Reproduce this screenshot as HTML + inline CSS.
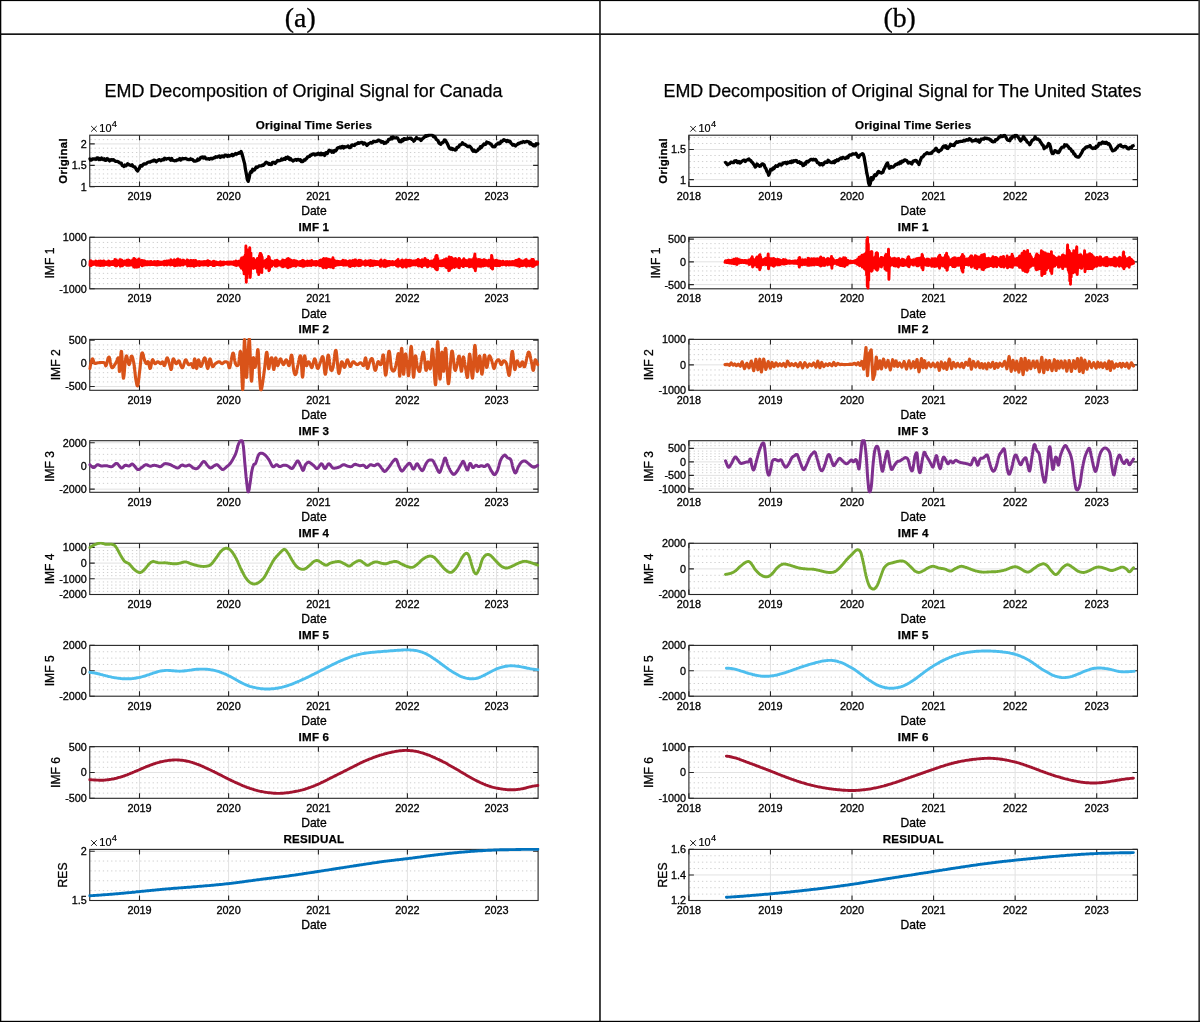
<!DOCTYPE html>
<html><head><meta charset="utf-8"><title>EMD Decomposition</title>
<style>
html,body{margin:0;padding:0;background:#fff;}
body{width:1200px;height:1022px;position:relative;overflow:hidden;font-family:'Liberation Sans', sans-serif;}
.frame{position:absolute;background:#000;}
.hdr{position:absolute;top:1px;height:33px;line-height:33px;text-align:center;font-family:"Liberation Serif",serif;font-size:27px;color:#000;}
</style></head><body>
<svg width="1200" height="1022" viewBox="0 0 1200 1022" style="position:absolute;left:0;top:0;font-family:'Liberation Sans', sans-serif">
<rect x="0" y="0" width="1200" height="1022" fill="#fff"/>
<path d="M90.35 182.51H538.1M90.35 178.22H538.1M90.35 173.93H538.1M90.35 169.64H538.1M90.35 161.06H538.1M90.35 156.78H538.1M90.35 152.49H538.1M90.35 148.2H538.1M90.35 139.62H538.1" stroke="#cfcfcf" stroke-width="1" stroke-dasharray="1.3 2.85" fill="none"/><path d="M89.75 165.35H538.1M89.75 143.91H538.1M139.5 135.2V186.5M228.6 135.2V186.5M318.4 135.2V186.5M407.4 135.2V186.5M496.5 135.2V186.5" stroke="#e2e2e2" stroke-width="1" fill="none"/>
<path d="M89.75 186.8h5M538.1 186.8h-5M89.75 165.35h5M538.1 165.35h-5M89.75 143.91h5M538.1 143.91h-5M139.5 135.2v5M139.5 186.5v-5M228.6 135.2v5M228.6 186.5v-5M318.4 135.2v5M318.4 186.5v-5M407.4 135.2v5M407.4 186.5v-5M496.5 135.2v5M496.5 186.5v-5" stroke="#262626" stroke-width="1.1" fill="none"/>
<rect x="89.75" y="135.2" width="448.35" height="51.3" fill="none" stroke="#262626" stroke-width="1.1"/>
<clipPath id="cp0_0"><rect x="88.25" y="133.7" width="451.35" height="54.3"/></clipPath>
<path d="M89.8 158.9L90.7 160.2L91.6 159.9L92.5 158.8L93.4 159.1L94.3 158.9L95.2 159.2L96.1 159.3L97.0 157.9L97.9 157.8L98.8 159.5L99.7 158.8L100.6 159.5L101.5 158.0L102.4 159.0L103.3 159.6L104.2 158.7L105.1 160.3L106.0 160.3L106.9 158.7L107.8 158.8L108.7 160.0L109.6 160.9L110.5 159.9L111.4 159.7L112.3 160.2L113.2 159.6L114.1 160.2L115.0 161.0L115.9 161.4L116.8 161.3L117.7 161.6L118.6 162.0L119.5 162.8L120.4 163.1L121.3 163.2L122.2 165.5L123.1 165.6L124.0 166.4L124.9 165.1L125.8 165.8L126.7 165.2L127.6 163.8L128.5 164.2L129.4 165.1L130.3 165.1L131.2 165.6L132.1 164.8L133.0 166.4L133.9 166.9L134.8 167.0L135.7 168.3L136.6 170.0L137.5 171.0L138.4 169.6L139.3 168.4L140.2 166.0L141.1 165.5L142.0 166.1L142.9 164.8L143.8 163.8L144.7 164.0L145.6 163.9L146.5 163.5L147.4 162.5L148.3 162.2L149.2 162.0L150.1 162.1L151.0 161.5L151.9 161.1L152.8 161.2L153.7 160.2L154.6 160.1L155.5 161.3L156.4 161.7L157.3 160.8L158.2 160.3L159.1 159.6L160.0 160.0L160.9 160.7L161.8 160.1L162.7 159.4L163.6 159.8L164.5 158.3L165.4 158.6L166.3 159.2L167.2 158.6L168.1 158.6L169.0 158.4L169.9 159.1L170.8 160.2L171.7 158.5L172.6 160.2L173.5 160.5L174.4 160.8L175.3 160.7L176.2 160.6L177.1 159.9L178.0 159.9L178.9 159.4L179.8 158.6L180.7 160.0L181.6 159.3L182.5 158.4L183.4 158.9L184.3 158.7L185.2 158.5L186.1 158.6L187.0 159.2L187.9 159.5L188.8 159.6L189.7 159.5L190.6 158.8L191.5 159.4L192.4 159.4L193.3 160.4L194.2 161.1L195.1 161.2L196.0 160.9L196.9 160.6L197.8 159.1L198.7 160.0L199.6 159.3L200.5 157.8L201.4 157.3L202.3 156.9L203.2 158.1L204.1 157.0L205.0 157.2L205.9 158.8L206.8 158.8L207.7 158.8L208.6 158.7L209.5 159.2L210.4 158.3L211.3 158.3L212.2 158.9L213.1 158.2L214.0 157.7L214.9 157.8L215.8 156.6L216.7 157.1L217.6 157.0L218.5 156.3L219.4 155.9L220.3 157.4L221.2 156.6L222.1 155.9L223.0 156.6L223.9 156.9L224.8 155.2L225.7 155.1L226.6 155.3L227.5 156.4L228.4 155.2L229.3 156.1L230.2 155.8L231.1 155.3L232.0 154.4L232.9 155.7L233.8 155.1L234.7 154.3L235.6 153.5L236.5 154.2L237.4 153.4L238.3 153.4L239.2 152.6L240.1 153.0L241.0 151.5L241.9 153.5L242.8 156.9L243.7 160.3L244.6 163.6L245.5 169.7L246.4 174.0L247.3 179.5L248.2 181.4L249.1 178.1L250.0 173.3L250.9 171.6L251.8 172.2L252.7 169.3L253.6 170.2L254.5 169.9L255.4 168.5L256.3 166.9L257.2 167.4L258.1 166.7L259.0 166.0L259.9 165.9L260.8 165.9L261.7 165.8L262.6 164.9L263.5 165.3L264.4 164.2L265.3 163.1L266.2 162.3L267.1 162.8L268.0 163.0L268.9 164.3L269.8 163.8L270.7 164.6L271.6 164.4L272.5 162.3L273.4 162.4L274.3 162.3L275.2 163.3L276.1 162.4L277.0 161.1L277.9 160.4L278.8 160.8L279.7 160.7L280.6 160.5L281.5 159.0L282.4 159.9L283.3 159.2L284.2 158.5L285.1 159.3L286.0 157.5L286.9 158.3L287.8 157.1L288.7 157.7L289.6 159.5L290.5 158.5L291.4 160.0L292.3 160.1L293.2 161.0L294.1 160.3L295.0 159.8L295.9 159.4L296.8 160.2L297.7 159.3L298.6 159.6L299.5 160.3L300.4 159.8L301.3 161.6L302.2 161.7L303.1 161.2L304.0 159.9L304.9 160.2L305.8 159.0L306.7 158.5L307.6 156.9L308.5 156.8L309.4 156.5L310.3 155.1L311.2 155.3L312.1 154.4L313.0 153.9L313.9 154.0L314.8 155.0L315.7 154.1L316.6 154.6L317.5 153.5L318.4 153.2L319.3 154.4L320.2 154.7L321.1 153.2L322.0 154.7L322.9 153.7L323.8 153.9L324.7 155.4L325.6 152.9L326.5 152.6L327.4 153.4L328.3 151.5L329.2 150.2L330.1 150.6L331.0 150.9L331.9 152.2L332.8 151.1L333.7 152.2L334.6 150.4L335.5 150.9L336.4 150.1L337.3 148.1L338.2 147.6L339.1 147.9L340.0 147.0L340.9 147.9L341.8 146.5L342.7 146.3L343.6 148.1L344.5 146.7L345.4 147.2L346.3 146.8L347.2 146.5L348.1 145.9L349.0 147.5L349.9 147.6L350.8 147.3L351.7 145.1L352.6 144.9L353.5 145.3L354.4 145.5L355.3 144.2L356.2 144.1L357.1 143.7L358.0 142.8L358.9 143.3L359.8 142.8L360.7 142.6L361.6 142.3L362.5 142.6L363.4 144.0L364.3 142.9L365.2 143.6L366.1 144.2L367.0 145.4L367.9 144.4L368.8 143.6L369.7 143.1L370.6 142.5L371.5 143.0L372.4 142.9L373.3 141.5L374.2 141.4L375.1 141.6L376.0 141.5L376.9 141.3L377.8 140.4L378.7 140.1L379.6 140.9L380.5 140.9L381.4 142.2L382.3 141.6L383.2 141.9L384.1 143.4L385.0 142.7L385.9 143.0L386.8 141.6L387.7 141.6L388.6 139.4L389.5 139.4L390.4 139.2L391.3 137.4L392.2 138.8L393.1 136.9L394.0 137.7L394.9 137.8L395.8 137.8L396.7 137.7L397.6 138.1L398.5 139.8L399.4 141.6L400.3 140.9L401.2 141.7L402.1 139.7L403.0 140.8L403.9 138.6L404.8 138.7L405.7 139.4L406.6 139.0L407.5 138.9L408.4 138.6L409.3 138.2L410.2 138.4L411.1 138.2L412.0 139.5L412.9 139.8L413.8 141.2L414.7 140.3L415.6 138.7L416.5 137.5L417.4 138.5L418.3 138.8L419.2 138.8L420.1 139.3L421.0 140.5L421.9 139.3L422.8 138.5L423.7 137.7L424.6 136.9L425.5 135.8L426.4 136.4L427.3 135.5L428.2 135.7L429.1 134.6L430.0 135.1L430.9 134.6L431.8 134.9L432.7 135.5L433.6 136.9L434.5 136.4L435.4 137.6L436.3 139.4L437.2 140.0L438.1 140.9L439.0 143.0L439.9 143.8L440.8 144.2L441.7 142.9L442.6 142.6L443.5 141.9L444.4 140.0L445.3 140.2L446.2 141.8L447.1 143.1L448.0 145.1L448.9 147.1L449.8 148.5L450.7 149.0L451.6 148.3L452.5 149.6L453.4 148.9L454.3 149.5L455.2 150.1L456.1 149.8L457.0 147.3L457.9 147.5L458.8 146.8L459.7 144.9L460.6 144.9L461.5 144.4L462.4 142.7L463.3 143.8L464.2 144.3L465.1 144.4L466.0 145.4L466.9 145.9L467.8 146.6L468.7 146.4L469.6 146.2L470.5 147.2L471.4 148.2L472.3 150.0L473.2 151.2L474.1 150.0L475.0 151.4L475.9 151.6L476.8 151.0L477.7 150.4L478.6 148.8L479.5 148.9L480.4 146.6L481.3 147.5L482.2 146.2L483.1 145.2L484.0 143.9L484.9 144.6L485.8 144.2L486.7 142.0L487.6 142.8L488.5 142.7L489.4 143.1L490.3 144.0L491.2 144.2L492.1 146.0L493.0 146.8L493.9 146.4L494.8 146.8L495.7 145.4L496.6 144.3L497.5 143.9L498.4 142.9L499.3 143.9L500.2 143.4L501.1 141.2L502.0 141.6L502.9 140.7L503.8 139.7L504.7 140.3L505.6 140.4L506.5 141.6L507.4 140.4L508.3 140.9L509.2 141.6L510.1 141.4L511.0 143.3L511.9 144.0L512.8 145.1L513.7 144.5L514.6 145.4L515.5 146.0L516.4 144.8L517.3 144.7L518.2 143.3L519.1 143.5L520.0 143.0L520.9 142.4L521.8 142.7L522.7 141.8L523.6 141.6L524.5 142.3L525.4 142.0L526.3 141.6L527.2 141.5L528.1 141.7L529.0 141.8L529.9 143.7L530.8 142.8L531.7 144.5L532.6 144.5L533.5 145.8L534.4 145.7L535.3 145.8L536.2 143.8L537.1 144.1L538.0 143.9" stroke="#000000" stroke-width="3.3" fill="none" stroke-linejoin="round" stroke-linecap="round" clip-path="url(#cp0_0)"/>
<path d="M90.35 283.65H538.1M90.35 278.5H538.1M90.35 273.35H538.1M90.35 268.2H538.1M90.35 257.9H538.1M90.35 252.75H538.1M90.35 247.6H538.1M90.35 242.45H538.1" stroke="#cfcfcf" stroke-width="1" stroke-dasharray="1.3 2.85" fill="none"/><path d="M89.75 263.05H538.1M139.5 237.3V288.8M228.6 237.3V288.8M318.4 237.3V288.8M407.4 237.3V288.8M496.5 237.3V288.8" stroke="#e2e2e2" stroke-width="1" fill="none"/>
<path d="M89.75 288.8h5M538.1 288.8h-5M89.75 263.05h5M538.1 263.05h-5M89.75 237.3h5M538.1 237.3h-5M139.5 237.3v5M139.5 288.8v-5M228.6 237.3v5M228.6 288.8v-5M318.4 237.3v5M318.4 288.8v-5M407.4 237.3v5M407.4 288.8v-5M496.5 237.3v5M496.5 288.8v-5" stroke="#262626" stroke-width="1.1" fill="none"/>
<rect x="89.75" y="237.3" width="448.35" height="51.5" fill="none" stroke="#262626" stroke-width="1.1"/>
<clipPath id="cp0_1"><rect x="88.25" y="235.8" width="451.35" height="54.5"/></clipPath>
<path d="M89.8 265.1L90.1 261.1L90.5 265.7L90.9 260.6L91.2 265.6L91.6 261.9L91.9 264.4L92.3 262.1L92.6 264.3L93.0 261.6L93.3 264.6L93.7 261.9L94.0 264.4L94.4 262.0L94.7 264.2L95.1 262.2L95.5 264.1L95.8 261.0L96.2 265.1L96.5 261.5L96.9 265.2L97.2 262.0L97.6 264.3L97.9 262.3L98.3 264.4L98.6 261.1L99.0 265.3L99.4 261.2L99.7 265.0L100.1 261.1L100.4 265.6L100.8 260.9L101.1 265.4L101.5 261.7L101.8 264.7L102.2 261.7L102.5 264.6L102.9 261.3L103.2 265.3L103.6 261.0L104.0 265.4L104.3 261.3L104.7 264.4L105.0 262.3L105.4 264.5L105.7 262.2L106.1 264.6L106.4 262.0L106.8 264.4L107.1 262.0L107.5 264.9L107.8 261.6L108.2 265.1L108.6 261.0L108.9 265.2L109.3 261.1L109.6 265.3L110.0 262.1L110.3 264.5L110.7 261.9L111.0 264.3L111.4 261.6L111.7 264.6L112.1 261.9L112.4 264.3L112.8 261.5L113.2 264.6L113.5 261.4L113.9 264.7L114.2 261.1L114.6 264.6L114.9 259.5L115.3 265.7L115.6 260.0L116.0 265.6L116.3 259.9L116.7 265.8L117.1 261.6L117.4 264.3L117.8 261.5L118.1 264.6L118.5 261.2L118.8 264.3L119.2 261.3L119.5 264.8L119.9 259.7L120.2 266.2L120.6 259.7L120.9 265.8L121.3 260.2L121.7 265.2L122.0 260.2L122.4 265.9L122.7 261.2L123.1 264.5L123.4 261.4L123.8 264.7L124.1 261.1L124.5 264.3L124.8 261.0L125.2 264.3L125.5 261.4L125.9 264.1L126.3 261.1L126.6 265.3L127.0 260.1L127.3 264.7L127.7 260.6L128.0 264.7L128.4 260.0L128.7 265.4L129.1 260.5L129.4 265.2L129.8 260.7L130.1 265.1L130.5 261.2L130.9 264.2L131.2 261.2L131.6 264.4L131.9 261.1L132.3 265.2L132.6 260.0L133.0 265.1L133.3 259.7L133.7 266.9L134.0 258.4L134.4 267.2L134.8 259.0L135.1 267.1L135.5 260.3L135.8 266.5L136.2 260.1L136.5 266.8L136.9 260.2L137.2 267.1L137.6 260.2L137.9 265.6L138.3 259.7L138.6 266.9L139.0 258.9L139.4 264.9L139.7 260.4L140.1 264.7L140.4 260.8L140.8 264.8L141.1 261.2L141.5 264.6L141.8 260.4L142.2 265.8L142.5 260.7L142.9 265.3L143.2 261.2L143.6 265.0L144.0 260.8L144.3 265.0L144.7 261.7L145.0 264.9L145.4 261.3L145.7 264.9L146.1 261.7L146.4 264.7L146.8 261.9L147.1 264.8L147.5 261.6L147.8 264.7L148.2 261.6L148.6 264.2L148.9 262.2L149.3 264.2L149.6 261.6L150.0 264.9L150.3 261.9L150.7 264.6L151.0 261.4L151.4 264.0L151.7 262.4L152.1 264.2L152.5 262.2L152.8 264.5L153.2 262.0L153.5 264.6L153.9 261.8L154.2 264.4L154.6 261.8L154.9 264.8L155.3 261.8L155.6 264.8L156.0 262.0L156.3 265.0L156.7 261.7L157.1 265.1L157.4 261.5L157.8 264.3L158.1 262.4L158.5 264.4L158.8 261.8L159.2 264.7L159.5 261.9L159.9 264.5L160.2 262.1L160.6 264.6L160.9 262.2L161.3 264.5L161.7 262.1L162.0 264.2L162.4 262.1L162.7 264.3L163.1 262.0L163.4 264.5L163.8 261.5L164.1 265.0L164.5 261.1L164.8 264.2L165.2 261.5L165.5 264.5L165.9 261.5L166.3 264.6L166.6 260.9L167.0 265.0L167.3 261.2L167.7 264.4L168.0 260.9L168.4 264.4L168.7 260.9L169.1 264.1L169.4 261.4L169.8 264.0L170.2 260.7L170.5 265.1L170.9 259.8L171.2 264.5L171.6 260.6L171.9 264.4L172.3 260.7L172.6 264.5L173.0 261.1L173.3 263.5L173.7 261.1L174.0 265.3L174.4 259.6L174.8 265.8L175.1 260.2L175.5 264.2L175.8 261.1L176.2 263.7L176.5 261.0L176.9 265.4L177.2 259.5L177.6 265.3L177.9 259.0L178.3 264.0L178.6 260.9L179.0 264.2L179.4 261.1L179.7 265.2L180.1 259.6L180.4 265.2L180.8 261.1L181.1 264.2L181.5 260.9L181.8 264.2L182.2 260.7L182.5 264.9L182.9 260.3L183.2 265.0L183.6 260.3L184.0 263.9L184.3 261.0L184.7 264.0L185.0 261.2L185.4 264.1L185.7 261.6L186.1 264.0L186.4 261.6L186.8 264.3L187.1 259.9L187.5 266.0L187.9 260.3L188.2 265.3L188.6 261.5L188.9 264.3L189.3 261.7L189.6 265.7L190.0 260.6L190.3 265.4L190.7 260.4L191.0 265.9L191.4 260.8L191.7 265.5L192.1 261.0L192.5 265.6L192.8 260.9L193.2 265.6L193.5 260.5L193.9 266.3L194.2 260.8L194.6 265.2L194.9 261.9L195.3 264.9L195.6 260.4L196.0 265.6L196.3 261.2L196.7 265.1L197.1 261.7L197.4 265.0L197.8 261.9L198.1 265.1L198.5 261.8L198.8 264.8L199.2 261.5L199.5 265.6L199.9 261.6L200.2 264.5L200.6 262.0L200.9 264.5L201.3 261.9L201.7 264.9L202.0 261.9L202.4 264.6L202.7 261.9L203.1 265.0L203.4 261.7L203.8 265.0L204.1 261.8L204.5 264.5L204.8 261.8L205.2 264.6L205.6 261.7L205.9 264.8L206.3 261.5L206.6 264.7L207.0 261.4L207.3 265.2L207.7 260.8L208.0 265.5L208.4 261.0L208.7 264.9L209.1 261.9L209.4 264.7L209.8 261.4L210.2 264.6L210.5 261.9L210.9 264.3L211.2 262.2L211.6 264.6L211.9 262.3L212.3 264.3L212.6 262.4L213.0 265.5L213.3 261.5L213.7 264.9L214.0 261.3L214.4 265.6L214.8 261.6L215.1 264.7L215.5 261.9L215.8 264.9L216.2 262.0L216.5 264.6L216.9 262.2L217.2 264.6L217.6 262.7L217.9 264.3L218.3 262.8L218.6 264.7L219.0 262.4L219.4 264.6L219.7 262.6L220.1 265.0L220.4 261.7L220.8 265.2L221.1 262.7L221.5 264.2L221.8 262.7L222.2 264.2L222.5 262.1L222.9 264.7L223.3 262.2L223.6 264.8L224.0 261.9L224.3 264.1L224.7 262.6L225.0 263.9L225.4 262.6L225.7 263.9L226.1 262.6L226.4 263.9L226.8 262.2L227.1 264.1L227.5 262.1L227.9 264.3L228.2 262.2L228.6 264.1L228.9 262.2L229.3 264.3L229.6 262.1L230.0 264.1L230.3 262.1L230.7 263.9L231.0 262.1L231.4 264.1L231.7 262.3L232.1 263.9L232.5 262.3L232.8 264.1L233.2 262.2L233.5 264.5L233.9 261.8L234.2 264.7L234.6 262.1L234.9 264.0L235.3 262.1L235.6 265.3L236.0 260.9L236.3 265.5L236.7 261.8L237.1 264.5L237.4 261.8L237.8 264.5L238.1 261.4L238.5 265.0L238.8 261.3L239.2 264.9L239.5 261.6L239.9 265.0L240.2 261.1L240.6 266.8L241.0 259.4L241.3 268.3L241.7 257.9L242.0 266.5L242.4 260.0L242.7 268.1L243.1 259.3L243.4 270.4L243.8 256.9L244.1 273.9L244.5 257.3L244.8 273.9L245.2 255.1L245.6 272.9L245.9 245.9L246.3 282.3L246.6 250.4L247.0 278.0L247.3 249.6L247.7 273.5L248.0 253.0L248.4 271.1L248.7 253.3L249.1 273.2L249.4 253.3L249.8 247.8L250.2 277.5L250.5 272.3L250.9 253.1L251.2 267.9L251.6 259.6L251.9 267.6L252.3 260.3L252.6 267.9L253.0 259.5L253.3 268.5L253.7 258.5L254.0 267.6L254.4 260.9L254.8 267.7L255.1 260.5L255.5 267.6L255.8 260.4L256.2 268.1L256.5 260.3L256.9 268.1L257.2 258.8L257.6 272.3L257.9 258.7L258.3 258.3L258.7 274.6L259.0 270.2L259.4 255.7L259.7 272.3L260.1 253.5L260.4 268.8L260.8 253.5L261.1 270.8L261.5 255.0L261.8 272.6L262.2 257.3L262.5 266.9L262.9 261.3L263.3 266.5L263.6 261.5L264.0 266.0L264.3 261.5L264.7 266.0L265.0 260.8L265.4 265.6L265.7 260.9L266.1 268.1L266.4 260.2L266.8 267.5L267.1 259.1L267.5 266.8L267.9 260.3L268.2 267.2L268.6 256.4L268.9 270.8L269.3 257.4L269.6 269.7L270.0 259.9L270.3 266.5L270.7 260.7L271.0 266.5L271.4 261.1L271.7 266.2L272.1 261.2L272.5 264.6L272.8 261.9L273.2 264.9L273.5 262.1L273.9 264.9L274.2 261.9L274.6 264.8L274.9 260.7L275.3 266.1L275.6 260.8L276.0 266.2L276.4 260.7L276.7 266.1L277.1 260.2L277.4 265.4L277.8 261.0L278.1 265.4L278.5 261.1L278.8 264.8L279.2 262.1L279.5 264.6L279.9 262.2L280.2 265.0L280.6 261.8L281.0 264.9L281.3 261.5L281.7 266.3L282.0 260.9L282.4 266.0L282.7 260.0L283.1 266.8L283.4 261.2L283.8 265.1L284.1 261.1L284.5 265.2L284.8 260.4L285.2 266.1L285.6 260.4L285.9 266.0L286.3 260.2L286.6 266.4L287.0 259.2L287.3 267.3L287.7 258.8L288.0 267.8L288.4 258.5L288.7 267.2L289.1 259.4L289.4 266.9L289.8 259.5L290.2 266.7L290.5 260.0L290.9 265.7L291.2 260.1L291.6 266.2L291.9 260.9L292.3 265.3L292.6 261.2L293.0 265.4L293.3 260.7L293.7 265.7L294.1 260.4L294.4 265.6L294.8 261.0L295.1 265.7L295.5 261.0L295.8 266.2L296.2 261.2L296.5 264.9L296.9 261.2L297.2 265.1L297.6 261.8L297.9 265.1L298.3 261.9L298.7 264.7L299.0 261.9L299.4 265.1L299.7 262.2L300.1 265.5L300.4 261.4L300.8 265.6L301.1 261.7L301.5 265.9L301.8 261.6L302.2 265.7L302.5 260.4L302.9 266.4L303.3 260.8L303.6 266.4L304.0 261.0L304.3 266.1L304.7 261.5L305.0 265.2L305.4 262.0L305.7 265.1L306.1 262.0L306.4 265.2L306.8 261.5L307.1 265.5L307.5 261.0L307.9 265.4L308.2 261.4L308.6 265.0L308.9 261.4L309.3 265.1L309.6 261.3L310.0 265.4L310.3 261.5L310.7 265.0L311.0 261.0L311.4 265.5L311.8 260.5L312.1 264.4L312.5 261.9L312.8 264.5L313.2 262.1L313.5 264.7L313.9 261.6L314.2 264.6L314.6 261.6L314.9 264.4L315.3 262.0L315.6 265.2L316.0 261.4L316.4 265.2L316.7 261.5L317.1 264.5L317.4 261.8L317.8 264.5L318.1 262.0L318.5 264.3L318.8 261.9L319.2 265.4L319.5 260.7L319.9 265.8L320.2 260.2L320.6 265.6L321.0 259.9L321.3 265.6L321.7 261.4L322.0 264.8L322.4 261.2L322.7 267.2L323.1 259.3L323.4 267.9L323.8 258.5L324.1 267.0L324.5 260.7L324.8 266.2L325.2 259.8L325.6 266.7L325.9 258.6L326.3 267.9L326.6 258.8L327.0 267.0L327.3 260.8L327.7 265.6L328.0 261.2L328.4 266.5L328.7 259.1L329.1 266.2L329.5 259.9L329.8 266.6L330.2 260.1L330.5 267.1L330.9 259.6L331.2 266.8L331.6 261.5L331.9 264.9L332.3 260.6L332.6 266.4L333.0 257.8L333.3 267.9L333.7 260.0L334.1 265.6L334.4 261.1L334.8 264.5L335.1 260.9L335.5 265.5L335.8 261.2L336.2 265.0L336.5 261.6L336.9 265.0L337.2 261.3L337.6 264.6L337.9 261.4L338.3 264.8L338.7 261.5L339.0 264.8L339.4 261.6L339.7 264.3L340.1 261.8L340.4 264.4L340.8 261.7L341.1 264.5L341.5 261.4L341.8 264.6L342.2 261.6L342.5 264.5L342.9 260.3L343.3 265.2L343.6 260.9L344.0 265.1L344.3 260.7L344.7 264.4L345.0 261.5L345.4 264.8L345.7 260.6L346.1 265.1L346.4 261.8L346.8 264.2L347.2 261.8L347.5 264.3L347.9 261.8L348.2 264.2L348.6 261.7L348.9 265.8L349.3 260.9L349.6 266.3L350.0 260.8L350.3 266.6L350.7 261.5L351.0 264.9L351.4 261.6L351.8 264.9L352.1 260.9L352.5 265.6L352.8 260.5L353.2 265.3L353.5 261.2L353.9 265.0L354.2 260.9L354.6 266.0L354.9 259.9L355.3 265.6L355.6 259.9L356.0 264.2L356.4 261.9L356.7 264.1L357.1 261.1L357.4 265.2L357.8 261.2L358.1 265.0L358.5 260.7L358.8 265.8L359.2 260.3L359.5 265.6L359.9 260.5L360.2 265.6L360.6 260.6L361.0 265.1L361.3 260.8L361.7 264.3L362.0 261.7L362.4 264.4L362.7 262.0L363.1 264.0L363.4 261.9L363.8 264.3L364.1 261.8L364.5 264.4L364.9 261.3L365.2 265.4L365.6 260.8L365.9 264.7L366.3 261.4L366.6 264.7L367.0 261.7L367.3 264.1L367.7 261.7L368.0 264.1L368.4 261.0L368.7 264.8L369.1 261.0L369.5 265.1L369.8 260.7L370.2 265.9L370.5 260.5L370.9 265.3L371.2 260.8L371.6 265.1L371.9 261.0L372.3 264.0L372.6 261.9L373.0 265.5L373.3 261.3L373.7 264.8L374.1 261.1L374.4 264.8L374.8 261.2L375.1 264.5L375.5 261.4L375.8 264.8L376.2 261.4L376.5 264.6L376.9 261.6L377.2 264.6L377.6 261.7L377.9 264.6L378.3 261.7L378.7 264.5L379.0 262.1L379.4 264.7L379.7 262.2L380.1 266.2L380.4 260.7L380.8 266.3L381.1 260.0L381.5 264.9L381.8 262.0L382.2 264.6L382.6 261.6L382.9 265.2L383.3 261.7L383.6 266.2L384.0 260.9L384.3 266.3L384.7 260.3L385.0 266.3L385.4 260.7L385.7 266.5L386.1 261.3L386.4 265.9L386.8 261.2L387.2 265.9L387.5 262.0L387.9 265.1L388.2 261.7L388.6 264.9L388.9 261.4L389.3 265.4L389.6 261.5L390.0 264.6L390.3 262.1L390.7 264.6L391.0 262.2L391.4 264.5L391.8 262.1L392.1 264.8L392.5 261.5L392.8 264.8L393.2 262.0L393.5 264.9L393.9 262.0L394.2 264.6L394.6 262.3L394.9 264.6L395.3 262.0L395.6 264.9L396.0 261.2L396.4 265.7L396.7 261.5L397.1 265.9L397.4 260.3L397.8 266.4L398.1 259.5L398.5 266.2L398.8 261.1L399.2 265.1L399.5 261.9L399.9 265.1L400.3 262.1L400.6 265.4L401.0 261.5L401.3 265.9L401.7 260.1L402.0 266.7L402.4 259.9L402.7 267.1L403.1 261.1L403.4 266.5L403.8 260.9L404.1 265.7L404.5 261.1L404.9 265.9L405.2 260.5L405.6 266.3L405.9 260.0L406.3 267.1L406.6 260.2L407.0 265.8L407.3 261.2L407.7 265.4L408.0 260.7L408.4 265.5L408.7 260.9L409.1 265.9L409.5 260.3L409.8 266.0L410.2 260.7L410.5 265.1L410.9 260.6L411.2 265.4L411.6 260.8L411.9 265.0L412.3 261.1L412.6 264.9L413.0 261.1L413.3 264.8L413.7 261.0L414.1 264.7L414.4 261.1L414.8 264.4L415.1 261.1L415.5 265.0L415.8 260.7L416.2 264.7L416.5 260.6L416.9 264.7L417.2 260.8L417.6 264.4L418.0 259.5L418.3 266.0L418.7 259.8L419.0 265.5L419.4 260.6L419.7 265.2L420.1 260.7L420.4 265.8L420.8 260.4L421.1 265.7L421.5 260.1L421.8 266.8L422.2 259.6L422.6 265.4L422.9 260.2L423.3 265.6L423.6 259.9L424.0 265.1L424.3 259.8L424.7 265.3L425.0 258.5L425.4 265.3L425.7 259.5L426.1 265.0L426.4 260.9L426.8 265.4L427.2 260.4L427.5 266.9L427.9 260.3L428.2 266.5L428.6 261.5L428.9 265.6L429.3 261.5L429.6 265.2L430.0 261.6L430.3 265.2L430.7 262.1L431.0 265.6L431.4 260.9L431.8 266.2L432.1 261.1L432.5 265.9L432.8 261.0L433.2 266.5L433.5 260.9L433.9 266.7L434.2 259.8L434.6 266.6L434.9 260.6L435.3 268.4L435.7 256.5L436.0 269.2L436.4 255.5L436.7 269.8L437.1 255.7L437.4 269.7L437.8 258.7L438.1 265.3L438.5 261.5L438.8 265.5L439.2 261.3L439.5 265.5L439.9 261.3L440.3 265.0L440.6 261.0L441.0 265.8L441.3 261.0L441.7 265.5L442.0 260.7L442.4 265.7L442.7 260.7L443.1 265.5L443.4 260.6L443.8 265.4L444.1 259.8L444.5 265.8L444.9 260.6L445.2 265.7L445.6 259.4L445.9 267.1L446.3 258.7L446.6 267.8L447.0 259.9L447.3 265.2L447.7 259.9L448.0 266.2L448.4 259.2L448.7 270.8L449.1 257.0L449.5 270.4L449.8 259.1L450.2 266.5L450.5 259.6L450.9 267.2L451.2 257.5L451.6 268.3L451.9 258.0L452.3 265.8L452.6 258.8L453.0 265.5L453.4 259.6L453.7 265.5L454.1 259.6L454.4 267.5L454.8 258.9L455.1 266.7L455.5 258.4L455.8 266.6L456.2 259.4L456.5 266.2L456.9 259.9L457.2 265.5L457.6 260.0L458.0 265.6L458.3 260.1L458.7 267.6L459.0 258.5L459.4 267.7L459.7 259.2L460.1 265.3L460.4 261.1L460.8 265.4L461.1 260.7L461.5 265.6L461.8 260.9L462.2 265.3L462.6 261.0L462.9 266.5L463.3 259.7L463.6 266.5L464.0 258.7L464.3 265.0L464.7 261.3L465.0 265.5L465.4 261.4L465.7 265.1L466.1 260.5L466.4 265.7L466.8 261.0L467.2 264.9L467.5 261.2L467.9 265.1L468.2 261.3L468.6 266.1L468.9 259.6L469.3 266.8L469.6 259.8L470.0 266.6L470.3 259.9L470.7 266.2L471.1 259.8L471.4 266.1L471.8 260.7L472.1 266.3L472.5 260.0L472.8 266.5L473.2 259.5L473.5 267.0L473.9 258.0L474.2 268.1L474.6 255.9L474.9 253.9L475.3 270.8L475.7 267.0L476.0 258.8L476.4 266.5L476.7 259.7L477.1 265.6L477.4 260.8L477.8 266.0L478.1 260.4L478.5 265.8L478.8 259.5L479.2 266.1L479.5 259.9L479.9 266.3L480.3 259.8L480.6 266.4L481.0 260.7L481.3 266.3L481.7 260.6L482.0 265.1L482.4 260.7L482.7 264.9L483.1 260.2L483.4 266.0L483.8 259.8L484.1 265.4L484.5 259.8L484.9 265.6L485.2 261.1L485.6 265.0L485.9 260.5L486.3 265.3L486.6 260.6L487.0 265.3L487.3 261.2L487.7 264.9L488.0 261.3L488.4 266.1L488.8 260.3L489.1 265.7L489.5 260.3L489.8 265.9L490.2 260.7L490.5 264.8L490.9 260.7L491.2 267.9L491.6 255.4L491.9 256.4L492.3 268.8L492.6 269.0L493.0 259.8L493.4 265.8L493.7 261.0L494.1 265.1L494.4 261.2L494.8 265.3L495.1 260.8L495.5 265.5L495.8 260.9L496.2 265.6L496.5 260.3L496.9 265.7L497.2 260.6L497.6 265.6L498.0 261.2L498.3 265.2L498.7 261.3L499.0 265.2L499.4 261.2L499.7 265.7L500.1 261.2L500.4 265.1L500.8 262.2L501.1 264.3L501.5 262.3L501.8 264.1L502.2 261.4L502.6 264.8L502.9 261.2L503.3 264.2L503.6 262.2L504.0 264.4L504.3 262.3L504.7 264.1L505.0 262.1L505.4 264.9L505.7 261.7L506.1 265.2L506.5 261.6L506.8 264.5L507.2 261.8L507.5 264.6L507.9 261.8L508.2 264.6L508.6 261.9L508.9 265.1L509.3 261.8L509.6 264.9L510.0 261.8L510.3 264.5L510.7 262.0L511.1 264.7L511.4 261.7L511.8 264.9L512.1 261.7L512.5 264.8L512.8 261.5L513.2 264.8L513.5 261.8L513.9 264.8L514.2 261.8L514.6 265.0L514.9 261.2L515.3 265.2L515.7 260.5L516.0 264.6L516.4 261.4L516.7 264.7L517.1 260.3L517.4 265.9L517.8 260.0L518.1 264.4L518.5 261.9L518.8 264.7L519.2 259.1L519.5 266.5L519.9 261.5L520.3 264.5L520.6 261.3L521.0 265.7L521.3 260.7L521.7 265.6L522.0 260.9L522.4 265.3L522.7 261.2L523.1 265.5L523.4 260.9L523.8 264.8L524.2 260.7L524.5 264.8L524.9 261.2L525.2 265.1L525.6 259.6L525.9 266.0L526.3 259.5L526.6 266.2L527.0 261.0L527.3 265.3L527.7 261.2L528.0 265.1L528.4 261.3L528.8 265.4L529.1 261.1L529.5 265.8L529.8 261.1L530.2 265.3L530.5 261.1L530.9 265.2L531.2 260.6L531.6 265.5L531.9 259.5L532.3 266.4L532.6 259.5L533.0 266.5L533.4 259.5L533.7 266.2L534.1 261.4L534.4 265.3L534.8 261.6L535.1 265.1L535.5 262.2L535.8 264.5L536.2 262.0L536.5 264.4L536.9 261.9L537.2 264.4L537.6 262.0" stroke="#ff0000" stroke-width="2.9" fill="none" stroke-linejoin="round" stroke-linecap="round" clip-path="url(#cp0_1)"/>
<path d="M90.35 381.92H538.1M90.35 377.3H538.1M90.35 372.67H538.1M90.35 368.04H538.1M90.35 358.79H538.1M90.35 354.16H538.1M90.35 349.53H538.1M90.35 344.91H538.1" stroke="#cfcfcf" stroke-width="1" stroke-dasharray="1.3 2.85" fill="none"/><path d="M89.75 386.55H538.1M89.75 363.42H538.1M139.5 339.4V390.3M228.6 339.4V390.3M318.4 339.4V390.3M407.4 339.4V390.3M496.5 339.4V390.3" stroke="#e2e2e2" stroke-width="1" fill="none"/>
<path d="M89.75 386.55h5M538.1 386.55h-5M89.75 363.42h5M538.1 363.42h-5M89.75 340.28h5M538.1 340.28h-5M139.5 339.4v5M139.5 390.3v-5M228.6 339.4v5M228.6 390.3v-5M318.4 339.4v5M318.4 390.3v-5M407.4 339.4v5M407.4 390.3v-5M496.5 339.4v5M496.5 390.3v-5" stroke="#262626" stroke-width="1.1" fill="none"/>
<rect x="89.75" y="339.4" width="448.35" height="50.9" fill="none" stroke="#262626" stroke-width="1.1"/>
<clipPath id="cp0_2"><rect x="88.25" y="337.9" width="451.35" height="53.9"/></clipPath>
<path d="M89.8 368.5L89.8 368.2L89.9 368.0L90.0 367.6L90.1 367.3L90.2 366.8L90.2 366.4L90.3 365.9L90.4 365.5L90.6 365.0L90.7 364.4L90.8 363.9L90.9 363.4L91.0 362.9L91.1 362.4L91.3 361.9L91.4 361.4L91.5 360.9L91.6 360.5L91.7 360.1L91.9 359.8L92.0 359.5L92.1 359.2L92.2 359.0L92.3 358.9L92.5 358.8L92.7 358.9L92.8 359.1L93.0 359.5L93.2 360.0L93.4 360.5L93.5 361.1L93.7 361.7L93.9 362.2L94.1 362.7L94.3 363.0L94.6 363.3L94.9 363.4L95.3 363.5L95.7 363.4L96.1 363.3L96.5 363.2L96.9 363.0L97.4 362.9L97.9 362.8L98.4 362.7L98.8 362.7L99.2 362.7L99.6 362.6L100.0 362.6L100.5 362.6L100.9 362.5L101.4 362.5L101.9 362.5L102.3 362.5L102.7 362.5L103.2 362.5L103.5 362.6L103.9 362.6L104.2 362.7L104.6 363.0L104.9 363.5L105.1 364.1L105.3 364.7L105.5 365.2L105.6 365.6L105.8 365.8L106.1 365.6L106.2 365.4L106.3 365.2L106.4 364.8L106.5 364.5L106.7 364.0L106.8 363.5L106.9 363.0L107.1 362.5L107.2 361.9L107.3 361.4L107.5 360.8L107.6 360.2L107.7 359.7L107.9 359.2L108.0 358.7L108.2 358.2L108.3 357.8L108.4 357.5L108.6 357.3L108.7 357.1L108.8 357.0L109.0 357.0L109.1 357.0L109.2 357.2L109.3 357.4L109.4 357.6L109.5 357.9L109.6 358.3L109.7 358.7L109.8 359.1L109.9 359.6L110.0 360.1L110.1 360.6L110.2 361.1L110.3 361.7L110.4 362.2L110.5 362.8L110.6 363.3L110.7 363.9L110.8 364.4L110.9 364.9L111.0 365.3L111.1 365.8L111.2 366.2L111.4 366.6L111.5 366.9L111.6 367.1L111.7 367.4L111.8 367.5L112.1 367.7L112.3 367.7L112.6 367.6L112.9 367.4L113.2 367.1L113.5 366.8L113.8 366.4L114.0 365.9L114.3 365.5L114.6 365.0L114.9 364.5L115.2 364.1L115.4 363.7L115.7 363.3L115.9 362.9L116.1 362.5L116.3 362.0L116.6 361.4L116.8 360.9L117.0 360.3L117.2 359.8L117.4 359.2L117.6 358.8L117.8 358.4L117.9 358.0L118.1 357.8L118.3 357.7L118.4 357.7L118.5 357.9L118.6 358.1L118.7 358.3L118.7 358.6L118.7 358.9L118.8 359.3L118.8 359.7L118.9 360.1L118.9 360.6L118.9 361.1L118.9 361.7L119.0 362.2L119.0 362.8L119.0 363.4L119.0 364.0L119.1 364.6L119.1 365.2L119.1 365.9L119.1 366.4L119.1 367.0L119.1 367.6L119.2 368.1L119.2 368.7L119.2 369.1L119.2 369.6L119.2 370.0L119.3 370.4L119.3 370.7L119.3 370.9L119.4 371.2L119.4 371.3L119.4 371.4L119.5 371.4L119.5 371.3L119.5 371.2L119.6 371.1L119.6 370.9L119.6 370.7L119.7 370.5L119.7 370.2L119.7 369.9L119.8 369.5L119.8 369.1L119.8 368.7L119.9 368.3L119.9 367.8L119.9 367.3L120.0 366.8L120.0 366.3L120.0 365.7L120.1 365.2L120.1 364.6L120.2 364.0L120.2 363.4L120.2 362.9L120.3 362.2L120.3 361.6L120.4 361.0L120.4 360.4L120.4 359.8L120.5 359.2L120.5 358.6L120.6 358.1L120.6 357.5L120.6 356.9L120.7 356.4L120.7 355.9L120.8 355.3L120.8 354.9L120.9 354.4L120.9 353.9L120.9 353.5L121.0 353.1L121.0 352.8L121.1 352.4L121.1 352.1L121.1 351.9L121.2 351.7L121.2 351.5L121.3 351.3L121.3 351.2L121.3 351.2L121.4 351.2L121.4 351.2L121.4 351.3L121.5 351.4L121.5 351.5L121.5 351.6L121.6 351.8L121.6 352.0L121.6 352.3L121.6 352.5L121.7 352.8L121.7 353.1L121.7 353.4L121.8 353.7L121.8 354.1L121.8 354.5L121.8 354.9L121.9 355.3L121.9 355.7L121.9 356.2L122.0 356.6L122.0 357.1L122.0 357.6L122.0 358.1L122.1 358.6L122.1 359.1L122.1 359.7L122.2 360.2L122.2 360.7L122.2 361.3L122.2 361.8L122.3 362.4L122.3 363.0L122.3 363.5L122.4 364.1L122.4 364.7L122.4 365.2L122.4 365.8L122.5 366.4L122.5 366.9L122.5 367.5L122.6 368.1L122.6 368.6L122.6 369.1L122.6 369.7L122.7 370.2L122.7 370.7L122.7 371.2L122.8 371.7L122.8 372.2L122.8 372.7L122.8 373.2L122.9 373.6L122.9 374.0L122.9 374.4L123.0 374.8L123.0 375.2L123.0 375.6L123.1 375.9L123.1 376.2L123.1 376.5L123.1 376.8L123.2 377.1L123.2 377.3L123.2 377.5L123.3 377.7L123.3 377.8L123.3 378.0L123.3 378.0L123.4 378.1L123.4 378.2L123.5 378.2L123.5 378.1L123.6 378.0L123.6 377.9L123.7 377.7L123.7 377.4L123.8 377.2L123.8 376.8L123.9 376.5L123.9 376.1L124.0 375.7L124.0 375.3L124.1 374.8L124.1 374.3L124.2 373.8L124.2 373.3L124.3 372.8L124.3 372.2L124.4 371.7L124.4 371.1L124.5 370.5L124.5 369.9L124.5 369.3L124.6 368.8L124.6 368.2L124.7 367.6L124.7 367.1L124.8 366.5L124.8 366.0L124.9 365.4L124.9 364.9L125.0 364.4L125.0 364.0L125.0 363.5L125.1 363.1L125.1 362.7L125.2 362.4L125.2 362.0L125.3 361.8L125.4 361.0L125.5 360.3L125.6 359.6L125.6 358.9L125.7 358.3L125.8 357.8L125.9 357.3L126.0 356.9L126.1 356.6L126.1 356.3L126.2 356.1L126.3 356.0L126.5 355.9L126.6 356.0L126.7 356.1L126.8 356.3L126.9 356.6L127.0 356.9L127.1 357.3L127.2 357.8L127.3 358.3L127.4 358.8L127.5 359.4L127.6 359.9L127.8 360.5L127.9 361.1L128.0 361.6L128.1 362.2L128.3 362.7L128.4 363.1L128.5 363.6L128.6 363.9L128.7 364.2L128.9 364.4L129.0 364.6L129.1 364.6L129.2 364.6L129.3 364.4L129.4 364.2L129.5 363.9L129.7 363.5L129.8 363.1L129.9 362.6L130.0 362.1L130.1 361.5L130.2 361.0L130.3 360.4L130.5 359.8L130.6 359.2L130.7 358.7L130.8 358.1L130.9 357.6L131.0 357.2L131.1 356.8L131.2 356.5L131.4 356.2L131.5 356.1L131.6 356.0L131.7 356.0L131.8 356.1L131.9 356.2L132.1 356.4L132.2 356.6L132.3 356.9L132.4 357.2L132.5 357.5L132.6 357.9L132.8 358.3L132.9 358.8L133.0 359.3L133.1 359.8L133.2 360.3L133.3 360.8L133.4 361.4L133.6 361.9L133.7 362.5L133.8 363.1L133.9 363.7L133.9 364.0L134.0 364.3L134.0 364.6L134.1 365.0L134.1 365.4L134.2 365.8L134.3 366.1L134.3 366.5L134.4 367.0L134.4 367.4L134.5 367.8L134.5 368.2L134.6 368.7L134.6 369.1L134.7 369.6L134.7 370.0L134.8 370.5L134.8 370.9L134.9 371.4L134.9 371.9L135.0 372.3L135.0 372.8L135.1 373.2L135.1 373.7L135.2 374.1L135.2 374.5L135.3 375.0L135.3 375.4L135.3 375.8L135.4 376.2L135.4 376.6L135.5 377.0L135.5 377.4L135.6 377.7L135.6 378.1L135.7 378.4L135.7 378.7L135.8 379.0L135.9 379.7L136.0 380.3L136.1 381.0L136.2 381.6L136.4 382.3L136.5 382.9L136.6 383.4L136.7 384.0L136.8 384.5L136.9 384.9L137.0 385.2L137.1 385.5L137.3 385.8L137.4 385.9L137.5 385.9L137.6 385.9L137.7 385.7L137.8 385.6L137.8 385.4L137.9 385.3L137.9 385.1L138.0 384.8L138.0 384.6L138.1 384.3L138.1 384.0L138.2 383.7L138.2 383.4L138.3 383.0L138.3 382.6L138.4 382.2L138.4 381.8L138.5 381.4L138.5 381.0L138.6 380.5L138.6 380.1L138.7 379.6L138.8 379.1L138.8 378.7L138.9 378.2L138.9 377.7L139.0 377.2L139.0 376.7L139.1 376.2L139.1 375.7L139.2 375.2L139.2 374.7L139.3 374.2L139.3 373.7L139.4 373.2L139.5 372.7L139.5 372.3L139.6 371.8L139.6 371.3L139.7 371.0L139.7 370.6L139.8 370.2L139.8 369.8L139.9 369.3L139.9 368.9L140.0 368.5L140.0 368.0L140.1 367.5L140.1 367.1L140.2 366.6L140.2 366.1L140.3 365.6L140.3 365.1L140.4 364.6L140.4 364.1L140.5 363.6L140.5 363.1L140.6 362.6L140.6 362.1L140.7 361.6L140.7 361.2L140.8 360.7L140.8 360.2L140.9 359.7L140.9 359.3L141.0 358.8L141.0 358.4L141.1 357.9L141.1 357.5L141.2 357.1L141.2 356.7L141.3 356.3L141.3 355.9L141.4 355.6L141.5 355.2L141.5 354.9L141.6 354.6L141.6 354.3L141.7 354.1L141.7 353.8L141.8 353.6L141.8 353.4L141.9 353.3L141.9 353.1L142.1 352.9L142.2 352.8L142.4 352.9L142.5 353.1L142.7 353.4L142.8 353.8L143.0 354.3L143.1 354.8L143.3 355.4L143.4 356.0L143.6 356.7L143.7 357.3L143.9 357.9L144.0 358.5L144.2 359.0L144.3 359.5L144.4 359.8L144.6 360.4L144.8 360.9L145.0 361.4L145.2 361.9L145.4 362.3L145.6 362.7L145.8 363.0L146.0 363.3L146.1 363.5L146.3 363.7L146.7 363.6L147.0 363.1L147.3 362.5L147.6 362.0L147.9 361.6L148.3 361.8L148.4 361.9L148.5 362.2L148.6 362.6L148.7 363.1L148.8 363.6L148.9 364.1L149.0 364.7L149.1 365.2L149.2 365.8L149.4 366.4L149.5 366.9L149.6 367.3L149.7 367.8L149.8 368.1L149.9 368.3L150.0 368.5L150.2 368.5L150.3 368.4L150.4 368.2L150.5 368.0L150.6 367.7L150.7 367.3L150.8 366.9L150.9 366.4L151.0 365.9L151.1 365.4L151.2 364.9L151.3 364.3L151.4 363.8L151.5 363.2L151.6 362.7L151.7 362.2L151.8 361.7L151.9 361.3L152.0 360.9L152.1 360.5L152.3 360.2L152.4 360.0L152.5 359.8L152.7 359.7L152.9 359.9L153.1 360.1L153.3 360.6L153.6 361.1L153.8 361.6L154.0 362.2L154.3 362.7L154.5 363.2L154.7 363.5L155.0 363.7L155.3 363.7L155.7 363.5L156.0 363.2L156.4 362.8L156.7 362.4L157.1 362.1L157.5 361.8L157.8 361.8L158.2 361.8L158.6 362.1L159.0 362.4L159.3 362.7L159.7 363.1L160.1 363.4L160.4 363.6L160.7 363.7L161.1 363.5L161.4 363.1L161.7 362.6L162.0 362.1L162.3 361.8L162.6 361.8L162.8 362.0L163.0 362.3L163.2 362.8L163.4 363.4L163.6 364.0L163.7 364.6L163.9 365.1L164.1 365.5L164.3 365.6L164.5 365.6L164.7 365.4L164.8 365.2L164.9 364.9L165.0 364.6L165.1 364.2L165.3 363.7L165.4 363.2L165.5 362.7L165.6 362.2L165.8 361.6L165.9 361.1L166.0 360.6L166.2 360.1L166.3 359.6L166.4 359.2L166.5 358.8L166.7 358.5L166.8 358.2L166.9 358.0L167.0 357.9L167.2 357.9L167.4 358.0L167.5 358.2L167.7 358.5L167.8 358.8L168.0 359.3L168.1 359.7L168.3 360.2L168.5 360.7L168.6 361.3L168.8 361.8L168.9 362.3L169.1 362.8L169.2 363.3L169.3 363.7L169.5 364.1L169.6 364.6L169.7 365.1L169.9 365.6L170.0 366.2L170.1 366.8L170.3 367.3L170.4 367.8L170.5 368.3L170.6 368.7L170.8 369.1L170.9 369.3L171.0 369.5L171.1 369.5L171.3 369.4L171.3 369.3L171.4 369.1L171.5 368.8L171.5 368.5L171.6 368.2L171.7 367.8L171.7 367.3L171.8 366.9L171.9 366.4L172.0 365.9L172.0 365.3L172.1 364.8L172.2 364.2L172.2 363.7L172.3 363.1L172.4 362.6L172.4 362.0L172.5 361.5L172.6 361.0L172.7 360.6L172.7 360.2L172.8 359.8L172.9 359.5L173.0 359.2L173.1 359.0L173.2 358.9L173.4 358.8L173.6 358.8L173.8 359.1L174.0 359.5L174.2 360.0L174.4 360.5L174.7 361.1L174.9 361.7L175.1 362.3L175.4 362.8L175.6 363.2L175.8 363.5L176.0 363.7L176.3 363.7L176.6 363.5L176.9 363.1L177.2 362.7L177.5 362.2L177.8 361.8L178.1 361.3L178.4 361.0L178.7 360.8L178.9 360.8L179.1 360.9L179.3 361.2L179.5 361.5L179.6 361.9L179.8 362.4L179.9 362.9L180.1 363.4L180.2 363.9L180.4 364.4L180.5 364.9L180.7 365.3L180.8 365.6L181.1 366.2L181.4 366.8L181.7 367.3L182.0 367.7L182.4 367.8L182.8 367.5L182.9 367.3L183.0 367.1L183.1 366.8L183.3 366.4L183.4 366.0L183.5 365.5L183.7 365.0L183.8 364.5L184.0 364.0L184.1 363.5L184.3 363.0L184.4 362.5L184.6 362.0L184.7 361.5L184.9 361.1L185.0 360.7L185.2 360.4L185.3 360.1L185.5 359.9L185.6 359.8L185.9 359.8L186.1 359.9L186.3 360.2L186.5 360.6L186.7 361.0L187.0 361.5L187.2 362.1L187.4 362.6L187.6 363.2L187.8 363.7L188.1 364.1L188.3 364.4L188.5 364.6L188.9 364.8L189.4 364.6L189.8 364.4L190.2 364.0L190.6 363.8L191.0 363.6L191.4 363.7L191.6 363.9L191.8 364.3L192.0 364.9L192.2 365.5L192.4 366.1L192.6 366.6L192.8 367.1L193.0 367.5L193.1 367.6L193.3 367.5L193.4 367.3L193.4 367.1L193.5 366.8L193.6 366.4L193.6 365.9L193.7 365.4L193.8 364.9L193.8 364.3L193.9 363.7L193.9 363.1L194.0 362.5L194.1 362.0L194.1 361.4L194.2 360.9L194.2 360.4L194.3 359.9L194.4 359.6L194.4 359.3L194.5 359.0L194.6 358.9L194.6 358.9L194.7 358.9L194.8 359.1L194.9 359.3L194.9 359.6L195.0 360.0L195.1 360.4L195.2 360.9L195.2 361.4L195.3 361.9L195.4 362.5L195.5 363.1L195.6 363.7L195.6 364.3L195.7 364.8L195.8 365.4L195.9 365.9L196.0 366.4L196.1 366.9L196.1 367.3L196.2 367.7L196.3 368.0L196.4 368.2L196.5 368.4L196.6 368.5L196.6 368.4L196.7 368.3L196.8 368.1L196.9 367.8L197.0 367.4L197.1 367.0L197.1 366.5L197.2 366.0L197.3 365.5L197.4 364.9L197.5 364.3L197.6 363.7L197.6 363.2L197.7 362.6L197.8 362.1L197.9 361.6L198.0 361.1L198.1 360.7L198.2 360.4L198.3 360.1L198.4 359.9L198.5 359.8L198.6 359.9L198.7 360.0L198.9 360.3L199.0 360.7L199.1 361.2L199.3 361.7L199.4 362.3L199.5 362.9L199.7 363.5L199.8 364.1L200.0 364.7L200.1 365.2L200.3 365.7L200.4 366.1L200.6 366.4L200.8 366.5L201.0 366.5L201.1 366.5L201.3 366.3L201.4 366.0L201.6 365.7L201.7 365.3L201.9 364.9L202.1 364.4L202.2 363.9L202.4 363.4L202.6 362.8L202.8 362.3L202.9 361.7L203.1 361.2L203.3 360.6L203.5 360.1L203.7 359.6L203.8 359.2L204.0 358.8L204.2 358.5L204.3 358.2L204.5 358.0L204.7 357.9L204.8 357.9L204.9 358.0L205.0 358.1L205.2 358.4L205.3 358.6L205.4 359.0L205.5 359.4L205.6 359.8L205.7 360.3L205.9 360.8L206.0 361.3L206.1 361.8L206.2 362.4L206.3 363.0L206.4 363.5L206.5 364.1L206.6 364.7L206.7 365.2L206.8 365.7L206.9 366.2L207.0 366.7L207.1 367.1L207.2 367.5L207.3 367.8L207.4 368.1L207.5 368.3L207.6 368.4L207.7 368.5L207.8 368.4L207.9 368.3L208.0 368.1L208.1 367.8L208.2 367.5L208.3 367.1L208.4 366.6L208.5 366.1L208.6 365.6L208.7 365.0L208.8 364.4L208.8 363.8L208.9 363.3L209.0 362.7L209.1 362.1L209.2 361.5L209.3 361.0L209.4 360.5L209.5 360.1L209.6 359.7L209.7 359.4L209.8 359.1L209.9 359.0L210.0 358.9L210.1 358.9L210.2 359.0L210.3 359.2L210.5 359.5L210.6 359.8L210.7 360.2L210.8 360.7L210.9 361.2L211.1 361.7L211.2 362.3L211.3 362.9L211.4 363.4L211.6 364.0L211.7 364.5L211.8 365.0L211.9 365.4L212.1 365.8L212.2 366.1L212.3 366.4L212.5 366.5L212.7 366.7L213.0 366.6L213.3 366.4L213.5 366.1L213.8 365.7L214.1 365.3L214.4 364.8L214.7 364.4L215.0 364.0L215.3 363.7L215.7 363.4L216.1 363.2L216.5 362.9L216.9 362.6L217.3 362.4L217.7 362.2L218.1 362.0L218.5 361.9L218.8 361.8L219.2 361.8L219.6 361.8L220.0 362.1L220.3 362.4L220.7 362.7L221.0 363.1L221.4 363.4L221.7 363.6L222.1 363.7L222.4 363.6L222.8 363.4L223.1 363.1L223.5 362.8L223.8 362.4L224.2 362.1L224.6 361.9L224.9 361.8L225.3 361.7L225.8 361.7L226.2 361.8L226.6 361.9L227.1 362.1L227.4 362.3L227.8 362.7L228.0 363.0L228.2 363.5L228.3 364.1L228.5 364.7L228.6 365.4L228.7 366.1L228.9 366.7L229.0 367.2L229.2 367.6L229.3 367.8L229.5 367.8L229.7 367.5L229.8 367.3L229.9 367.1L229.9 366.9L230.0 366.6L230.1 366.3L230.2 365.9L230.3 365.5L230.4 365.1L230.5 364.7L230.5 364.2L230.6 363.7L230.7 363.2L230.8 362.7L230.9 362.2L231.0 361.6L231.1 361.1L231.2 360.5L231.3 360.0L231.4 359.4L231.5 358.9L231.6 358.3L231.7 357.8L231.8 357.3L231.9 356.8L232.0 356.3L232.1 355.8L232.2 355.4L232.3 355.0L232.4 354.6L232.5 354.3L232.6 354.0L232.6 353.7L232.7 353.5L232.8 353.3L232.9 353.2L233.0 353.1L233.1 353.1L233.2 353.1L233.3 353.3L233.4 353.4L233.5 353.7L233.6 354.0L233.7 354.3L233.8 354.7L233.9 355.1L233.9 355.6L234.0 356.1L234.1 356.6L234.2 357.2L234.3 357.7L234.4 358.3L234.5 358.8L234.6 359.4L234.6 359.9L234.7 360.5L234.8 361.0L234.9 361.5L235.0 362.0L235.1 362.4L235.2 362.8L235.3 363.1L235.4 363.4L235.5 363.7L235.9 364.4L236.3 365.0L236.7 365.5L237.1 365.7L237.6 365.6L238.0 365.3L238.3 364.6L238.4 364.4L238.5 364.1L238.6 363.7L238.7 363.3L238.8 362.8L238.8 362.3L238.9 361.7L239.0 361.1L239.1 360.5L239.1 359.8L239.2 359.2L239.3 358.5L239.4 357.8L239.4 357.1L239.5 356.5L239.6 355.8L239.7 355.2L239.7 354.6L239.8 354.0L239.9 353.5L239.9 353.0L240.0 352.5L240.1 352.2L240.1 351.9L240.2 351.6L240.3 351.5L240.4 351.4L240.4 351.5L240.5 351.6L240.6 351.8L240.6 352.2L240.7 352.3L240.7 352.5L240.7 352.7L240.7 352.9L240.8 353.1L240.8 353.3L240.8 353.6L240.8 353.9L240.9 354.2L240.9 354.5L240.9 354.8L240.9 355.2L241.0 355.5L241.0 355.9L241.0 356.3L241.0 356.7L241.0 357.1L241.1 357.6L241.1 358.0L241.1 358.5L241.1 359.0L241.2 359.4L241.2 359.9L241.2 360.4L241.2 360.9L241.3 361.5L241.3 362.0L241.3 362.5L241.3 363.1L241.4 363.6L241.4 364.2L241.4 364.7L241.4 365.3L241.4 365.9L241.5 366.4L241.5 367.0L241.5 367.6L241.5 368.2L241.6 368.8L241.6 369.4L241.6 370.0L241.6 370.5L241.7 371.1L241.7 371.7L241.7 372.3L241.7 372.9L241.7 373.5L241.8 374.1L241.8 374.7L241.8 375.2L241.8 375.8L241.9 376.4L241.9 376.9L241.9 377.5L241.9 378.0L242.0 378.6L242.0 379.1L242.0 379.7L242.0 380.2L242.0 380.7L242.1 381.2L242.1 381.7L242.1 382.2L242.1 382.7L242.2 383.1L242.2 383.6L242.2 384.0L242.2 384.4L242.2 384.9L242.3 385.3L242.3 385.7L242.3 386.0L242.3 386.4L242.4 386.7L242.4 387.0L242.4 387.4L242.4 387.6L242.4 387.9L242.5 388.2L242.5 388.4L242.5 388.6L242.5 388.8L242.5 389.0L242.6 389.2L242.6 389.3L242.6 389.4L242.6 389.5L242.6 389.6L242.7 389.6L242.7 389.6L242.7 389.6L242.7 389.6L242.8 389.5L242.8 389.5L242.8 389.4L242.8 389.3L242.8 389.2L242.8 389.1L242.8 388.9L242.9 388.8L242.9 388.6L242.9 388.4L242.9 388.2L242.9 388.0L242.9 387.8L242.9 387.6L243.0 387.3L243.0 387.0L243.0 386.8L243.0 386.5L243.0 386.2L243.0 385.8L243.1 385.5L243.1 385.2L243.1 384.8L243.1 384.4L243.1 384.1L243.1 383.7L243.1 383.3L243.2 382.9L243.2 382.5L243.2 382.0L243.2 381.6L243.2 381.2L243.2 380.7L243.2 380.3L243.2 379.8L243.3 379.3L243.3 378.8L243.3 378.4L243.3 377.9L243.3 377.4L243.3 376.9L243.3 376.3L243.4 375.8L243.4 375.3L243.4 374.8L243.4 374.2L243.4 373.7L243.4 373.1L243.4 372.6L243.5 372.0L243.5 371.5L243.5 370.9L243.5 370.4L243.5 369.8L243.5 369.2L243.5 368.7L243.5 368.1L243.6 367.5L243.6 366.9L243.6 366.4L243.6 365.8L243.6 365.2L243.6 364.6L243.6 364.0L243.7 363.5L243.7 362.9L243.7 362.3L243.7 361.7L243.7 361.2L243.7 360.6L243.7 360.0L243.7 359.5L243.8 358.9L243.8 358.3L243.8 357.8L243.8 357.2L243.8 356.7L243.8 356.1L243.8 355.6L243.9 355.0L243.9 354.5L243.9 354.0L243.9 353.4L243.9 352.9L243.9 352.4L243.9 351.9L243.9 351.4L244.0 350.9L244.0 350.4L244.0 349.9L244.0 349.5L244.0 349.0L244.0 348.5L244.0 348.1L244.1 347.6L244.1 347.2L244.1 346.8L244.1 346.4L244.1 346.0L244.1 345.6L244.1 345.2L244.2 344.8L244.2 344.4L244.2 344.1L244.2 343.8L244.2 343.4L244.2 343.1L244.2 342.8L244.2 342.5L244.3 342.2L244.3 342.0L244.3 341.7L244.3 341.5L244.3 341.2L244.3 341.0L244.3 340.8L244.4 340.6L244.4 340.5L244.4 340.3L244.4 340.2L244.4 340.0L244.4 339.9L244.4 339.8L244.5 339.8L244.5 339.7L244.5 339.7L244.5 339.6L244.5 339.6L244.6 339.7L244.6 339.7L244.6 339.8L244.6 339.9L244.6 340.0L244.7 340.1L244.7 340.3L244.7 340.5L244.7 340.7L244.7 340.9L244.8 341.2L244.8 341.4L244.8 341.7L244.8 342.0L244.8 342.3L244.9 342.7L244.9 343.0L244.9 343.4L244.9 343.8L244.9 344.2L245.0 344.6L245.0 345.0L245.0 345.5L245.0 345.9L245.1 346.4L245.1 346.9L245.1 347.4L245.1 347.9L245.1 348.4L245.2 348.9L245.2 349.4L245.2 350.0L245.2 350.5L245.2 351.1L245.3 351.6L245.3 352.2L245.3 352.8L245.3 353.4L245.4 353.9L245.4 354.5L245.4 355.1L245.4 355.7L245.4 356.3L245.5 356.9L245.5 357.5L245.5 358.1L245.5 358.7L245.5 359.3L245.6 359.9L245.6 360.5L245.6 361.1L245.6 361.7L245.7 362.3L245.7 362.9L245.7 363.4L245.7 364.0L245.7 364.6L245.8 365.2L245.8 365.7L245.8 366.3L245.8 366.8L245.8 367.4L245.9 367.9L245.9 368.4L245.9 368.9L245.9 369.4L245.9 369.9L246.0 370.4L246.0 370.9L246.0 371.3L246.0 371.8L246.0 372.2L246.1 372.6L246.1 373.0L246.1 373.4L246.1 373.8L246.1 374.2L246.2 374.5L246.2 374.8L246.2 375.1L246.2 375.4L246.2 375.7L246.3 375.9L246.3 376.2L246.3 376.4L246.3 376.6L246.3 376.7L246.4 376.9L246.4 377.0L246.4 377.1L246.4 377.2L246.5 377.3L246.5 377.4L246.5 377.4L246.6 377.3L246.6 377.3L246.6 377.2L246.7 377.0L246.7 376.8L246.7 376.6L246.7 376.4L246.8 376.1L246.8 375.8L246.8 375.5L246.9 375.1L246.9 374.8L246.9 374.4L247.0 373.9L247.0 373.5L247.0 373.0L247.0 372.5L247.1 372.0L247.1 371.5L247.1 371.0L247.2 370.5L247.2 369.9L247.2 369.3L247.2 368.8L247.3 368.2L247.3 367.6L247.3 367.0L247.4 366.4L247.4 365.8L247.4 365.2L247.4 364.6L247.5 364.1L247.5 363.5L247.5 362.9L247.6 362.3L247.6 361.7L247.6 361.2L247.6 360.6L247.7 360.1L247.7 359.6L247.7 359.1L247.8 358.6L247.8 358.1L247.8 357.6L247.8 357.2L247.9 356.8L247.9 356.4L247.9 356.0L248.0 355.5L248.0 355.0L248.0 354.5L248.1 353.9L248.1 353.3L248.2 352.7L248.2 352.1L248.2 351.5L248.3 350.9L248.3 350.2L248.3 349.6L248.4 349.0L248.4 348.3L248.5 347.7L248.5 347.0L248.5 346.4L248.6 345.8L248.6 345.1L248.6 344.5L248.7 344.0L248.7 343.4L248.7 342.9L248.8 342.3L248.8 341.9L248.9 341.4L248.9 341.0L248.9 340.6L249.0 340.2L249.0 339.9L249.1 339.6L249.1 339.4L249.1 339.2L249.2 339.1L249.2 339.0L249.3 339.0L249.3 339.0L249.3 339.1L249.4 339.2L249.4 339.4L249.5 339.7L249.5 339.8L249.5 340.0L249.5 340.1L249.5 340.3L249.5 340.5L249.6 340.7L249.6 341.0L249.6 341.2L249.6 341.4L249.6 341.7L249.7 342.0L249.7 342.3L249.7 342.6L249.7 342.9L249.7 343.2L249.7 343.6L249.8 343.9L249.8 344.3L249.8 344.7L249.8 345.1L249.8 345.5L249.8 345.9L249.9 346.3L249.9 346.7L249.9 347.1L249.9 347.6L249.9 348.0L250.0 348.5L250.0 349.0L250.0 349.4L250.0 349.9L250.0 350.4L250.0 350.9L250.1 351.4L250.1 351.9L250.1 352.4L250.1 352.9L250.1 353.4L250.2 354.0L250.2 354.5L250.2 355.0L250.2 355.6L250.2 356.1L250.3 356.6L250.3 357.2L250.3 357.7L250.3 358.3L250.3 358.8L250.3 359.4L250.4 359.9L250.4 360.5L250.4 361.0L250.4 361.6L250.4 362.1L250.5 362.6L250.5 363.2L250.5 363.7L250.5 364.3L250.5 364.8L250.6 365.3L250.6 365.9L250.6 366.4L250.6 366.9L250.6 367.4L250.7 368.0L250.7 368.5L250.7 369.0L250.7 369.5L250.7 370.0L250.8 370.5L250.8 370.9L250.8 371.4L250.8 371.9L250.8 372.3L250.8 372.8L250.9 373.2L250.9 373.7L250.9 374.1L250.9 374.5L250.9 374.9L251.0 375.3L251.0 375.7L251.0 376.1L251.0 376.5L251.0 376.8L251.1 377.2L251.1 377.5L251.1 377.8L251.1 378.1L251.1 378.4L251.2 378.7L251.2 379.0L251.2 379.2L251.2 379.5L251.2 379.7L251.2 379.9L251.3 380.1L251.3 380.3L251.3 380.4L251.3 380.6L251.3 380.7L251.4 380.8L251.4 380.9L251.4 381.1L251.4 381.1L251.5 381.2L251.5 381.2L251.5 381.1L251.6 381.0L251.6 380.9L251.7 380.7L251.7 380.5L251.7 380.3L251.8 380.0L251.8 379.7L251.8 379.4L251.9 379.0L251.9 378.6L251.9 378.2L252.0 377.8L252.0 377.3L252.0 376.8L252.1 376.3L252.1 375.8L252.1 375.2L252.2 374.7L252.2 374.1L252.2 373.5L252.3 372.9L252.3 372.3L252.3 371.7L252.4 371.1L252.4 370.5L252.4 369.8L252.5 369.2L252.5 368.6L252.6 368.0L252.6 367.4L252.6 366.8L252.7 366.1L252.7 365.6L252.7 365.0L252.8 364.4L252.8 363.8L252.8 363.3L252.9 362.8L252.9 362.2L252.9 361.7L253.0 361.3L253.0 360.8L253.0 360.4L253.0 360.0L253.1 359.6L253.1 359.3L253.1 359.0L253.2 358.7L253.2 358.4L253.2 358.2L253.3 358.1L253.3 357.9L253.4 357.7L253.4 357.6L253.5 357.7L253.6 357.8L253.6 358.1L253.7 358.4L253.8 358.8L253.8 359.3L253.9 359.9L254.0 360.5L254.0 361.1L254.1 361.8L254.1 362.4L254.2 363.1L254.3 363.7L254.3 364.4L254.4 365.0L254.4 365.6L254.5 366.1L254.6 366.5L254.6 366.9L254.7 367.2L254.8 367.4L254.8 367.5L254.9 367.5L255.0 367.4L255.1 367.3L255.2 367.1L255.3 366.8L255.4 366.4L255.5 366.0L255.6 365.6L255.6 365.1L255.7 364.6L255.8 364.1L255.9 363.5L256.0 363.0L256.1 362.4L256.2 361.9L256.3 361.3L256.4 360.8L256.5 360.3L256.6 359.8L256.6 359.4L256.7 359.0L256.8 358.5L256.8 357.9L256.9 357.3L256.9 356.6L257.0 356.0L257.1 355.3L257.1 354.6L257.2 353.9L257.3 353.3L257.3 352.6L257.4 352.0L257.4 351.5L257.5 351.0L257.6 350.5L257.6 350.2L257.7 349.9L257.8 349.7L257.8 349.5L257.9 349.5L258.0 349.6L258.0 349.9L258.1 350.3L258.1 350.4L258.1 350.6L258.2 350.7L258.2 350.9L258.2 351.2L258.2 351.4L258.2 351.6L258.3 351.9L258.3 352.2L258.3 352.5L258.3 352.8L258.4 353.1L258.4 353.4L258.4 353.7L258.4 354.1L258.4 354.5L258.5 354.8L258.5 355.2L258.5 355.6L258.5 356.0L258.6 356.4L258.6 356.8L258.6 357.3L258.6 357.7L258.6 358.2L258.7 358.6L258.7 359.1L258.7 359.5L258.7 360.0L258.8 360.5L258.8 361.0L258.8 361.5L258.8 361.9L258.9 362.4L258.9 362.9L258.9 363.4L258.9 363.9L259.0 364.4L259.0 365.0L259.0 365.5L259.0 366.0L259.0 366.5L259.1 367.0L259.1 367.5L259.1 368.0L259.1 368.5L259.2 369.0L259.2 369.5L259.2 370.0L259.2 370.5L259.3 371.0L259.3 371.5L259.3 372.0L259.3 372.5L259.3 372.9L259.4 373.4L259.4 373.9L259.4 374.3L259.4 374.8L259.5 375.2L259.5 375.6L259.5 376.1L259.5 376.5L259.5 376.9L259.6 377.3L259.6 377.7L259.6 378.1L259.6 378.4L259.7 378.8L259.7 379.1L259.7 379.5L259.7 379.8L259.7 380.1L259.8 380.4L259.8 380.7L259.8 380.9L259.9 381.8L260.0 382.7L260.0 383.5L260.1 384.3L260.2 385.1L260.2 385.8L260.3 386.4L260.4 387.0L260.4 387.6L260.5 388.1L260.5 388.5L260.6 388.9L260.7 389.2L260.7 389.5L260.8 389.7L260.9 389.8L261.0 389.9L261.1 389.9L261.1 389.9L261.2 389.7L261.3 389.5L261.4 389.4L261.4 389.3L261.5 389.1L261.5 388.9L261.6 388.7L261.7 388.5L261.7 388.3L261.8 388.0L261.8 387.7L261.9 387.4L261.9 387.1L262.0 386.7L262.1 386.4L262.1 386.0L262.2 385.6L262.3 385.2L262.3 384.8L262.4 384.4L262.5 384.0L262.5 383.5L262.6 383.1L262.7 382.6L262.7 382.2L262.8 381.7L262.9 381.2L262.9 380.8L263.0 380.3L263.1 379.8L263.1 379.3L263.2 378.8L263.3 378.3L263.3 377.8L263.4 377.3L263.5 376.8L263.5 376.3L263.6 375.9L263.7 375.4L263.7 374.9L263.8 374.4L263.9 374.0L263.9 373.5L264.0 373.0L264.0 372.6L264.1 372.2L264.2 371.7L264.2 371.3L264.3 370.9L264.3 370.5L264.4 370.1L264.4 369.7L264.5 369.2L264.6 368.7L264.6 368.3L264.7 367.8L264.7 367.3L264.8 366.8L264.8 366.3L264.9 365.8L264.9 365.3L265.0 364.7L265.0 364.2L265.1 363.7L265.2 363.2L265.2 362.7L265.3 362.1L265.3 361.6L265.4 361.1L265.4 360.6L265.5 360.1L265.5 359.6L265.6 359.1L265.6 358.6L265.7 358.2L265.7 357.7L265.8 357.2L265.8 356.8L265.9 356.4L265.9 356.0L266.0 355.6L266.0 355.2L266.1 354.8L266.1 354.5L266.2 354.2L266.2 353.9L266.3 353.6L266.3 353.3L266.4 353.1L266.4 352.9L266.5 352.7L266.5 352.5L266.6 352.4L266.6 352.3L266.7 352.2L266.7 352.2L266.8 352.2L266.8 352.2L266.9 352.3L266.9 352.4L267.0 352.6L267.0 352.9L267.1 353.1L267.1 353.5L267.2 353.8L267.2 354.2L267.3 354.6L267.3 355.0L267.4 355.5L267.4 356.0L267.5 356.5L267.5 357.0L267.6 357.6L267.6 358.1L267.7 358.7L267.7 359.2L267.8 359.8L267.8 360.4L267.9 361.0L267.9 361.6L268.0 362.1L268.0 362.7L268.0 363.2L268.1 363.8L268.1 364.3L268.2 364.8L268.2 365.3L268.3 365.8L268.3 366.2L268.3 366.6L268.4 367.0L268.4 367.3L268.5 367.6L268.5 367.9L268.6 368.1L268.6 368.3L268.6 368.5L268.7 368.7L268.8 368.7L268.9 368.6L269.0 368.4L269.0 368.1L269.1 367.7L269.2 367.2L269.3 366.7L269.3 366.1L269.4 365.5L269.5 364.8L269.6 364.2L269.6 363.6L269.7 363.1L269.8 362.6L269.9 362.1L270.0 361.8L270.1 361.2L270.3 360.6L270.5 359.9L270.7 359.3L270.9 358.7L271.1 358.2L271.3 357.9L271.5 357.7L271.7 357.7L271.9 357.9L272.0 358.1L272.0 358.3L272.1 358.6L272.2 358.9L272.2 359.3L272.3 359.7L272.4 360.1L272.4 360.6L272.5 361.1L272.5 361.6L272.6 362.2L272.7 362.7L272.7 363.3L272.8 363.9L272.9 364.4L272.9 365.0L273.0 365.5L273.1 366.1L273.1 366.6L273.2 367.0L273.3 367.5L273.3 367.9L273.4 368.3L273.5 368.6L273.5 368.9L273.6 369.1L273.7 369.3L273.7 369.4L273.8 369.4L273.9 369.4L273.9 369.3L274.0 369.1L274.1 368.9L274.1 368.6L274.2 368.2L274.3 367.8L274.3 367.4L274.4 366.9L274.5 366.4L274.5 365.9L274.6 365.3L274.7 364.8L274.7 364.2L274.8 363.6L274.9 363.0L274.9 362.5L275.0 361.9L275.1 361.4L275.1 360.8L275.2 360.3L275.3 359.9L275.3 359.4L275.4 359.1L275.5 358.7L275.5 358.4L275.6 358.2L275.7 358.0L275.7 357.9L275.8 357.9L275.9 358.0L276.0 358.2L276.1 358.5L276.2 358.9L276.3 359.4L276.4 360.0L276.5 360.5L276.6 361.1L276.7 361.8L276.8 362.4L276.9 363.0L277.0 363.6L277.1 364.1L277.2 364.6L277.3 365.0L277.4 365.3L277.5 365.5L277.6 365.6L277.8 365.6L277.9 365.4L278.1 365.2L278.2 364.8L278.4 364.4L278.5 364.0L278.7 363.4L278.9 362.9L279.0 362.4L279.2 361.8L279.4 361.2L279.5 360.7L279.7 360.2L279.9 359.8L280.0 359.4L280.2 359.2L280.4 359.0L280.5 358.9L280.7 358.9L280.9 359.1L281.1 359.3L281.2 359.7L281.4 360.1L281.6 360.6L281.8 361.1L282.0 361.6L282.1 362.2L282.3 362.7L282.5 363.2L282.7 363.6L282.9 364.0L283.0 364.3L283.2 364.5L283.4 364.6L283.6 364.6L283.8 364.4L284.1 364.0L284.3 363.6L284.5 363.1L284.7 362.5L284.9 361.9L285.2 361.4L285.4 360.9L285.6 360.4L285.8 360.1L286.0 359.9L286.3 359.8L286.4 359.9L286.6 360.2L286.8 360.5L287.0 360.9L287.2 361.4L287.4 361.9L287.5 362.5L287.7 363.1L287.9 363.6L288.1 364.2L288.3 364.6L288.4 365.0L288.6 365.4L288.8 365.6L289.0 365.7L289.1 365.6L289.2 365.5L289.3 365.3L289.4 365.0L289.5 364.6L289.6 364.3L289.7 363.8L289.8 363.3L289.9 362.8L290.0 362.3L290.1 361.7L290.2 361.1L290.3 360.5L290.4 360.0L290.5 359.4L290.6 358.8L290.6 358.2L290.7 357.7L290.8 357.2L290.9 356.7L291.0 356.3L291.1 355.9L291.2 355.6L291.3 355.3L291.4 355.1L291.5 355.0L291.5 355.0L291.6 355.0L291.7 355.1L291.7 355.3L291.8 355.4L291.9 355.6L291.9 355.9L292.0 356.1L292.0 356.4L292.1 356.7L292.2 357.1L292.2 357.4L292.3 357.8L292.3 358.3L292.4 358.7L292.4 359.1L292.5 359.6L292.6 360.1L292.6 360.6L292.7 361.1L292.7 361.6L292.8 362.1L292.8 362.6L292.9 363.1L293.0 363.7L293.0 364.2L293.1 364.7L293.1 365.2L293.2 365.7L293.2 366.2L293.3 366.7L293.3 367.2L293.4 367.7L293.5 368.2L293.5 368.6L293.6 369.0L293.6 369.4L293.7 369.8L293.7 370.2L293.8 370.5L293.8 370.8L293.9 371.1L293.9 371.3L294.2 372.4L294.4 373.3L294.7 373.9L294.9 374.3L295.1 374.6L295.4 374.6L295.6 374.5L295.8 374.2L295.9 374.1L296.0 373.9L296.1 373.6L296.2 373.4L296.3 373.1L296.3 372.7L296.4 372.4L296.5 372.0L296.6 371.6L296.7 371.1L296.7 370.7L296.8 370.2L296.9 369.8L297.0 369.3L297.1 368.8L297.2 368.3L297.3 367.8L297.4 367.4L297.5 366.9L297.6 366.4L297.7 366.0L297.8 365.6L297.9 365.2L298.0 364.8L298.1 364.3L298.2 363.8L298.3 363.2L298.4 362.7L298.5 362.1L298.6 361.5L298.8 360.9L298.9 360.3L299.0 359.8L299.1 359.2L299.3 358.7L299.4 358.2L299.5 357.7L299.6 357.2L299.8 356.8L299.9 356.5L300.0 356.2L300.1 356.0L300.2 355.8L300.3 355.7L300.4 355.7L300.5 355.8L300.6 356.0L300.7 356.1L300.7 356.3L300.8 356.5L300.8 356.7L300.9 357.0L300.9 357.3L300.9 357.6L301.0 358.0L301.0 358.4L301.1 358.8L301.1 359.2L301.1 359.6L301.2 360.1L301.2 360.6L301.3 361.1L301.3 361.6L301.3 362.1L301.4 362.7L301.4 363.2L301.4 363.8L301.5 364.4L301.5 364.9L301.6 365.5L301.6 366.1L301.6 366.7L301.7 367.3L301.7 367.8L301.7 368.4L301.8 369.0L301.8 369.6L301.8 370.1L301.9 370.7L301.9 371.2L301.9 371.7L302.0 372.2L302.0 372.7L302.0 373.2L302.1 373.6L302.1 374.1L302.1 374.5L302.2 374.9L302.2 375.2L302.2 375.6L302.3 375.9L302.3 376.1L302.3 376.4L302.4 376.6L302.4 376.8L302.4 376.9L302.5 377.0L302.5 377.1L302.6 377.1L302.6 377.1L302.6 377.0L302.7 376.9L302.7 376.8L302.7 376.6L302.8 376.4L302.8 376.1L302.9 375.9L302.9 375.6L302.9 375.2L303.0 374.9L303.0 374.5L303.0 374.1L303.1 373.6L303.1 373.2L303.1 372.7L303.2 372.2L303.2 371.7L303.3 371.2L303.3 370.7L303.3 370.1L303.4 369.6L303.4 369.0L303.4 368.4L303.5 367.8L303.5 367.3L303.6 366.7L303.6 366.1L303.6 365.5L303.7 364.9L303.7 364.4L303.7 363.8L303.8 363.2L303.8 362.7L303.8 362.1L303.9 361.6L303.9 361.1L304.0 360.6L304.0 360.1L304.0 359.6L304.1 359.2L304.1 358.8L304.1 358.4L304.2 358.0L304.2 357.6L304.3 357.3L304.3 357.0L304.3 356.7L304.4 356.5L304.4 356.3L304.4 356.1L304.5 356.0L304.6 355.8L304.6 355.8L304.7 355.8L304.8 356.0L304.9 356.2L305.0 356.6L305.0 357.0L305.1 357.4L305.2 357.9L305.3 358.5L305.4 359.1L305.4 359.7L305.5 360.4L305.6 361.0L305.7 361.6L305.8 362.2L305.8 362.8L305.9 363.4L306.0 363.9L306.1 364.4L306.2 364.8L306.2 365.2L306.3 365.4L306.4 365.6L306.6 365.7L306.8 365.6L307.0 365.2L307.2 364.7L307.4 364.1L307.6 363.5L307.7 362.9L307.9 362.4L308.1 362.0L308.3 361.8L308.6 361.7L308.9 361.9L309.2 362.2L309.4 362.7L309.7 363.2L310.0 363.7L310.2 364.0L310.4 364.5L310.5 365.1L310.7 365.7L310.9 366.2L311.1 366.8L311.3 367.2L311.5 367.5L311.7 367.6L311.9 367.5L312.0 367.4L312.1 367.1L312.3 366.8L312.4 366.4L312.5 366.0L312.6 365.6L312.8 365.1L312.9 364.5L313.0 364.0L313.2 363.4L313.3 362.8L313.4 362.3L313.6 361.7L313.7 361.2L313.8 360.7L314.0 360.3L314.1 359.9L314.3 359.5L314.4 359.2L314.5 359.0L314.7 358.9L314.8 358.9L314.9 358.9L315.0 359.1L315.1 359.3L315.3 359.6L315.4 359.9L315.5 360.3L315.6 360.7L315.7 361.2L315.8 361.7L315.9 362.2L316.1 362.7L316.2 363.3L316.3 363.8L316.4 364.4L316.5 364.9L316.6 365.5L316.7 366.0L316.9 366.4L317.0 366.9L317.1 367.3L317.2 367.7L317.3 368.0L317.4 368.2L317.6 368.4L317.7 368.5L317.8 368.5L318.0 368.4L318.2 368.3L318.3 368.0L318.5 367.7L318.6 367.4L318.8 366.9L319.0 366.5L319.1 366.0L319.3 365.5L319.5 365.0L319.6 364.4L319.8 363.9L319.9 363.4L320.1 362.9L320.2 362.5L320.4 362.1L320.5 361.8L320.7 361.3L320.9 360.7L321.1 360.1L321.3 359.4L321.5 358.8L321.7 358.1L321.9 357.6L322.1 357.1L322.3 356.7L322.5 356.5L322.7 356.5L322.8 356.6L323.0 357.0L323.1 357.1L323.1 357.3L323.2 357.6L323.3 357.9L323.3 358.2L323.4 358.5L323.4 358.9L323.5 359.3L323.5 359.8L323.6 360.2L323.6 360.7L323.7 361.2L323.7 361.7L323.8 362.2L323.8 362.8L323.9 363.3L323.9 363.9L324.0 364.5L324.0 365.1L324.1 365.6L324.1 366.2L324.2 366.8L324.2 367.3L324.3 367.9L324.3 368.4L324.4 369.0L324.4 369.5L324.5 370.0L324.5 370.5L324.6 371.0L324.7 371.4L324.7 371.8L324.8 372.2L324.8 372.6L324.9 372.9L324.9 373.2L325.0 373.5L325.0 373.7L325.1 373.9L325.2 374.1L325.2 374.2L325.3 374.2L325.3 374.2L325.4 374.2L325.4 374.1L325.5 374.0L325.6 373.8L325.6 373.6L325.7 373.3L325.7 373.0L325.8 372.7L325.8 372.4L325.9 372.0L326.0 371.6L326.0 371.2L326.1 370.7L326.1 370.3L326.2 369.8L326.3 369.3L326.3 368.8L326.4 368.2L326.4 367.7L326.5 367.1L326.6 366.5L326.6 366.0L326.7 365.4L326.8 364.8L326.8 364.2L326.9 363.6L326.9 363.1L327.0 362.5L327.1 361.9L327.1 361.4L327.2 360.8L327.3 360.3L327.3 359.8L327.4 359.3L327.4 358.8L327.5 358.3L327.6 357.9L327.6 357.5L327.7 357.1L327.7 356.7L327.8 356.4L327.9 356.1L327.9 355.8L328.0 355.6L328.0 355.4L328.1 355.2L328.2 355.1L328.2 355.0L328.3 355.0L328.4 355.0L328.4 355.1L328.5 355.3L328.6 355.4L328.6 355.7L328.7 356.0L328.8 356.3L328.9 356.7L328.9 357.1L329.0 357.5L329.1 358.0L329.1 358.4L329.2 359.0L329.3 359.5L329.4 360.0L329.4 360.6L329.5 361.2L329.6 361.7L329.6 362.3L329.7 362.9L329.8 363.5L329.8 364.0L329.9 364.6L330.0 365.1L330.0 365.7L330.1 366.2L330.2 366.7L330.2 367.1L330.3 367.6L330.4 368.0L330.4 368.4L330.5 368.7L330.6 369.0L330.6 369.2L330.7 369.4L331.0 370.1L331.4 370.5L331.7 370.5L332.0 370.3L332.3 369.6L332.6 368.7L333.0 367.5L333.1 367.3L333.1 367.0L333.2 366.7L333.2 366.3L333.3 366.0L333.4 365.6L333.4 365.1L333.5 364.7L333.6 364.2L333.6 363.7L333.7 363.2L333.8 362.7L333.8 362.1L333.9 361.6L334.0 361.0L334.0 360.5L334.1 359.9L334.2 359.3L334.2 358.7L334.3 358.2L334.4 357.6L334.4 357.0L334.5 356.5L334.6 355.9L334.6 355.4L334.7 354.9L334.8 354.4L334.9 353.9L334.9 353.4L335.0 353.0L335.1 352.6L335.1 352.2L335.2 351.8L335.3 351.5L335.3 351.2L335.4 350.9L335.5 350.7L335.5 350.5L335.6 350.4L335.7 350.3L335.7 350.2L335.8 350.2L335.9 350.3L335.9 350.3L336.0 350.4L336.0 350.6L336.1 350.7L336.1 350.9L336.2 351.1L336.2 351.4L336.3 351.7L336.3 352.0L336.4 352.3L336.4 352.7L336.5 353.1L336.5 353.5L336.6 353.9L336.6 354.3L336.7 354.8L336.7 355.2L336.8 355.7L336.8 356.2L336.9 356.7L336.9 357.2L337.0 357.8L337.0 358.3L337.1 358.9L337.1 359.4L337.2 360.0L337.2 360.5L337.3 361.1L337.3 361.7L337.4 362.2L337.4 362.8L337.5 363.4L337.5 363.9L337.6 364.5L337.6 365.0L337.7 365.6L337.7 366.1L337.8 366.7L337.8 367.2L337.9 367.7L337.9 368.2L338.0 368.6L338.0 369.1L338.1 369.5L338.1 370.0L338.2 370.4L338.2 370.8L338.3 371.1L338.3 371.5L338.4 371.8L338.4 372.1L338.5 372.4L338.6 372.6L338.6 372.8L338.7 373.0L338.7 373.1L338.8 373.3L338.9 373.4L339.0 373.5L339.0 373.4L339.1 373.3L339.2 373.1L339.3 372.8L339.4 372.5L339.5 372.1L339.6 371.7L339.7 371.2L339.8 370.6L339.9 370.1L340.0 369.5L340.1 368.9L340.2 368.3L340.3 367.6L340.4 367.0L340.5 366.4L340.6 365.8L340.7 365.2L340.8 364.6L340.9 364.1L341.0 363.6L341.1 363.1L341.2 362.7L341.3 362.4L341.4 362.1L341.5 361.9L341.6 361.8L341.8 361.7L342.0 361.7L342.2 362.0L342.3 362.3L342.5 362.7L342.7 363.2L342.9 363.8L343.1 364.4L343.2 365.0L343.4 365.6L343.6 366.1L343.8 366.6L344.0 367.0L344.1 367.3L344.3 367.5L344.5 367.5L344.6 367.4L344.8 367.2L344.9 366.9L345.1 366.6L345.2 366.2L345.4 365.7L345.5 365.2L345.7 364.7L345.8 364.2L345.9 363.6L346.1 363.1L346.2 362.5L346.4 362.0L346.5 361.5L346.7 361.1L346.8 360.7L346.9 360.3L347.1 360.1L347.2 359.9L347.4 359.8L347.5 359.9L347.7 360.0L347.9 360.3L348.0 360.6L348.2 361.0L348.3 361.4L348.5 361.9L348.7 362.5L348.8 363.0L349.0 363.6L349.1 364.1L349.3 364.6L349.5 365.1L349.6 365.6L349.8 365.9L349.9 366.2L350.1 366.4L350.3 366.5L350.5 366.5L350.7 366.4L350.9 366.1L351.1 365.7L351.3 365.2L351.5 364.7L351.7 364.1L352.0 363.6L352.2 363.0L352.4 362.6L352.6 362.2L352.9 361.9L353.1 361.8L353.4 361.7L353.8 361.9L354.1 362.1L354.5 362.4L354.8 362.8L355.2 363.2L355.5 363.6L355.9 364.0L356.3 364.3L356.6 364.5L357.0 364.6L357.3 364.6L357.7 364.5L358.1 364.3L358.5 364.0L358.9 363.7L359.3 363.4L359.7 363.1L360.1 362.9L360.5 362.7L360.8 362.7L361.1 362.9L361.4 363.1L361.8 363.6L362.1 364.0L362.4 364.5L362.6 365.0L362.9 365.3L363.2 365.6L363.4 365.7L363.7 365.6L363.8 365.4L363.9 365.1L364.0 364.8L364.1 364.3L364.2 363.9L364.3 363.3L364.4 362.8L364.5 362.2L364.6 361.6L364.7 361.0L364.8 360.4L364.9 359.9L365.0 359.4L365.1 358.9L365.2 358.5L365.3 358.2L365.4 358.0L365.5 357.9L365.6 357.9L365.7 358.0L365.7 358.2L365.8 358.4L365.9 358.7L366.0 359.1L366.0 359.5L366.1 359.9L366.2 360.4L366.2 360.9L366.3 361.4L366.4 362.0L366.5 362.6L366.5 363.1L366.6 363.7L366.7 364.3L366.7 364.8L366.8 365.4L366.9 365.9L367.0 366.4L367.0 366.8L367.1 367.2L367.2 367.6L367.3 367.9L367.3 368.2L367.4 368.3L367.5 368.5L367.6 368.5L367.8 368.4L367.9 368.3L368.0 368.0L368.1 367.6L368.3 367.2L368.4 366.7L368.6 366.2L368.7 365.7L368.8 365.1L369.0 364.5L369.1 364.0L369.2 363.4L369.4 362.9L369.5 362.5L369.7 362.1L369.8 361.8L370.1 361.2L370.3 360.6L370.6 360.0L370.9 359.4L371.2 359.0L371.4 358.6L371.7 358.5L372.0 358.5L372.3 358.9L372.4 359.1L372.5 359.3L372.6 359.6L372.7 359.9L372.8 360.3L372.9 360.7L373.0 361.1L373.1 361.6L373.2 362.1L373.3 362.6L373.4 363.1L373.5 363.6L373.6 364.2L373.7 364.7L373.8 365.3L373.9 365.8L374.0 366.3L374.1 366.8L374.2 367.3L374.3 367.8L374.4 368.3L374.5 368.7L374.6 369.1L374.7 369.4L374.8 369.7L374.9 370.0L375.0 370.2L375.1 370.3L375.2 370.4L375.3 370.4L375.4 370.3L375.6 370.1L375.7 369.9L375.8 369.6L376.0 369.2L376.1 368.7L376.2 368.2L376.3 367.7L376.5 367.2L376.6 366.6L376.7 366.0L376.9 365.5L377.0 364.9L377.1 364.3L377.3 363.8L377.4 363.3L377.5 362.9L377.7 362.5L377.8 362.2L377.9 361.9L378.0 361.8L378.3 361.6L378.6 361.8L378.9 362.2L379.2 362.7L379.5 363.2L379.8 363.8L380.1 364.3L380.4 364.7L380.6 364.8L380.9 364.6L381.0 364.4L381.1 364.2L381.3 363.8L381.4 363.4L381.5 362.9L381.6 362.4L381.7 361.8L381.8 361.3L381.9 360.6L382.0 360.0L382.1 359.4L382.2 358.8L382.3 358.1L382.4 357.6L382.5 357.0L382.6 356.5L382.7 356.0L382.8 355.6L382.9 355.3L383.0 355.1L383.1 354.9L383.2 354.8L383.3 354.9L383.4 355.0L383.5 355.2L383.5 355.3L383.6 355.5L383.6 355.8L383.6 356.1L383.7 356.4L383.7 356.7L383.8 357.1L383.8 357.5L383.9 357.9L383.9 358.3L384.0 358.8L384.0 359.3L384.0 359.8L384.1 360.3L384.1 360.8L384.2 361.4L384.2 361.9L384.3 362.5L384.3 363.1L384.3 363.7L384.4 364.2L384.4 364.8L384.5 365.4L384.5 366.0L384.6 366.6L384.6 367.2L384.6 367.7L384.7 368.3L384.7 368.9L384.8 369.4L384.8 369.9L384.9 370.5L384.9 371.0L385.0 371.4L385.0 371.9L385.1 372.3L385.1 372.7L385.1 373.1L385.2 373.5L385.2 373.8L385.3 374.1L385.3 374.4L385.4 374.6L385.4 374.8L385.5 375.0L385.6 375.1L385.6 375.2L385.7 375.2L385.7 375.2L385.8 375.1L385.8 375.0L385.9 374.9L385.9 374.8L386.0 374.6L386.0 374.4L386.1 374.1L386.1 373.9L386.2 373.6L386.2 373.3L386.3 372.9L386.3 372.5L386.4 372.2L386.4 371.7L386.5 371.3L386.5 370.9L386.6 370.4L386.6 369.9L386.7 369.4L386.8 368.9L386.8 368.4L386.9 367.9L386.9 367.3L387.0 366.8L387.0 366.2L387.1 365.7L387.2 365.1L387.2 364.5L387.3 363.9L387.3 363.4L387.4 362.8L387.4 362.2L387.5 361.6L387.6 361.1L387.6 360.5L387.7 359.9L387.7 359.4L387.8 358.8L387.9 358.3L387.9 357.8L388.0 357.3L388.0 356.8L388.1 356.3L388.1 355.8L388.2 355.3L388.2 354.9L388.3 354.5L388.4 354.1L388.4 353.7L388.5 353.3L388.5 353.0L388.6 352.7L388.6 352.4L388.7 352.1L388.7 351.9L388.8 351.7L388.8 351.5L388.9 351.4L388.9 351.3L389.0 351.2L389.0 351.2L389.1 351.2L389.2 351.2L389.2 351.3L389.3 351.4L389.4 351.6L389.4 351.8L389.5 352.1L389.5 352.4L389.6 352.7L389.7 353.1L389.7 353.5L389.8 353.9L389.8 354.3L389.9 354.8L389.9 355.3L390.0 355.8L390.1 356.3L390.1 356.8L390.2 357.4L390.2 357.9L390.3 358.5L390.3 359.1L390.4 359.6L390.4 360.2L390.5 360.8L390.5 361.4L390.6 361.9L390.7 362.5L390.7 363.1L390.8 363.6L390.8 364.1L390.9 364.6L390.9 365.1L391.0 365.6L391.0 366.1L391.1 366.5L391.2 366.9L391.2 367.3L391.3 367.6L391.3 367.9L391.4 368.2L391.5 368.5L391.8 369.5L392.2 370.3L392.5 370.8L392.9 371.0L393.3 371.1L393.7 371.0L394.0 370.7L394.3 370.4L394.5 370.2L394.6 370.0L394.7 369.7L394.8 369.4L394.9 369.1L395.0 368.8L395.1 368.4L395.2 368.0L395.3 367.6L395.4 367.1L395.5 366.7L395.7 366.2L395.8 365.7L395.9 365.3L396.0 364.8L396.1 364.3L396.2 363.9L396.3 363.4L396.4 363.0L396.4 362.5L396.5 362.1L396.6 361.8L396.8 361.3L396.9 360.8L397.0 360.2L397.1 359.6L397.2 358.9L397.3 358.2L397.4 357.6L397.5 356.9L397.6 356.3L397.7 355.7L397.8 355.2L397.9 354.7L398.0 354.3L398.1 354.0L398.2 353.7L398.3 353.6L398.4 353.6L398.5 353.8L398.6 354.1L398.6 354.2L398.6 354.4L398.6 354.6L398.7 354.9L398.7 355.2L398.7 355.5L398.7 355.8L398.8 356.2L398.8 356.5L398.8 357.0L398.8 357.4L398.8 357.8L398.9 358.3L398.9 358.8L398.9 359.3L398.9 359.8L398.9 360.4L399.0 360.9L399.0 361.4L399.0 362.0L399.0 362.6L399.0 363.2L399.1 363.7L399.1 364.3L399.1 364.9L399.1 365.5L399.1 366.1L399.1 366.7L399.2 367.2L399.2 367.8L399.2 368.4L399.2 368.9L399.2 369.5L399.2 370.0L399.3 370.5L399.3 371.0L399.3 371.5L399.3 372.0L399.3 372.5L399.4 372.9L399.4 373.3L399.4 373.7L399.4 374.1L399.4 374.4L399.5 374.8L399.5 375.0L399.5 375.3L399.5 375.5L399.6 375.7L399.6 375.9L399.6 376.0L399.6 376.1L399.7 376.1L399.7 376.2L399.7 376.1L399.7 376.1L399.8 376.0L399.8 375.9L399.8 375.7L399.8 375.5L399.8 375.3L399.9 375.1L399.9 374.8L399.9 374.6L399.9 374.3L400.0 373.9L400.0 373.6L400.0 373.2L400.0 372.8L400.1 372.4L400.1 372.0L400.1 371.5L400.2 371.1L400.2 370.6L400.2 370.1L400.2 369.6L400.3 369.1L400.3 368.6L400.3 368.0L400.3 367.5L400.4 366.9L400.4 366.4L400.4 365.8L400.5 365.2L400.5 364.6L400.5 364.1L400.5 363.5L400.6 362.9L400.6 362.3L400.6 361.7L400.7 361.1L400.7 360.5L400.7 359.9L400.7 359.4L400.8 358.8L400.8 358.2L400.8 357.6L400.9 357.1L400.9 356.5L400.9 356.0L401.0 355.5L401.0 355.0L401.0 354.4L401.0 354.0L401.1 353.5L401.1 353.0L401.1 352.6L401.2 352.1L401.2 351.7L401.2 351.3L401.3 351.0L401.3 350.6L401.3 350.3L401.3 350.0L401.4 349.7L401.4 349.4L401.4 349.2L401.5 349.0L401.5 348.8L401.5 348.6L401.5 348.5L401.6 348.4L401.6 348.4L401.6 348.3L401.7 348.3L401.7 348.4L401.7 348.5L401.7 348.6L401.8 348.7L401.8 348.9L401.8 349.1L401.9 349.3L401.9 349.6L401.9 349.9L402.0 350.2L402.0 350.5L402.0 350.9L402.0 351.3L402.1 351.7L402.1 352.1L402.1 352.6L402.2 353.0L402.2 353.5L402.2 354.0L402.3 354.5L402.3 355.0L402.3 355.6L402.3 356.1L402.4 356.7L402.4 357.3L402.4 357.8L402.5 358.4L402.5 359.0L402.5 359.6L402.6 360.2L402.6 360.8L402.6 361.4L402.6 362.0L402.7 362.6L402.7 363.2L402.7 363.8L402.8 364.4L402.8 364.9L402.8 365.5L402.9 366.1L402.9 366.6L402.9 367.2L402.9 367.7L403.0 368.2L403.0 368.7L403.0 369.2L403.1 369.7L403.1 370.2L403.1 370.6L403.2 371.0L403.2 371.4L403.2 371.8L403.2 372.2L403.3 372.5L403.3 372.8L403.3 373.1L403.4 373.3L403.4 373.6L403.4 373.8L403.5 373.9L403.5 374.1L403.5 374.1L403.5 374.2L403.6 374.2L403.6 374.2L403.7 374.2L403.7 374.1L403.7 373.9L403.8 373.7L403.8 373.5L403.8 373.2L403.9 373.0L403.9 372.6L404.0 372.3L404.0 371.9L404.0 371.5L404.1 371.0L404.1 370.6L404.2 370.1L404.2 369.6L404.2 369.0L404.3 368.5L404.3 368.0L404.3 367.4L404.4 366.8L404.4 366.2L404.5 365.6L404.5 365.0L404.5 364.4L404.6 363.9L404.6 363.3L404.7 362.7L404.7 362.1L404.7 361.5L404.8 360.9L404.8 360.3L404.8 359.8L404.9 359.2L404.9 358.7L405.0 358.2L405.0 357.7L405.0 357.3L405.1 356.8L405.1 356.4L405.2 356.0L405.2 355.7L405.2 355.3L405.3 355.0L405.3 354.8L405.3 354.5L405.4 354.3L405.4 354.2L405.5 354.1L405.5 354.0L405.6 353.9L405.7 354.0L405.7 354.1L405.8 354.2L405.9 354.4L405.9 354.7L406.0 355.0L406.1 355.4L406.1 355.8L406.2 356.2L406.3 356.7L406.3 357.2L406.4 357.7L406.5 358.3L406.6 358.8L406.6 359.4L406.7 360.0L406.8 360.5L406.8 361.1L406.9 361.7L407.0 362.2L407.0 362.8L407.1 363.3L407.1 363.8L407.2 364.3L407.3 364.8L407.3 365.2L407.4 365.6L407.4 366.1L407.5 366.6L407.6 367.1L407.6 367.7L407.7 368.4L407.7 369.0L407.8 369.7L407.8 370.3L407.9 371.0L407.9 371.7L408.0 372.3L408.0 372.9L408.1 373.5L408.1 374.0L408.2 374.5L408.2 374.9L408.3 375.2L408.3 375.5L408.4 375.7L408.4 375.8L408.5 375.8L408.6 375.7L408.6 375.5L408.7 375.2L408.7 375.0L408.8 374.9L408.8 374.7L408.8 374.4L408.9 374.2L408.9 373.9L408.9 373.6L408.9 373.3L409.0 373.0L409.0 372.7L409.0 372.3L409.1 371.9L409.1 371.5L409.1 371.1L409.2 370.7L409.2 370.2L409.2 369.8L409.3 369.3L409.3 368.8L409.3 368.3L409.4 367.8L409.4 367.3L409.4 366.8L409.5 366.2L409.5 365.7L409.5 365.1L409.6 364.6L409.6 364.0L409.6 363.5L409.7 362.9L409.7 362.3L409.8 361.8L409.8 361.2L409.8 360.6L409.9 360.0L409.9 359.5L409.9 358.9L410.0 358.3L410.0 357.8L410.1 357.2L410.1 356.7L410.1 356.1L410.2 355.6L410.2 355.1L410.2 354.5L410.3 354.0L410.3 353.5L410.3 353.0L410.4 352.5L410.4 352.1L410.5 351.6L410.5 351.2L410.5 350.7L410.6 350.3L410.6 349.9L410.6 349.5L410.7 349.2L410.7 348.8L410.8 348.5L410.8 348.2L410.8 347.9L410.9 347.7L410.9 347.4L410.9 347.2L411.0 347.0L411.0 346.9L411.0 346.7L411.1 346.6L411.1 346.5L411.1 346.5L411.2 346.4L411.2 346.4L411.2 346.4L411.3 346.5L411.3 346.6L411.3 346.7L411.4 346.8L411.4 347.0L411.4 347.2L411.5 347.4L411.5 347.6L411.5 347.9L411.6 348.2L411.6 348.5L411.6 348.8L411.6 349.1L411.7 349.5L411.7 349.9L411.7 350.3L411.8 350.7L411.8 351.1L411.8 351.6L411.9 352.0L411.9 352.5L411.9 353.0L412.0 353.5L412.0 354.0L412.0 354.5L412.1 355.0L412.1 355.6L412.1 356.1L412.1 356.7L412.2 357.2L412.2 357.8L412.2 358.4L412.3 358.9L412.3 359.5L412.3 360.1L412.4 360.7L412.4 361.3L412.4 361.9L412.5 362.4L412.5 363.0L412.5 363.6L412.5 364.2L412.6 364.8L412.6 365.4L412.6 365.9L412.7 366.5L412.7 367.0L412.7 367.6L412.8 368.1L412.8 368.7L412.8 369.2L412.8 369.7L412.9 370.2L412.9 370.7L412.9 371.2L413.0 371.7L413.0 372.1L413.0 372.6L413.1 373.0L413.1 373.4L413.1 373.8L413.1 374.2L413.2 374.5L413.2 374.9L413.2 375.2L413.3 375.5L413.3 375.7L413.3 376.0L413.3 376.2L413.4 376.4L413.4 376.6L413.4 376.8L413.5 376.9L413.5 377.0L413.5 377.1L413.5 377.2L413.6 377.2L413.6 377.1L413.7 377.1L413.7 377.0L413.7 376.8L413.8 376.6L413.8 376.4L413.9 376.1L413.9 375.8L413.9 375.5L414.0 375.1L414.0 374.7L414.1 374.3L414.1 373.8L414.1 373.4L414.2 372.9L414.2 372.4L414.2 371.9L414.3 371.3L414.3 370.7L414.3 370.2L414.4 369.6L414.4 369.0L414.5 368.4L414.5 367.8L414.5 367.2L414.6 366.6L414.6 366.0L414.6 365.4L414.7 364.8L414.7 364.2L414.7 363.6L414.8 363.0L414.8 362.4L414.8 361.9L414.9 361.3L414.9 360.8L415.0 360.3L415.0 359.8L415.0 359.3L415.1 358.8L415.1 358.4L415.1 358.0L415.2 357.7L415.2 357.3L415.2 357.0L415.3 356.7L415.3 356.5L415.4 356.3L415.4 356.1L415.4 356.0L415.5 355.8L415.6 355.8L415.6 355.8L415.7 355.9L415.8 356.1L415.9 356.4L415.9 356.7L416.0 357.1L416.1 357.5L416.1 358.0L416.2 358.5L416.3 359.1L416.4 359.7L416.4 360.2L416.5 360.9L416.6 361.5L416.6 362.1L416.7 362.7L416.8 363.3L416.9 363.9L416.9 364.4L417.0 364.9L417.1 365.4L417.2 365.8L417.3 366.2L417.3 366.5L417.5 367.1L417.7 367.7L417.9 368.3L418.0 368.9L418.2 369.5L418.4 370.0L418.6 370.4L418.8 370.8L419.0 371.1L419.2 371.3L419.3 371.4L419.5 371.5L419.6 371.3L419.7 371.2L419.8 371.0L419.9 370.8L419.9 370.6L420.0 370.3L420.1 370.0L420.1 369.6L420.2 369.2L420.2 368.8L420.3 368.4L420.4 367.9L420.4 367.4L420.5 367.0L420.5 366.5L420.6 366.0L420.6 365.5L420.7 365.0L420.8 364.5L420.8 364.0L420.9 363.5L421.0 363.0L421.0 362.6L421.1 362.2L421.2 361.8L421.3 361.3L421.3 360.9L421.4 360.4L421.5 359.8L421.6 359.3L421.7 358.7L421.8 358.1L421.9 357.5L422.0 356.9L422.1 356.4L422.2 355.8L422.3 355.2L422.4 354.7L422.5 354.2L422.6 353.7L422.7 353.3L422.8 352.9L422.9 352.6L423.0 352.4L423.1 352.2L423.2 352.0L423.3 352.0L423.4 352.0L423.5 352.2L423.5 352.3L423.6 352.4L423.6 352.6L423.7 352.9L423.7 353.1L423.8 353.4L423.9 353.7L423.9 354.1L424.0 354.5L424.0 354.9L424.1 355.3L424.1 355.7L424.2 356.2L424.3 356.7L424.3 357.2L424.4 357.7L424.4 358.2L424.5 358.7L424.5 359.3L424.6 359.8L424.7 360.4L424.7 360.9L424.8 361.5L424.8 362.0L424.9 362.6L424.9 363.1L425.0 363.7L425.1 364.2L425.1 364.8L425.2 365.3L425.2 365.8L425.3 366.3L425.3 366.7L425.4 367.2L425.4 367.6L425.5 368.0L425.6 368.4L425.6 368.7L425.7 369.1L425.7 369.4L425.8 369.6L425.8 369.9L425.9 370.1L425.9 370.3L426.0 370.4L426.1 370.5L426.2 370.5L426.3 370.4L426.3 370.2L426.4 369.9L426.5 369.5L426.6 369.1L426.7 368.6L426.8 368.0L426.8 367.4L426.9 366.8L427.0 366.1L427.1 365.5L427.2 364.9L427.3 364.3L427.3 363.7L427.4 363.2L427.5 362.8L427.6 362.4L427.7 362.1L427.8 361.9L427.9 361.8L428.0 361.8L428.2 362.0L428.3 362.4L428.4 362.8L428.6 363.4L428.7 364.0L428.9 364.7L429.0 365.4L429.2 366.1L429.3 366.8L429.5 367.4L429.6 367.9L429.8 368.3L429.9 368.6L430.1 368.8L430.2 368.7L430.4 368.5L430.4 368.3L430.5 368.1L430.5 367.9L430.6 367.6L430.6 367.3L430.7 366.9L430.7 366.5L430.8 366.1L430.8 365.7L430.9 365.2L430.9 364.7L431.0 364.2L431.0 363.7L431.0 363.1L431.1 362.5L431.1 362.0L431.2 361.4L431.2 360.8L431.3 360.2L431.3 359.5L431.4 358.9L431.4 358.3L431.5 357.7L431.5 357.1L431.5 356.5L431.6 355.9L431.6 355.3L431.7 354.7L431.7 354.2L431.8 353.6L431.8 353.1L431.9 352.6L431.9 352.1L432.0 351.7L432.0 351.2L432.1 350.9L432.1 350.5L432.2 350.2L432.2 349.9L432.3 349.6L432.3 349.4L432.4 349.3L432.4 349.1L432.5 349.1L432.5 349.0L432.6 349.1L432.6 349.2L432.7 349.3L432.7 349.4L432.7 349.5L432.8 349.7L432.8 349.9L432.8 350.0L432.9 350.3L432.9 350.5L432.9 350.8L432.9 351.0L433.0 351.3L433.0 351.6L433.0 352.0L433.1 352.3L433.1 352.7L433.1 353.1L433.2 353.5L433.2 353.9L433.2 354.3L433.3 354.8L433.3 355.2L433.3 355.7L433.4 356.2L433.4 356.6L433.4 357.1L433.5 357.7L433.5 358.2L433.5 358.7L433.6 359.2L433.6 359.8L433.6 360.3L433.7 360.9L433.7 361.5L433.7 362.0L433.8 362.6L433.8 363.2L433.8 363.8L433.9 364.4L433.9 365.0L434.0 365.6L434.0 366.1L434.0 366.7L434.1 367.3L434.1 367.9L434.1 368.5L434.2 369.1L434.2 369.7L434.2 370.3L434.3 370.9L434.3 371.5L434.3 372.0L434.4 372.6L434.4 373.2L434.4 373.7L434.5 374.3L434.5 374.8L434.5 375.3L434.6 375.9L434.6 376.4L434.6 376.9L434.7 377.4L434.7 377.9L434.7 378.4L434.8 378.8L434.8 379.3L434.8 379.7L434.9 380.1L434.9 380.5L434.9 380.9L435.0 381.3L435.0 381.7L435.0 382.0L435.1 382.4L435.1 382.7L435.1 383.0L435.2 383.2L435.2 383.5L435.2 383.7L435.3 383.9L435.3 384.1L435.3 384.3L435.3 384.4L435.4 384.5L435.4 384.6L435.4 384.7L435.5 384.8L435.5 384.8L435.5 384.8L435.6 384.8L435.6 384.7L435.6 384.6L435.6 384.6L435.6 384.4L435.7 384.3L435.7 384.2L435.7 384.0L435.7 383.8L435.8 383.6L435.8 383.4L435.8 383.2L435.8 382.9L435.8 382.7L435.9 382.4L435.9 382.1L435.9 381.8L435.9 381.5L435.9 381.1L436.0 380.8L436.0 380.4L436.0 380.0L436.0 379.6L436.1 379.2L436.1 378.8L436.1 378.4L436.1 377.9L436.1 377.5L436.2 377.0L436.2 376.6L436.2 376.1L436.2 375.6L436.2 375.1L436.3 374.6L436.3 374.1L436.3 373.6L436.3 373.0L436.3 372.5L436.3 372.0L436.4 371.4L436.4 370.9L436.4 370.3L436.4 369.7L436.4 369.2L436.5 368.6L436.5 368.0L436.5 367.5L436.5 366.9L436.5 366.3L436.6 365.7L436.6 365.1L436.6 364.5L436.6 364.0L436.6 363.4L436.7 362.8L436.7 362.2L436.7 361.6L436.7 361.0L436.7 360.4L436.7 359.8L436.8 359.3L436.8 358.7L436.8 358.1L436.8 357.5L436.8 357.0L436.9 356.4L436.9 355.8L436.9 355.3L436.9 354.7L436.9 354.2L436.9 353.7L437.0 353.1L437.0 352.6L437.0 352.1L437.0 351.6L437.0 351.1L437.1 350.6L437.1 350.1L437.1 349.6L437.1 349.2L437.1 348.7L437.2 348.3L437.2 347.8L437.2 347.4L437.2 347.0L437.2 346.6L437.2 346.2L437.3 345.8L437.3 345.5L437.3 345.1L437.3 344.8L437.3 344.5L437.4 344.2L437.4 343.9L437.4 343.6L437.4 343.3L437.4 343.1L437.5 342.9L437.5 342.7L437.5 342.5L437.5 342.3L437.5 342.1L437.6 342.0L437.6 341.9L437.6 341.8L437.6 341.7L437.6 341.7L437.7 341.6L437.7 341.6L437.7 341.6L437.7 341.6L437.8 341.7L437.8 341.8L437.8 341.9L437.8 342.0L437.9 342.2L437.9 342.3L437.9 342.5L437.9 342.7L437.9 343.0L438.0 343.2L438.0 343.5L438.0 343.8L438.0 344.1L438.1 344.4L438.1 344.8L438.1 345.1L438.1 345.5L438.2 345.9L438.2 346.3L438.2 346.7L438.2 347.1L438.3 347.6L438.3 348.0L438.3 348.5L438.4 349.0L438.4 349.5L438.4 350.0L438.4 350.5L438.5 351.0L438.5 351.6L438.5 352.1L438.5 352.6L438.6 353.2L438.6 353.7L438.6 354.3L438.6 354.9L438.7 355.5L438.7 356.0L438.7 356.6L438.7 357.2L438.8 357.8L438.8 358.4L438.8 359.0L438.8 359.6L438.9 360.2L438.9 360.8L438.9 361.4L438.9 362.0L439.0 362.6L439.0 363.2L439.0 363.8L439.0 364.3L439.1 364.9L439.1 365.5L439.1 366.1L439.1 366.6L439.2 367.2L439.2 367.8L439.2 368.3L439.2 368.9L439.3 369.4L439.3 369.9L439.3 370.4L439.3 370.9L439.4 371.4L439.4 371.9L439.4 372.4L439.4 372.9L439.5 373.3L439.5 373.8L439.5 374.2L439.5 374.6L439.6 375.0L439.6 375.4L439.6 375.7L439.6 376.1L439.7 376.4L439.7 376.7L439.7 377.0L439.7 377.3L439.8 377.6L439.8 377.8L439.8 378.0L439.8 378.2L439.8 378.4L439.9 378.6L439.9 378.7L439.9 378.8L439.9 378.9L440.0 379.0L440.0 379.1L440.0 379.1L440.1 379.1L440.1 379.0L440.1 378.9L440.1 378.8L440.2 378.7L440.2 378.5L440.2 378.3L440.3 378.0L440.3 377.8L440.3 377.5L440.4 377.1L440.4 376.8L440.4 376.4L440.4 376.0L440.5 375.6L440.5 375.2L440.5 374.7L440.6 374.3L440.6 373.8L440.6 373.3L440.7 372.8L440.7 372.2L440.7 371.7L440.7 371.1L440.8 370.6L440.8 370.0L440.8 369.4L440.9 368.8L440.9 368.2L440.9 367.6L440.9 367.0L441.0 366.4L441.0 365.8L441.0 365.2L441.1 364.6L441.1 364.0L441.1 363.4L441.1 362.8L441.2 362.2L441.2 361.6L441.2 361.0L441.2 360.5L441.3 359.9L441.3 359.3L441.3 358.8L441.4 358.3L441.4 357.8L441.4 357.3L441.4 356.8L441.5 356.3L441.5 355.9L441.5 355.5L441.5 355.0L441.6 354.7L441.6 354.3L441.6 354.0L441.7 353.6L441.7 353.4L441.7 353.1L441.7 352.9L441.8 352.7L441.8 352.5L441.8 352.4L441.8 352.2L441.9 352.2L441.9 352.1L442.0 352.1L442.0 352.2L442.0 352.3L442.1 352.4L442.1 352.7L442.1 352.9L442.2 353.2L442.2 353.5L442.2 353.9L442.3 354.3L442.3 354.7L442.3 355.2L442.4 355.7L442.4 356.2L442.5 356.7L442.5 357.3L442.5 357.8L442.6 358.4L442.6 359.0L442.6 359.6L442.7 360.3L442.7 360.9L442.7 361.5L442.8 362.1L442.8 362.8L442.8 363.4L442.9 364.0L442.9 364.6L442.9 365.2L443.0 365.8L443.0 366.4L443.0 366.9L443.1 367.4L443.1 368.0L443.1 368.4L443.2 368.9L443.2 369.3L443.3 369.7L443.3 370.0L443.3 370.4L443.4 370.6L443.4 370.9L443.4 371.1L443.5 371.2L443.5 371.3L443.6 371.3L443.6 371.3L443.6 371.3L443.7 371.2L443.7 371.0L443.7 370.9L443.8 370.7L443.8 370.4L443.8 370.1L443.9 369.8L443.9 369.5L443.9 369.1L444.0 368.7L444.0 368.2L444.0 367.8L444.1 367.3L444.1 366.8L444.1 366.3L444.2 365.7L444.2 365.2L444.3 364.6L444.3 364.0L444.3 363.5L444.4 362.9L444.4 362.2L444.4 361.6L444.5 361.0L444.5 360.4L444.5 359.8L444.6 359.1L444.6 358.5L444.7 357.9L444.7 357.3L444.7 356.7L444.8 356.1L444.8 355.5L444.8 354.9L444.9 354.3L444.9 353.8L445.0 353.2L445.0 352.7L445.0 352.2L445.1 351.7L445.1 351.3L445.1 350.9L445.2 350.5L445.2 350.1L445.3 349.7L445.3 349.4L445.3 349.1L445.4 348.9L445.4 348.7L445.5 348.5L445.5 348.4L445.5 348.3L445.6 348.2L445.6 348.2L445.7 348.2L445.7 348.3L445.7 348.4L445.8 348.5L445.8 348.7L445.8 348.8L445.8 349.0L445.9 349.2L445.9 349.4L445.9 349.6L446.0 349.9L446.0 350.1L446.0 350.4L446.0 350.7L446.1 351.1L446.1 351.4L446.1 351.8L446.2 352.1L446.2 352.5L446.2 352.9L446.2 353.4L446.3 353.8L446.3 354.2L446.3 354.7L446.4 355.2L446.4 355.6L446.4 356.1L446.4 356.6L446.5 357.1L446.5 357.6L446.5 358.2L446.6 358.7L446.6 359.2L446.6 359.8L446.6 360.3L446.7 360.9L446.7 361.5L446.7 362.0L446.8 362.6L446.8 363.2L446.8 363.8L446.8 364.3L446.9 364.9L446.9 365.5L446.9 366.1L447.0 366.7L447.0 367.2L447.0 367.8L447.1 368.4L447.1 369.0L447.1 369.6L447.2 370.1L447.2 370.7L447.2 371.3L447.2 371.8L447.3 372.4L447.3 372.9L447.3 373.5L447.4 374.0L447.4 374.5L447.4 375.0L447.5 375.5L447.5 376.0L447.5 376.5L447.6 377.0L447.6 377.5L447.6 377.9L447.7 378.3L447.7 378.8L447.7 379.2L447.8 379.6L447.8 380.0L447.8 380.3L447.9 380.7L447.9 381.0L447.9 381.4L448.0 381.7L448.0 382.0L448.0 382.2L448.1 382.5L448.1 382.7L448.1 382.9L448.2 383.1L448.2 383.3L448.2 383.4L448.3 383.5L448.3 383.6L448.3 383.7L448.4 383.8L448.4 383.8L448.4 383.8L448.5 383.8L448.5 383.7L448.5 383.6L448.6 383.5L448.6 383.4L448.7 383.3L448.7 383.1L448.7 382.9L448.8 382.7L448.8 382.4L448.9 382.2L448.9 381.9L449.0 381.6L449.0 381.2L449.0 380.9L449.1 380.5L449.1 380.2L449.2 379.8L449.2 379.3L449.2 378.9L449.3 378.5L449.3 378.0L449.4 377.6L449.4 377.1L449.5 376.6L449.5 376.1L449.6 375.6L449.6 375.1L449.6 374.5L449.7 374.0L449.7 373.4L449.8 372.9L449.8 372.3L449.9 371.8L449.9 371.2L450.0 370.6L450.0 370.0L450.0 369.5L450.1 368.9L450.1 368.3L450.2 367.7L450.2 367.1L450.3 366.5L450.3 365.9L450.4 365.4L450.4 364.8L450.4 364.2L450.5 363.6L450.5 363.1L450.6 362.5L450.6 361.9L450.7 361.4L450.7 360.8L450.8 360.3L450.8 359.8L450.8 359.2L450.9 358.7L450.9 358.2L451.0 357.7L451.0 357.3L451.1 356.8L451.1 356.3L451.1 355.9L451.2 355.5L451.2 355.1L451.3 354.7L451.3 354.3L451.4 353.9L451.4 353.6L451.4 353.3L451.5 353.0L451.5 352.7L451.6 352.4L451.6 352.2L451.6 352.0L451.7 351.8L451.7 351.6L451.8 351.4L451.8 351.3L451.8 351.2L451.9 351.1L452.0 351.0L452.0 351.0L452.1 351.0L452.2 351.1L452.3 351.2L452.3 351.4L452.4 351.6L452.5 351.9L452.5 352.2L452.6 352.5L452.7 352.9L452.7 353.3L452.8 353.7L452.9 354.1L452.9 354.6L453.0 355.1L453.1 355.6L453.1 356.2L453.2 356.7L453.2 357.3L453.3 357.9L453.4 358.5L453.4 359.1L453.5 359.7L453.6 360.3L453.6 360.9L453.7 361.5L453.8 362.1L453.8 362.6L453.9 363.2L453.9 363.8L454.0 364.4L454.1 364.9L454.1 365.4L454.2 365.9L454.2 366.4L454.3 366.9L454.3 367.3L454.4 367.7L454.5 368.1L454.5 368.4L454.6 368.7L454.6 369.0L454.7 369.2L454.7 369.4L455.0 370.1L455.3 370.4L455.5 370.2L455.7 369.8L455.9 369.1L456.1 368.3L456.4 367.4L456.6 366.5L456.7 366.3L456.8 365.9L456.9 365.6L457.0 365.2L457.1 364.7L457.2 364.2L457.2 363.7L457.3 363.2L457.4 362.6L457.5 362.1L457.6 361.5L457.7 361.0L457.8 360.4L457.9 359.9L458.0 359.3L458.1 358.8L458.2 358.3L458.3 357.9L458.4 357.5L458.5 357.1L458.6 356.8L458.7 356.5L458.8 356.2L458.9 356.1L458.9 356.0L459.0 356.0L459.1 356.0L459.2 356.1L459.3 356.2L459.3 356.4L459.4 356.7L459.4 357.0L459.5 357.3L459.6 357.7L459.6 358.1L459.7 358.5L459.8 358.9L459.8 359.4L459.9 359.9L459.9 360.5L460.0 361.0L460.1 361.6L460.1 362.2L460.2 362.7L460.3 363.3L460.3 363.9L460.4 364.5L460.4 365.1L460.5 365.6L460.6 366.2L460.6 366.8L460.7 367.3L460.7 367.8L460.8 368.3L460.9 368.8L460.9 369.2L461.0 369.6L461.0 370.0L461.1 370.3L461.1 370.6L461.2 370.8L461.3 371.0L461.3 371.2L461.4 371.3L461.4 371.3L461.5 371.3L461.5 371.2L461.6 371.1L461.7 370.9L461.7 370.7L461.8 370.4L461.8 370.0L461.9 369.6L461.9 369.2L462.0 368.8L462.0 368.3L462.1 367.8L462.1 367.3L462.2 366.7L462.2 366.1L462.3 365.6L462.3 365.0L462.4 364.4L462.4 363.8L462.5 363.2L462.5 362.6L462.6 362.0L462.6 361.5L462.7 360.9L462.7 360.4L462.8 359.9L462.8 359.4L462.9 359.0L463.0 358.6L463.0 358.2L463.1 357.9L463.1 357.6L463.2 357.3L463.2 357.2L463.3 357.0L463.3 357.0L463.4 356.9L463.5 357.0L463.6 357.1L463.6 357.2L463.7 357.5L463.8 357.7L463.9 358.0L464.0 358.3L464.0 358.7L464.1 359.1L464.2 359.6L464.3 360.0L464.4 360.5L464.5 361.0L464.5 361.5L464.6 362.1L464.7 362.6L464.8 363.2L464.9 363.7L464.9 364.2L465.0 364.8L465.1 365.3L465.2 365.8L465.3 366.3L465.3 366.8L465.4 367.3L465.5 367.7L465.6 368.1L465.6 368.5L465.7 368.9L465.8 369.5L465.9 370.0L466.0 370.6L466.1 371.2L466.2 371.9L466.3 372.5L466.4 373.1L466.4 373.8L466.5 374.4L466.6 374.9L466.7 375.5L466.8 376.0L466.9 376.4L467.0 376.8L467.0 377.1L467.1 377.3L467.2 377.5L467.3 377.5L467.4 377.5L467.5 377.4L467.6 377.1L467.6 376.9L467.6 376.8L467.7 376.6L467.7 376.3L467.7 376.1L467.8 375.8L467.8 375.4L467.8 375.1L467.9 374.7L467.9 374.3L467.9 373.9L468.0 373.5L468.0 373.0L468.0 372.6L468.1 372.1L468.1 371.6L468.2 371.1L468.2 370.6L468.2 370.0L468.3 369.5L468.3 368.9L468.3 368.4L468.4 367.8L468.4 367.2L468.4 366.6L468.5 366.1L468.5 365.5L468.5 364.9L468.6 364.3L468.6 363.8L468.6 363.2L468.7 362.6L468.7 362.1L468.8 361.5L468.8 361.0L468.8 360.5L468.9 359.9L468.9 359.4L468.9 359.0L469.0 358.5L469.0 358.0L469.1 357.6L469.1 357.2L469.1 356.8L469.2 356.4L469.2 356.0L469.3 355.7L469.3 355.4L469.3 355.1L469.4 354.9L469.4 354.7L469.5 354.5L469.5 354.3L469.5 354.2L469.6 354.1L469.6 354.1L469.7 354.1L469.7 354.1L469.8 354.2L469.8 354.3L469.8 354.4L469.9 354.6L469.9 354.8L470.0 355.1L470.0 355.4L470.1 355.7L470.1 356.0L470.2 356.4L470.2 356.8L470.3 357.2L470.3 357.6L470.3 358.1L470.4 358.6L470.4 359.1L470.5 359.6L470.5 360.1L470.6 360.7L470.6 361.2L470.7 361.8L470.7 362.4L470.8 363.0L470.8 363.6L470.9 364.2L470.9 364.8L471.0 365.4L471.0 366.0L471.1 366.7L471.1 367.3L471.2 367.9L471.2 368.5L471.3 369.1L471.3 369.7L471.4 370.3L471.5 370.9L471.5 371.4L471.6 372.0L471.6 372.5L471.7 373.0L471.7 373.5L471.8 374.0L471.8 374.5L471.8 374.9L471.9 375.4L471.9 375.7L472.0 376.1L472.0 376.5L472.1 376.8L472.1 377.1L472.2 377.3L472.2 377.5L472.3 377.7L472.3 377.9L472.4 378.0L472.4 378.1L472.5 378.1L472.5 378.1L472.5 378.0L472.6 378.0L472.6 377.9L472.6 377.8L472.7 377.6L472.7 377.5L472.7 377.3L472.8 377.1L472.8 376.8L472.8 376.6L472.9 376.3L472.9 376.0L472.9 375.7L472.9 375.4L473.0 375.0L473.0 374.7L473.0 374.3L473.1 373.9L473.1 373.5L473.1 373.1L473.2 372.6L473.2 372.2L473.2 371.7L473.2 371.2L473.3 370.7L473.3 370.2L473.3 369.7L473.4 369.2L473.4 368.7L473.4 368.1L473.4 367.6L473.5 367.1L473.5 366.5L473.5 365.9L473.6 365.4L473.6 364.8L473.6 364.2L473.6 363.7L473.7 363.1L473.7 362.5L473.7 361.9L473.7 361.3L473.8 360.8L473.8 360.2L473.8 359.6L473.9 359.0L473.9 358.5L473.9 357.9L473.9 357.3L474.0 356.8L474.0 356.2L474.0 355.7L474.0 355.1L474.1 354.6L474.1 354.1L474.1 353.6L474.2 353.1L474.2 352.6L474.2 352.1L474.2 351.6L474.3 351.2L474.3 350.7L474.3 350.3L474.3 349.9L474.4 349.5L474.4 349.1L474.4 348.7L474.5 348.3L474.5 348.0L474.5 347.7L474.5 347.4L474.6 347.1L474.6 346.8L474.6 346.6L474.6 346.4L474.7 346.2L474.7 346.0L474.7 345.8L474.8 345.7L474.8 345.6L474.8 345.5L474.8 345.5L474.9 345.4L474.9 345.4L475.0 345.5L475.0 345.5L475.0 345.7L475.1 345.8L475.1 346.0L475.1 346.2L475.2 346.4L475.2 346.7L475.2 347.0L475.3 347.3L475.3 347.6L475.3 348.0L475.4 348.4L475.4 348.8L475.5 349.2L475.5 349.7L475.5 350.1L475.6 350.6L475.6 351.1L475.6 351.6L475.7 352.2L475.7 352.7L475.7 353.2L475.8 353.8L475.8 354.4L475.8 355.0L475.9 355.5L475.9 356.1L475.9 356.7L476.0 357.3L476.0 357.9L476.1 358.5L476.1 359.1L476.1 359.7L476.2 360.3L476.2 360.9L476.2 361.5L476.3 362.1L476.3 362.7L476.3 363.2L476.4 363.8L476.4 364.3L476.4 364.9L476.5 365.4L476.5 365.9L476.6 366.4L476.6 366.9L476.6 367.3L476.7 367.8L476.7 368.2L476.7 368.6L476.8 369.0L476.8 369.3L476.8 369.7L476.9 370.0L476.9 370.3L477.0 370.5L477.0 370.7L477.0 370.9L477.1 371.1L477.1 371.2L477.1 371.3L477.2 371.4L477.3 371.5L477.3 371.4L477.4 371.3L477.5 371.1L477.5 370.9L477.6 370.6L477.7 370.2L477.7 369.8L477.8 369.4L477.9 368.9L477.9 368.4L478.0 367.8L478.1 367.3L478.1 366.7L478.2 366.1L478.3 365.4L478.3 364.8L478.4 364.1L478.5 363.5L478.5 362.8L478.6 362.2L478.7 361.6L478.7 361.0L478.8 360.4L478.9 359.8L478.9 359.2L479.0 358.7L479.1 358.2L479.1 357.8L479.2 357.3L479.3 357.0L479.3 356.7L479.4 356.4L479.4 356.2L479.5 356.1L479.6 356.0L479.6 356.0L479.7 356.1L479.7 356.2L479.8 356.3L479.8 356.5L479.9 356.8L480.0 357.0L480.0 357.4L480.1 357.7L480.1 358.1L480.2 358.5L480.2 359.0L480.3 359.4L480.3 359.9L480.4 360.4L480.4 361.0L480.5 361.5L480.5 362.1L480.6 362.7L480.6 363.3L480.7 363.8L480.7 364.4L480.8 365.0L480.8 365.6L480.9 366.2L480.9 366.8L481.0 367.4L481.0 368.0L481.1 368.6L481.1 369.1L481.2 369.7L481.2 370.2L481.3 370.7L481.3 371.2L481.4 371.6L481.4 372.0L481.5 372.4L481.5 372.8L481.6 373.1L481.6 373.4L481.7 373.6L481.7 373.9L481.8 374.0L481.8 374.1L481.9 374.2L481.9 374.2L482.0 374.2L482.0 374.1L482.1 374.0L482.1 373.8L482.2 373.6L482.2 373.4L482.3 373.1L482.3 372.8L482.4 372.5L482.4 372.1L482.5 371.7L482.6 371.3L482.6 370.9L482.7 370.4L482.7 369.9L482.8 369.4L482.8 368.9L482.9 368.4L482.9 367.8L483.0 367.3L483.0 366.7L483.1 366.1L483.1 365.6L483.2 365.0L483.2 364.4L483.3 363.8L483.3 363.3L483.4 362.7L483.4 362.1L483.5 361.6L483.6 361.0L483.6 360.5L483.7 360.0L483.7 359.4L483.8 359.0L483.8 358.5L483.9 358.0L483.9 357.6L484.0 357.2L484.0 356.8L484.1 356.5L484.1 356.2L484.2 355.9L484.2 355.7L484.3 355.4L484.3 355.3L484.4 355.1L484.4 355.0L484.5 355.0L484.6 355.0L484.7 355.1L484.7 355.3L484.8 355.5L484.9 355.8L485.0 356.2L485.0 356.6L485.1 357.1L485.2 357.6L485.3 358.1L485.3 358.7L485.4 359.3L485.5 359.9L485.5 360.5L485.6 361.1L485.7 361.7L485.8 362.4L485.8 363.0L485.9 363.6L486.0 364.1L486.1 364.7L486.1 365.2L486.2 365.7L486.3 366.1L486.4 366.5L486.4 366.8L486.5 367.1L486.6 367.3L486.7 367.4L486.7 367.5L486.8 367.5L486.9 367.4L487.0 367.2L487.1 367.0L487.1 366.7L487.2 366.4L487.3 366.0L487.4 365.6L487.5 365.1L487.6 364.6L487.6 364.1L487.7 363.6L487.8 363.0L487.9 362.5L488.0 361.9L488.1 361.3L488.2 360.7L488.2 360.2L488.3 359.6L488.4 359.1L488.5 358.6L488.6 358.1L488.7 357.7L488.8 357.3L488.9 356.9L488.9 356.6L489.0 356.3L489.1 356.1L489.2 356.0L489.4 355.9L489.6 355.9L489.8 356.0L489.9 356.2L490.1 356.5L490.3 356.9L490.5 357.3L490.7 357.7L490.9 358.2L491.1 358.8L491.3 359.3L491.4 359.8L491.6 360.4L491.8 360.9L491.9 361.3L492.1 361.8L492.2 362.1L492.4 362.6L492.5 363.1L492.6 363.5L492.7 364.1L492.8 364.6L492.9 365.1L493.0 365.6L493.1 366.1L493.2 366.6L493.3 367.0L493.5 367.4L493.6 367.8L493.7 368.1L493.8 368.3L493.9 368.4L494.0 368.5L494.1 368.4L494.3 368.3L494.4 368.0L494.5 367.7L494.7 367.3L494.8 366.9L494.9 366.4L495.1 365.9L495.2 365.4L495.3 364.8L495.5 364.3L495.6 363.8L495.8 363.3L495.9 362.8L496.0 362.4L496.2 362.0L496.3 361.8L496.7 361.2L497.0 360.7L497.4 360.2L497.7 359.9L498.1 359.8L498.4 359.7L498.8 359.8L499.0 360.0L499.2 360.3L499.4 360.7L499.6 361.1L499.8 361.6L500.0 362.1L500.2 362.6L500.4 363.1L500.5 363.6L500.7 364.0L500.9 364.3L501.1 364.5L501.3 364.6L501.5 364.6L501.7 364.4L501.9 364.0L502.1 363.6L502.3 363.1L502.5 362.6L502.7 362.1L502.9 361.6L503.1 361.2L503.4 360.9L503.6 360.8L503.9 360.8L504.1 360.8L504.4 360.9L504.7 361.0L505.0 361.3L505.3 361.6L505.6 362.0L505.9 362.4L506.2 363.0L506.5 363.7L506.6 363.9L506.7 364.3L506.8 364.7L506.9 365.1L507.0 365.6L507.1 366.1L507.2 366.6L507.3 367.2L507.4 367.8L507.5 368.4L507.6 369.0L507.7 369.6L507.8 370.2L507.9 370.8L508.0 371.4L508.1 372.0L508.2 372.5L508.3 373.0L508.4 373.5L508.5 373.9L508.6 374.3L508.7 374.7L508.8 375.0L508.9 375.2L509.0 375.3L509.1 375.4L509.1 375.4L509.2 375.3L509.3 375.2L509.4 375.1L509.4 374.9L509.5 374.7L509.5 374.5L509.6 374.3L509.6 374.0L509.7 373.7L509.7 373.4L509.8 373.1L509.8 372.7L509.9 372.4L509.9 372.0L510.0 371.6L510.0 371.1L510.1 370.7L510.1 370.2L510.2 369.7L510.2 369.3L510.3 368.8L510.3 368.2L510.4 367.7L510.4 367.2L510.5 366.7L510.5 366.1L510.6 365.6L510.6 365.0L510.7 364.5L510.7 363.9L510.8 363.3L510.8 362.8L510.9 362.2L510.9 361.7L511.0 361.1L511.0 360.5L511.1 360.0L511.1 359.5L511.1 358.9L511.2 358.4L511.2 357.9L511.3 357.4L511.3 356.9L511.4 356.4L511.4 356.0L511.5 355.5L511.5 355.1L511.6 354.6L511.6 354.2L511.7 353.9L511.7 353.5L511.8 353.2L511.8 352.9L511.9 352.6L511.9 352.3L512.0 352.1L512.0 351.8L512.0 351.7L512.1 351.5L512.1 351.4L512.2 351.3L512.2 351.2L512.3 351.2L512.3 351.2L512.4 351.3L512.5 351.4L512.5 351.5L512.6 351.7L512.6 352.0L512.7 352.3L512.7 352.6L512.8 352.9L512.9 353.3L512.9 353.7L513.0 354.2L513.0 354.7L513.1 355.1L513.1 355.7L513.2 356.2L513.3 356.7L513.3 357.3L513.4 357.9L513.4 358.5L513.5 359.1L513.5 359.7L513.6 360.3L513.6 360.9L513.7 361.5L513.8 362.0L513.8 362.6L513.9 363.2L513.9 363.8L514.0 364.3L514.0 364.9L514.1 365.4L514.1 365.9L514.2 366.4L514.2 366.8L514.3 367.2L514.3 367.6L514.4 368.0L514.4 368.3L514.5 368.6L514.6 368.9L514.6 369.1L514.7 369.3L514.7 369.4L514.8 369.6L514.9 369.6L515.0 369.5L515.1 369.3L515.2 369.0L515.3 368.6L515.4 368.2L515.5 367.7L515.6 367.1L515.7 366.5L515.8 365.9L515.9 365.3L516.0 364.6L516.1 364.0L516.2 363.4L516.4 362.8L516.5 362.3L516.6 361.9L516.7 361.5L516.8 361.1L516.9 360.9L517.0 360.8L517.2 360.8L517.4 360.9L517.5 361.1L517.7 361.5L517.9 361.9L518.1 362.4L518.3 362.9L518.4 363.4L518.6 364.0L518.8 364.5L519.0 365.0L519.2 365.5L519.4 365.9L519.5 366.2L519.7 366.4L519.9 366.5L520.1 366.5L520.3 366.3L520.5 366.0L520.7 365.5L520.9 365.0L521.1 364.5L521.3 363.9L521.5 363.4L521.6 362.9L521.8 362.4L522.0 362.1L522.2 361.8L522.4 361.8L522.6 361.9L522.7 362.2L522.9 362.6L523.1 363.1L523.2 363.8L523.4 364.4L523.5 365.1L523.7 365.7L523.9 366.2L524.1 366.6L524.2 366.8L524.5 366.8L524.7 366.5L524.8 366.4L524.9 366.2L524.9 366.0L525.0 365.7L525.1 365.4L525.2 365.0L525.3 364.7L525.4 364.3L525.5 363.8L525.6 363.4L525.7 362.9L525.8 362.4L526.0 362.0L526.1 361.4L526.2 360.9L526.3 360.4L526.4 359.9L526.5 359.3L526.6 358.8L526.7 358.3L526.8 357.7L527.0 357.2L527.1 356.7L527.2 356.2L527.3 355.7L527.4 355.3L527.5 354.8L527.6 354.4L527.7 354.0L527.8 353.7L527.9 353.3L528.0 353.1L528.1 352.8L528.2 352.6L528.3 352.4L528.4 352.3L528.5 352.2L528.6 352.1L528.8 352.1L528.9 352.2L529.0 352.4L529.2 352.6L529.3 352.8L529.4 353.1L529.5 353.5L529.7 353.9L529.8 354.3L529.9 354.8L530.0 355.3L530.1 355.8L530.2 356.3L530.4 356.8L530.5 357.4L530.6 357.9L530.7 358.5L530.8 359.0L530.9 359.5L531.0 360.0L531.1 360.5L531.2 360.9L531.3 361.4L531.4 361.8L531.5 362.2L531.6 362.6L531.7 363.1L531.8 363.6L531.9 364.2L532.0 364.7L532.1 365.2L532.2 365.8L532.2 366.3L532.3 366.8L532.4 367.3L532.5 367.8L532.6 368.3L532.7 368.7L532.7 369.1L532.8 369.4L532.9 369.7L533.0 370.0L533.1 370.2L533.1 370.3L533.2 370.4L533.3 370.4L533.4 370.3L533.5 370.2L533.5 369.9L533.6 369.7L533.7 369.3L533.7 368.9L533.8 368.5L533.9 368.0L533.9 367.5L534.0 367.0L534.1 366.5L534.2 365.9L534.2 365.3L534.3 364.8L534.4 364.2L534.4 363.6L534.5 363.1L534.6 362.6L534.7 362.1L534.7 361.6L534.8 361.2L534.9 360.8L535.0 360.5L535.1 360.2L535.1 360.0L535.2 359.8L535.4 359.7L535.6 359.8L535.8 360.0L536.0 360.3L536.3 360.8L536.5 361.3L536.7 361.9L536.9 362.4L537.1 363.0L537.3 363.5L537.5 364.0L537.6 364.4L537.7 364.6" stroke="#d95319" stroke-width="3.1" fill="none" stroke-linejoin="round" stroke-linecap="round" clip-path="url(#cp0_2)"/>
<path d="M90.35 483.35H538.1M90.35 477.55H538.1M90.35 471.75H538.1M90.35 460.15H538.1M90.35 454.35H538.1M90.35 448.55H538.1" stroke="#cfcfcf" stroke-width="1" stroke-dasharray="1.3 2.85" fill="none"/><path d="M89.75 489.15H538.1M89.75 465.95H538.1M89.75 442.75H538.1M139.5 440.7V492.3M228.6 440.7V492.3M318.4 440.7V492.3M407.4 440.7V492.3M496.5 440.7V492.3" stroke="#e2e2e2" stroke-width="1" fill="none"/>
<path d="M89.75 489.15h5M538.1 489.15h-5M89.75 465.95h5M538.1 465.95h-5M89.75 442.75h5M538.1 442.75h-5M139.5 440.7v5M139.5 492.3v-5M228.6 440.7v5M228.6 492.3v-5M318.4 440.7v5M318.4 492.3v-5M407.4 440.7v5M407.4 492.3v-5M496.5 440.7v5M496.5 492.3v-5" stroke="#262626" stroke-width="1.1" fill="none"/>
<rect x="89.75" y="440.7" width="448.35" height="51.6" fill="none" stroke="#262626" stroke-width="1.1"/>
<clipPath id="cp0_3"><rect x="88.25" y="439.2" width="451.35" height="54.6"/></clipPath>
<path d="M89.8 464.7L90.0 464.9L90.4 465.3L90.8 465.7L91.2 466.1L91.7 466.5L92.2 466.9L92.7 467.3L93.2 467.5L93.6 467.6L94.1 467.5L94.5 467.3L94.9 466.9L95.3 466.5L95.8 466.0L96.2 465.6L96.6 465.2L97.0 464.9L97.5 464.7L97.9 464.7L98.4 464.8L98.9 465.0L99.3 465.2L99.8 465.5L100.3 465.7L100.8 465.9L101.3 466.1L101.8 466.1L102.3 466.1L102.8 466.0L103.3 465.9L103.8 465.8L104.4 465.8L104.9 465.7L105.5 465.7L106.1 465.7L106.6 465.7L107.1 465.8L107.6 465.9L108.1 466.1L108.7 466.3L109.2 466.4L109.8 466.5L110.3 466.6L110.8 466.7L111.3 466.7L111.8 466.6L112.3 466.5L112.8 466.2L113.2 465.8L113.6 465.4L114.1 465.0L114.5 464.6L114.9 464.2L115.3 463.8L115.8 463.5L116.2 463.4L116.6 463.4L117.0 463.5L117.4 463.7L117.8 464.0L118.1 464.4L118.5 464.9L118.9 465.4L119.3 465.9L119.6 466.4L120.0 466.8L120.4 467.2L120.7 467.6L121.1 467.8L121.4 468.0L121.9 468.0L122.3 467.8L122.8 467.5L123.2 467.1L123.6 466.6L124.0 466.2L124.4 465.8L124.8 465.5L125.3 465.3L125.8 465.2L126.4 465.3L126.9 465.5L127.5 465.7L128.0 465.9L128.6 466.1L129.1 466.1L129.6 465.9L130.1 465.5L130.5 465.0L131.0 464.6L131.4 464.2L132.0 464.1L132.5 464.1L132.9 464.3L133.2 464.6L133.6 464.9L133.9 465.4L134.3 465.8L134.7 466.3L135.1 466.8L135.5 467.3L135.9 467.8L136.3 468.3L136.7 468.7L137.0 469.1L137.4 469.3L137.7 469.5L138.3 469.6L138.8 469.6L139.2 469.4L139.7 469.1L140.1 468.7L140.6 468.3L141.0 467.9L141.5 467.6L142.0 467.3L142.4 467.0L142.8 466.7L143.3 466.3L143.7 465.9L144.2 465.6L144.6 465.3L145.1 465.0L145.5 464.8L146.0 464.7L146.5 464.7L147.0 464.8L147.6 465.1L148.1 465.4L148.6 465.7L149.1 465.9L149.7 466.1L150.2 466.2L150.7 466.2L151.3 466.1L151.8 465.9L152.4 465.7L152.9 465.5L153.5 465.4L154.0 465.3L154.6 465.3L155.1 465.4L155.7 465.5L156.3 465.6L156.8 465.8L157.3 465.9L157.8 466.1L158.5 466.2L159.0 466.5L159.5 466.7L160.1 466.7L160.7 466.6L161.1 466.4L161.5 466.2L161.9 465.8L162.3 465.4L162.7 465.0L163.2 464.6L163.6 464.2L164.1 463.9L164.5 463.8L165.0 463.7L165.5 463.6L166.1 463.6L166.6 463.7L167.2 463.8L167.7 463.9L168.3 464.0L168.8 464.2L169.3 464.3L169.8 464.5L170.3 464.7L170.8 464.9L171.3 465.2L171.8 465.4L172.3 465.7L172.8 466.0L173.2 466.2L173.7 466.4L174.1 466.6L174.7 466.9L175.2 467.1L175.6 467.4L176.1 467.6L176.6 467.8L177.0 468.0L177.5 468.0L178.0 468.0L178.4 467.8L178.8 467.5L179.2 467.2L179.7 466.8L180.1 466.3L180.5 465.9L180.9 465.6L181.4 465.3L181.8 465.1L182.3 465.0L182.9 465.1L183.4 465.3L184.0 465.6L184.5 465.8L185.1 466.0L185.6 466.1L186.2 466.0L186.7 465.8L187.3 465.6L187.8 465.3L188.4 465.1L188.9 465.0L189.5 465.1L189.9 465.3L190.3 465.5L190.7 465.9L191.2 466.2L191.6 466.6L192.0 467.0L192.4 467.4L192.9 467.7L193.3 468.0L193.9 468.2L194.4 468.4L195.0 468.6L195.6 468.7L196.1 468.7L196.6 468.7L197.1 468.5L197.5 468.4L197.9 468.1L198.2 467.8L198.6 467.4L198.9 467.0L199.2 466.6L199.6 466.1L200.0 465.7L200.3 465.3L200.6 464.9L201.0 464.4L201.3 463.9L201.7 463.4L202.0 462.9L202.4 462.4L202.8 462.0L203.1 461.7L203.5 461.5L203.8 461.5L204.2 461.5L204.6 461.7L204.9 462.0L205.3 462.4L205.6 462.9L206.0 463.4L206.4 463.9L206.7 464.4L207.0 464.9L207.4 465.3L207.7 465.7L208.1 466.1L208.5 466.6L208.9 467.0L209.3 467.4L209.7 467.7L210.1 467.9L210.6 468.0L211.0 467.9L211.5 467.7L212.0 467.4L212.5 467.0L213.0 466.6L213.5 466.3L213.9 465.9L214.4 465.7L214.9 465.4L215.4 465.1L215.9 464.9L216.3 464.7L216.8 464.6L217.3 464.7L217.6 464.9L218.0 465.2L218.3 465.6L218.7 466.0L219.1 466.4L219.4 466.8L219.8 467.2L220.1 467.6L220.6 468.0L221.1 468.5L221.5 468.9L222.0 469.3L222.5 469.5L223.0 469.5L223.4 469.4L223.8 469.2L224.2 468.9L224.6 468.6L225.1 468.2L225.5 467.8L226.0 467.4L226.4 467.0L226.8 466.6L227.2 466.3L227.6 466.0L228.0 465.7L228.3 465.4L228.7 465.1L229.1 464.7L229.5 464.3L229.8 463.9L230.3 463.4L230.7 462.8L230.9 462.5L231.2 462.1L231.4 461.7L231.7 461.3L231.9 460.9L232.2 460.5L232.5 460.0L232.7 459.5L233.0 459.1L233.3 458.6L233.5 458.1L233.8 457.6L234.1 457.1L234.3 456.6L234.6 456.1L234.8 455.6L235.0 455.1L235.3 454.7L235.5 454.2L235.7 453.7L235.8 453.2L236.0 452.7L236.2 452.2L236.3 451.7L236.5 451.2L236.6 450.7L236.8 450.1L236.9 449.6L237.0 449.1L237.2 448.6L237.3 448.1L237.4 447.6L237.5 447.1L237.7 446.6L237.8 446.2L237.9 445.7L238.1 445.3L238.2 444.9L238.3 444.6L238.6 443.9L238.9 443.3L239.2 442.7L239.5 442.1L239.8 441.6L240.1 441.2L240.4 440.8L240.7 440.6L241.0 440.4L241.2 440.4L241.5 440.4L241.7 440.4L241.9 440.5L242.1 440.7L242.3 441.1L242.5 441.6L242.7 442.4L242.9 443.3L243.1 444.6L243.2 444.9L243.2 445.2L243.3 445.6L243.3 445.9L243.4 446.3L243.4 446.7L243.5 447.1L243.5 447.6L243.5 448.0L243.6 448.5L243.6 449.0L243.7 449.4L243.7 449.9L243.8 450.4L243.8 450.9L243.9 451.5L243.9 452.0L244.0 452.5L244.0 453.1L244.0 453.6L244.1 454.2L244.1 454.8L244.2 455.3L244.2 455.9L244.3 456.4L244.3 457.0L244.4 457.6L244.4 458.2L244.5 458.7L244.5 459.3L244.6 459.9L244.6 460.4L244.6 461.0L244.7 461.5L244.7 462.1L244.8 462.6L244.8 463.1L244.9 463.7L244.9 464.2L245.0 464.7L245.0 465.2L245.1 465.7L245.1 466.2L245.2 466.7L245.2 467.3L245.3 467.8L245.3 468.4L245.4 468.9L245.4 469.5L245.5 470.0L245.5 470.6L245.6 471.2L245.6 471.7L245.7 472.3L245.7 472.8L245.8 473.4L245.8 473.9L245.9 474.5L245.9 475.0L246.0 475.6L246.0 476.1L246.1 476.7L246.2 477.2L246.2 477.7L246.3 478.2L246.3 478.7L246.4 479.2L246.4 479.7L246.5 480.2L246.5 480.7L246.6 481.2L246.6 481.6L246.7 482.1L246.7 482.5L246.7 482.9L246.8 483.3L246.8 483.7L246.9 484.1L246.9 484.5L247.0 484.8L247.1 485.8L247.2 486.6L247.3 487.4L247.4 488.2L247.5 488.9L247.6 489.6L247.7 490.1L247.8 490.6L247.8 491.1L247.9 491.4L248.0 491.7L248.1 491.9L248.2 492.1L248.3 492.1L248.4 492.1L248.5 491.9L248.6 491.6L248.7 491.3L248.8 490.8L248.9 490.3L249.0 489.8L249.2 489.2L249.3 488.5L249.4 487.8L249.5 487.1L249.6 486.3L249.7 485.6L249.8 484.8L249.9 484.4L250.0 484.0L250.0 483.6L250.1 483.1L250.2 482.6L250.2 482.1L250.3 481.6L250.4 481.1L250.5 480.6L250.5 480.0L250.6 479.5L250.7 478.9L250.7 478.4L250.8 477.8L250.9 477.3L251.0 476.7L251.0 476.2L251.1 475.6L251.2 475.1L251.3 474.6L251.3 474.1L251.4 473.6L251.5 473.1L251.5 472.6L251.6 472.2L251.7 471.8L251.8 471.4L251.9 470.7L252.1 470.0L252.2 469.3L252.4 468.7L252.5 468.1L252.6 467.6L252.8 467.1L252.9 466.6L253.1 466.2L253.2 465.8L253.4 465.4L253.5 465.0L253.7 464.7L254.1 464.2L254.6 464.1L255.0 464.1L255.6 463.4L255.7 463.1L255.9 462.7L256.0 462.2L256.2 461.8L256.4 461.3L256.5 460.7L256.7 460.2L256.9 459.6L257.1 459.0L257.2 458.4L257.4 457.8L257.6 457.3L257.8 456.8L258.0 456.3L258.1 455.8L258.3 455.5L258.5 455.1L258.9 454.4L259.4 453.9L259.8 453.5L260.3 453.3L260.8 453.2L261.3 453.2L261.8 453.2L262.2 453.4L262.7 453.5L263.2 453.7L263.7 454.0L264.2 454.4L264.7 454.7L265.2 455.1L265.5 455.4L265.8 455.7L266.1 456.1L266.5 456.4L266.8 456.8L267.1 457.2L267.4 457.6L267.7 458.1L268.1 458.5L268.4 459.0L268.7 459.4L269.0 459.9L269.3 460.3L269.5 460.8L269.8 461.3L270.0 461.8L270.3 462.3L270.5 462.9L270.8 463.4L271.1 464.0L271.3 464.5L271.6 465.0L271.8 465.4L272.1 465.8L272.3 466.2L272.6 466.4L272.8 466.6L273.3 466.8L273.8 466.7L274.3 466.4L274.8 466.0L275.3 465.5L275.8 465.1L276.2 464.8L276.7 464.7L277.2 464.8L277.7 465.2L278.1 465.6L278.6 466.1L279.0 466.5L279.6 466.6L280.0 466.6L280.4 466.5L280.9 466.3L281.4 466.1L281.9 465.8L282.4 465.6L282.9 465.4L283.4 465.3L283.9 465.2L284.5 465.2L285.0 465.2L285.5 465.2L286.1 465.3L286.6 465.5L287.2 465.7L287.6 465.9L288.1 466.1L288.5 466.5L289.0 466.8L289.4 467.2L289.9 467.6L290.4 467.9L290.8 468.2L291.2 468.4L291.6 468.5L292.0 468.5L292.4 468.4L292.8 468.1L293.1 467.8L293.4 467.3L293.7 466.8L294.0 466.2L294.3 465.7L294.6 465.2L294.9 464.7L295.2 464.2L295.5 463.7L295.8 463.1L296.2 462.5L296.5 462.0L296.8 461.5L297.1 461.1L297.4 460.9L297.8 460.9L298.0 461.0L298.3 461.2L298.6 461.6L298.8 462.0L299.1 462.5L299.4 463.0L299.6 463.6L299.9 464.1L300.1 464.7L300.4 465.2L300.6 465.7L300.9 466.2L301.2 466.8L301.4 467.4L301.7 468.1L301.9 468.7L302.2 469.3L302.4 469.8L302.7 470.2L302.9 470.4L303.1 470.5L303.3 470.3L303.5 470.1L303.7 469.7L303.9 469.2L304.1 468.6L304.3 468.0L304.4 467.4L304.6 466.8L304.8 466.2L305.0 465.6L305.2 465.1L305.4 464.7L305.8 464.2L306.2 463.7L306.7 463.3L307.1 462.9L307.6 462.6L308.0 462.4L308.3 462.2L308.9 462.1L309.3 462.3L310.0 462.8L310.3 463.0L310.7 463.3L311.1 463.6L311.6 463.9L312.0 464.3L312.5 464.6L313.0 465.0L313.4 465.3L313.8 465.7L314.3 466.1L314.7 466.6L315.1 467.1L315.5 467.6L316.0 468.0L316.4 468.4L316.8 468.6L317.3 468.5L317.6 468.4L318.0 468.1L318.3 467.7L318.7 467.2L319.0 466.6L319.4 466.0L319.8 465.5L320.1 464.9L320.5 464.5L320.8 464.1L321.2 463.8L321.5 463.8L321.8 463.9L322.2 464.2L322.5 464.6L322.8 465.2L323.1 465.8L323.4 466.5L323.7 467.1L324.0 467.7L324.3 468.1L324.6 468.4L325.0 468.5L325.3 468.5L325.6 468.2L325.9 467.8L326.2 467.3L326.5 466.8L326.8 466.2L327.1 465.6L327.5 465.0L327.8 464.5L328.1 464.1L328.5 463.9L328.8 463.8L329.1 463.8L329.5 464.0L329.9 464.4L330.2 464.8L330.6 465.3L331.0 465.9L331.3 466.4L331.7 466.9L332.1 467.4L332.6 467.7L333.0 468.0L333.5 468.1L334.0 468.2L334.5 468.2L335.0 468.1L335.6 468.1L336.1 467.9L336.7 467.8L337.2 467.7L337.7 467.5L338.3 467.4L338.8 467.2L339.3 467.0L339.8 466.8L340.3 466.5L340.8 466.1L341.3 465.8L341.7 465.5L342.2 465.2L342.7 465.0L343.1 464.8L343.5 464.7L344.1 464.7L344.6 464.8L345.1 465.0L345.5 465.2L346.0 465.4L346.4 465.7L346.9 465.9L347.4 466.1L347.9 466.2L348.5 466.4L349.0 466.5L349.6 466.6L350.1 466.7L350.7 466.7L351.2 466.6L351.7 466.5L352.1 466.2L352.6 465.8L353.1 465.4L353.5 465.0L354.0 464.7L354.5 464.5L355.0 464.3L355.5 464.3L356.1 464.4L356.6 464.6L357.2 464.8L357.7 465.0L358.3 465.2L358.8 465.4L359.3 465.6L359.8 465.7L360.4 465.7L361.0 465.6L361.6 465.5L362.1 465.4L362.7 465.2L363.2 465.2L363.7 465.3L364.1 465.5L364.5 465.9L364.9 466.4L365.3 466.8L365.7 467.2L366.1 467.5L366.5 467.6L366.9 467.5L367.3 467.2L367.8 466.9L368.2 466.5L368.6 466.0L369.1 465.6L369.5 465.2L369.9 464.9L370.4 464.7L370.9 464.7L371.5 464.8L372.0 465.0L372.6 465.2L373.1 465.5L373.7 465.6L374.2 465.7L374.7 465.6L375.2 465.3L375.7 465.0L376.1 464.7L376.6 464.4L377.1 464.2L377.6 464.1L378.0 464.1L378.4 464.3L378.8 464.6L379.1 465.0L379.5 465.4L379.8 465.8L380.2 466.3L380.6 466.8L380.9 467.3L381.2 467.8L381.6 468.2L381.9 468.5L382.3 469.0L382.6 469.5L383.0 470.0L383.3 470.5L383.6 470.9L384.0 471.2L384.4 471.4L384.8 471.4L385.1 471.3L385.4 471.1L385.8 470.9L386.2 470.5L386.6 470.1L386.9 469.6L387.3 469.2L387.7 468.6L388.2 468.1L388.6 467.6L388.9 467.2L389.2 466.8L389.5 466.4L389.8 466.0L390.1 465.5L390.4 465.0L390.7 464.6L391.0 464.1L391.4 463.6L391.7 463.1L392.0 462.7L392.3 462.2L392.6 461.8L392.9 461.5L393.1 461.2L393.4 460.9L394.0 460.2L394.5 459.7L394.9 459.3L395.4 459.2L395.8 459.2L396.3 459.5L396.4 459.8L396.6 460.1L396.8 460.5L397.0 460.9L397.2 461.4L397.4 461.9L397.6 462.4L397.8 463.0L398.0 463.6L398.2 464.1L398.4 464.7L398.6 465.2L398.7 465.8L398.9 466.2L399.1 466.6L399.4 467.2L399.7 467.8L400.0 468.4L400.2 469.0L400.5 469.6L400.8 470.0L401.1 470.4L401.4 470.8L401.7 471.0L402.0 471.0L402.3 471.0L402.6 470.8L403.0 470.4L403.3 470.0L403.7 469.6L404.0 469.1L404.4 468.5L404.8 468.0L405.1 467.5L405.5 467.0L405.8 466.6L406.2 466.2L406.6 465.8L407.0 465.3L407.4 464.8L407.8 464.4L408.1 464.0L408.5 463.6L408.9 463.4L409.3 463.3L409.7 463.4L410.0 463.5L410.3 463.9L410.6 464.3L410.9 464.8L411.2 465.4L411.5 466.1L411.8 466.7L412.1 467.3L412.4 467.9L412.6 468.4L412.9 468.8L413.2 469.0L413.5 469.1L413.8 469.0L414.1 468.8L414.4 468.3L414.7 467.8L415.0 467.2L415.3 466.5L415.6 465.8L415.8 465.2L416.1 464.6L416.4 464.2L416.7 463.9L417.0 463.8L417.3 463.8L417.6 464.0L417.9 464.4L418.2 464.9L418.5 465.4L418.8 466.0L419.1 466.6L419.4 467.2L419.7 467.7L419.9 468.2L420.2 468.5L420.7 469.1L421.1 469.7L421.5 470.2L421.8 470.6L422.3 470.7L422.7 470.5L422.9 470.2L423.1 469.9L423.4 469.5L423.6 469.1L423.8 468.6L424.1 468.0L424.3 467.4L424.6 466.9L424.8 466.3L425.0 465.7L425.3 465.1L425.5 464.6L425.7 464.2L426.0 463.8L426.3 463.1L426.7 462.6L427.0 462.1L427.4 461.6L427.7 461.2L428.1 460.8L428.4 460.5L428.8 460.3L429.3 460.1L429.9 459.9L430.5 459.9L431.0 459.9L431.6 460.0L432.2 460.2L432.7 460.5L433.0 460.8L433.2 461.1L433.5 461.5L433.8 461.9L434.0 462.4L434.2 462.9L434.5 463.5L434.7 464.0L435.0 464.6L435.3 465.1L435.6 465.7L435.8 466.1L436.0 466.6L436.3 467.1L436.5 467.7L436.8 468.3L437.1 468.9L437.3 469.5L437.6 470.0L437.9 470.6L438.1 471.1L438.4 471.5L438.7 471.9L438.9 472.1L439.2 472.3L439.4 472.4L439.6 472.3L439.8 472.1L440.1 471.8L440.3 471.5L440.5 471.0L440.7 470.5L440.9 469.9L441.1 469.3L441.3 468.7L441.5 468.0L441.7 467.4L441.9 466.8L442.1 466.2L442.3 465.7L442.4 465.2L442.6 464.7L442.8 464.1L443.0 463.5L443.2 462.8L443.3 462.2L443.5 461.6L443.7 460.9L443.9 460.3L444.1 459.8L444.2 459.3L444.4 458.9L444.6 458.5L444.8 458.2L445.0 458.1L445.1 458.0L445.3 458.1L445.5 458.2L445.7 458.5L445.8 458.9L446.0 459.3L446.2 459.8L446.4 460.3L446.5 460.9L446.7 461.6L446.9 462.2L447.1 462.8L447.3 463.5L447.4 464.1L447.6 464.7L447.8 465.2L448.0 465.7L448.2 466.2L448.4 466.6L448.7 467.1L448.9 467.7L449.1 468.2L449.4 468.7L449.6 469.1L449.9 469.6L450.1 470.1L450.3 470.5L450.6 471.0L450.8 471.4L451.0 471.7L451.3 472.1L451.5 472.4L451.9 473.0L452.4 473.6L452.8 474.0L453.2 474.3L453.7 474.4L454.1 474.3L454.5 474.2L454.8 473.9L455.1 473.7L455.5 473.3L455.8 472.9L456.1 472.5L456.5 472.0L456.9 471.5L457.2 471.0L457.6 470.5L457.8 470.1L458.1 469.7L458.4 469.2L458.6 468.8L458.9 468.3L459.2 467.8L459.5 467.3L459.7 466.8L460.0 466.3L460.3 465.8L460.5 465.3L460.8 464.9L461.0 464.5L461.2 464.1L461.4 463.8L461.9 463.0L462.2 462.3L462.5 461.8L462.7 461.4L463.0 461.2L463.3 461.3L463.5 461.5L463.7 461.8L464.0 462.2L464.2 462.7L464.4 463.3L464.6 463.9L464.8 464.5L465.0 465.1L465.2 465.7L465.4 466.2L465.6 466.6L465.9 467.3L466.2 468.0L466.5 468.8L466.7 469.4L467.0 469.9L467.3 470.1L467.6 470.1L467.7 469.9L467.9 469.6L468.1 469.1L468.2 468.6L468.4 468.0L468.6 467.3L468.7 466.7L468.9 466.0L469.1 465.4L469.3 464.8L469.5 464.3L469.7 463.8L469.9 463.5L470.1 463.4L470.3 463.4L470.6 463.6L470.9 464.0L471.2 464.6L471.5 465.2L471.8 465.8L472.1 466.5L472.3 467.0L472.6 467.4L472.9 467.6L473.3 467.6L473.8 467.3L474.2 466.9L474.6 466.4L475.0 465.9L475.4 465.5L475.8 465.3L476.3 465.3L476.8 465.5L477.2 465.9L477.7 466.2L478.2 466.5L478.7 466.6L479.2 466.6L479.6 466.4L480.1 466.2L480.6 465.9L481.1 465.7L481.6 465.7L482.0 465.8L482.5 466.0L483.0 466.2L483.4 466.4L483.9 466.6L484.4 466.6L484.9 466.4L485.4 466.1L485.9 465.6L486.4 465.1L486.9 464.8L487.4 464.6L487.9 464.7L488.1 464.9L488.4 465.2L488.6 465.5L488.9 466.0L489.1 466.4L489.4 466.9L489.6 467.5L489.9 468.0L490.1 468.6L490.4 469.1L490.6 469.6L490.9 470.0L491.1 470.5L491.5 471.0L491.8 471.5L492.1 472.1L492.5 472.7L492.8 473.2L493.1 473.7L493.4 474.1L493.8 474.4L494.1 474.6L494.4 474.7L494.7 474.6L495.0 474.5L495.3 474.2L495.6 473.9L495.9 473.5L496.2 473.0L496.5 472.5L496.8 471.8L497.2 471.2L497.5 470.5L497.6 470.1L497.8 469.7L497.9 469.3L498.0 468.9L498.2 468.4L498.3 467.9L498.5 467.4L498.6 466.9L498.8 466.3L498.9 465.8L499.0 465.2L499.2 464.7L499.3 464.1L499.5 463.6L499.6 463.1L499.8 462.6L499.9 462.1L500.1 461.6L500.2 461.1L500.4 460.7L500.6 460.3L500.7 459.9L501.0 459.3L501.3 458.7L501.7 458.1L502.0 457.6L502.3 457.1L502.7 456.7L503.0 456.3L503.3 456.0L503.7 455.7L504.0 455.4L504.3 455.3L504.6 455.1L505.0 455.1L505.4 455.3L505.8 455.7L506.2 456.2L506.6 456.7L507.0 457.2L507.4 457.6L507.8 457.9L508.3 458.1L508.7 458.2L509.2 458.4L509.6 458.6L510.1 458.9L510.5 459.3L510.9 459.9L511.0 460.3L511.2 460.7L511.4 461.1L511.5 461.6L511.6 462.1L511.8 462.7L511.9 463.2L512.0 463.8L512.2 464.4L512.3 465.0L512.4 465.6L512.5 466.1L512.7 466.7L512.8 467.2L512.9 467.7L513.0 468.1L513.2 468.5L513.4 469.3L513.7 470.0L513.9 470.7L514.2 471.3L514.4 471.9L514.7 472.4L515.0 472.7L515.2 472.9L515.5 473.0L515.7 472.8L515.9 472.6L516.1 472.2L516.4 471.7L516.6 471.1L516.8 470.5L517.0 469.9L517.3 469.3L517.5 468.7L517.7 468.1L518.0 467.6L518.2 467.1L518.5 466.6L518.7 466.2L519.0 465.7L519.2 465.2L519.5 464.7L519.7 464.3L520.0 463.9L520.3 463.5L520.6 463.1L520.8 462.8L521.3 462.3L521.8 461.9L522.3 461.6L522.8 461.3L523.3 461.1L523.8 460.9L524.3 460.9L524.8 460.9L525.2 461.1L525.7 461.4L526.1 461.7L526.6 462.0L527.1 462.4L527.6 462.8L527.9 463.1L528.3 463.4L528.7 463.7L529.1 464.1L529.5 464.5L529.9 464.8L530.3 465.2L530.7 465.5L531.0 465.8L531.4 466.1L531.9 466.4L532.4 466.7L532.9 467.0L533.3 467.1L533.8 467.2L534.3 467.2L534.8 467.1L535.3 466.8L535.9 466.5L536.4 466.1L537.0 465.8L537.4 465.5L537.7 465.3" stroke="#7e2f8e" stroke-width="3.0" fill="none" stroke-linejoin="round" stroke-linecap="round" clip-path="url(#cp0_3)"/>
<path d="M90.35 591.36H538.1M90.35 588.22H538.1M90.35 585.08H538.1M90.35 581.94H538.1M90.35 575.66H538.1M90.35 572.52H538.1M90.35 569.38H538.1M90.35 566.24H538.1M90.35 559.96H538.1M90.35 556.82H538.1M90.35 553.68H538.1M90.35 550.54H538.1" stroke="#cfcfcf" stroke-width="1" stroke-dasharray="1.3 2.85" fill="none"/><path d="M89.75 578.8H538.1M89.75 563.1H538.1M89.75 547.4H538.1M139.5 543.3V594.5M228.6 543.3V594.5M318.4 543.3V594.5M407.4 543.3V594.5M496.5 543.3V594.5" stroke="#e2e2e2" stroke-width="1" fill="none"/>
<path d="M89.75 594.5h5M538.1 594.5h-5M89.75 578.8h5M538.1 578.8h-5M89.75 563.1h5M538.1 563.1h-5M89.75 547.4h5M538.1 547.4h-5M139.5 543.3v5M139.5 594.5v-5M228.6 543.3v5M228.6 594.5v-5M318.4 543.3v5M318.4 594.5v-5M407.4 543.3v5M407.4 594.5v-5M496.5 543.3v5M496.5 594.5v-5" stroke="#262626" stroke-width="1.1" fill="none"/>
<rect x="89.75" y="543.3" width="448.35" height="51.2" fill="none" stroke="#262626" stroke-width="1.1"/>
<clipPath id="cp0_4"><rect x="88.25" y="541.8" width="451.35" height="54.2"/></clipPath>
<path d="M89.8 547.5L90.0 547.4L90.4 547.2L90.7 546.9L91.1 546.7L91.6 546.4L92.1 546.0L92.6 545.7L93.1 545.4L93.6 545.1L94.1 544.9L94.6 544.7L95.1 544.5L95.6 544.3L96.1 544.1L96.6 543.9L97.1 543.7L97.7 543.6L98.2 543.4L98.7 543.3L99.3 543.2L99.8 543.2L100.3 543.1L100.9 543.1L101.4 543.2L101.9 543.3L102.4 543.4L102.9 543.5L103.5 543.7L104.0 543.8L104.5 544.0L105.0 544.1L105.6 544.2L106.1 544.3L106.6 544.3L107.2 544.3L107.7 544.3L108.3 544.3L108.8 544.2L109.4 544.2L109.9 544.2L110.4 544.1L110.9 544.2L111.4 544.2L111.8 544.3L112.4 544.4L112.9 544.6L113.4 544.8L113.9 545.0L114.3 545.3L114.8 545.6L115.2 546.1L115.7 546.6L115.9 546.9L116.2 547.3L116.4 547.6L116.7 548.0L116.9 548.5L117.2 548.9L117.4 549.4L117.6 549.8L117.9 550.3L118.2 550.8L118.4 551.3L118.7 551.8L118.9 552.3L119.2 552.8L119.5 553.3L119.7 553.7L120.0 554.1L120.2 554.6L120.5 555.0L120.8 555.5L121.0 556.0L121.3 556.4L121.6 556.9L121.8 557.4L122.1 557.8L122.4 558.3L122.7 558.7L122.9 559.2L123.2 559.6L123.5 559.9L123.8 560.3L124.0 560.7L124.3 561.0L124.7 561.4L125.2 561.7L125.6 562.0L126.0 562.3L126.5 562.5L126.9 562.6L127.3 562.8L127.8 563.0L128.2 563.2L128.7 563.5L129.1 563.8L129.4 564.1L129.8 564.5L130.1 564.9L130.5 565.3L130.8 565.7L131.2 566.1L131.5 566.5L131.9 567.0L132.2 567.4L132.6 567.8L132.9 568.2L133.2 568.6L133.6 568.9L133.9 569.2L134.4 569.6L134.8 570.0L135.3 570.4L135.7 570.7L136.1 571.0L136.5 571.2L136.9 571.5L137.3 571.7L137.7 571.9L138.3 572.2L138.9 572.4L139.4 572.6L140.0 572.6L140.6 572.5L141.0 572.3L141.4 572.1L141.8 571.9L142.2 571.6L142.6 571.3L143.0 570.9L143.5 570.5L143.9 570.1L144.4 569.6L144.7 569.3L145.1 568.9L145.4 568.5L145.7 568.1L146.1 567.6L146.5 567.1L146.8 566.7L147.2 566.2L147.5 565.8L147.9 565.3L148.2 564.9L148.6 564.5L148.9 564.1L149.2 563.8L149.7 563.4L150.2 562.9L150.6 562.6L151.1 562.2L151.5 562.0L152.0 561.8L152.5 561.6L153.0 561.5L153.5 561.5L154.0 561.6L154.5 561.7L155.0 561.8L155.5 562.0L156.0 562.2L156.6 562.3L157.1 562.5L157.7 562.7L158.2 562.8L158.8 562.9L159.3 562.9L159.7 562.9L160.2 562.9L160.7 562.9L161.2 562.9L161.7 562.9L162.2 562.9L162.7 562.9L163.2 562.9L163.7 562.8L164.3 562.8L164.9 562.8L165.5 562.9L165.9 562.9L166.4 562.9L166.9 563.0L167.4 563.0L167.9 563.1L168.5 563.2L169.0 563.2L169.5 563.3L170.1 563.4L170.6 563.5L171.2 563.5L171.7 563.6L172.2 563.6L172.8 563.7L173.3 563.7L173.8 563.8L174.2 563.8L174.7 563.8L175.1 563.8L175.8 563.8L176.4 563.8L177.0 563.7L177.5 563.6L178.0 563.5L178.5 563.4L179.0 563.3L179.4 563.2L179.9 563.1L180.4 563.0L180.8 562.9L181.4 562.8L181.9 562.6L182.4 562.4L182.9 562.3L183.4 562.1L183.9 562.0L184.5 561.9L185.0 561.9L185.6 561.9L186.1 562.0L186.5 562.1L186.9 562.2L187.4 562.3L187.8 562.5L188.3 562.7L188.8 562.9L189.3 563.1L189.8 563.3L190.3 563.5L190.8 563.7L191.3 563.9L191.8 564.1L192.3 564.2L192.8 564.4L193.3 564.5L193.8 564.7L194.4 564.8L194.9 564.9L195.4 565.1L196.0 565.2L196.5 565.4L197.0 565.5L197.6 565.6L198.1 565.8L198.6 565.9L199.1 566.0L199.6 566.1L200.0 566.1L200.6 566.2L201.2 566.3L201.7 566.4L202.3 566.4L202.8 566.4L203.3 566.5L203.8 566.5L204.3 566.4L204.8 566.4L205.3 566.4L205.8 566.3L206.3 566.3L206.8 566.2L207.3 566.1L207.7 566.0L208.2 565.9L208.7 565.8L209.1 565.6L209.6 565.4L210.1 565.1L210.6 564.8L210.9 564.5L211.2 564.2L211.6 563.9L211.9 563.5L212.3 563.1L212.6 562.7L212.9 562.2L213.3 561.8L213.6 561.3L214.0 560.9L214.3 560.4L214.7 560.0L215.0 559.5L215.3 559.0L215.6 558.6L215.9 558.2L216.3 557.8L216.6 557.4L216.9 556.9L217.2 556.5L217.5 556.0L217.8 555.5L218.1 555.1L218.4 554.7L218.7 554.2L219.0 553.8L219.3 553.4L219.6 553.0L219.9 552.7L220.1 552.3L220.6 551.8L221.0 551.4L221.4 551.0L221.7 550.6L222.1 550.2L222.5 549.9L222.8 549.6L223.2 549.3L223.6 549.1L224.0 548.9L224.5 548.6L225.1 548.5L225.6 548.3L226.2 548.3L226.7 548.3L227.3 548.4L227.8 548.5L228.2 548.7L228.6 548.8L229.0 549.0L229.5 549.3L229.9 549.6L230.3 549.9L230.7 550.4L231.2 550.8L231.6 551.4L231.9 551.7L232.1 552.0L232.4 552.3L232.6 552.7L232.9 553.1L233.2 553.5L233.4 553.9L233.7 554.3L234.0 554.7L234.2 555.2L234.5 555.6L234.8 556.1L235.1 556.6L235.3 557.1L235.6 557.5L235.9 558.0L236.2 558.5L236.4 559.0L236.6 559.4L236.8 559.9L237.1 560.3L237.3 560.7L237.5 561.2L237.7 561.6L237.9 562.1L238.1 562.6L238.3 563.0L238.5 563.5L238.7 564.0L238.9 564.5L239.1 565.0L239.3 565.5L239.6 565.9L239.8 566.4L240.0 566.9L240.2 567.4L240.4 567.8L240.6 568.3L240.8 568.7L241.0 569.2L241.2 569.6L241.5 570.1L241.7 570.6L242.0 571.1L242.2 571.6L242.5 572.1L242.8 572.6L243.0 573.1L243.3 573.6L243.5 574.0L243.8 574.5L244.0 575.0L244.3 575.4L244.5 575.9L244.8 576.3L245.0 576.7L245.3 577.1L245.5 577.5L245.8 577.9L246.0 578.2L246.4 578.7L246.7 579.2L247.1 579.7L247.5 580.1L247.8 580.5L248.1 580.9L248.5 581.2L248.8 581.5L249.2 581.8L249.5 582.1L249.9 582.4L250.2 582.6L250.7 582.9L251.2 583.2L251.7 583.4L252.2 583.6L252.6 583.8L253.1 583.9L253.6 583.9L254.1 584.0L254.6 584.0L255.1 583.9L255.6 583.8L256.0 583.7L256.5 583.6L257.0 583.4L257.5 583.2L258.0 582.9L258.5 582.7L258.9 582.4L259.4 582.0L259.8 581.8L260.2 581.5L260.5 581.2L260.9 580.9L261.3 580.6L261.6 580.2L262.0 579.9L262.4 579.5L262.7 579.1L263.1 578.7L263.5 578.2L263.9 577.8L264.2 577.3L264.5 576.9L264.7 576.5L265.0 576.1L265.2 575.7L265.5 575.3L265.7 574.8L266.0 574.4L266.2 573.9L266.5 573.4L266.7 572.9L267.0 572.5L267.2 572.0L267.5 571.5L267.8 571.0L268.0 570.5L268.3 570.0L268.5 569.6L268.8 569.1L269.0 568.6L269.3 568.2L269.5 567.7L269.8 567.2L270.0 566.8L270.3 566.3L270.5 565.8L270.8 565.3L271.0 564.8L271.3 564.4L271.5 563.9L271.8 563.4L272.0 563.0L272.3 562.5L272.5 562.1L272.8 561.6L273.0 561.2L273.3 560.8L273.6 560.4L273.8 560.0L274.2 559.5L274.5 559.0L274.8 558.5L275.2 558.1L275.6 557.7L275.9 557.2L276.3 556.8L276.6 556.4L277.0 556.0L277.3 555.7L277.6 555.3L278.0 554.9L278.3 554.6L278.6 554.3L279.0 553.8L279.4 553.3L279.9 552.9L280.3 552.4L280.7 552.0L281.0 551.7L281.4 551.3L281.8 551.0L282.1 550.7L282.4 550.4L283.0 550.0L283.5 549.6L283.9 549.4L284.4 549.3L284.9 549.5L285.2 549.6L285.5 549.9L285.8 550.2L286.1 550.5L286.5 550.9L286.8 551.3L287.1 551.8L287.5 552.3L287.8 552.8L288.2 553.3L288.4 553.7L288.7 554.0L288.9 554.5L289.1 554.9L289.4 555.3L289.6 555.8L289.9 556.2L290.1 556.7L290.4 557.2L290.6 557.7L290.9 558.1L291.2 558.6L291.5 559.1L291.7 559.5L292.0 560.0L292.3 560.4L292.6 560.9L292.9 561.3L293.1 561.8L293.4 562.2L293.7 562.7L294.0 563.2L294.4 563.6L294.7 564.1L295.0 564.5L295.3 564.9L295.6 565.3L295.9 565.7L296.2 566.1L296.5 566.4L296.8 566.7L297.3 567.1L297.8 567.5L298.3 567.9L298.8 568.2L299.3 568.4L299.8 568.6L300.2 568.8L300.7 569.0L301.2 569.1L301.6 569.2L302.2 569.3L302.7 569.4L303.3 569.3L303.8 569.3L304.3 569.1L304.8 568.9L305.4 568.6L305.8 568.4L306.2 568.2L306.6 567.9L307.0 567.6L307.4 567.2L307.8 566.9L308.3 566.5L308.7 566.1L309.1 565.8L309.5 565.4L309.9 565.1L310.2 564.8L310.7 564.4L311.1 564.0L311.5 563.6L311.9 563.2L312.3 562.8L312.7 562.4L313.0 562.1L313.4 561.8L313.8 561.5L314.4 561.2L314.9 561.0L315.4 560.8L315.9 560.6L316.5 560.5L317.1 560.5L317.7 560.6L318.1 560.7L318.5 560.9L318.9 561.1L319.4 561.4L319.8 561.7L320.3 562.0L320.7 562.3L321.2 562.6L321.6 562.9L322.1 563.2L322.5 563.5L323.0 563.8L323.5 564.1L323.9 564.4L324.4 564.6L324.8 564.9L325.3 565.1L325.8 565.2L326.3 565.2L326.7 565.1L327.1 565.0L327.6 564.8L328.0 564.5L328.4 564.2L328.9 563.9L329.4 563.6L329.9 563.3L330.5 563.1L331.1 562.9L331.5 562.8L332.0 562.6L332.5 562.5L333.0 562.4L333.5 562.2L334.0 562.1L334.6 562.0L335.1 561.9L335.7 561.8L336.2 561.7L336.8 561.6L337.3 561.6L337.8 561.5L338.3 561.5L338.8 561.5L339.3 561.6L339.8 561.7L340.3 561.9L340.8 562.0L341.3 562.2L341.8 562.5L342.3 562.7L342.7 562.9L343.2 563.2L343.6 563.4L344.1 563.6L344.5 563.8L345.0 564.1L345.5 564.4L346.0 564.7L346.5 565.0L347.0 565.3L347.4 565.6L347.9 565.9L348.4 566.0L348.8 566.1L349.3 566.1L349.7 566.0L350.2 565.9L350.6 565.6L351.0 565.3L351.4 565.0L351.9 564.6L352.3 564.2L352.7 563.8L353.2 563.5L353.6 563.2L354.1 562.9L354.6 562.6L355.0 562.3L355.5 562.1L356.0 561.8L356.6 561.5L357.1 561.3L357.6 561.0L358.1 560.8L358.5 560.7L359.0 560.6L359.5 560.6L360.0 560.6L360.5 560.8L361.0 561.0L361.4 561.3L361.9 561.6L362.3 561.9L362.8 562.3L363.2 562.6L363.7 562.9L364.1 563.2L364.5 563.5L365.0 563.9L365.4 564.2L365.8 564.6L366.2 564.9L366.7 565.1L367.1 565.3L367.5 565.4L368.0 565.3L368.4 565.2L368.9 565.0L369.4 564.7L369.8 564.3L370.3 564.0L370.8 563.7L371.3 563.5L371.8 563.3L372.2 563.1L372.6 562.9L373.0 562.6L373.4 562.4L373.9 562.3L374.4 562.1L374.9 562.0L375.5 561.9L376.1 561.9L376.5 561.9L377.0 562.0L377.5 562.1L378.0 562.2L378.5 562.3L379.0 562.5L379.6 562.6L380.1 562.8L380.7 563.0L381.2 563.1L381.8 563.3L382.3 563.4L382.8 563.5L383.4 563.7L383.8 563.7L384.3 563.8L384.8 563.8L385.4 563.8L386.0 563.8L386.5 563.6L387.1 563.5L387.6 563.3L388.1 563.1L388.5 562.9L389.0 562.8L389.5 562.6L390.0 562.4L390.5 562.3L391.0 562.2L391.6 562.1L392.1 561.9L392.6 561.8L393.1 561.7L393.6 561.6L394.2 561.5L394.7 561.5L395.2 561.5L395.7 561.5L396.3 561.5L396.7 561.6L397.2 561.8L397.7 562.0L398.2 562.2L398.7 562.4L399.1 562.7L399.6 562.9L400.1 563.2L400.6 563.5L401.0 563.7L401.5 564.0L402.0 564.2L402.5 564.4L403.0 564.7L403.5 564.9L404.0 565.1L404.5 565.4L404.9 565.6L405.4 565.8L405.9 566.0L406.4 566.2L406.9 566.4L407.3 566.6L407.8 566.7L408.3 566.9L408.9 567.0L409.4 567.2L410.0 567.3L410.5 567.4L411.0 567.4L411.5 567.4L412.0 567.4L412.5 567.3L413.0 567.2L413.4 567.0L413.8 566.8L414.3 566.5L414.7 566.3L415.1 566.0L415.5 565.6L416.0 565.3L416.4 565.0L416.9 564.6L417.3 564.2L417.7 563.9L418.1 563.6L418.4 563.3L418.8 562.9L419.2 562.6L419.6 562.2L420.0 561.8L420.4 561.4L420.7 561.0L421.1 560.7L421.5 560.3L421.9 560.0L422.3 559.6L422.7 559.3L423.1 559.0L423.6 558.7L424.1 558.4L424.6 558.1L425.0 557.8L425.5 557.5L426.0 557.2L426.5 557.0L427.0 556.8L427.5 556.6L427.9 556.4L428.4 556.3L428.8 556.2L429.4 556.1L430.0 556.0L430.5 556.1L431.0 556.1L431.6 556.2L432.1 556.4L432.6 556.6L433.1 556.8L433.6 557.1L434.0 557.4L434.4 557.6L434.7 557.9L435.1 558.3L435.4 558.6L435.8 559.0L436.2 559.4L436.5 559.8L436.9 560.2L437.3 560.6L437.6 561.0L438.0 561.5L438.4 561.9L438.7 562.3L439.1 562.6L439.4 563.0L439.7 563.4L440.1 563.9L440.4 564.3L440.8 564.7L441.1 565.1L441.5 565.6L441.8 566.0L442.2 566.4L442.5 566.8L442.9 567.2L443.2 567.6L443.5 568.0L443.9 568.3L444.2 568.6L444.7 569.1L445.1 569.5L445.6 569.9L446.0 570.3L446.5 570.6L446.9 571.0L447.3 571.3L447.8 571.5L448.2 571.7L448.6 571.9L449.0 572.1L449.6 572.3L450.1 572.4L450.6 572.4L451.1 572.3L451.7 572.2L452.2 571.9L452.8 571.5L453.1 571.3L453.4 571.0L453.8 570.7L454.1 570.3L454.4 569.9L454.8 569.6L455.1 569.1L455.5 568.7L455.8 568.2L456.2 567.8L456.6 567.3L456.9 566.8L457.2 566.3L457.6 565.8L457.8 565.4L458.1 564.9L458.4 564.5L458.6 564.0L458.9 563.6L459.1 563.1L459.4 562.6L459.7 562.1L459.9 561.6L460.2 561.1L460.4 560.6L460.7 560.1L460.9 559.6L461.2 559.1L461.4 558.7L461.7 558.3L461.9 557.8L462.2 557.5L462.4 557.1L462.8 556.5L463.2 555.9L463.6 555.4L464.0 554.9L464.4 554.5L464.8 554.1L465.2 553.8L465.5 553.6L465.9 553.4L466.2 553.3L466.6 553.3L467.0 553.4L467.4 553.6L467.7 553.9L468.1 554.3L468.4 554.8L468.7 555.4L469.1 556.2L469.2 556.5L469.4 556.9L469.5 557.3L469.7 557.7L469.8 558.2L470.0 558.6L470.1 559.1L470.3 559.7L470.4 560.2L470.6 560.7L470.7 561.3L470.8 561.8L471.0 562.3L471.1 562.9L471.3 563.4L471.4 563.9L471.6 564.4L471.7 564.9L471.8 565.3L472.0 565.8L472.2 566.3L472.3 566.9L472.5 567.5L472.7 568.0L472.9 568.6L473.1 569.1L473.3 569.6L473.4 570.1L473.6 570.6L473.8 571.0L473.9 571.5L474.1 571.8L474.3 572.2L474.5 572.5L475.0 573.3L475.6 573.7L476.2 573.8L476.8 573.4L477.0 573.2L477.2 572.9L477.4 572.5L477.7 572.1L477.9 571.6L478.2 571.1L478.4 570.6L478.7 570.0L478.9 569.5L479.2 568.9L479.4 568.3L479.6 567.7L479.8 567.3L480.0 566.8L480.1 566.3L480.3 565.9L480.4 565.4L480.6 564.8L480.7 564.3L480.9 563.8L481.0 563.3L481.2 562.7L481.3 562.2L481.5 561.7L481.6 561.2L481.8 560.7L482.0 560.3L482.2 559.8L482.3 559.4L482.5 559.0L482.8 558.5L483.2 557.9L483.5 557.5L483.8 557.0L484.2 556.6L484.5 556.2L484.9 555.8L485.3 555.5L485.6 555.3L486.0 555.0L486.3 554.8L486.9 554.6L487.4 554.5L487.9 554.4L488.5 554.5L489.0 554.6L489.6 554.9L490.2 555.2L490.5 555.4L490.9 555.7L491.2 556.0L491.6 556.3L491.9 556.7L492.3 557.1L492.6 557.5L493.0 557.9L493.4 558.3L493.8 558.7L494.2 559.2L494.6 559.6L495.0 560.0L495.3 560.3L495.6 560.7L496.0 561.1L496.3 561.5L496.7 561.8L497.1 562.2L497.4 562.6L497.8 563.0L498.2 563.4L498.5 563.8L498.9 564.2L499.3 564.5L499.6 564.9L500.0 565.2L500.4 565.5L500.7 565.8L501.2 566.1L501.7 566.4L502.2 566.7L502.6 566.9L503.1 567.2L503.6 567.4L504.1 567.6L504.6 567.7L505.0 567.9L505.5 568.0L506.0 568.0L506.5 568.1L506.9 568.0L507.4 568.0L507.9 567.9L508.4 567.8L508.8 567.6L509.3 567.4L509.8 567.2L510.2 567.0L510.7 566.8L511.2 566.6L511.7 566.4L512.2 566.1L512.7 565.9L513.1 565.7L513.6 565.5L514.1 565.3L514.6 565.0L515.1 564.7L515.6 564.5L516.1 564.2L516.6 564.0L517.1 563.7L517.5 563.5L518.0 563.3L518.5 563.1L518.9 562.9L519.5 562.7L520.0 562.5L520.6 562.3L521.1 562.1L521.6 561.9L522.1 561.8L522.6 561.6L523.1 561.5L523.7 561.4L524.2 561.4L524.7 561.3L525.2 561.3L525.7 561.4L526.2 561.4L526.7 561.5L527.2 561.6L527.7 561.7L528.2 561.8L528.8 562.0L529.3 562.2L529.9 562.3L530.4 562.5L530.9 562.6L531.4 562.8L531.9 563.0L532.5 563.2L533.0 563.4L533.6 563.6L534.2 563.8L534.7 564.0L535.3 564.2L535.8 564.4L536.3 564.6L536.7 564.8L537.1 564.9L537.4 565.1L537.7 565.2" stroke="#77ac30" stroke-width="2.9" fill="none" stroke-linejoin="round" stroke-linecap="round" clip-path="url(#cp0_4)"/>
<path d="M90.35 689.85H538.1M90.35 683.5H538.1M90.35 677.15H538.1M90.35 664.45H538.1M90.35 658.1H538.1M90.35 651.75H538.1" stroke="#cfcfcf" stroke-width="1" stroke-dasharray="1.3 2.85" fill="none"/><path d="M89.75 670.8H538.1M139.5 645.4V696.2M228.6 645.4V696.2M318.4 645.4V696.2M407.4 645.4V696.2M496.5 645.4V696.2" stroke="#e2e2e2" stroke-width="1" fill="none"/>
<path d="M89.75 696.2h5M538.1 696.2h-5M89.75 670.8h5M538.1 670.8h-5M89.75 645.4h5M538.1 645.4h-5M139.5 645.4v5M139.5 696.2v-5M228.6 645.4v5M228.6 696.2v-5M318.4 645.4v5M318.4 696.2v-5M407.4 645.4v5M407.4 696.2v-5M496.5 645.4v5M496.5 696.2v-5" stroke="#262626" stroke-width="1.1" fill="none"/>
<rect x="89.75" y="645.4" width="448.35" height="50.8" fill="none" stroke="#262626" stroke-width="1.1"/>
<clipPath id="cp0_5"><rect x="88.25" y="643.9" width="451.35" height="53.8"/></clipPath>
<path d="M89.6 672.3L90.2 672.4L90.9 672.5L91.7 672.6L92.7 672.7L93.7 672.9L94.8 673.0L95.9 673.3L97.1 673.5L98.2 673.8L99.3 674.0L100.3 674.3L101.3 674.6L102.4 674.8L103.4 675.1L104.5 675.4L105.5 675.7L106.6 675.9L107.6 676.2L108.7 676.5L109.7 676.7L110.8 676.9L111.8 677.2L112.9 677.4L114.0 677.6L115.1 677.8L116.2 677.9L117.3 678.1L118.4 678.2L119.4 678.4L120.5 678.5L121.5 678.6L122.4 678.7L123.3 678.7L124.6 678.8L125.7 678.8L126.8 678.8L127.8 678.8L128.8 678.8L129.8 678.7L131.0 678.7L132.0 678.6L133.0 678.5L134.0 678.3L135.1 678.2L136.2 678.0L137.3 677.8L138.4 677.6L139.5 677.4L140.6 677.2L141.5 676.9L142.5 676.7L143.4 676.4L144.3 676.1L145.2 675.8L146.2 675.5L147.1 675.2L148.1 674.9L149.1 674.6L150.2 674.2L151.1 673.9L152.0 673.6L152.9 673.2L153.9 672.9L154.9 672.6L155.9 672.3L156.9 672.0L157.9 671.7L158.9 671.4L159.8 671.2L160.8 671.0L161.7 670.8L162.8 670.7L163.9 670.6L165.0 670.5L166.0 670.4L167.1 670.4L168.1 670.4L169.1 670.5L170.2 670.5L171.2 670.6L172.3 670.7L173.3 670.8L174.4 670.9L175.4 671.0L176.4 671.0L177.5 671.1L178.6 671.1L179.7 671.2L180.8 671.1L181.8 671.1L182.8 671.0L183.8 671.0L184.9 670.8L185.9 670.7L187.0 670.6L188.1 670.4L189.1 670.3L190.2 670.1L191.3 670.0L192.3 669.8L193.4 669.7L194.4 669.5L195.5 669.4L196.5 669.3L197.5 669.3L198.6 669.2L199.6 669.1L200.7 669.1L201.7 669.1L202.8 669.1L203.8 669.1L204.9 669.1L205.9 669.2L207.0 669.3L208.0 669.4L209.0 669.5L210.1 669.6L211.1 669.8L212.2 670.0L213.2 670.2L214.3 670.4L215.3 670.6L216.3 670.9L217.2 671.1L218.2 671.4L219.2 671.7L220.1 672.1L221.1 672.4L222.0 672.8L223.0 673.1L223.9 673.5L224.9 673.9L225.9 674.3L226.8 674.8L227.7 675.2L228.6 675.7L229.5 676.2L230.4 676.6L231.2 677.1L232.1 677.6L233.0 678.1L233.9 678.6L234.8 679.1L235.7 679.6L236.5 680.1L237.4 680.6L238.3 681.1L239.3 681.6L240.2 682.1L241.2 682.6L242.1 683.1L243.1 683.5L244.1 684.0L245.0 684.4L246.0 684.8L246.9 685.2L247.9 685.6L248.9 686.0L249.8 686.3L250.9 686.6L252.0 686.9L253.1 687.2L254.2 687.4L255.3 687.7L256.3 687.9L257.4 688.1L258.5 688.3L259.5 688.4L260.4 688.6L261.3 688.7L262.6 688.8L263.7 688.9L264.7 689.0L265.6 689.0L266.6 689.0L267.7 689.0L269.0 689.0L269.9 689.0L270.8 688.9L271.8 688.8L272.9 688.7L273.9 688.6L275.0 688.5L276.1 688.3L277.2 688.2L278.3 688.0L279.4 687.8L280.5 687.6L281.4 687.4L282.3 687.2L283.3 686.9L284.2 686.7L285.1 686.4L286.0 686.1L286.9 685.8L287.9 685.5L288.8 685.2L289.8 684.9L290.9 684.5L292.0 684.2L292.8 683.8L293.7 683.4L294.6 683.0L295.5 682.6L296.5 682.2L297.4 681.8L298.4 681.4L299.4 681.0L300.4 680.5L301.4 680.1L302.4 679.6L303.4 679.2L304.4 678.7L305.4 678.3L306.3 677.8L307.3 677.4L308.2 676.9L309.1 676.5L310.0 676.0L310.9 675.6L311.8 675.1L312.7 674.7L313.6 674.2L314.5 673.8L315.4 673.3L316.3 672.9L317.2 672.4L318.1 671.9L319.0 671.5L319.9 671.0L320.8 670.6L321.7 670.1L322.6 669.7L323.5 669.2L324.4 668.7L325.3 668.3L326.2 667.8L327.1 667.4L328.1 666.9L329.0 666.4L329.9 666.0L330.8 665.5L331.7 665.1L332.6 664.6L333.5 664.2L334.4 663.7L335.3 663.3L336.2 662.9L337.1 662.4L338.0 662.0L338.9 661.6L339.9 661.2L340.9 660.7L341.9 660.3L342.9 659.9L343.9 659.5L344.9 659.1L345.9 658.7L346.9 658.3L347.8 658.0L348.8 657.6L349.7 657.2L350.7 656.9L351.6 656.5L352.4 656.2L353.3 655.9L354.5 655.6L355.6 655.3L356.6 655.0L357.6 654.8L358.6 654.5L359.5 654.3L360.5 654.1L361.5 653.9L362.5 653.7L363.6 653.5L364.8 653.3L365.7 653.2L366.7 653.0L367.6 652.9L368.6 652.8L369.6 652.6L370.7 652.5L371.7 652.4L372.8 652.3L373.8 652.2L374.9 652.1L375.9 652.0L377.0 651.9L378.1 651.8L379.1 651.7L380.1 651.7L381.2 651.6L382.2 651.5L383.3 651.4L384.3 651.3L385.4 651.2L386.4 651.2L387.5 651.1L388.6 651.0L389.6 650.9L390.6 650.8L391.7 650.8L392.6 650.7L393.6 650.6L394.6 650.5L395.5 650.5L396.7 650.4L397.8 650.3L398.9 650.2L400.0 650.2L401.1 650.1L402.1 650.0L403.1 650.0L404.1 649.9L405.0 649.9L406.0 649.9L407.0 649.9L408.1 649.9L409.2 649.9L410.3 650.0L411.4 650.1L412.4 650.1L413.4 650.2L414.5 650.4L415.5 650.5L416.5 650.7L417.5 650.9L418.4 651.1L419.4 651.3L420.3 651.6L421.2 651.9L422.2 652.2L423.1 652.6L424.1 653.0L425.1 653.4L426.1 653.8L426.9 654.3L427.8 654.7L428.6 655.3L429.5 655.8L430.4 656.3L431.3 656.9L432.2 657.5L433.1 658.1L434.0 658.7L434.9 659.3L435.8 659.9L436.7 660.5L437.6 661.2L438.4 661.8L439.3 662.4L440.1 663.0L440.9 663.6L441.7 664.3L442.6 664.9L443.4 665.5L444.2 666.1L445.0 666.7L445.8 667.3L446.7 667.9L447.5 668.5L448.3 669.1L449.1 669.7L450.0 670.2L450.9 670.8L451.8 671.4L452.7 672.0L453.6 672.5L454.5 673.1L455.4 673.6L456.3 674.1L457.2 674.6L458.1 675.1L459.0 675.6L459.8 676.0L460.6 676.4L461.8 676.8L462.9 677.2L464.0 677.5L465.1 677.8L466.2 678.1L467.2 678.3L468.2 678.5L469.2 678.7L470.2 678.8L471.4 678.8L472.5 678.8L473.5 678.8L474.6 678.6L475.6 678.5L476.7 678.3L477.9 678.0L478.8 677.7L479.7 677.3L480.6 676.9L481.6 676.5L482.5 676.0L483.5 675.6L484.5 675.1L485.5 674.6L486.5 674.0L487.5 673.5L488.4 673.0L489.4 672.5L490.3 672.0L491.3 671.5L492.2 671.0L493.2 670.5L494.2 670.0L495.1 669.6L496.1 669.1L497.0 668.7L498.1 668.3L499.2 668.0L500.2 667.6L501.3 667.3L502.4 667.0L503.4 666.8L504.5 666.5L505.6 666.3L506.6 666.2L507.7 666.0L508.7 665.9L509.8 665.9L510.9 665.8L511.9 665.8L513.0 665.9L514.1 665.9L515.1 666.0L516.2 666.1L517.2 666.2L518.3 666.3L519.3 666.5L520.3 666.7L521.3 666.9L522.4 667.1L523.5 667.3L524.6 667.5L525.8 667.7L526.7 668.0L527.8 668.2L528.9 668.4L530.1 668.7L531.3 668.9L532.5 669.1L533.7 669.2L534.8 669.4L535.8 669.5L536.7 669.6L537.4 669.6L538.0 669.7" stroke="#4dbeee" stroke-width="2.9" fill="none" stroke-linejoin="round" stroke-linecap="round" clip-path="url(#cp0_5)"/>
<path d="M90.35 793.13H538.1M90.35 787.97H538.1M90.35 782.8H538.1M90.35 777.64H538.1M90.35 767.31H538.1M90.35 762.14H538.1M90.35 756.98H538.1M90.35 751.81H538.1" stroke="#cfcfcf" stroke-width="1" stroke-dasharray="1.3 2.85" fill="none"/><path d="M89.75 772.47H538.1M139.5 746.65V798.3M228.6 746.65V798.3M318.4 746.65V798.3M407.4 746.65V798.3M496.5 746.65V798.3" stroke="#e2e2e2" stroke-width="1" fill="none"/>
<path d="M89.75 798.3h5M538.1 798.3h-5M89.75 772.47h5M538.1 772.47h-5M89.75 746.65h5M538.1 746.65h-5M139.5 746.65v5M139.5 798.3v-5M228.6 746.65v5M228.6 798.3v-5M318.4 746.65v5M318.4 798.3v-5M407.4 746.65v5M407.4 798.3v-5M496.5 746.65v5M496.5 798.3v-5" stroke="#262626" stroke-width="1.1" fill="none"/>
<rect x="89.75" y="746.65" width="448.35" height="51.65" fill="none" stroke="#262626" stroke-width="1.1"/>
<clipPath id="cp0_6"><rect x="88.25" y="745.15" width="451.35" height="54.65"/></clipPath>
<path d="M89.6 779.8L90.2 779.8L91.0 779.8L92.0 779.9L93.1 779.9L94.2 780.0L95.5 780.0L96.7 780.1L98.0 780.1L99.2 780.2L100.3 780.2L101.3 780.2L102.4 780.2L103.4 780.2L104.5 780.1L105.5 780.0L106.6 779.9L107.6 779.8L108.7 779.7L109.7 779.5L110.8 779.4L111.8 779.2L112.9 779.0L113.9 778.8L115.0 778.5L116.0 778.3L117.1 778.0L118.1 777.7L119.1 777.4L120.2 777.2L121.2 776.8L122.3 776.5L123.3 776.2L124.3 775.8L125.2 775.5L126.2 775.1L127.2 774.8L128.1 774.4L129.1 774.0L130.0 773.6L131.0 773.2L132.0 772.8L132.9 772.4L133.9 772.0L134.8 771.6L135.8 771.2L136.7 770.8L137.7 770.4L138.7 770.0L139.6 769.6L140.6 769.2L141.5 768.7L142.5 768.3L143.5 767.9L144.4 767.5L145.4 767.1L146.3 766.7L147.3 766.3L148.2 766.0L149.2 765.6L150.2 765.2L151.1 764.8L152.1 764.5L153.0 764.2L154.0 763.8L155.0 763.5L155.9 763.2L156.9 762.9L157.8 762.6L158.9 762.3L159.9 762.0L161.0 761.8L162.1 761.6L163.2 761.3L164.2 761.1L165.3 760.9L166.3 760.8L167.3 760.6L168.4 760.4L169.3 760.3L170.5 760.2L171.6 760.1L172.7 760.0L173.7 760.0L174.8 759.9L175.8 759.9L176.8 759.9L177.9 760.0L178.9 760.0L180.0 760.1L181.0 760.2L182.0 760.3L183.1 760.4L184.1 760.6L185.2 760.8L186.2 761.0L187.3 761.2L188.5 761.4L189.4 761.6L190.2 761.9L191.1 762.2L192.0 762.4L192.9 762.7L193.9 763.0L194.8 763.4L195.8 763.7L196.8 764.1L197.8 764.4L198.9 764.8L200.0 765.2L200.8 765.6L201.7 766.0L202.6 766.4L203.5 766.8L204.5 767.3L205.5 767.7L206.4 768.2L207.4 768.6L208.4 769.1L209.4 769.5L210.4 770.0L211.4 770.5L212.4 771.0L213.4 771.4L214.4 771.9L215.3 772.4L216.2 772.8L217.1 773.3L218.0 773.8L218.9 774.2L219.8 774.7L220.7 775.1L221.6 775.6L222.5 776.1L223.4 776.5L224.3 777.0L225.2 777.4L226.1 777.9L227.0 778.3L227.9 778.8L228.8 779.2L229.7 779.7L230.6 780.1L231.6 780.6L232.6 781.0L233.5 781.5L234.5 781.9L235.4 782.4L236.4 782.8L237.4 783.2L238.3 783.7L239.3 784.1L240.2 784.5L241.2 784.9L242.1 785.4L243.1 785.8L244.1 786.1L245.0 786.5L246.0 786.9L246.9 787.3L247.9 787.6L248.9 787.9L249.8 788.3L250.8 788.6L251.7 788.9L252.7 789.2L253.6 789.5L254.6 789.8L255.6 790.1L256.5 790.3L257.5 790.6L258.4 790.8L259.4 791.1L260.4 791.3L261.3 791.5L262.3 791.7L263.4 791.9L264.4 792.1L265.5 792.3L266.6 792.4L267.6 792.6L268.7 792.7L269.7 792.8L270.8 792.9L271.8 793.0L272.8 793.1L273.8 793.2L274.8 793.3L275.7 793.3L276.6 793.4L277.8 793.4L278.9 793.4L280.0 793.4L280.9 793.3L281.9 793.3L282.9 793.2L283.8 793.1L284.8 793.0L285.9 792.9L287.0 792.8L288.1 792.7L289.1 792.6L290.0 792.4L291.0 792.2L292.0 792.1L293.0 791.9L294.0 791.7L295.0 791.5L296.1 791.3L297.2 791.1L298.2 790.9L299.3 790.6L300.3 790.4L301.4 790.1L302.4 789.9L303.5 789.6L304.4 789.3L305.4 789.0L306.3 788.7L307.3 788.4L308.3 788.0L309.2 787.7L310.2 787.4L311.1 787.0L312.1 786.6L313.1 786.3L314.0 785.9L315.0 785.5L315.9 785.1L316.9 784.7L317.8 784.3L318.8 783.9L319.7 783.5L320.6 783.1L321.5 782.6L322.4 782.2L323.3 781.8L324.2 781.3L325.1 780.9L326.0 780.4L326.9 780.0L327.8 779.5L328.7 779.0L329.6 778.6L330.5 778.1L331.4 777.7L332.3 777.2L333.2 776.7L334.1 776.3L335.0 775.8L335.9 775.4L336.8 774.9L337.7 774.5L338.6 774.0L339.5 773.6L340.5 773.1L341.4 772.7L342.3 772.2L343.2 771.8L344.1 771.3L345.0 770.8L345.9 770.4L346.8 769.9L347.7 769.5L348.6 769.0L349.5 768.6L350.4 768.1L351.3 767.7L352.2 767.2L353.1 766.7L354.0 766.3L354.9 765.8L355.8 765.4L356.7 764.9L357.6 764.4L358.5 764.0L359.4 763.6L360.3 763.1L361.2 762.7L362.1 762.2L363.0 761.8L363.9 761.4L364.8 761.0L365.8 760.6L366.7 760.2L367.7 759.8L368.6 759.4L369.6 759.0L370.6 758.6L371.5 758.3L372.5 757.9L373.4 757.5L374.4 757.2L375.3 756.8L376.3 756.5L377.3 756.2L378.2 755.8L379.2 755.5L380.1 755.2L381.2 754.9L382.2 754.6L383.3 754.3L384.3 754.0L385.4 753.7L386.4 753.5L387.5 753.2L388.6 752.9L389.6 752.7L390.6 752.5L391.7 752.2L392.6 752.0L393.6 751.8L394.6 751.6L395.5 751.4L396.7 751.2L397.8 751.1L398.9 750.9L399.9 750.8L400.9 750.7L402.0 750.6L402.9 750.5L403.9 750.5L404.9 750.4L405.9 750.4L407.0 750.4L408.0 750.5L409.1 750.5L410.1 750.6L411.1 750.7L412.2 750.8L413.2 750.9L414.3 751.1L415.3 751.2L416.4 751.4L417.4 751.6L418.5 751.8L419.4 752.1L420.3 752.3L421.2 752.6L422.2 752.9L423.1 753.2L424.0 753.5L424.9 753.8L425.8 754.1L426.8 754.5L427.8 754.8L428.9 755.2L430.0 755.6L430.8 756.0L431.7 756.4L432.6 756.8L433.5 757.2L434.5 757.6L435.4 758.1L436.4 758.5L437.4 759.0L438.4 759.4L439.4 759.9L440.4 760.4L441.4 760.9L442.4 761.4L443.3 761.9L444.3 762.3L445.3 762.8L446.2 763.3L447.1 763.8L448.0 764.4L448.9 764.9L449.8 765.4L450.7 765.9L451.6 766.4L452.5 766.9L453.4 767.4L454.3 768.0L455.2 768.5L456.1 769.0L457.0 769.6L457.9 770.1L458.8 770.6L459.7 771.1L460.6 771.7L461.5 772.2L462.4 772.7L463.3 773.3L464.2 773.8L465.1 774.3L466.0 774.9L466.9 775.4L467.8 775.9L468.7 776.4L469.6 777.0L470.5 777.5L471.4 778.0L472.3 778.5L473.2 779.0L474.2 779.5L475.1 780.0L476.0 780.4L476.9 780.9L477.9 781.4L478.8 781.8L479.8 782.3L480.7 782.7L481.7 783.2L482.7 783.6L483.6 784.0L484.6 784.4L485.5 784.8L486.5 785.2L487.5 785.5L488.4 785.9L489.4 786.2L490.3 786.5L491.3 786.8L492.3 787.1L493.4 787.4L494.4 787.6L495.5 787.9L496.5 788.1L497.6 788.3L498.7 788.5L499.7 788.7L500.8 788.9L501.8 789.0L502.8 789.1L503.8 789.3L504.8 789.4L505.7 789.5L506.6 789.6L507.8 789.7L508.9 789.7L510.0 789.8L511.1 789.8L512.1 789.8L513.1 789.8L514.1 789.8L515.1 789.7L516.1 789.6L517.1 789.5L518.1 789.4L519.2 789.3L520.2 789.1L521.3 788.9L522.4 788.7L523.5 788.5L524.6 788.2L525.7 788.0L526.7 787.7L527.7 787.4L528.7 787.1L529.6 786.9L530.9 786.6L532.1 786.3L533.4 786.1L534.5 785.9L535.6 785.8L536.6 785.6L537.4 785.5L538.0 785.5" stroke="#a2142f" stroke-width="2.9" fill="none" stroke-linejoin="round" stroke-linecap="round" clip-path="url(#cp0_6)"/>
<path d="M90.35 890.64H538.1M90.35 880.77H538.1M90.35 870.91H538.1M90.35 861.04H538.1" stroke="#cfcfcf" stroke-width="1" stroke-dasharray="1.3 2.85" fill="none"/><path d="M89.75 851.18H538.1M139.5 849.4V900.5M228.6 849.4V900.5M318.4 849.4V900.5M407.4 849.4V900.5M496.5 849.4V900.5" stroke="#e2e2e2" stroke-width="1" fill="none"/>
<path d="M89.75 900.5h5M538.1 900.5h-5M89.75 851.18h5M538.1 851.18h-5M139.5 849.4v5M139.5 900.5v-5M228.6 849.4v5M228.6 900.5v-5M318.4 849.4v5M318.4 900.5v-5M407.4 849.4v5M407.4 900.5v-5M496.5 849.4v5M496.5 900.5v-5" stroke="#262626" stroke-width="1.1" fill="none"/>
<rect x="89.75" y="849.4" width="448.35" height="51.1" fill="none" stroke="#262626" stroke-width="1.1"/>
<clipPath id="cp0_7"><rect x="88.25" y="847.9" width="451.35" height="54.1"/></clipPath>
<path d="M89.6 895.7L90.1 895.7L90.7 895.7L91.4 895.6L92.1 895.6L92.8 895.6L93.6 895.5L94.5 895.5L95.3 895.4L96.2 895.4L97.2 895.3L98.2 895.2L99.2 895.1L100.2 895.1L101.3 895.0L102.4 894.9L103.5 894.8L104.6 894.7L105.8 894.6L106.9 894.6L108.1 894.5L109.3 894.4L110.5 894.3L111.7 894.2L112.9 894.1L114.1 894.0L115.3 893.9L116.5 893.8L117.6 893.7L118.8 893.6L120.0 893.5L121.1 893.4L122.2 893.3L123.3 893.2L124.3 893.1L125.2 893.0L126.2 892.9L127.2 892.8L128.1 892.7L129.1 892.6L130.1 892.6L131.1 892.5L132.1 892.4L133.1 892.3L134.1 892.2L135.1 892.1L136.1 891.9L137.1 891.8L138.1 891.7L139.1 891.6L140.2 891.5L141.2 891.4L142.2 891.3L143.2 891.2L144.3 891.1L145.3 891.0L146.3 890.9L147.3 890.8L148.4 890.7L149.4 890.6L150.4 890.5L151.5 890.4L152.5 890.3L153.5 890.2L154.5 890.1L155.6 890.0L156.6 889.9L157.6 889.8L158.6 889.7L159.6 889.6L160.6 889.5L161.7 889.4L162.7 889.3L163.7 889.2L164.7 889.1L165.7 889.0L166.8 888.9L167.8 888.9L168.9 888.8L169.9 888.7L170.9 888.6L172.0 888.5L173.0 888.4L174.1 888.3L175.1 888.3L176.2 888.2L177.2 888.1L178.3 888.0L179.3 887.9L180.4 887.9L181.4 887.8L182.5 887.7L183.5 887.6L184.5 887.5L185.5 887.5L186.6 887.4L187.6 887.3L188.6 887.2L189.6 887.2L190.6 887.1L191.6 887.0L192.5 886.9L193.5 886.8L194.5 886.8L195.4 886.7L196.4 886.6L197.3 886.5L198.2 886.4L199.1 886.4L200.0 886.3L201.2 886.2L202.3 886.1L203.5 886.0L204.6 885.9L205.7 885.8L206.8 885.7L207.8 885.6L208.9 885.6L209.9 885.5L211.0 885.4L212.0 885.3L213.0 885.2L214.0 885.1L215.0 885.0L215.9 884.9L216.9 884.8L217.9 884.7L218.9 884.6L219.8 884.5L220.8 884.5L221.8 884.4L222.7 884.3L223.7 884.1L224.7 884.0L225.7 883.9L226.7 883.8L227.7 883.7L228.7 883.6L229.7 883.5L230.7 883.4L231.7 883.3L232.7 883.1L233.7 883.0L234.6 882.9L235.6 882.8L236.6 882.6L237.6 882.5L238.6 882.4L239.6 882.2L240.5 882.1L241.5 882.0L242.5 881.8L243.5 881.7L244.5 881.6L245.4 881.4L246.4 881.3L247.4 881.2L248.4 881.0L249.4 880.9L250.4 880.8L251.4 880.6L252.4 880.5L253.4 880.3L254.4 880.2L255.4 880.1L256.5 879.9L257.5 879.8L258.5 879.7L259.5 879.6L260.5 879.4L261.5 879.3L262.5 879.2L263.5 879.0L264.5 878.9L265.5 878.8L266.5 878.7L267.6 878.5L268.6 878.4L269.6 878.3L270.6 878.2L271.7 878.0L272.7 877.9L273.7 877.8L274.8 877.7L275.8 877.5L276.8 877.4L277.9 877.3L278.9 877.2L279.9 877.0L280.9 876.9L282.0 876.8L283.0 876.6L284.0 876.5L285.1 876.4L286.1 876.2L287.1 876.1L288.1 876.0L289.1 875.8L290.1 875.7L291.1 875.5L292.1 875.4L293.0 875.3L294.0 875.1L295.0 875.0L296.0 874.8L296.9 874.7L297.9 874.6L298.9 874.4L299.8 874.3L300.8 874.1L301.8 874.0L302.7 873.8L303.7 873.7L304.7 873.5L305.7 873.4L306.7 873.2L307.6 873.1L308.6 872.9L309.6 872.8L310.6 872.6L311.6 872.5L312.6 872.3L313.6 872.2L314.7 872.0L315.7 871.8L316.7 871.7L317.8 871.5L318.8 871.4L319.8 871.2L320.7 871.1L321.7 870.9L322.7 870.8L323.7 870.6L324.7 870.4L325.7 870.3L326.7 870.1L327.8 870.0L328.8 869.8L329.8 869.6L330.9 869.5L331.9 869.3L332.9 869.2L334.0 869.0L335.0 868.8L336.1 868.7L337.1 868.5L338.1 868.4L339.2 868.2L340.2 868.0L341.3 867.9L342.3 867.7L343.3 867.6L344.3 867.4L345.4 867.2L346.4 867.1L347.4 866.9L348.4 866.8L349.4 866.6L350.4 866.4L351.4 866.3L352.3 866.1L353.3 866.0L354.4 865.8L355.4 865.7L356.5 865.5L357.5 865.3L358.5 865.2L359.6 865.0L360.6 864.9L361.7 864.7L362.7 864.6L363.7 864.4L364.8 864.2L365.8 864.1L366.8 863.9L367.8 863.8L368.8 863.6L369.9 863.5L370.9 863.3L371.8 863.2L372.8 863.0L373.8 862.9L374.8 862.7L375.7 862.6L376.7 862.5L377.6 862.3L378.6 862.2L379.5 862.0L380.4 861.9L381.3 861.8L382.2 861.6L383.1 861.5L384.0 861.4L385.1 861.2L386.2 861.1L387.3 861.0L388.4 860.9L389.5 860.7L390.5 860.6L391.5 860.5L392.5 860.4L393.5 860.3L394.5 860.1L395.5 860.0L396.4 859.9L397.4 859.8L398.3 859.7L399.3 859.6L400.2 859.5L401.2 859.4L402.1 859.3L403.1 859.2L404.0 859.0L405.0 858.9L406.0 858.8L407.0 858.7L408.0 858.6L409.0 858.4L410.0 858.3L411.0 858.2L412.0 858.1L413.0 857.9L414.0 857.8L415.0 857.7L416.0 857.5L417.0 857.4L418.0 857.2L419.0 857.1L420.0 857.0L421.0 856.8L422.0 856.7L423.0 856.6L424.0 856.4L425.0 856.3L426.0 856.2L427.0 856.0L428.0 855.9L429.0 855.8L430.0 855.7L431.0 855.5L432.0 855.4L433.0 855.3L434.0 855.2L435.0 855.0L436.0 854.9L437.0 854.8L438.0 854.7L439.0 854.5L440.0 854.4L441.0 854.3L442.0 854.2L443.0 854.1L444.0 854.0L445.0 853.8L446.0 853.7L447.0 853.6L448.0 853.5L449.0 853.4L450.0 853.3L451.0 853.2L452.0 853.1L453.0 853.0L454.0 852.9L455.0 852.8L456.0 852.7L457.0 852.6L458.0 852.5L459.0 852.4L460.0 852.3L461.0 852.2L462.0 852.1L463.1 852.1L464.1 852.0L465.1 851.9L466.1 851.8L467.1 851.7L468.1 851.6L469.1 851.6L470.1 851.5L471.1 851.4L472.1 851.3L473.0 851.3L474.0 851.2L475.0 851.1L476.0 851.1L477.0 851.0L478.0 850.9L479.1 850.9L480.1 850.8L481.1 850.7L482.1 850.7L483.1 850.6L484.1 850.5L485.1 850.5L486.1 850.4L487.1 850.4L488.1 850.3L489.1 850.3L490.1 850.2L491.1 850.2L492.1 850.1L493.0 850.1L494.0 850.0L495.0 850.0L496.0 850.0L497.0 849.9L498.0 849.9L499.0 849.9L500.1 849.8L501.1 849.8L502.1 849.8L503.1 849.8L504.1 849.7L505.1 849.7L506.1 849.7L507.1 849.7L508.2 849.7L509.2 849.6L510.2 849.6L511.2 849.6L512.2 849.6L513.2 849.6L514.2 849.6L515.2 849.6L516.2 849.5L517.1 849.5L518.1 849.5L519.2 849.5L520.4 849.5L521.5 849.4L522.7 849.4L524.0 849.4L525.2 849.4L526.4 849.4L527.6 849.3L528.8 849.3L530.0 849.3L531.1 849.3L532.2 849.3L533.3 849.2L534.3 849.2L535.2 849.2L536.0 849.2L536.8 849.2L537.5 849.2L538.0 849.2" stroke="#0072bd" stroke-width="2.9" fill="none" stroke-linejoin="round" stroke-linecap="round" clip-path="url(#cp0_7)"/>
<path d="M689.5 173.61H1137.5M689.5 167.58H1137.5M689.5 161.56H1137.5M689.5 155.53H1137.5M689.5 143.48H1137.5M689.5 137.46H1137.5" stroke="#cfcfcf" stroke-width="1" stroke-dasharray="1.3 2.85" fill="none"/><path d="M688.9 179.63H1137.5M688.9 149.51H1137.5M770.46 135.2V186.5M852.02 135.2V186.5M933.58 135.2V186.5M1015.14 135.2V186.5M1096.7 135.2V186.5" stroke="#e2e2e2" stroke-width="1" fill="none"/>
<path d="M688.9 179.63h5M1137.5 179.63h-5M688.9 149.51h5M1137.5 149.51h-5M688.9 135.2v5M688.9 186.5v-5M770.46 135.2v5M770.46 186.5v-5M852.02 135.2v5M852.02 186.5v-5M933.58 135.2v5M933.58 186.5v-5M1015.14 135.2v5M1015.14 186.5v-5M1096.7 135.2v5M1096.7 186.5v-5" stroke="#262626" stroke-width="1.1" fill="none"/>
<rect x="688.9" y="135.2" width="448.6" height="51.3" fill="none" stroke="#262626" stroke-width="1.1"/>
<clipPath id="cp1_0"><rect x="687.4" y="133.7" width="451.6" height="54.3"/></clipPath>
<path d="M725.5 162.4L726.4 163.3L727.3 164.7L728.2 164.2L729.1 163.8L730.0 163.4L730.9 162.1L731.8 162.4L732.7 162.5L733.6 162.6L734.5 161.0L735.4 161.3L736.3 160.8L737.2 162.5L738.1 162.6L739.0 161.5L739.9 163.0L740.8 162.5L741.7 161.4L742.6 160.9L743.5 160.2L744.4 160.2L745.3 161.5L746.2 160.3L747.1 159.9L748.0 159.4L748.9 158.9L749.8 160.2L750.7 160.5L751.6 161.9L752.5 162.5L753.4 163.9L754.3 165.1L755.2 167.0L756.1 166.2L757.0 164.0L757.9 164.8L758.8 165.7L759.7 166.3L760.6 166.0L761.5 164.6L762.4 163.8L763.3 164.2L764.2 165.0L765.1 167.7L766.0 168.7L766.9 171.4L767.8 172.4L768.7 175.2L769.6 173.1L770.5 169.6L771.4 169.2L772.3 169.7L773.2 168.0L774.1 168.5L775.0 166.9L775.9 165.8L776.8 166.4L777.7 166.3L778.6 164.9L779.5 164.1L780.4 164.2L781.3 165.1L782.2 164.3L783.1 162.9L784.0 163.0L784.9 162.6L785.8 162.4L786.7 163.7L787.6 162.3L788.5 162.8L789.4 162.4L790.3 161.6L791.2 162.5L792.1 161.1L793.0 161.9L793.9 160.7L794.8 161.1L795.7 160.5L796.6 160.6L797.5 162.3L798.4 162.4L799.3 161.7L800.2 163.3L801.1 162.7L802.0 163.8L802.9 165.5L803.8 165.4L804.7 163.3L805.6 164.1L806.5 161.6L807.4 161.3L808.3 161.9L809.2 160.6L810.1 160.1L811.0 159.3L811.9 159.3L812.8 160.1L813.7 159.3L814.6 159.9L815.5 159.4L816.4 160.5L817.3 162.5L818.2 162.6L819.1 163.8L820.0 164.8L820.9 163.6L821.8 163.7L822.7 165.0L823.6 164.3L824.5 162.6L825.4 161.9L826.3 162.5L827.2 162.3L828.1 160.2L829.0 161.1L829.9 161.9L830.8 162.2L831.7 162.7L832.6 162.4L833.5 161.6L834.4 162.8L835.3 160.7L836.2 161.2L837.1 159.8L838.0 160.6L838.9 159.7L839.8 158.7L840.7 158.0L841.6 158.7L842.5 157.3L843.4 157.5L844.3 158.1L845.2 158.5L846.1 158.0L847.0 156.9L847.9 157.7L848.8 155.8L849.7 155.0L850.6 155.0L851.5 155.0L852.4 154.0L853.3 153.9L854.2 154.1L855.1 154.2L856.0 153.3L856.9 154.8L857.8 156.9L858.7 157.3L859.6 155.5L860.5 154.8L861.4 154.5L862.3 153.6L863.2 154.2L864.1 157.1L865.0 162.3L865.9 167.3L866.8 173.2L867.7 176.9L868.6 182.9L869.5 185.4L870.4 183.3L871.3 177.6L872.2 179.9L873.1 178.9L874.0 176.0L874.9 174.7L875.8 175.5L876.7 174.6L877.6 172.5L878.5 171.4L879.4 172.5L880.3 172.3L881.2 173.1L882.1 172.8L883.0 172.1L883.9 169.3L884.8 167.8L885.7 165.9L886.6 164.0L887.5 162.9L888.4 165.8L889.3 168.3L890.2 168.0L891.1 166.5L892.0 167.1L892.9 167.2L893.8 166.4L894.7 165.6L895.6 164.4L896.5 164.7L897.4 163.9L898.3 163.2L899.2 163.7L900.1 161.9L901.0 162.9L901.9 161.1L902.8 161.7L903.7 160.9L904.6 159.8L905.5 160.1L906.4 160.3L907.3 161.5L908.2 163.0L909.1 162.3L910.0 162.3L910.9 163.4L911.8 163.9L912.7 161.9L913.6 160.8L914.5 161.1L915.4 160.3L916.3 160.6L917.2 162.3L918.1 162.5L919.0 164.5L919.9 161.6L920.8 159.3L921.7 157.3L922.6 156.9L923.5 156.1L924.4 154.5L925.3 154.2L926.2 153.3L927.1 152.7L928.0 153.2L928.9 153.7L929.8 153.5L930.7 153.0L931.6 153.3L932.5 151.7L933.4 151.0L934.3 150.6L935.2 149.2L936.1 148.2L937.0 149.6L937.9 151.1L938.8 151.8L939.7 150.5L940.6 150.4L941.5 149.5L942.4 147.7L943.3 146.5L944.2 146.0L945.1 147.2L946.0 145.8L946.9 148.3L947.8 148.5L948.7 146.9L949.6 146.8L950.5 144.3L951.4 144.7L952.3 145.4L953.2 144.7L954.1 145.6L955.0 143.7L955.9 142.7L956.8 141.7L957.7 142.4L958.6 141.7L959.5 141.7L960.4 141.4L961.3 141.3L962.2 141.4L963.1 141.0L964.0 140.2L964.9 140.9L965.8 140.4L966.7 139.6L967.6 140.1L968.5 140.1L969.4 138.6L970.3 139.1L971.2 139.9L972.1 141.2L973.0 140.9L973.9 140.7L974.8 140.6L975.7 139.5L976.6 140.3L977.5 141.1L978.4 140.1L979.3 142.2L980.2 141.1L981.1 139.2L982.0 139.2L982.9 138.9L983.8 139.2L984.7 138.0L985.6 138.2L986.5 138.6L987.4 138.3L988.3 138.9L989.2 138.8L990.1 140.0L991.0 139.9L991.9 141.5L992.8 141.8L993.7 141.6L994.6 141.7L995.5 139.7L996.4 140.1L997.3 139.3L998.2 138.3L999.1 137.0L1000.0 137.1L1000.9 135.8L1001.8 136.6L1002.7 136.4L1003.6 135.6L1004.5 135.1L1005.4 136.4L1006.3 137.9L1007.2 139.6L1008.1 140.3L1009.0 140.3L1009.9 140.7L1010.8 138.0L1011.7 138.3L1012.6 136.5L1013.5 136.4L1014.4 136.8L1015.3 135.1L1016.2 135.2L1017.1 136.2L1018.0 136.9L1018.9 138.2L1019.8 139.7L1020.7 141.0L1021.6 139.1L1022.5 139.0L1023.4 136.5L1024.3 137.8L1025.2 139.5L1026.1 140.0L1027.0 141.8L1027.9 142.5L1028.8 143.2L1029.7 144.7L1030.6 143.4L1031.5 141.4L1032.4 140.0L1033.3 139.8L1034.2 139.0L1035.1 136.8L1036.0 138.4L1036.9 139.2L1037.8 139.0L1038.7 139.8L1039.6 140.2L1040.5 142.1L1041.4 143.3L1042.3 144.9L1043.2 145.3L1044.1 148.7L1045.0 147.7L1045.9 146.9L1046.8 147.1L1047.7 145.4L1048.6 143.4L1049.5 144.2L1050.4 146.6L1051.3 151.1L1052.2 153.5L1053.1 153.7L1054.0 152.7L1054.9 150.6L1055.8 151.6L1056.7 151.5L1057.6 152.7L1058.5 152.6L1059.4 151.5L1060.3 149.5L1061.2 148.2L1062.1 147.2L1063.0 147.2L1063.9 147.1L1064.8 144.7L1065.7 145.6L1066.6 144.9L1067.5 145.9L1068.4 146.7L1069.3 148.5L1070.2 148.7L1071.1 149.7L1072.0 151.4L1072.9 151.5L1073.8 154.0L1074.7 154.0L1075.6 156.0L1076.5 156.6L1077.4 156.9L1078.3 157.2L1079.2 156.7L1080.1 155.3L1081.0 153.8L1081.9 152.4L1082.8 150.3L1083.7 149.2L1084.6 148.8L1085.5 147.5L1086.4 146.9L1087.3 147.2L1088.2 146.3L1089.1 146.5L1090.0 145.5L1090.9 147.1L1091.8 147.8L1092.7 148.6L1093.6 148.0L1094.5 148.0L1095.4 148.4L1096.3 146.2L1097.2 146.9L1098.1 145.9L1099.0 143.5L1099.9 143.4L1100.8 144.0L1101.7 142.7L1102.6 142.0L1103.5 143.1L1104.4 142.4L1105.3 143.3L1106.2 142.2L1107.1 143.0L1108.0 144.1L1108.9 143.7L1109.8 144.9L1110.7 147.0L1111.6 149.1L1112.5 150.8L1113.4 150.6L1114.3 150.3L1115.2 149.8L1116.1 148.3L1117.0 148.0L1117.9 146.4L1118.8 145.6L1119.7 145.1L1120.6 144.9L1121.5 146.3L1122.4 146.6L1123.3 147.1L1124.2 146.5L1125.1 146.5L1126.0 146.6L1126.9 147.9L1127.8 148.6L1128.7 148.9L1129.6 147.7L1130.5 147.3L1131.4 148.1L1132.3 146.1L1133.2 145.7" stroke="#000000" stroke-width="3.3" fill="none" stroke-linejoin="round" stroke-linecap="round" clip-path="url(#cp1_0)"/>
<path d="M689.5 280.06H1137.5M689.5 275.5H1137.5M689.5 270.95H1137.5M689.5 266.4H1137.5M689.5 257.29H1137.5M689.5 252.74H1137.5M689.5 248.18H1137.5M689.5 243.63H1137.5" stroke="#cfcfcf" stroke-width="1" stroke-dasharray="1.3 2.85" fill="none"/><path d="M688.9 284.61H1137.5M688.9 261.84H1137.5M688.9 239.08H1137.5M770.46 237.3V288.8M852.02 237.3V288.8M933.58 237.3V288.8M1015.14 237.3V288.8M1096.7 237.3V288.8" stroke="#e2e2e2" stroke-width="1" fill="none"/>
<path d="M688.9 284.61h5M1137.5 284.61h-5M688.9 261.84h5M1137.5 261.84h-5M688.9 239.08h5M1137.5 239.08h-5M688.9 237.3v5M688.9 288.8v-5M770.46 237.3v5M770.46 288.8v-5M852.02 237.3v5M852.02 288.8v-5M933.58 237.3v5M933.58 288.8v-5M1015.14 237.3v5M1015.14 288.8v-5M1096.7 237.3v5M1096.7 288.8v-5" stroke="#262626" stroke-width="1.1" fill="none"/>
<rect x="688.9" y="237.3" width="448.6" height="51.5" fill="none" stroke="#262626" stroke-width="1.1"/>
<clipPath id="cp1_1"><rect x="687.4" y="235.8" width="451.6" height="54.5"/></clipPath>
<path d="M725.0 262.4L725.3 261.0L725.7 262.3L726.0 260.8L726.4 262.5L726.7 260.8L727.1 262.6L727.4 260.6L727.8 262.6L728.2 260.2L728.5 262.8L728.9 260.1L729.2 262.7L729.6 260.5L729.9 263.1L730.3 260.6L730.6 263.0L731.0 260.6L731.3 263.2L731.7 260.2L732.0 262.7L732.4 260.1L732.8 263.3L733.1 260.2L733.5 263.5L733.8 259.2L734.2 263.7L734.5 260.0L734.9 263.1L735.2 260.2L735.6 263.3L735.9 258.6L736.3 264.2L736.6 258.9L737.0 264.5L737.4 258.6L737.7 262.7L738.1 260.3L738.4 262.9L738.8 259.6L739.1 263.1L739.5 259.8L739.8 262.7L740.2 260.1L740.5 262.6L740.9 260.3L741.3 262.5L741.6 260.5L742.0 262.5L742.3 260.5L742.7 262.4L743.0 260.7L743.4 262.4L743.7 260.6L744.1 262.6L744.4 260.4L744.8 262.6L745.1 260.7L745.5 262.6L745.9 260.4L746.2 263.1L746.6 261.1L746.9 262.2L747.3 261.0L747.6 262.8L748.0 260.6L748.3 263.4L748.7 259.9L749.0 264.5L749.4 260.5L749.7 264.2L750.1 259.7L750.5 264.1L750.8 259.5L751.2 263.8L751.5 258.1L751.9 264.1L752.2 256.8L752.6 267.0L752.9 258.9L753.3 266.3L753.6 260.3L754.0 264.3L754.3 260.0L754.7 264.5L755.1 259.8L755.4 264.5L755.8 259.9L756.1 264.8L756.5 257.7L756.8 266.8L757.2 257.0L757.5 267.0L757.9 257.6L758.2 265.4L758.6 258.9L759.0 265.7L759.3 255.5L759.7 269.8L760.0 254.8L760.4 268.1L760.7 257.1L761.1 265.6L761.4 260.6L761.8 264.1L762.1 260.4L762.5 264.2L762.8 259.8L763.2 264.6L763.6 259.4L763.9 263.8L764.3 259.3L764.6 263.7L765.0 259.3L765.3 264.4L765.7 258.1L766.0 264.7L766.4 258.5L766.7 263.8L767.1 258.9L767.4 264.8L767.8 258.1L768.2 253.9L768.5 268.8L768.9 265.1L769.2 258.3L769.6 264.4L769.9 259.0L770.3 264.6L770.6 259.0L771.0 265.1L771.3 258.8L771.7 264.7L772.0 259.6L772.4 264.2L772.8 259.9L773.1 265.9L773.5 258.4L773.8 266.2L774.2 258.7L774.5 265.5L774.9 259.3L775.2 265.2L775.6 260.3L775.9 264.1L776.3 260.0L776.7 264.2L777.0 260.4L777.4 264.2L777.7 259.3L778.1 264.9L778.4 259.9L778.8 264.2L779.1 259.6L779.5 264.7L779.8 259.9L780.2 264.5L780.5 260.1L780.9 263.7L781.3 260.4L781.6 263.9L782.0 260.6L782.3 263.6L782.7 260.7L783.0 263.1L783.4 259.5L783.7 264.1L784.1 259.7L784.4 264.0L784.8 260.2L785.1 263.8L785.5 259.7L785.9 263.6L786.2 260.2L786.6 263.5L786.9 261.0L787.3 262.8L787.6 261.2L788.0 263.0L788.3 261.2L788.7 262.7L789.0 260.9L789.4 263.3L789.7 260.9L790.1 263.3L790.5 261.2L790.8 263.0L791.2 261.4L791.5 262.9L791.9 261.4L792.2 263.1L792.6 261.3L792.9 263.1L793.3 261.1L793.6 263.2L794.0 261.1L794.4 263.3L794.7 260.9L795.1 263.3L795.4 261.0L795.8 263.3L796.1 261.5L796.5 262.8L796.8 261.4L797.2 263.5L797.5 260.8L797.9 263.8L798.2 260.3L798.6 264.2L799.0 258.0L799.3 267.1L799.7 257.5L800.0 265.6L800.4 260.6L800.7 263.4L801.1 260.9L801.4 264.6L801.8 260.1L802.1 264.2L802.5 259.6L802.8 264.5L803.2 260.6L803.6 263.8L803.9 260.3L804.3 264.1L804.6 260.1L805.0 264.5L805.3 259.6L805.7 264.3L806.0 260.9L806.4 263.2L806.7 260.9L807.1 263.2L807.4 259.9L807.8 265.3L808.2 258.3L808.5 264.6L808.9 258.5L809.2 265.3L809.6 259.8L809.9 265.0L810.3 259.8L810.6 263.7L811.0 260.1L811.3 265.0L811.7 258.8L812.1 264.7L812.4 260.2L812.8 263.6L813.1 260.2L813.5 264.8L813.8 258.6L814.2 264.9L814.5 260.1L814.9 264.1L815.2 260.1L815.6 263.8L815.9 258.9L816.3 264.4L816.7 259.1L817.0 264.6L817.4 258.6L817.7 263.6L818.1 260.2L818.4 263.6L818.8 259.8L819.1 264.7L819.5 258.9L819.8 264.9L820.2 257.8L820.5 266.0L820.9 257.0L821.3 265.9L821.6 258.4L822.0 265.0L822.3 259.5L822.7 264.3L823.0 259.8L823.4 264.9L823.7 258.3L824.1 265.5L824.4 259.2L824.8 265.4L825.1 260.0L825.5 263.9L825.9 260.2L826.2 263.3L826.6 260.5L826.9 263.1L827.3 258.9L827.6 264.8L828.0 258.5L828.3 264.2L828.7 260.0L829.0 263.4L829.4 260.2L829.8 263.1L830.1 260.4L830.5 264.5L830.8 258.4L831.2 265.3L831.5 256.5L831.9 268.2L832.2 258.4L832.6 264.8L832.9 258.7L833.3 263.8L833.6 259.9L834.0 263.4L834.4 260.6L834.7 263.2L835.1 261.0L835.4 263.3L835.8 261.0L836.1 263.3L836.5 260.5L836.8 264.2L837.2 260.6L837.5 264.3L837.9 260.1L838.2 264.2L838.6 259.9L839.0 264.8L839.3 259.4L839.7 264.8L840.0 258.6L840.4 265.6L840.7 258.9L841.1 265.4L841.4 260.5L841.8 264.5L842.1 260.4L842.5 265.9L842.8 259.0L843.2 265.0L843.6 257.8L843.9 265.8L844.3 258.4L844.6 266.5L845.0 257.9L845.3 265.5L845.7 258.2L846.0 265.1L846.4 259.7L846.7 264.6L847.1 260.4L847.5 264.5L847.8 260.4L848.2 263.1L848.5 261.3L848.9 262.8L849.2 261.3L849.6 263.0L849.9 261.1L850.3 262.9L850.6 261.2L851.0 262.8L851.3 261.3L851.7 262.4L852.1 261.4L852.4 262.5L852.8 261.5L853.1 262.3L853.5 261.3L853.8 262.5L854.2 261.2L854.5 262.6L854.9 260.7L855.2 263.0L855.6 260.5L855.9 263.2L856.3 260.2L856.7 263.3L857.0 259.9L857.4 264.3L857.7 259.2L858.1 264.4L858.4 258.8L858.8 264.8L859.1 257.1L859.5 265.8L859.8 257.0L860.2 265.4L860.5 256.6L860.9 264.7L861.3 257.4L861.6 264.8L862.0 255.1L862.3 267.1L862.7 255.3L863.0 265.7L863.4 255.0L863.7 267.5L864.1 255.1L864.4 268.8L864.8 254.3L865.2 268.8L865.5 254.0L865.9 270.0L866.2 252.8L866.6 275.2L866.9 239.7L867.3 286.6L867.6 237.8L868.0 288.0L868.3 244.0L868.7 280.6L869.0 253.9L869.4 268.2L869.8 254.4L870.1 268.6L870.5 256.0L870.8 269.8L871.2 251.6L871.5 271.2L871.9 251.8L872.2 270.5L872.6 257.4L872.9 266.7L873.3 258.8L873.6 267.8L874.0 259.1L874.4 266.4L874.7 258.7L875.1 266.2L875.4 256.8L875.8 269.1L876.1 253.2L876.5 269.6L876.8 252.8L877.2 270.2L877.5 253.3L877.9 269.4L878.2 258.6L878.6 265.9L879.0 258.9L879.3 265.7L879.7 259.1L880.0 266.3L880.4 258.7L880.7 266.5L881.1 257.5L881.4 267.0L881.8 257.4L882.1 265.5L882.5 258.1L882.9 264.9L883.2 258.2L883.6 264.9L883.9 259.3L884.3 264.6L884.6 257.9L885.0 268.9L885.3 255.7L885.7 269.4L886.0 254.4L886.4 270.3L886.7 258.1L887.1 267.3L887.5 256.8L887.8 270.4L888.2 255.7L888.5 249.3L888.9 279.4L889.2 270.9L889.6 257.4L889.9 266.4L890.3 258.7L890.6 264.5L891.0 258.9L891.3 264.8L891.7 259.7L892.1 264.9L892.4 258.8L892.8 264.5L893.1 259.4L893.5 264.3L893.8 258.8L894.2 265.8L894.5 258.3L894.9 265.1L895.2 259.1L895.6 266.1L895.9 259.3L896.3 265.8L896.7 259.0L897.0 265.0L897.4 259.5L897.7 266.0L898.1 258.8L898.4 267.0L898.8 258.5L899.1 264.8L899.5 260.1L899.8 265.0L900.2 260.8L900.6 264.2L900.9 261.1L901.3 265.0L901.6 260.2L902.0 264.8L902.3 259.3L902.7 265.6L903.0 259.8L903.4 265.6L903.7 259.6L904.1 265.3L904.4 261.0L904.8 263.6L905.2 261.1L905.5 263.6L905.9 261.2L906.2 264.9L906.6 259.9L906.9 265.0L907.3 259.2L907.6 265.8L908.0 257.3L908.3 266.4L908.7 256.7L909.0 266.8L909.4 259.1L909.8 264.9L910.1 259.6L910.5 264.2L910.8 260.9L911.2 263.9L911.5 260.7L911.9 264.2L912.2 260.2L912.6 264.4L912.9 260.0L913.3 265.1L913.6 259.7L914.0 264.4L914.4 259.7L914.7 264.4L915.1 260.2L915.4 264.4L915.8 260.0L916.1 264.2L916.5 258.7L916.8 265.7L917.2 259.4L917.5 265.6L917.9 258.5L918.3 265.8L918.6 259.0L919.0 265.3L919.3 258.1L919.7 263.9L920.0 260.2L920.4 264.2L920.7 260.4L921.1 264.6L921.4 257.5L921.8 267.7L922.1 254.4L922.5 255.5L922.9 269.8L923.2 266.9L923.6 258.2L923.9 264.7L924.3 260.3L924.6 263.9L925.0 260.1L925.3 264.0L925.7 259.9L926.0 265.1L926.4 259.4L926.7 265.2L927.1 259.1L927.5 264.7L927.8 259.2L928.2 265.6L928.5 259.1L928.9 264.7L929.2 259.6L929.6 265.0L929.9 260.6L930.3 263.7L930.6 260.7L931.0 264.1L931.3 260.6L931.7 266.3L932.1 258.7L932.4 265.8L932.8 260.0L933.1 264.8L933.5 259.1L933.8 266.3L934.2 258.7L934.5 266.5L934.9 259.1L935.2 266.0L935.6 258.8L936.0 266.3L936.3 259.1L936.7 265.3L937.0 259.3L937.4 265.6L937.7 258.7L938.1 265.9L938.4 257.1L938.8 266.5L939.1 255.9L939.5 268.3L939.8 255.2L940.2 266.5L940.6 257.2L940.9 264.3L941.3 260.3L941.6 264.5L942.0 259.7L942.3 264.0L942.7 258.3L943.0 266.0L943.4 258.3L943.7 265.7L944.1 259.4L944.4 265.4L944.8 257.5L945.2 267.5L945.5 255.3L945.9 266.5L946.2 256.8L946.6 253.2L946.9 270.2L947.3 270.0L947.6 256.4L948.0 266.6L948.3 257.4L948.7 264.2L949.0 259.5L949.4 264.7L949.8 260.2L950.1 264.5L950.5 260.3L950.8 264.5L951.2 259.8L951.5 264.8L951.9 259.3L952.2 265.6L952.6 259.4L952.9 266.6L953.3 258.1L953.7 266.0L954.0 257.9L954.4 266.8L954.7 258.0L955.1 266.6L955.4 258.0L955.8 265.5L956.1 258.9L956.5 265.1L956.8 259.1L957.2 265.3L957.5 258.6L957.9 264.9L958.3 258.3L958.6 265.3L959.0 258.5L959.3 264.2L959.7 259.5L960.0 263.8L960.4 259.3L960.7 263.9L961.1 257.1L961.4 268.5L961.8 256.2L962.1 270.8L962.5 254.5L962.9 272.1L963.2 255.8L963.6 268.0L963.9 256.4L964.3 264.6L964.6 259.3L965.0 264.4L965.3 259.9L965.7 264.3L966.0 260.3L966.4 264.5L966.7 259.0L967.1 264.5L967.5 259.3L967.8 264.7L968.2 258.9L968.5 265.1L968.9 258.4L969.2 264.9L969.6 258.2L969.9 264.4L970.3 256.9L970.6 264.7L971.0 256.0L971.4 267.0L971.7 256.0L972.1 266.0L972.4 257.8L972.8 263.8L973.1 259.9L973.5 263.7L973.8 259.4L974.2 264.1L974.5 257.4L974.9 267.6L975.2 255.8L975.6 267.7L976.0 255.9L976.3 268.0L976.7 257.1L977.0 268.8L977.4 256.9L977.7 265.7L978.1 258.3L978.4 265.9L978.8 258.4L979.1 266.7L979.5 257.0L979.8 267.0L980.2 258.9L980.6 265.2L980.9 259.2L981.3 265.1L981.6 255.1L982.0 269.3L982.3 255.3L982.7 268.8L983.0 254.9L983.4 269.8L983.7 255.4L984.1 268.5L984.4 254.4L984.8 267.9L985.2 257.9L985.5 267.5L985.9 258.4L986.2 265.9L986.6 259.4L986.9 265.3L987.3 258.7L987.6 266.8L988.0 259.0L988.3 265.9L988.7 258.3L989.1 266.3L989.4 259.1L989.8 265.8L990.1 259.9L990.5 264.7L990.8 258.9L991.2 264.8L991.5 258.5L991.9 265.8L992.2 258.6L992.6 265.1L992.9 256.8L993.3 266.8L993.7 258.0L994.0 266.4L994.4 257.6L994.7 265.8L995.1 258.7L995.4 265.5L995.8 257.5L996.1 266.3L996.5 257.8L996.8 266.7L997.2 258.3L997.5 265.1L997.9 260.0L998.3 264.6L998.6 259.9L999.0 264.9L999.3 260.2L999.7 264.4L1000.0 258.7L1000.4 266.2L1000.7 257.3L1001.1 266.8L1001.4 258.3L1001.8 265.1L1002.1 257.9L1002.5 265.1L1002.9 256.8L1003.2 266.5L1003.6 256.5L1003.9 267.1L1004.3 259.7L1004.6 264.1L1005.0 259.4L1005.3 263.5L1005.7 259.1L1006.0 264.0L1006.4 258.9L1006.8 266.3L1007.1 256.0L1007.5 267.9L1007.8 258.7L1008.2 265.1L1008.5 258.3L1008.9 264.6L1009.2 258.4L1009.6 265.5L1009.9 257.2L1010.3 266.9L1010.6 256.9L1011.0 264.8L1011.4 257.1L1011.7 263.8L1012.1 254.3L1012.4 267.4L1012.8 256.2L1013.1 265.2L1013.5 259.4L1013.8 264.6L1014.2 258.9L1014.5 265.0L1014.9 259.3L1015.2 264.3L1015.6 259.3L1016.0 265.0L1016.3 259.4L1016.7 264.9L1017.0 258.5L1017.4 265.2L1017.7 258.7L1018.1 265.3L1018.4 258.6L1018.8 265.5L1019.1 256.8L1019.5 267.4L1019.8 256.0L1020.2 264.9L1020.6 257.9L1020.9 266.3L1021.3 256.4L1021.6 267.6L1022.0 253.4L1022.3 268.6L1022.7 252.9L1023.0 270.4L1023.4 253.2L1023.7 269.8L1024.1 251.3L1024.5 269.5L1024.8 252.8L1025.2 271.5L1025.5 252.2L1025.9 265.9L1026.2 255.7L1026.6 265.8L1026.9 256.1L1027.3 272.1L1027.6 250.5L1028.0 270.7L1028.3 255.8L1028.7 265.2L1029.1 255.5L1029.4 267.5L1029.8 254.2L1030.1 266.6L1030.5 255.7L1030.8 266.4L1031.2 256.9L1031.5 265.0L1031.9 258.5L1032.2 265.2L1032.6 260.1L1032.9 265.3L1033.3 259.7L1033.7 264.9L1034.0 259.6L1034.4 265.4L1034.7 259.2L1035.1 265.6L1035.4 257.9L1035.8 268.7L1036.1 255.5L1036.5 269.9L1036.8 254.0L1037.2 269.5L1037.5 255.9L1037.9 267.1L1038.3 255.3L1038.6 269.0L1039.0 256.2L1039.3 267.3L1039.7 258.0L1040.0 268.0L1040.4 257.0L1040.7 268.7L1041.1 257.0L1041.4 250.7L1041.8 275.6L1042.2 268.1L1042.5 251.8L1042.9 272.0L1043.2 253.9L1043.6 273.8L1043.9 252.6L1044.3 271.8L1044.6 254.7L1045.0 273.6L1045.3 252.9L1045.7 270.1L1046.0 254.0L1046.4 269.8L1046.8 256.6L1047.1 265.6L1047.5 256.9L1047.8 268.0L1048.2 254.0L1048.5 267.0L1048.9 254.6L1049.2 266.5L1049.6 254.8L1049.9 267.3L1050.3 255.5L1050.6 271.2L1051.0 256.9L1051.4 251.6L1051.7 273.6L1052.1 268.0L1052.4 255.9L1052.8 267.1L1053.1 256.0L1053.5 266.5L1053.8 256.4L1054.2 264.9L1054.5 257.3L1054.9 266.0L1055.2 257.6L1055.6 264.9L1056.0 258.9L1056.3 264.5L1056.7 258.4L1057.0 264.2L1057.4 259.2L1057.7 264.1L1058.1 259.0L1058.4 267.1L1058.8 256.9L1059.1 267.1L1059.5 257.1L1059.9 263.9L1060.2 259.1L1060.6 264.1L1060.9 258.0L1061.3 265.0L1061.6 258.0L1062.0 267.1L1062.3 255.5L1062.7 268.6L1063.0 254.9L1063.4 264.9L1063.7 258.3L1064.1 266.1L1064.5 255.9L1064.8 266.4L1065.2 255.9L1065.5 266.3L1065.9 259.0L1066.2 264.5L1066.6 256.4L1066.9 264.2L1067.3 251.0L1067.6 244.9L1068.0 267.9L1068.3 270.2L1068.7 250.1L1069.1 272.7L1069.4 251.2L1069.8 281.1L1070.1 253.5L1070.5 284.2L1070.8 254.9L1071.2 277.0L1071.5 253.6L1071.9 269.3L1072.2 255.9L1072.6 266.1L1072.9 255.3L1073.3 272.7L1073.7 250.8L1074.0 271.6L1074.4 253.2L1074.7 268.9L1075.1 253.2L1075.4 269.7L1075.8 253.0L1076.1 272.4L1076.5 248.1L1076.8 246.8L1077.2 274.6L1077.6 267.7L1077.9 255.6L1078.3 265.8L1078.6 256.7L1079.0 267.5L1079.3 255.1L1079.7 266.8L1080.0 255.6L1080.4 267.2L1080.7 254.8L1081.1 268.3L1081.4 255.8L1081.8 268.3L1082.2 257.5L1082.5 265.2L1082.9 257.9L1083.2 266.0L1083.6 257.2L1083.9 265.6L1084.3 255.9L1084.6 250.7L1085.0 271.7L1085.3 268.6L1085.7 254.7L1086.0 266.4L1086.4 256.2L1086.8 267.6L1087.1 254.9L1087.5 268.6L1087.8 255.0L1088.2 267.4L1088.5 254.7L1088.9 267.0L1089.2 254.7L1089.6 268.6L1089.9 253.7L1090.3 267.7L1090.6 254.2L1091.0 268.5L1091.4 254.5L1091.7 267.0L1092.1 255.3L1092.4 268.7L1092.8 257.2L1093.1 266.6L1093.5 256.8L1093.8 267.3L1094.2 257.6L1094.5 266.1L1094.9 258.4L1095.3 265.2L1095.6 258.3L1096.0 265.3L1096.3 258.6L1096.7 266.3L1097.0 257.5L1097.4 265.3L1097.7 259.4L1098.1 264.4L1098.4 259.0L1098.8 264.9L1099.1 258.8L1099.5 265.4L1099.9 256.9L1100.2 265.4L1100.6 256.9L1100.9 265.2L1101.3 258.4L1101.6 264.1L1102.0 258.9L1102.3 264.4L1102.7 259.6L1103.0 264.5L1103.4 259.2L1103.7 265.1L1104.1 258.7L1104.5 264.2L1104.8 258.5L1105.2 264.5L1105.5 257.8L1105.9 265.8L1106.2 258.7L1106.6 265.6L1106.9 257.5L1107.3 265.8L1107.6 259.0L1108.0 265.0L1108.3 259.0L1108.7 264.5L1109.1 259.8L1109.4 264.1L1109.8 259.8L1110.1 264.3L1110.5 259.7L1110.8 265.0L1111.2 259.1L1111.5 264.5L1111.9 260.2L1112.2 264.8L1112.6 260.0L1113.0 264.0L1113.3 259.3L1113.7 264.5L1114.0 257.6L1114.4 265.7L1114.7 257.6L1115.1 264.8L1115.4 258.3L1115.8 266.1L1116.1 259.0L1116.5 265.1L1116.8 259.0L1117.2 264.4L1117.6 260.1L1117.9 264.3L1118.3 259.4L1118.6 264.6L1119.0 258.1L1119.3 266.2L1119.7 257.1L1120.0 265.5L1120.4 259.2L1120.7 264.6L1121.1 258.9L1121.4 265.5L1121.8 258.7L1122.2 265.4L1122.5 257.9L1122.9 267.3L1123.2 254.6L1123.6 252.0L1123.9 268.8L1124.3 267.4L1124.6 256.4L1125.0 266.8L1125.3 258.9L1125.7 266.1L1126.0 259.7L1126.4 264.0L1126.8 259.7L1127.1 265.9L1127.5 258.8L1127.8 265.2L1128.2 259.4L1128.5 266.1L1128.9 258.3L1129.2 267.2L1129.6 257.4L1129.9 264.8L1130.3 259.4L1130.7 263.9L1131.0 259.2L1131.4 264.1L1131.7 259.8L1132.1 263.9L1132.4 260.8L1132.8 263.4L1133.1 260.9L1133.5 263.3" stroke="#ff0000" stroke-width="2.9" fill="none" stroke-linejoin="round" stroke-linecap="round" clip-path="url(#cp1_1)"/>
<path d="M689.5 385.21H1137.5M689.5 380.12H1137.5M689.5 375.03H1137.5M689.5 369.94H1137.5M689.5 359.76H1137.5M689.5 354.67H1137.5M689.5 349.58H1137.5M689.5 344.49H1137.5" stroke="#cfcfcf" stroke-width="1" stroke-dasharray="1.3 2.85" fill="none"/><path d="M688.9 364.85H1137.5M770.46 339.4V390.3M852.02 339.4V390.3M933.58 339.4V390.3M1015.14 339.4V390.3M1096.7 339.4V390.3" stroke="#e2e2e2" stroke-width="1" fill="none"/>
<path d="M688.9 390.3h5M1137.5 390.3h-5M688.9 364.85h5M1137.5 364.85h-5M688.9 339.4h5M1137.5 339.4h-5M688.9 339.4v5M688.9 390.3v-5M770.46 339.4v5M770.46 390.3v-5M852.02 339.4v5M852.02 390.3v-5M933.58 339.4v5M933.58 390.3v-5M1015.14 339.4v5M1015.14 390.3v-5M1096.7 339.4v5M1096.7 390.3v-5" stroke="#262626" stroke-width="1.1" fill="none"/>
<rect x="688.9" y="339.4" width="448.6" height="50.9" fill="none" stroke="#262626" stroke-width="1.1"/>
<clipPath id="cp1_2"><rect x="687.4" y="337.9" width="451.6" height="53.9"/></clipPath>
<path d="M725.0 364.6L727.2 364.3L729.5 365.3L731.2 362.9L733.0 365.1L734.6 364.0L736.3 365.7L738.2 364.2L740.3 366.2L742.1 361.8L744.5 368.6L746.8 363.3L749.0 367.9L751.3 361.1L753.7 370.6L755.9 359.4L757.9 369.8L759.8 359.2L761.4 372.0L763.7 359.1L765.9 369.4L768.2 361.6L770.3 368.2L772.0 362.5L774.0 366.7L776.0 362.8L777.9 365.9L779.9 363.8L781.6 365.7L783.5 363.5L785.6 366.7L787.5 361.2L790.0 365.6L791.6 363.7L793.9 365.5L795.6 363.4L798.0 366.7L800.3 362.6L802.6 367.8L804.8 362.6L807.3 367.0L809.5 364.0L811.6 365.7L813.7 363.0L816.0 367.1L817.8 361.2L819.9 367.7L821.7 362.4L823.8 366.6L825.9 364.0L827.8 365.5L829.4 363.6L831.9 365.7L833.7 362.5L835.8 365.5L837.8 363.3L840.1 364.6L841.9 364.2L844.4 364.7L846.4 364.5L848.2 364.5L850.2 364.1L852.4 364.3L854.6 363.3L856.3 364.7L858.2 362.6L860.0 365.4L861.8 361.4L863.7 369.0L866.0 347.5L867.5 375.6L869.2 353.7L871.2 349.8L873.0 379.4L874.7 374.1L876.3 357.1L878.0 368.8L879.9 360.9L881.5 369.0L883.5 359.1L885.9 367.3L888.0 360.5L890.3 369.9L892.7 359.7L894.3 366.1L896.1 361.0L897.7 366.5L899.6 363.0L901.9 367.1L904.1 361.5L906.5 369.0L909.0 360.9L911.0 368.0L913.4 361.7L915.0 367.5L917.0 359.6L919.0 371.8L921.5 358.6L923.1 367.6L924.6 360.7L926.2 368.0L928.6 362.8L930.9 366.7L933.0 363.2L935.2 366.9L937.5 363.0L939.3 370.3L941.3 362.0L943.6 368.3L945.1 362.9L946.8 369.4L949.3 359.1L951.6 368.5L953.5 362.5L955.8 367.0L957.6 363.3L960.0 367.0L961.7 363.3L963.6 367.6L965.7 362.3L968.0 365.2L969.6 359.2L971.4 369.2L973.4 361.5L975.8 367.0L978.0 361.8L979.9 367.7L981.5 363.6L983.1 368.2L984.8 363.8L986.8 368.9L988.5 363.2L990.6 367.2L992.7 362.3L994.6 368.4L996.4 363.4L998.0 367.3L999.9 363.1L1002.2 366.3L1004.6 361.4L1006.9 368.8L1009.1 356.6L1011.2 371.3L1013.0 360.4L1015.2 370.1L1016.8 361.2L1018.9 372.1L1021.2 358.5L1023.1 374.6L1025.1 358.3L1027.0 370.1L1028.9 360.7L1030.7 368.7L1033.2 361.1L1035.0 367.5L1037.0 361.1L1039.3 371.9L1041.8 357.3L1043.7 372.6L1046.0 360.2L1047.7 369.7L1049.5 360.6L1052.0 370.6L1054.4 359.7L1056.1 370.4L1057.7 361.1L1059.3 368.2L1061.2 361.1L1062.9 367.9L1065.1 361.0L1066.8 371.2L1069.2 360.6L1071.4 371.4L1073.7 360.7L1075.4 368.5L1077.5 358.6L1079.5 371.4L1081.2 358.1L1083.1 372.6L1084.8 360.2L1086.9 369.2L1089.3 361.7L1091.5 367.5L1093.7 362.7L1096.1 368.2L1097.8 362.2L1099.5 367.0L1101.1 363.0L1102.7 367.5L1104.8 362.9L1107.0 368.7L1108.9 361.1L1110.4 370.4L1111.9 361.8L1114.2 368.1L1116.2 363.9L1117.8 366.4L1119.9 363.4L1121.5 367.0L1123.0 363.5L1125.3 366.5L1126.9 363.2L1128.9 368.1L1131.4 362.8L1133.5 366.0" stroke="#d95319" stroke-width="3.2" fill="none" stroke-linejoin="round" stroke-linecap="round" clip-path="url(#cp1_2)"/>
<path d="M689.5 486.2H1137.5M689.5 483.5H1137.5M689.5 480.8H1137.5M689.5 478.1H1137.5M689.5 472.7H1137.5M689.5 470H1137.5M689.5 467.3H1137.5M689.5 464.6H1137.5M689.5 459.2H1137.5M689.5 456.5H1137.5M689.5 453.8H1137.5M689.5 451.1H1137.5M689.5 445.7H1137.5M689.5 443H1137.5" stroke="#cfcfcf" stroke-width="1" stroke-dasharray="1.3 2.85" fill="none"/><path d="M688.9 488.9H1137.5M688.9 475.4H1137.5M688.9 461.9H1137.5M688.9 448.4H1137.5M770.46 440.7V492.3M852.02 440.7V492.3M933.58 440.7V492.3M1015.14 440.7V492.3M1096.7 440.7V492.3" stroke="#e2e2e2" stroke-width="1" fill="none"/>
<path d="M688.9 488.9h5M1137.5 488.9h-5M688.9 475.4h5M1137.5 475.4h-5M688.9 461.9h5M1137.5 461.9h-5M688.9 448.4h5M1137.5 448.4h-5M688.9 440.7v5M688.9 492.3v-5M770.46 440.7v5M770.46 492.3v-5M852.02 440.7v5M852.02 492.3v-5M933.58 440.7v5M933.58 492.3v-5M1015.14 440.7v5M1015.14 492.3v-5M1096.7 440.7v5M1096.7 492.3v-5" stroke="#262626" stroke-width="1.1" fill="none"/>
<rect x="688.9" y="440.7" width="448.6" height="51.6" fill="none" stroke="#262626" stroke-width="1.1"/>
<clipPath id="cp1_3"><rect x="687.4" y="439.2" width="451.6" height="54.6"/></clipPath>
<path d="M725.5 460.9L725.6 461.1L725.7 461.4L725.9 461.7L726.0 462.1L726.2 462.6L726.3 463.0L726.5 463.5L726.7 464.0L726.9 464.5L727.1 465.0L727.3 465.4L727.5 465.9L727.7 466.3L727.9 466.6L728.1 466.9L728.2 467.1L728.4 467.2L728.7 467.3L728.9 467.2L729.2 467.1L729.4 466.8L729.7 466.5L729.9 466.1L730.2 465.7L730.4 465.2L730.7 464.7L731.0 464.2L731.3 463.8L731.5 463.5L731.7 463.1L731.9 462.8L732.1 462.4L732.3 462.0L732.5 461.5L732.7 461.1L732.9 460.7L733.1 460.2L733.3 459.8L733.5 459.4L733.7 459.0L734.0 458.6L734.2 458.2L734.4 457.9L734.6 457.6L734.8 457.4L734.9 457.2L735.1 457.0L735.5 456.9L735.8 457.0L736.1 457.2L736.3 457.5L736.6 457.8L736.9 458.3L737.2 458.7L737.4 459.2L737.7 459.6L738.0 459.9L738.3 460.2L738.5 460.6L738.7 460.9L739.0 461.3L739.2 461.7L739.4 462.1L739.7 462.4L740.0 462.7L740.2 463.0L740.5 463.2L740.9 463.4L741.2 463.4L741.6 463.4L742.0 463.4L742.4 463.3L742.8 463.2L743.3 463.0L743.7 462.9L744.1 462.7L744.6 462.6L745.0 462.4L745.3 462.3L745.7 462.2L746.2 462.1L746.7 462.1L747.1 462.1L747.5 462.1L747.8 462.1L748.2 462.0L748.5 461.8L748.8 461.5L749.1 461.1L749.4 460.5L749.6 460.0L749.8 459.4L750.0 459.1L750.3 458.9L750.5 459.0L750.6 459.1L750.6 459.3L750.7 459.6L750.8 459.9L750.9 460.3L751.0 460.7L751.0 461.2L751.1 461.6L751.2 462.1L751.2 462.6L751.3 463.1L751.4 463.6L751.5 464.1L751.5 464.5L751.6 464.9L751.7 465.3L751.8 465.7L752.0 466.2L752.1 466.8L752.3 467.3L752.4 467.9L752.6 468.4L752.8 468.9L753.0 469.4L753.1 469.7L753.3 469.9L753.5 470.0L753.7 469.9L753.8 469.8L753.9 469.6L754.0 469.4L754.2 469.2L754.3 468.9L754.4 468.6L754.5 468.2L754.6 467.8L754.7 467.4L754.8 467.0L755.0 466.6L755.1 466.1L755.2 465.6L755.3 465.2L755.5 464.7L755.6 464.2L755.7 463.7L755.8 463.2L756.0 462.7L756.1 462.3L756.2 461.8L756.3 461.5L756.4 461.1L756.5 460.8L756.6 460.4L756.7 460.0L756.8 459.6L756.9 459.2L757.0 458.8L757.1 458.4L757.2 458.0L757.4 457.5L757.5 457.1L757.6 456.7L757.7 456.3L757.8 455.9L757.9 455.5L758.0 455.1L758.1 454.6L758.2 454.2L758.3 453.8L758.4 453.5L758.5 453.1L758.7 452.7L758.8 452.3L758.9 452.0L759.0 451.6L759.1 451.3L759.2 450.8L759.4 450.4L759.6 449.9L759.7 449.5L759.9 449.0L760.0 448.6L760.2 448.1L760.3 447.7L760.5 447.3L760.7 446.9L760.8 446.5L761.0 446.2L761.1 445.8L761.3 445.5L761.4 445.2L761.6 444.9L761.7 444.7L761.8 444.4L762.0 444.2L762.4 443.5L762.8 443.1L763.2 442.9L763.5 443.0L763.9 443.6L764.0 443.8L764.0 444.1L764.1 444.3L764.2 444.6L764.2 444.9L764.3 445.2L764.4 445.6L764.4 445.9L764.5 446.3L764.5 446.7L764.6 447.2L764.7 447.6L764.7 448.1L764.8 448.5L764.8 449.0L764.9 449.5L765.0 450.1L765.0 450.6L765.1 451.1L765.2 451.7L765.2 452.3L765.3 452.6L765.3 452.9L765.3 453.3L765.4 453.6L765.4 454.0L765.4 454.4L765.5 454.8L765.5 455.2L765.6 455.6L765.6 456.0L765.6 456.4L765.7 456.9L765.7 457.3L765.8 457.7L765.8 458.2L765.8 458.6L765.9 459.1L765.9 459.5L766.0 460.0L766.0 460.4L766.0 460.9L766.1 461.3L766.1 461.8L766.2 462.2L766.2 462.6L766.2 463.1L766.3 463.5L766.3 463.9L766.4 464.3L766.4 464.7L766.4 465.1L766.5 465.5L766.5 465.9L766.6 466.3L766.6 466.6L766.7 467.0L766.7 467.3L766.8 467.6L766.8 468.2L766.9 468.8L767.0 469.4L767.1 469.9L767.2 470.5L767.3 471.0L767.4 471.5L767.5 472.0L767.6 472.5L767.7 473.0L767.8 473.4L767.9 473.7L768.1 474.1L768.2 474.4L768.3 474.7L768.4 474.9L768.5 475.0L768.6 475.2L768.7 475.3L768.8 475.3L768.9 475.2L769.1 475.0L769.2 474.8L769.3 474.4L769.4 474.1L769.6 473.6L769.7 473.2L769.8 472.7L769.9 472.1L770.1 471.6L770.2 471.1L770.3 470.5L770.5 470.0L770.6 469.5L770.7 469.2L770.8 468.8L770.8 468.4L770.9 468.0L771.0 467.6L771.1 467.2L771.2 466.7L771.2 466.3L771.3 465.8L771.4 465.4L771.5 464.9L771.6 464.5L771.7 464.0L771.7 463.6L771.8 463.2L771.9 462.8L772.0 462.4L772.1 462.0L772.2 461.7L772.3 461.4L772.4 461.1L772.5 460.9L772.9 460.3L773.3 459.9L773.7 459.7L774.1 459.5L774.5 459.5L775.0 459.5L775.4 459.5L775.8 459.6L776.2 459.8L776.6 460.0L777.0 460.3L777.4 460.6L777.8 460.8L778.3 460.9L778.7 460.8L779.1 460.6L779.5 460.3L779.9 460.0L780.3 459.8L780.7 459.8L781.1 459.9L781.3 460.1L781.5 460.4L781.7 460.7L781.9 461.0L782.1 461.4L782.3 461.9L782.5 462.3L782.7 462.8L782.9 463.2L783.1 463.6L783.3 464.0L783.4 464.4L783.6 464.7L783.9 465.2L784.2 465.6L784.5 466.1L784.7 466.5L785.0 466.8L785.3 467.1L785.6 467.2L785.9 467.2L786.2 467.1L786.4 467.0L786.7 466.8L786.9 466.5L787.2 466.2L787.5 465.8L787.7 465.4L788.0 465.0L788.3 464.6L788.5 464.2L788.8 463.8L789.0 463.4L789.2 463.1L789.3 462.8L789.5 462.4L789.7 462.0L789.9 461.6L790.1 461.2L790.2 460.8L790.4 460.4L790.6 460.0L790.8 459.6L791.0 459.3L791.1 458.9L791.3 458.6L791.5 458.3L791.7 458.0L792.0 457.6L792.3 457.2L792.6 456.9L793.0 456.7L793.3 456.5L793.6 456.3L793.9 456.1L794.2 455.9L794.5 455.7L795.0 455.4L795.4 455.0L795.8 454.6L796.2 454.4L796.6 454.4L797.0 454.6L797.2 454.7L797.4 455.0L797.5 455.2L797.7 455.5L797.9 455.9L798.0 456.3L798.2 456.7L798.3 457.1L798.5 457.6L798.6 458.0L798.8 458.5L799.0 459.0L799.2 459.4L799.3 459.9L799.5 460.3L799.6 460.6L799.7 461.0L799.9 461.4L800.0 461.8L800.2 462.2L800.3 462.7L800.5 463.1L800.6 463.5L800.8 464.0L801.0 464.4L801.1 464.8L801.3 465.2L801.4 465.6L801.5 466.0L801.7 466.4L801.8 466.7L802.0 467.0L802.1 467.3L802.2 467.6L802.6 468.3L802.9 468.9L803.2 469.4L803.5 469.6L803.8 469.7L804.1 469.5L804.3 469.4L804.4 469.2L804.6 468.9L804.8 468.6L805.0 468.3L805.1 467.9L805.3 467.6L805.5 467.2L805.7 466.7L805.9 466.3L806.1 465.9L806.3 465.4L806.5 465.0L806.6 464.6L806.8 464.2L807.0 463.8L807.2 463.4L807.3 463.0L807.5 462.7L807.6 462.3L807.8 461.9L808.0 461.5L808.1 461.1L808.3 460.7L808.4 460.3L808.6 459.9L808.8 459.5L808.9 459.1L809.1 458.7L809.2 458.4L809.4 458.0L809.6 457.7L809.7 457.3L809.9 457.0L810.1 456.6L810.4 456.1L810.7 455.7L811.0 455.3L811.2 454.9L811.5 454.6L811.8 454.3L812.0 454.0L812.3 453.7L812.5 453.4L812.8 453.2L813.2 452.8L813.6 452.4L813.9 452.0L814.3 451.8L814.7 451.9L815.1 452.3L815.2 452.4L815.3 452.7L815.4 452.9L815.5 453.2L815.7 453.5L815.8 453.9L815.9 454.3L816.0 454.7L816.2 455.1L816.3 455.5L816.4 455.9L816.5 456.4L816.7 456.8L816.8 457.3L816.9 457.7L817.0 458.2L817.2 458.6L817.3 459.1L817.4 459.5L817.5 459.9L817.7 460.3L817.8 460.7L817.9 461.1L818.0 461.5L818.1 461.9L818.2 462.4L818.3 462.8L818.5 463.3L818.6 463.7L818.7 464.2L818.8 464.6L818.9 465.0L819.0 465.4L819.1 465.9L819.3 466.3L819.4 466.6L819.5 467.0L819.6 467.4L819.7 467.7L819.8 468.0L819.9 468.3L820.0 468.5L820.4 469.2L820.7 469.8L821.0 470.3L821.3 470.6L821.6 470.7L822.0 470.7L822.3 470.5L822.5 470.3L822.6 470.1L822.8 469.9L822.9 469.6L823.1 469.3L823.3 468.9L823.4 468.5L823.6 468.1L823.8 467.7L823.9 467.3L824.1 466.9L824.3 466.4L824.4 466.0L824.6 465.5L824.8 465.0L824.9 464.6L825.1 464.2L825.2 463.8L825.3 463.4L825.5 463.0L825.6 462.6L825.7 462.2L825.8 461.8L826.0 461.3L826.1 460.9L826.2 460.4L826.3 460.0L826.5 459.6L826.6 459.1L826.7 458.7L826.8 458.3L826.9 457.9L827.0 457.5L827.2 457.1L827.3 456.8L827.4 456.5L827.5 456.2L827.6 455.9L827.7 455.7L828.1 455.0L828.5 454.6L828.9 454.5L829.2 454.7L829.6 455.1L829.8 455.3L829.9 455.6L830.0 455.9L830.1 456.3L830.3 456.7L830.4 457.1L830.6 457.5L830.7 458.0L830.8 458.4L831.0 458.9L831.1 459.4L831.3 459.9L831.4 460.3L831.5 460.7L831.7 461.1L831.8 461.5L831.9 461.8L832.1 462.4L832.3 462.9L832.5 463.4L832.7 463.9L832.8 464.4L833.0 464.8L833.2 465.2L833.4 465.4L833.6 465.6L833.8 465.7L834.1 465.6L834.3 465.4L834.6 465.2L834.8 464.8L835.1 464.4L835.4 464.0L835.6 463.5L835.9 463.1L836.2 462.6L836.5 462.2L836.7 461.8L837.0 461.5L837.2 461.1L837.5 460.7L837.8 460.3L838.0 459.9L838.3 459.5L838.5 459.2L838.8 458.9L839.1 458.6L839.3 458.5L839.6 458.4L839.9 458.4L840.2 458.5L840.5 458.8L840.8 459.1L841.1 459.4L841.4 459.8L841.8 460.2L842.1 460.6L842.5 460.9L842.8 461.1L843.1 461.4L843.5 461.8L843.8 462.1L844.2 462.4L844.6 462.7L844.9 463.0L845.3 463.3L845.6 463.5L846.0 463.7L846.3 463.8L846.7 463.7L847.1 463.6L847.5 463.4L847.8 463.1L848.2 462.8L848.5 462.4L848.9 462.1L849.2 461.8L849.5 461.5L849.9 461.2L850.2 460.8L850.5 460.5L850.9 460.2L851.2 460.0L851.5 459.9L851.8 460.1L852.1 460.4L852.4 460.9L852.7 461.4L853.0 461.7L853.4 461.8L853.7 461.7L854.0 461.4L854.3 461.0L854.6 460.5L855.0 460.0L855.3 459.7L855.6 459.5L855.9 459.5L856.1 459.7L856.2 459.9L856.4 460.2L856.5 460.6L856.7 461.0L856.8 461.5L857.0 462.0L857.1 462.5L857.3 463.0L857.4 463.5L857.5 463.9L857.7 464.3L857.8 464.7L858.0 465.2L858.1 465.9L858.2 466.5L858.4 467.2L858.5 467.8L858.6 468.4L858.7 468.8L858.9 469.0L859.0 468.9L859.1 468.5L859.2 468.4L859.2 468.2L859.3 468.0L859.3 467.7L859.3 467.5L859.4 467.2L859.4 466.9L859.5 466.5L859.5 466.2L859.6 465.8L859.6 465.4L859.6 465.0L859.7 464.6L859.7 464.2L859.8 463.7L859.8 463.3L859.9 462.8L859.9 462.4L859.9 461.9L860.0 461.4L860.0 460.9L860.1 460.5L860.1 460.0L860.2 459.5L860.2 459.0L860.2 458.5L860.3 458.1L860.3 457.6L860.4 457.1L860.4 456.7L860.5 456.2L860.5 455.8L860.5 455.4L860.6 454.9L860.6 454.5L860.7 454.2L860.7 453.7L860.8 453.3L860.8 452.8L860.9 452.4L860.9 451.9L861.0 451.5L861.0 451.0L861.1 450.5L861.1 450.1L861.2 449.6L861.2 449.1L861.3 448.7L861.3 448.2L861.3 447.8L861.4 447.3L861.4 446.9L861.5 446.4L861.5 446.0L861.6 445.6L861.6 445.2L861.7 444.8L861.7 444.4L861.8 444.1L861.8 443.7L861.9 443.4L861.9 443.0L862.0 442.7L862.0 442.5L862.1 442.2L862.2 441.9L862.2 441.7L862.6 440.6L863.0 439.8L863.3 439.5L863.7 439.8L864.1 440.8L864.2 440.9L864.2 441.2L864.3 441.4L864.4 441.6L864.4 441.9L864.5 442.2L864.5 442.4L864.6 442.7L864.7 443.1L864.7 443.4L864.8 443.7L864.8 444.1L864.9 444.5L865.0 444.8L865.0 445.2L865.1 445.6L865.1 446.1L865.2 446.5L865.2 446.9L865.3 447.4L865.4 447.8L865.4 448.3L865.5 448.8L865.5 449.3L865.6 449.8L865.7 450.3L865.7 450.8L865.8 451.4L865.8 451.9L865.9 452.5L865.9 453.0L866.0 453.6L866.0 454.2L866.1 454.5L866.1 454.8L866.1 455.1L866.2 455.5L866.2 455.8L866.2 456.2L866.2 456.5L866.3 456.9L866.3 457.3L866.3 457.7L866.4 458.1L866.4 458.5L866.4 458.9L866.5 459.3L866.5 459.7L866.5 460.1L866.5 460.5L866.6 460.9L866.6 461.4L866.6 461.8L866.7 462.2L866.7 462.7L866.7 463.1L866.7 463.5L866.8 464.0L866.8 464.4L866.8 464.9L866.8 465.3L866.9 465.8L866.9 466.2L866.9 466.7L867.0 467.1L867.0 467.6L867.0 468.0L867.0 468.5L867.1 468.9L867.1 469.4L867.1 469.8L867.2 470.3L867.2 470.7L867.2 471.1L867.2 471.6L867.3 472.0L867.3 472.4L867.3 472.8L867.3 473.3L867.4 473.7L867.4 474.1L867.4 474.5L867.5 474.9L867.5 475.3L867.5 475.6L867.5 476.0L867.6 476.4L867.6 476.8L867.6 477.1L867.6 477.5L867.7 477.8L867.7 478.1L867.7 478.5L867.7 478.8L867.8 479.1L867.8 479.7L867.9 480.3L867.9 480.9L868.0 481.4L868.0 482.0L868.1 482.5L868.1 483.1L868.2 483.6L868.2 484.1L868.3 484.6L868.3 485.1L868.4 485.6L868.4 486.1L868.5 486.5L868.5 487.0L868.5 487.4L868.6 487.8L868.6 488.2L868.7 488.5L868.7 488.9L868.8 489.2L868.8 489.6L868.9 489.9L868.9 490.1L869.0 490.4L869.0 490.7L869.1 490.9L869.1 491.1L869.2 491.3L869.2 491.4L869.3 491.5L869.4 491.8L869.6 492.0L869.8 492.0L869.9 491.9L870.1 491.7L870.2 491.4L870.4 490.9L870.6 490.3L870.7 489.6L870.9 488.8L871.1 487.8L871.2 486.8L871.3 486.5L871.3 486.2L871.3 486.0L871.4 485.7L871.4 485.4L871.4 485.1L871.5 484.7L871.5 484.4L871.5 484.1L871.6 483.7L871.6 483.3L871.6 483.0L871.7 482.6L871.7 482.2L871.7 481.8L871.8 481.4L871.8 481.0L871.8 480.5L871.9 480.1L871.9 479.7L871.9 479.2L872.0 478.8L872.0 478.4L872.0 477.9L872.1 477.5L872.1 477.0L872.1 476.5L872.2 476.1L872.2 475.6L872.2 475.2L872.3 474.7L872.3 474.2L872.3 473.8L872.4 473.3L872.4 472.8L872.4 472.4L872.5 471.9L872.5 471.5L872.5 471.0L872.6 470.5L872.6 470.1L872.6 469.7L872.7 469.2L872.7 468.8L872.7 468.3L872.8 467.9L872.8 467.5L872.8 467.1L872.9 466.7L872.9 466.3L872.9 465.9L873.0 465.5L873.0 465.1L873.0 464.8L873.1 464.4L873.1 464.1L873.1 463.8L873.2 463.2L873.2 462.7L873.3 462.2L873.3 461.7L873.4 461.2L873.4 460.7L873.5 460.2L873.6 459.8L873.6 459.3L873.7 458.8L873.7 458.4L873.8 457.9L873.8 457.4L873.9 457.0L873.9 456.6L874.0 456.1L874.0 455.7L874.1 455.3L874.1 454.9L874.2 454.5L874.2 454.1L874.3 453.7L874.3 453.4L874.4 453.0L874.4 452.6L874.5 452.3L874.5 452.0L874.6 451.6L874.6 451.3L874.7 451.0L874.8 450.7L874.8 450.4L874.9 450.1L874.9 449.9L875.0 449.6L875.1 449.4L875.3 448.5L875.6 447.8L875.9 447.2L876.2 446.7L876.4 446.4L876.7 446.3L877.0 446.2L877.3 446.3L877.5 446.5L877.7 446.6L877.8 446.8L877.9 447.1L878.0 447.3L878.1 447.6L878.2 447.9L878.3 448.3L878.4 448.7L878.5 449.1L878.6 449.5L878.7 450.0L878.8 450.5L878.9 451.0L879.0 451.5L879.1 452.0L879.2 452.5L879.3 453.1L879.4 453.6L879.5 454.2L879.5 454.5L879.6 454.8L879.6 455.2L879.7 455.6L879.8 456.0L879.8 456.4L879.9 456.8L879.9 457.2L880.0 457.7L880.1 458.1L880.1 458.6L880.2 459.0L880.2 459.5L880.3 460.0L880.4 460.4L880.4 460.9L880.5 461.4L880.5 461.8L880.6 462.3L880.7 462.8L880.7 463.2L880.8 463.6L880.8 464.1L880.9 464.5L881.0 464.9L881.0 465.3L881.1 465.7L881.1 466.0L881.2 466.4L881.2 466.7L881.3 467.0L881.3 467.3L881.4 467.6L881.6 468.5L881.7 469.3L881.8 469.9L882.0 470.5L882.1 470.9L882.3 471.2L882.4 471.3L882.5 471.3L882.7 471.0L882.8 470.9L882.9 470.7L882.9 470.5L883.0 470.2L883.1 469.9L883.2 469.5L883.3 469.1L883.3 468.7L883.4 468.3L883.5 467.9L883.6 467.4L883.7 467.0L883.8 466.5L883.9 466.0L883.9 465.5L884.0 465.0L884.1 464.5L884.2 464.0L884.3 463.6L884.4 463.1L884.5 462.7L884.6 462.2L884.6 461.8L884.7 461.4L884.8 461.0L884.9 460.6L885.0 460.1L885.1 459.7L885.2 459.2L885.3 458.8L885.4 458.3L885.5 457.9L885.5 457.4L885.6 457.0L885.7 456.6L885.8 456.2L885.9 455.8L886.0 455.4L886.1 455.0L886.2 454.6L886.2 454.3L886.3 454.0L886.4 453.7L886.5 453.4L886.6 453.2L886.9 452.1L887.2 451.5L887.5 451.4L887.9 452.3L888.0 452.5L888.0 452.7L888.1 453.0L888.1 453.2L888.2 453.6L888.3 453.9L888.3 454.3L888.4 454.7L888.4 455.1L888.5 455.5L888.6 456.0L888.6 456.4L888.7 456.9L888.8 457.3L888.9 457.8L888.9 458.3L889.0 458.8L889.1 459.3L889.1 459.7L889.2 460.2L889.3 460.7L889.3 461.1L889.4 461.5L889.5 462.0L889.5 462.4L889.6 462.7L889.7 463.1L889.7 463.4L889.8 463.8L889.9 464.3L890.1 464.9L890.2 465.4L890.3 465.9L890.4 466.4L890.6 466.9L890.7 467.4L890.8 467.8L890.9 468.2L891.0 468.5L891.2 468.8L891.3 469.1L891.4 469.3L891.6 469.4L891.7 469.5L891.9 469.5L892.1 469.4L892.4 469.1L892.6 468.8L892.8 468.4L893.0 468.0L893.3 467.5L893.5 467.0L893.7 466.5L894.0 466.1L894.2 465.7L894.5 465.3L894.7 464.9L895.0 464.5L895.2 464.2L895.5 463.8L895.8 463.4L896.0 463.0L896.3 462.7L896.6 462.4L896.8 462.1L897.1 461.8L897.5 461.6L897.9 461.4L898.3 461.3L898.7 461.2L899.2 461.1L899.6 461.0L900.0 460.9L900.3 460.7L900.7 460.5L901.1 460.2L901.4 459.9L901.8 459.7L902.1 459.4L902.5 459.2L902.8 459.0L903.3 458.7L903.7 458.4L904.1 458.2L904.5 457.9L904.9 457.7L905.3 457.6L905.7 457.6L906.1 457.7L906.4 457.8L906.7 457.9L907.0 458.1L907.3 458.4L907.6 458.8L907.9 459.3L908.2 459.9L908.3 460.2L908.4 460.5L908.5 460.8L908.6 461.2L908.8 461.6L908.9 462.0L909.0 462.4L909.1 462.9L909.2 463.3L909.3 463.8L909.4 464.3L909.5 464.7L909.6 465.2L909.7 465.6L909.8 466.1L909.9 466.5L910.0 466.9L910.1 467.3L910.2 467.7L910.3 468.0L910.4 468.3L910.5 468.5L910.9 469.4L911.2 470.1L911.5 470.7L911.8 471.0L912.1 470.9L912.4 470.5L912.5 470.3L912.6 470.0L912.7 469.8L912.7 469.5L912.8 469.1L912.9 468.7L913.0 468.3L913.1 467.9L913.1 467.5L913.2 467.0L913.3 466.5L913.4 466.0L913.5 465.5L913.5 465.0L913.6 464.5L913.7 464.1L913.8 463.6L913.9 463.1L913.9 462.6L914.0 462.1L914.1 461.7L914.1 461.3L914.2 460.9L914.2 460.5L914.3 460.2L914.3 459.9L914.5 459.2L914.6 458.6L914.6 458.1L914.7 457.7L914.7 457.4L914.7 457.0L914.8 456.7L914.9 456.4L915.0 456.1L915.2 455.6L915.4 454.9L915.6 454.2L915.9 453.5L916.2 453.0L916.4 452.7L916.7 452.7L916.9 453.2L917.0 453.4L917.0 453.6L917.1 453.8L917.1 454.1L917.1 454.4L917.2 454.7L917.2 455.1L917.3 455.4L917.3 455.8L917.4 456.2L917.4 456.6L917.4 457.1L917.5 457.5L917.5 458.0L917.6 458.5L917.6 458.9L917.7 459.4L917.7 459.9L917.7 460.4L917.8 460.9L917.8 461.4L917.9 461.9L917.9 462.4L917.9 462.9L918.0 463.3L918.0 463.8L918.1 464.3L918.1 464.7L918.1 465.1L918.2 465.5L918.2 465.9L918.3 466.3L918.3 466.7L918.4 467.0L918.4 467.3L918.5 467.6L918.6 468.4L918.7 469.1L918.9 469.9L919.0 470.5L919.1 471.1L919.3 471.7L919.4 472.1L919.6 472.4L919.7 472.6L919.9 472.7L920.0 472.6L920.2 472.4L920.2 472.2L920.3 472.1L920.4 471.8L920.4 471.6L920.5 471.3L920.6 471.0L920.6 470.6L920.7 470.3L920.8 469.9L920.8 469.5L920.9 469.0L921.0 468.6L921.0 468.1L921.1 467.7L921.2 467.2L921.3 466.7L921.3 466.2L921.4 465.7L921.5 465.2L921.5 464.7L921.6 464.2L921.7 463.7L921.7 463.2L921.8 462.7L921.9 462.3L922.0 461.8L922.0 461.4L922.1 461.0L922.2 460.6L922.2 460.3L922.3 459.9L922.4 459.4L922.5 458.9L922.6 458.3L922.7 457.8L922.8 457.3L922.9 456.8L923.0 456.2L923.1 455.8L923.2 455.3L923.3 454.8L923.4 454.4L923.5 454.0L923.6 453.7L923.7 453.3L923.8 453.0L923.9 452.8L924.0 452.6L924.1 452.4L924.2 452.3L924.4 452.2L924.6 452.2L924.8 452.4L925.0 452.8L925.2 453.2L925.4 453.6L925.6 454.1L925.8 454.7L926.0 455.2L926.3 455.7L926.5 456.1L926.7 456.4L926.9 456.8L927.1 457.1L927.4 457.5L927.6 457.9L927.8 458.2L928.0 458.6L928.3 459.0L928.5 459.4L928.7 459.8L928.9 460.1L929.2 460.5L929.4 460.9L929.6 461.3L929.8 461.7L930.0 462.1L930.2 462.5L930.4 462.9L930.6 463.3L930.8 463.7L931.0 464.1L931.2 464.5L931.4 464.8L931.6 465.1L931.7 465.4L931.9 465.7L932.3 466.4L932.6 466.9L932.9 467.1L933.2 466.6L933.3 466.4L933.4 466.2L933.5 465.9L933.6 465.5L933.7 465.1L933.8 464.7L933.9 464.2L934.0 463.8L934.1 463.3L934.2 462.8L934.3 462.3L934.4 461.8L934.5 461.3L934.6 460.9L934.7 460.4L934.8 460.0L934.9 459.6L935.0 459.3L935.1 459.0L935.3 458.3L935.5 457.7L935.7 457.1L935.8 456.6L936.0 456.1L936.1 455.8L936.3 455.6L936.5 455.5L936.7 455.7L936.7 455.9L936.8 456.1L936.9 456.3L937.0 456.6L937.1 457.0L937.2 457.4L937.2 457.8L937.3 458.3L937.4 458.7L937.5 459.2L937.6 459.7L937.7 460.2L937.8 460.7L937.8 461.2L937.9 461.7L938.0 462.2L938.1 462.6L938.2 463.0L938.3 463.4L938.4 463.8L938.5 464.3L938.7 464.9L938.9 465.5L939.0 466.1L939.2 466.6L939.3 467.1L939.5 467.6L939.7 468.0L939.8 468.3L940.0 468.5L940.1 468.6L940.3 468.5L940.4 468.4L940.5 468.2L940.6 468.0L940.7 467.7L940.8 467.3L940.9 466.9L941.0 466.5L941.1 466.0L941.2 465.5L941.3 465.0L941.4 464.5L941.5 464.0L941.6 463.4L941.7 462.9L941.8 462.5L941.9 462.0L942.0 461.6L942.1 461.2L942.2 460.9L942.4 460.3L942.5 459.8L942.7 459.2L942.8 458.7L943.0 458.3L943.1 457.9L943.3 457.6L943.4 457.3L943.6 457.1L943.8 457.0L944.0 457.1L944.2 457.3L944.4 457.6L944.7 458.0L944.9 458.5L945.2 459.0L945.4 459.5L945.7 459.9L945.9 460.3L946.1 460.6L946.3 461.1L946.5 461.5L946.7 462.0L946.9 462.4L947.1 462.8L947.3 463.2L947.5 463.5L947.8 463.7L948.0 463.8L948.2 463.7L948.5 463.5L948.8 463.1L949.1 462.7L949.3 462.2L949.6 461.7L949.9 461.3L950.2 461.0L950.5 460.9L950.8 460.9L951.2 461.2L951.5 461.6L951.9 462.0L952.2 462.4L952.6 462.7L953.0 462.8L953.2 462.7L953.5 462.5L953.8 462.1L954.1 461.8L954.4 461.4L954.7 461.0L955.0 460.7L955.3 460.4L955.6 460.3L956.0 460.3L956.4 460.4L956.7 460.6L957.1 460.9L957.5 461.1L957.9 461.4L958.3 461.6L958.7 461.8L959.1 462.0L959.5 462.1L959.9 462.3L960.3 462.4L960.7 462.5L961.1 462.6L961.6 462.7L962.0 462.8L962.4 462.9L962.8 463.0L963.2 463.0L963.6 463.1L964.0 463.2L964.4 463.2L964.8 463.3L965.2 463.4L965.7 463.5L966.1 463.6L966.6 463.7L967.0 463.8L967.4 463.9L967.9 464.0L968.3 464.1L968.8 464.3L969.2 464.5L969.7 464.8L970.1 464.9L970.6 464.9L971.0 464.7L971.2 464.5L971.3 464.2L971.5 463.8L971.7 463.4L971.8 462.9L972.0 462.5L972.2 462.0L972.3 461.5L972.5 461.0L972.6 460.6L972.7 460.2L972.9 459.9L973.2 459.4L973.4 458.9L973.7 458.4L973.9 458.1L974.1 458.0L974.4 458.0L974.6 458.2L974.8 458.4L975.0 458.7L975.2 459.1L975.4 459.6L975.6 460.1L975.8 460.5L976.0 461.0L976.2 461.4L976.3 461.8L976.5 462.3L976.7 462.8L976.8 463.4L977.0 463.9L977.2 464.4L977.3 464.9L977.5 465.2L977.7 465.3L977.9 465.3L978.0 465.1L978.1 464.9L978.2 464.6L978.4 464.3L978.5 463.9L978.7 463.4L978.8 462.9L978.9 462.4L979.1 461.9L979.2 461.4L979.4 460.9L979.5 460.4L979.7 460.0L979.9 459.6L980.0 459.2L980.2 459.0L980.6 458.5L981.0 458.3L981.4 458.2L981.9 458.2L982.3 458.2L982.7 458.1L983.0 458.0L983.4 457.8L983.7 457.5L984.0 457.3L984.3 457.0L984.6 456.7L985.0 456.5L985.3 456.1L985.7 455.7L986.1 455.3L986.5 455.0L986.9 454.9L987.3 455.1L987.4 455.3L987.5 455.5L987.6 455.8L987.8 456.1L987.9 456.5L988.0 456.9L988.1 457.3L988.3 457.7L988.4 458.2L988.5 458.6L988.6 459.1L988.7 459.6L988.9 460.0L989.0 460.5L989.1 461.0L989.2 461.4L989.4 461.8L989.5 462.2L989.6 462.6L989.7 463.0L989.8 463.4L990.0 463.8L990.1 464.3L990.2 464.7L990.3 465.1L990.4 465.6L990.6 466.0L990.7 466.4L990.8 466.8L990.9 467.2L991.1 467.6L991.2 467.9L991.3 468.3L991.4 468.6L991.6 468.9L991.7 469.1L992.0 469.7L992.3 470.3L992.6 470.7L993.0 471.0L993.3 471.2L993.6 471.2L994.0 471.0L994.1 470.9L994.3 470.7L994.5 470.4L994.7 470.2L994.8 469.8L995.0 469.5L995.2 469.1L995.4 468.6L995.6 468.2L995.7 467.7L995.9 467.2L996.1 466.7L996.3 466.2L996.5 465.7L996.6 465.3L996.7 465.0L996.8 464.6L996.9 464.2L997.0 463.8L997.1 463.4L997.2 463.0L997.3 462.6L997.4 462.1L997.5 461.7L997.6 461.2L997.7 460.8L997.8 460.3L997.9 459.9L998.0 459.4L998.1 459.0L998.2 458.6L998.3 458.2L998.4 457.8L998.6 457.4L998.7 457.0L998.8 456.7L998.9 456.4L999.0 456.1L999.2 455.5L999.4 455.0L999.6 454.6L999.8 454.3L1000.0 453.9L1000.2 453.6L1000.4 453.4L1000.6 453.1L1000.8 452.8L1001.0 452.6L1001.3 452.3L1001.5 451.9L1001.8 451.5L1002.0 451.0L1002.3 450.5L1002.6 450.1L1002.9 449.6L1003.2 449.2L1003.4 449.0L1003.7 448.8L1003.9 448.7L1004.1 448.8L1004.2 448.9L1004.3 449.1L1004.4 449.3L1004.5 449.6L1004.6 449.9L1004.7 450.2L1004.7 450.6L1004.8 451.0L1004.9 451.4L1004.9 451.8L1005.0 452.3L1005.0 452.8L1005.1 453.3L1005.2 453.8L1005.2 454.4L1005.3 454.9L1005.4 455.5L1005.5 456.1L1005.5 456.4L1005.6 456.7L1005.6 457.1L1005.7 457.5L1005.7 457.9L1005.8 458.3L1005.8 458.7L1005.9 459.1L1006.0 459.5L1006.0 460.0L1006.1 460.4L1006.1 460.9L1006.2 461.3L1006.2 461.8L1006.3 462.3L1006.4 462.7L1006.4 463.2L1006.5 463.6L1006.5 464.1L1006.6 464.6L1006.7 465.0L1006.7 465.4L1006.8 465.9L1006.9 466.3L1006.9 466.7L1007.0 467.1L1007.0 467.5L1007.1 467.9L1007.2 468.2L1007.2 468.6L1007.3 468.9L1007.3 469.2L1007.4 469.5L1007.5 470.2L1007.7 470.9L1007.9 471.6L1008.0 472.2L1008.2 472.7L1008.3 473.2L1008.5 473.6L1008.6 473.9L1008.8 474.1L1009.0 474.3L1009.1 474.3L1009.3 474.3L1009.4 474.2L1009.6 474.1L1009.7 473.8L1009.9 473.6L1010.0 473.3L1010.1 472.9L1010.3 472.5L1010.4 472.1L1010.6 471.7L1010.7 471.2L1010.9 470.7L1011.0 470.2L1011.2 469.7L1011.4 469.1L1011.5 468.6L1011.7 468.1L1011.8 467.6L1011.9 467.3L1012.0 466.9L1012.1 466.5L1012.2 466.1L1012.3 465.7L1012.4 465.3L1012.5 464.9L1012.6 464.5L1012.7 464.0L1012.7 463.6L1012.8 463.1L1012.9 462.7L1013.0 462.2L1013.1 461.8L1013.2 461.3L1013.3 460.9L1013.4 460.5L1013.5 460.1L1013.6 459.7L1013.7 459.3L1013.8 458.9L1013.9 458.5L1014.0 458.2L1014.0 457.9L1014.1 457.6L1014.2 457.3L1014.3 457.0L1014.6 456.1L1015.0 455.5L1015.3 455.1L1015.6 454.9L1015.9 454.9L1016.2 455.1L1016.3 455.3L1016.5 455.5L1016.6 455.8L1016.8 456.2L1016.9 456.5L1017.1 457.0L1017.3 457.4L1017.4 457.9L1017.6 458.3L1017.7 458.8L1017.9 459.3L1018.0 459.7L1018.2 460.1L1018.4 460.5L1018.5 460.9L1018.7 461.3L1018.9 461.8L1019.1 462.3L1019.3 462.8L1019.5 463.2L1019.7 463.7L1020.0 464.0L1020.2 464.3L1020.4 464.6L1020.6 464.7L1020.8 464.7L1021.0 464.6L1021.2 464.4L1021.4 464.1L1021.6 463.8L1021.8 463.4L1021.9 462.9L1022.1 462.4L1022.3 461.9L1022.5 461.5L1022.7 461.0L1022.9 460.6L1023.1 460.2L1023.3 459.9L1023.7 459.4L1024.0 458.9L1024.4 458.4L1024.8 458.1L1025.1 457.8L1025.5 457.8L1025.8 458.0L1025.9 458.2L1026.0 458.4L1026.2 458.7L1026.3 459.0L1026.4 459.4L1026.5 459.7L1026.6 460.2L1026.7 460.6L1026.8 461.1L1026.9 461.5L1027.1 462.0L1027.2 462.5L1027.3 463.0L1027.4 463.4L1027.5 463.9L1027.6 464.3L1027.7 464.7L1027.8 465.1L1027.9 465.6L1028.1 466.2L1028.2 466.7L1028.3 467.3L1028.4 467.9L1028.5 468.4L1028.7 469.0L1028.8 469.5L1028.9 470.0L1029.0 470.4L1029.1 470.7L1029.3 470.9L1029.4 471.1L1029.5 471.1L1029.6 471.0L1029.7 470.9L1029.8 470.8L1029.8 470.6L1029.9 470.4L1030.0 470.1L1030.0 469.8L1030.1 469.5L1030.2 469.2L1030.2 468.8L1030.3 468.4L1030.4 468.0L1030.4 467.6L1030.5 467.1L1030.6 466.7L1030.7 466.2L1030.7 465.7L1030.8 465.2L1030.9 464.7L1030.9 464.2L1031.0 463.7L1031.1 463.2L1031.1 462.7L1031.2 462.2L1031.3 461.7L1031.3 461.3L1031.4 460.8L1031.5 460.3L1031.5 459.9L1031.6 459.5L1031.7 459.1L1031.7 458.7L1031.8 458.3L1031.9 457.9L1031.9 457.4L1032.0 457.0L1032.1 456.6L1032.1 456.1L1032.2 455.7L1032.2 455.2L1032.3 454.8L1032.4 454.3L1032.4 453.8L1032.5 453.4L1032.6 453.0L1032.6 452.5L1032.7 452.1L1032.8 451.6L1032.8 451.2L1032.9 450.8L1032.9 450.4L1033.0 450.0L1033.1 449.7L1033.1 449.3L1033.2 448.9L1033.2 448.6L1033.3 448.3L1033.4 448.0L1033.4 447.7L1033.5 447.5L1033.7 446.5L1033.9 445.7L1034.0 445.1L1034.2 444.7L1034.4 444.5L1034.6 444.5L1034.8 444.6L1034.9 444.7L1035.0 444.9L1035.1 445.2L1035.3 445.5L1035.4 445.9L1035.5 446.4L1035.6 446.8L1035.8 447.3L1035.9 447.8L1036.0 448.2L1036.2 448.7L1036.3 449.2L1036.4 449.6L1036.6 450.0L1036.7 450.3L1036.9 450.7L1037.1 451.0L1037.4 451.3L1037.6 451.5L1037.8 451.8L1038.1 452.0L1038.3 452.3L1038.6 452.6L1038.8 453.0L1039.0 453.5L1039.2 454.2L1039.3 454.4L1039.4 454.7L1039.4 455.0L1039.5 455.4L1039.6 455.7L1039.6 456.0L1039.7 456.4L1039.8 456.8L1039.8 457.2L1039.9 457.6L1040.0 458.0L1040.0 458.4L1040.1 458.8L1040.2 459.2L1040.2 459.7L1040.3 460.1L1040.4 460.5L1040.4 461.0L1040.5 461.4L1040.6 461.8L1040.6 462.3L1040.7 462.7L1040.7 463.2L1040.8 463.6L1040.9 464.0L1040.9 464.4L1041.0 464.9L1041.1 465.3L1041.1 465.7L1041.2 466.1L1041.3 466.5L1041.3 466.9L1041.4 467.3L1041.5 467.7L1041.5 468.2L1041.6 468.6L1041.7 469.0L1041.7 469.5L1041.8 469.9L1041.9 470.3L1041.9 470.8L1042.0 471.2L1042.1 471.6L1042.1 472.1L1042.2 472.5L1042.2 472.9L1042.3 473.3L1042.4 473.7L1042.4 474.1L1042.5 474.5L1042.6 474.9L1042.6 475.2L1042.7 475.6L1042.8 475.9L1042.8 476.3L1042.9 476.6L1043.0 476.9L1043.0 477.2L1043.2 477.9L1043.4 478.6L1043.5 479.2L1043.7 479.9L1043.8 480.5L1044.0 481.1L1044.2 481.5L1044.3 481.9L1044.5 482.1L1044.6 482.2L1044.8 482.2L1045.0 482.0L1045.0 481.8L1045.1 481.7L1045.1 481.5L1045.2 481.2L1045.3 481.0L1045.3 480.7L1045.4 480.4L1045.5 480.1L1045.5 479.8L1045.6 479.5L1045.6 479.1L1045.7 478.7L1045.8 478.3L1045.8 477.9L1045.9 477.5L1045.9 477.0L1046.0 476.5L1046.1 476.1L1046.1 475.6L1046.2 475.1L1046.3 474.6L1046.3 474.1L1046.4 473.6L1046.4 473.1L1046.5 472.6L1046.6 472.1L1046.6 471.6L1046.7 471.0L1046.8 470.5L1046.8 470.0L1046.9 469.5L1046.9 469.2L1047.0 468.8L1047.0 468.5L1047.0 468.1L1047.1 467.7L1047.1 467.3L1047.2 466.9L1047.2 466.5L1047.2 466.1L1047.3 465.7L1047.3 465.2L1047.4 464.8L1047.4 464.4L1047.5 463.9L1047.5 463.5L1047.5 463.0L1047.6 462.5L1047.6 462.1L1047.7 461.6L1047.7 461.2L1047.7 460.7L1047.8 460.2L1047.8 459.8L1047.9 459.3L1047.9 458.9L1048.0 458.4L1048.0 458.0L1048.0 457.5L1048.1 457.1L1048.1 456.6L1048.2 456.2L1048.2 455.8L1048.2 455.3L1048.3 454.9L1048.3 454.5L1048.4 454.1L1048.4 453.8L1048.4 453.4L1048.5 453.0L1048.5 452.7L1048.5 452.3L1048.6 452.0L1048.6 451.7L1048.7 451.4L1048.7 451.1L1048.7 450.8L1048.8 450.6L1048.8 450.3L1049.0 448.9L1049.2 447.9L1049.4 447.2L1049.6 446.8L1049.8 446.7L1049.9 446.9L1050.1 447.5L1050.2 447.6L1050.2 447.8L1050.3 448.1L1050.3 448.3L1050.3 448.6L1050.4 448.9L1050.4 449.3L1050.5 449.7L1050.5 450.0L1050.6 450.4L1050.6 450.9L1050.6 451.3L1050.7 451.7L1050.7 452.2L1050.8 452.7L1050.8 453.1L1050.9 453.6L1050.9 454.1L1050.9 454.6L1051.0 455.1L1051.0 455.6L1051.1 456.1L1051.1 456.5L1051.2 457.0L1051.2 457.5L1051.2 457.9L1051.3 458.3L1051.3 458.8L1051.4 459.2L1051.4 459.6L1051.5 459.9L1051.5 460.4L1051.6 460.9L1051.7 461.4L1051.7 461.9L1051.8 462.4L1051.8 463.0L1051.9 463.5L1052.0 464.1L1052.0 464.6L1052.1 465.1L1052.1 465.6L1052.2 466.1L1052.3 466.6L1052.3 467.1L1052.4 467.5L1052.5 467.9L1052.5 468.3L1052.6 468.6L1052.7 468.9L1052.7 469.1L1052.8 469.3L1052.9 469.4L1052.9 469.5L1053.0 469.5L1053.1 469.4L1053.1 469.3L1053.2 469.1L1053.3 468.9L1053.4 468.6L1053.4 468.3L1053.5 467.9L1053.6 467.4L1053.7 467.0L1053.7 466.5L1053.8 466.0L1053.9 465.5L1054.0 464.9L1054.0 464.4L1054.1 463.8L1054.2 463.3L1054.3 462.7L1054.4 462.2L1054.4 461.7L1054.5 461.2L1054.6 460.7L1054.6 460.3L1054.7 459.9L1054.8 459.5L1054.9 459.2L1054.9 459.0L1055.3 458.0L1055.5 457.3L1055.8 457.1L1056.1 457.2L1056.5 457.6L1056.6 457.8L1056.6 458.1L1056.7 458.5L1056.8 458.9L1056.9 459.4L1057.0 459.9L1057.1 460.5L1057.2 461.1L1057.3 461.7L1057.4 462.2L1057.6 462.8L1057.7 463.3L1057.8 463.8L1057.9 464.2L1058.0 464.6L1058.1 464.9L1058.2 465.1L1058.3 465.3L1058.4 465.3L1058.5 465.2L1058.5 465.1L1058.6 464.9L1058.7 464.7L1058.8 464.4L1058.9 464.0L1058.9 463.7L1059.0 463.3L1059.1 462.8L1059.2 462.4L1059.2 461.9L1059.3 461.4L1059.4 460.9L1059.5 460.3L1059.6 459.8L1059.7 459.3L1059.7 458.8L1059.8 458.3L1059.9 457.8L1060.0 457.3L1060.1 456.9L1060.2 456.5L1060.3 456.1L1060.4 455.7L1060.5 455.2L1060.7 454.8L1060.8 454.4L1061.0 453.9L1061.1 453.5L1061.2 453.1L1061.4 452.7L1061.5 452.3L1061.7 451.9L1061.8 451.5L1062.0 451.1L1062.1 450.7L1062.3 450.4L1062.4 450.0L1062.6 449.7L1062.7 449.4L1062.8 449.1L1063.0 448.8L1063.2 448.3L1063.5 447.8L1063.7 447.3L1064.0 446.9L1064.2 446.5L1064.5 446.1L1064.7 445.9L1065.0 445.7L1065.2 445.6L1065.5 445.5L1065.7 445.6L1065.9 445.8L1066.2 446.1L1066.4 446.4L1066.6 446.8L1066.8 447.2L1067.1 447.6L1067.3 448.1L1067.5 448.5L1067.7 449.0L1068.0 449.4L1068.1 449.7L1068.3 450.0L1068.5 450.4L1068.7 450.7L1068.9 451.0L1069.1 451.4L1069.2 451.7L1069.4 452.1L1069.6 452.5L1069.8 452.8L1069.9 453.3L1070.1 453.7L1070.3 454.2L1070.4 454.5L1070.5 454.8L1070.6 455.1L1070.7 455.5L1070.8 455.8L1070.9 456.1L1071.0 456.5L1071.1 456.8L1071.2 457.2L1071.3 457.5L1071.4 457.9L1071.5 458.3L1071.6 458.7L1071.7 459.2L1071.8 459.7L1071.9 460.2L1072.0 460.7L1072.1 461.2L1072.2 461.8L1072.2 462.1L1072.3 462.5L1072.3 462.8L1072.4 463.1L1072.4 463.5L1072.5 463.9L1072.5 464.2L1072.6 464.6L1072.6 465.0L1072.7 465.4L1072.7 465.8L1072.8 466.2L1072.8 466.7L1072.9 467.1L1072.9 467.5L1073.0 467.9L1073.0 468.4L1073.1 468.8L1073.1 469.3L1073.2 469.7L1073.2 470.1L1073.3 470.6L1073.3 471.0L1073.4 471.5L1073.4 471.9L1073.5 472.3L1073.5 472.8L1073.6 473.2L1073.6 473.6L1073.7 474.1L1073.7 474.5L1073.8 474.9L1073.8 475.3L1073.9 475.7L1073.9 476.1L1074.0 476.4L1074.0 476.8L1074.1 477.2L1074.2 477.6L1074.2 478.1L1074.3 478.6L1074.4 479.0L1074.4 479.5L1074.5 480.0L1074.5 480.5L1074.6 480.9L1074.7 481.4L1074.7 481.9L1074.8 482.3L1074.9 482.8L1074.9 483.2L1075.0 483.6L1075.1 484.1L1075.1 484.5L1075.2 484.9L1075.3 485.3L1075.3 485.7L1075.4 486.0L1075.5 486.4L1075.5 486.8L1075.6 487.1L1075.7 487.4L1075.7 487.7L1075.8 488.0L1075.9 488.2L1075.9 488.5L1076.0 488.7L1076.5 489.6L1076.9 489.9L1077.4 489.9L1077.9 489.6L1078.3 489.1L1078.4 488.9L1078.6 488.6L1078.7 488.4L1078.8 488.1L1078.9 487.9L1079.1 487.6L1079.2 487.2L1079.3 486.8L1079.4 486.5L1079.5 486.0L1079.6 485.6L1079.8 485.1L1079.9 484.6L1080.0 484.1L1080.1 483.5L1080.2 482.9L1080.3 482.6L1080.3 482.3L1080.4 482.0L1080.5 481.6L1080.5 481.3L1080.6 480.9L1080.6 480.5L1080.7 480.1L1080.7 479.7L1080.8 479.3L1080.8 478.9L1080.9 478.5L1081.0 478.1L1081.0 477.6L1081.1 477.2L1081.1 476.8L1081.2 476.3L1081.2 475.9L1081.3 475.4L1081.3 475.0L1081.4 474.5L1081.5 474.1L1081.5 473.7L1081.6 473.2L1081.6 472.8L1081.7 472.4L1081.8 471.9L1081.8 471.5L1081.9 471.1L1082.0 470.7L1082.0 470.3L1082.1 469.9L1082.1 469.5L1082.2 469.1L1082.3 468.6L1082.4 468.2L1082.5 467.8L1082.5 467.3L1082.6 466.9L1082.7 466.5L1082.8 466.1L1082.9 465.6L1083.0 465.2L1083.0 464.8L1083.1 464.4L1083.2 464.0L1083.3 463.5L1083.4 463.1L1083.5 462.7L1083.6 462.3L1083.7 461.9L1083.8 461.5L1083.8 461.2L1083.9 460.8L1084.0 460.4L1084.1 460.0L1084.2 459.7L1084.3 459.3L1084.4 459.0L1084.5 458.6L1084.6 458.3L1084.6 458.0L1084.8 457.5L1084.9 457.0L1085.1 456.5L1085.2 456.0L1085.4 455.6L1085.5 455.1L1085.7 454.7L1085.8 454.3L1086.0 453.9L1086.1 453.5L1086.3 453.2L1086.4 452.8L1086.6 452.5L1086.7 452.2L1086.8 451.9L1087.0 451.6L1087.1 451.3L1087.4 450.7L1087.7 450.2L1087.9 449.7L1088.2 449.2L1088.4 448.8L1088.7 448.5L1088.9 448.3L1089.2 448.3L1089.4 448.4L1089.5 448.6L1089.6 448.8L1089.7 449.0L1089.9 449.3L1090.0 449.6L1090.1 450.0L1090.1 450.3L1090.2 450.8L1090.3 451.2L1090.4 451.6L1090.5 452.1L1090.6 452.6L1090.7 453.1L1090.8 453.6L1090.9 454.1L1091.0 454.6L1091.1 455.1L1091.2 455.6L1091.3 456.1L1091.4 456.4L1091.5 456.8L1091.6 457.2L1091.7 457.6L1091.8 458.0L1091.9 458.4L1091.9 458.9L1092.0 459.3L1092.1 459.7L1092.2 460.2L1092.3 460.6L1092.4 461.1L1092.5 461.5L1092.6 462.0L1092.7 462.4L1092.8 462.9L1092.9 463.3L1093.0 463.7L1093.0 464.1L1093.1 464.5L1093.2 464.9L1093.3 465.3L1093.4 465.7L1093.5 466.0L1093.6 466.3L1093.6 466.6L1093.8 467.3L1094.0 467.9L1094.2 468.5L1094.3 469.0L1094.5 469.6L1094.6 470.0L1094.8 470.5L1094.9 470.8L1095.1 471.1L1095.2 471.3L1095.4 471.4L1095.6 471.4L1095.7 471.4L1095.8 471.2L1095.9 471.0L1096.1 470.7L1096.2 470.4L1096.3 470.1L1096.5 469.7L1096.6 469.2L1096.7 468.8L1096.8 468.3L1097.0 467.8L1097.1 467.2L1097.2 466.7L1097.4 466.2L1097.5 465.7L1097.6 465.3L1097.6 465.0L1097.7 464.6L1097.8 464.2L1097.9 463.9L1097.9 463.5L1098.0 463.0L1098.1 462.6L1098.2 462.2L1098.2 461.8L1098.3 461.3L1098.4 460.9L1098.5 460.4L1098.6 460.0L1098.6 459.6L1098.7 459.1L1098.8 458.7L1098.9 458.3L1099.0 457.9L1099.0 457.5L1099.1 457.1L1099.2 456.8L1099.3 456.4L1099.4 456.1L1099.5 455.6L1099.7 455.1L1099.9 454.6L1100.0 454.2L1100.2 453.8L1100.3 453.3L1100.5 452.9L1100.7 452.6L1100.8 452.2L1101.0 451.9L1101.2 451.5L1101.4 451.2L1101.5 450.9L1101.7 450.6L1101.9 450.3L1102.2 449.9L1102.5 449.5L1102.8 449.2L1103.1 448.9L1103.5 448.6L1103.8 448.4L1104.1 448.2L1104.4 448.1L1104.8 448.0L1105.2 448.0L1105.6 448.1L1106.0 448.2L1106.4 448.4L1106.8 448.6L1107.2 449.0L1107.6 449.4L1107.8 449.6L1108.0 449.8L1108.3 450.1L1108.5 450.3L1108.7 450.6L1108.8 450.9L1109.0 451.2L1109.2 451.5L1109.4 451.9L1109.6 452.4L1109.8 452.9L1110.0 453.5L1110.1 454.2L1110.2 454.5L1110.3 454.8L1110.3 455.1L1110.4 455.4L1110.5 455.8L1110.5 456.2L1110.6 456.6L1110.6 457.0L1110.7 457.4L1110.8 457.8L1110.8 458.2L1110.9 458.7L1110.9 459.1L1111.0 459.6L1111.0 460.0L1111.1 460.5L1111.2 461.0L1111.2 461.4L1111.3 461.9L1111.3 462.3L1111.4 462.8L1111.4 463.2L1111.5 463.7L1111.5 464.1L1111.6 464.6L1111.7 465.0L1111.7 465.4L1111.8 465.8L1111.8 466.2L1111.9 466.6L1111.9 466.9L1112.0 467.3L1112.0 467.6L1112.2 468.2L1112.3 468.8L1112.4 469.3L1112.5 469.9L1112.6 470.5L1112.7 471.1L1112.8 471.6L1112.9 472.1L1113.0 472.6L1113.1 473.1L1113.2 473.5L1113.3 473.9L1113.4 474.2L1113.5 474.5L1113.6 474.7L1113.8 474.8L1113.9 474.9L1114.0 474.9L1114.0 474.8L1114.1 474.7L1114.2 474.5L1114.3 474.2L1114.4 473.9L1114.5 473.6L1114.5 473.2L1114.6 472.8L1114.7 472.4L1114.8 471.9L1114.9 471.5L1115.0 471.0L1115.0 470.4L1115.1 469.9L1115.2 469.4L1115.3 468.9L1115.4 468.4L1115.5 467.9L1115.5 467.4L1115.6 466.9L1115.7 466.5L1115.8 466.1L1115.9 465.7L1116.0 465.2L1116.1 464.8L1116.2 464.3L1116.3 463.9L1116.4 463.4L1116.5 463.0L1116.6 462.5L1116.7 462.1L1116.8 461.7L1116.9 461.2L1117.0 460.8L1117.1 460.4L1117.2 460.0L1117.3 459.6L1117.4 459.3L1117.5 458.9L1117.6 458.6L1117.7 458.3L1117.8 458.0L1118.0 457.4L1118.3 456.7L1118.5 456.2L1118.7 455.7L1119.0 455.4L1119.2 455.1L1119.5 455.0L1119.7 455.1L1119.9 455.3L1120.0 455.5L1120.2 455.8L1120.3 456.1L1120.5 456.5L1120.6 457.0L1120.8 457.4L1120.9 457.9L1121.1 458.4L1121.2 458.9L1121.4 459.4L1121.5 459.8L1121.7 460.2L1121.9 460.6L1122.0 460.9L1122.3 461.4L1122.6 461.9L1122.9 462.3L1123.2 462.7L1123.4 463.0L1123.7 463.2L1124.0 463.4L1124.3 463.4L1124.6 463.2L1124.8 462.9L1125.0 462.5L1125.3 462.0L1125.5 461.5L1125.8 461.0L1126.1 460.5L1126.3 460.2L1126.6 460.0L1126.8 459.9L1127.0 460.0L1127.2 460.3L1127.4 460.6L1127.6 461.0L1127.8 461.5L1128.0 462.0L1128.2 462.5L1128.4 463.1L1128.5 463.5L1128.7 464.0L1128.9 464.3L1129.1 464.6L1129.3 464.7L1129.6 464.7L1129.8 464.6L1130.1 464.3L1130.4 464.0L1130.6 463.5L1130.9 463.1L1131.1 462.6L1131.4 462.2L1131.6 461.8L1131.9 461.5L1132.2 461.0L1132.4 460.6L1132.7 460.2L1133.0 459.8L1133.2 459.5L1133.4 459.2L1133.5 459.0" stroke="#7e2f8e" stroke-width="3.0" fill="none" stroke-linejoin="round" stroke-linecap="round" clip-path="url(#cp1_3)"/>
<path d="M689.5 588.1H1137.5M689.5 581.7H1137.5M689.5 575.3H1137.5M689.5 562.5H1137.5M689.5 556.1H1137.5M689.5 549.7H1137.5" stroke="#cfcfcf" stroke-width="1" stroke-dasharray="1.3 2.85" fill="none"/><path d="M688.9 568.9H1137.5M770.46 543.3V594.5M852.02 543.3V594.5M933.58 543.3V594.5M1015.14 543.3V594.5M1096.7 543.3V594.5" stroke="#e2e2e2" stroke-width="1" fill="none"/>
<path d="M688.9 594.5h5M1137.5 594.5h-5M688.9 568.9h5M1137.5 568.9h-5M688.9 543.3h5M1137.5 543.3h-5M688.9 543.3v5M688.9 594.5v-5M770.46 543.3v5M770.46 594.5v-5M852.02 543.3v5M852.02 594.5v-5M933.58 543.3v5M933.58 594.5v-5M1015.14 543.3v5M1015.14 594.5v-5M1096.7 543.3v5M1096.7 594.5v-5" stroke="#262626" stroke-width="1.1" fill="none"/>
<rect x="688.9" y="543.3" width="448.6" height="51.2" fill="none" stroke="#262626" stroke-width="1.1"/>
<clipPath id="cp1_4"><rect x="687.4" y="541.8" width="451.6" height="54.2"/></clipPath>
<path d="M725.5 574.4L725.9 574.3L726.3 574.3L726.8 574.2L727.3 574.1L727.9 574.0L728.6 573.9L729.2 573.7L729.8 573.6L730.3 573.4L730.8 573.3L731.3 573.1L731.8 572.9L732.3 572.7L732.7 572.5L733.2 572.3L733.7 572.0L734.2 571.7L734.6 571.4L735.1 571.1L735.5 570.8L735.9 570.6L736.2 570.2L736.6 569.9L737.0 569.6L737.3 569.2L737.7 568.8L738.1 568.5L738.4 568.1L738.8 567.7L739.2 567.4L739.5 567.0L739.9 566.7L740.3 566.4L740.7 566.0L741.1 565.7L741.6 565.3L742.0 564.9L742.4 564.6L742.8 564.3L743.2 563.9L743.6 563.6L744.0 563.4L744.3 563.1L744.7 562.9L745.2 562.6L745.8 562.3L746.3 562.0L746.7 561.8L747.2 561.7L747.7 561.6L748.1 561.5L748.5 561.5L749.0 561.6L749.4 561.8L749.8 562.1L750.2 562.4L750.6 562.8L751.0 563.3L751.4 563.8L751.7 564.2L751.9 564.5L752.2 564.9L752.5 565.4L752.8 565.8L753.1 566.3L753.4 566.8L753.7 567.3L754.0 567.8L754.3 568.3L754.6 568.7L754.9 569.2L755.3 569.6L755.6 570.0L755.9 570.4L756.3 570.8L756.7 571.2L757.0 571.6L757.4 572.0L757.8 572.4L758.2 572.8L758.5 573.1L758.9 573.5L759.3 573.8L759.7 574.1L760.0 574.4L760.5 574.7L761.0 575.0L761.5 575.3L762.0 575.6L762.5 575.9L763.0 576.1L763.5 576.3L763.9 576.4L764.4 576.6L764.8 576.7L765.4 576.8L766.0 576.8L766.5 576.8L767.1 576.8L767.6 576.7L768.1 576.5L768.7 576.3L769.1 576.1L769.5 575.9L769.9 575.6L770.3 575.3L770.7 575.0L771.2 574.7L771.6 574.3L772.0 573.9L772.5 573.4L772.8 573.1L773.1 572.7L773.5 572.3L773.8 571.9L774.1 571.5L774.5 571.0L774.8 570.6L775.2 570.1L775.5 569.7L775.9 569.2L776.3 568.8L776.6 568.4L777.0 568.0L777.3 567.7L777.7 567.3L778.2 566.9L778.6 566.5L779.1 566.2L779.5 565.8L780.0 565.5L780.4 565.3L780.9 565.0L781.3 564.8L781.7 564.6L782.1 564.4L782.7 564.2L783.2 564.1L783.7 564.0L784.2 564.0L784.7 564.1L785.3 564.1L785.9 564.2L786.4 564.3L786.8 564.4L787.3 564.5L787.8 564.6L788.3 564.8L788.8 564.9L789.4 565.1L789.9 565.2L790.5 565.4L791.1 565.6L791.7 565.8L792.1 565.9L792.5 566.0L793.0 566.2L793.5 566.3L793.9 566.5L794.4 566.6L794.9 566.8L795.4 566.9L795.9 567.1L796.4 567.3L796.9 567.4L797.4 567.6L797.9 567.7L798.4 567.8L798.9 567.9L799.3 568.1L799.9 568.2L800.4 568.3L800.9 568.3L801.4 568.4L802.0 568.5L802.5 568.6L803.0 568.6L803.6 568.7L804.1 568.7L804.6 568.8L805.1 568.8L805.6 568.9L806.1 568.9L806.6 569.0L807.0 569.0L807.6 569.1L808.2 569.1L808.7 569.1L809.2 569.1L809.7 569.1L810.2 569.1L810.7 569.1L811.2 569.1L811.7 569.1L812.2 569.1L812.8 569.2L813.2 569.3L813.7 569.3L814.2 569.4L814.8 569.5L815.3 569.6L815.8 569.7L816.3 569.8L816.8 570.0L817.4 570.1L817.9 570.2L818.4 570.3L818.9 570.4L819.5 570.5L820.0 570.7L820.5 570.8L821.1 570.9L821.6 571.0L822.1 571.2L822.7 571.3L823.2 571.4L823.7 571.6L824.3 571.7L824.8 571.8L825.2 571.9L825.7 572.0L826.2 572.1L826.8 572.2L827.4 572.3L827.9 572.4L828.4 572.4L828.9 572.5L829.4 572.5L829.9 572.5L830.4 572.5L831.0 572.5L831.5 572.4L832.0 572.4L832.5 572.3L833.0 572.2L833.6 572.1L834.1 571.9L834.6 571.7L835.2 571.5L835.8 571.1L836.1 570.9L836.5 570.6L836.8 570.3L837.2 570.0L837.6 569.7L838.0 569.3L838.4 569.0L838.8 568.6L839.2 568.2L839.6 567.8L840.0 567.4L840.3 567.0L840.7 566.6L841.1 566.2L841.5 565.8L841.8 565.4L842.2 565.0L842.5 564.6L842.9 564.2L843.2 563.8L843.6 563.4L843.9 563.0L844.3 562.6L844.6 562.2L845.0 561.7L845.3 561.3L845.6 560.9L846.0 560.5L846.3 560.1L846.6 559.8L846.9 559.4L847.3 559.0L847.7 558.6L848.1 558.2L848.5 557.8L848.8 557.4L849.2 557.0L849.6 556.6L850.0 556.3L850.3 555.9L850.7 555.6L851.0 555.3L851.4 554.9L851.7 554.6L852.1 554.3L852.5 553.8L852.9 553.4L853.3 552.9L853.7 552.5L854.1 552.1L854.5 551.7L854.8 551.3L855.2 550.9L855.5 550.7L855.9 550.4L856.5 550.1L857.1 549.8L857.7 549.8L858.2 549.8L858.8 550.0L859.1 550.2L859.5 550.5L859.8 550.8L860.1 551.2L860.4 551.7L860.7 552.4L861.1 553.3L861.2 553.6L861.3 554.0L861.4 554.4L861.5 554.8L861.6 555.2L861.7 555.7L861.9 556.2L862.0 556.6L862.1 557.2L862.2 557.7L862.3 558.2L862.4 558.7L862.6 559.3L862.7 559.8L862.8 560.4L862.9 561.0L863.1 561.5L863.2 562.1L863.3 562.7L863.4 563.3L863.6 563.8L863.7 564.3L863.8 564.8L863.9 565.2L864.0 565.7L864.1 566.2L864.2 566.7L864.3 567.2L864.4 567.7L864.5 568.3L864.6 568.8L864.7 569.3L864.8 569.9L864.9 570.4L865.0 570.9L865.1 571.5L865.2 572.0L865.3 572.5L865.5 573.0L865.6 573.5L865.7 574.0L865.8 574.5L865.9 575.0L866.0 575.5L866.1 576.0L866.2 576.4L866.3 576.8L866.4 577.3L866.6 577.9L866.7 578.5L866.9 579.0L867.1 579.6L867.2 580.2L867.4 580.7L867.5 581.2L867.7 581.7L867.9 582.2L868.0 582.7L868.2 583.2L868.3 583.6L868.5 584.0L868.7 584.4L868.8 584.8L869.0 585.2L869.1 585.5L869.3 585.9L869.7 586.5L870.0 587.1L870.4 587.5L870.7 587.9L871.1 588.2L871.5 588.4L871.8 588.6L872.2 588.8L872.8 589.0L873.3 589.0L873.9 589.0L874.5 588.8L875.1 588.4L875.3 588.1L875.6 587.8L875.9 587.4L876.2 587.1L876.5 586.6L876.8 586.2L877.1 585.7L877.4 585.1L877.6 584.6L877.9 584.0L878.1 583.6L878.3 583.2L878.5 582.7L878.6 582.3L878.8 581.8L879.0 581.3L879.2 580.8L879.4 580.3L879.5 579.8L879.7 579.3L879.9 578.8L880.1 578.3L880.3 577.8L880.4 577.3L880.6 576.8L880.8 576.3L881.0 575.8L881.2 575.3L881.3 574.8L881.5 574.3L881.7 573.8L881.8 573.3L882.0 572.8L882.2 572.2L882.4 571.7L882.5 571.2L882.7 570.8L882.9 570.3L883.1 569.9L883.3 569.4L883.5 569.0L883.7 568.6L884.0 568.1L884.3 567.6L884.6 567.2L885.0 566.7L885.3 566.3L885.7 566.0L886.0 565.6L886.4 565.3L886.7 565.0L887.1 564.7L887.5 564.4L888.0 564.1L888.4 563.9L888.9 563.7L889.4 563.6L889.8 563.5L890.3 563.3L890.8 563.2L891.3 563.1L891.8 563.0L892.3 562.9L892.8 562.7L893.4 562.6L893.9 562.4L894.4 562.2L895.0 562.1L895.5 561.9L896.0 561.8L896.6 561.6L897.1 561.5L897.6 561.4L898.2 561.3L898.7 561.2L899.3 561.1L899.8 561.0L900.4 561.0L900.9 560.9L901.4 560.9L901.9 561.0L902.4 561.0L902.9 561.1L903.4 561.2L903.8 561.3L904.3 561.5L904.7 561.7L905.2 562.0L905.7 562.3L906.1 562.5L906.4 562.8L906.8 563.1L907.2 563.5L907.5 563.8L907.9 564.2L908.3 564.5L908.7 564.9L909.1 565.3L909.5 565.7L909.8 566.0L910.2 566.4L910.5 566.7L911.0 567.1L911.4 567.6L911.8 568.0L912.3 568.4L912.7 568.9L913.1 569.3L913.5 569.7L913.8 570.0L914.1 570.3L914.3 570.5L914.7 571.0L915.0 571.1L915.3 571.3L915.7 571.5L916.2 571.7L916.7 571.9L917.2 572.2L917.7 572.3L918.3 572.4L918.8 572.5L919.3 572.4L919.7 572.3L920.2 572.2L920.7 572.0L921.2 571.8L921.7 571.5L922.2 571.3L922.7 571.0L923.1 570.8L923.6 570.5L924.1 570.3L924.5 570.1L924.9 569.8L925.4 569.5L925.8 569.2L926.2 568.9L926.7 568.6L927.1 568.4L927.5 568.1L928.0 567.9L928.4 567.7L928.9 567.4L929.5 567.2L930.0 567.0L930.5 566.8L931.0 566.6L931.5 566.5L932.1 566.4L932.6 566.3L933.2 566.3L933.7 566.4L934.1 566.4L934.6 566.6L935.1 566.7L935.5 566.9L936.0 567.0L936.5 567.2L937.0 567.4L937.5 567.6L938.0 567.8L938.5 567.9L939.0 568.1L939.5 568.2L940.0 568.3L940.5 568.3L941.1 568.4L941.6 568.5L942.1 568.5L942.6 568.6L943.1 568.7L943.7 568.8L944.2 568.9L944.7 569.0L945.2 569.2L945.7 569.3L946.2 569.6L946.7 569.8L947.2 570.0L947.6 570.3L948.1 570.5L948.6 570.7L949.1 570.9L949.6 571.0L950.0 571.1L950.5 571.1L951.0 571.1L951.5 570.9L951.9 570.7L952.4 570.4L952.9 570.1L953.3 569.8L953.8 569.5L954.2 569.2L954.7 568.9L955.3 568.6L955.7 568.4L956.2 568.2L956.6 568.0L957.1 567.7L957.6 567.5L958.1 567.2L958.6 567.0L959.1 566.8L959.5 566.6L960.0 566.5L960.5 566.4L961.0 566.3L961.5 566.3L962.0 566.3L962.5 566.4L963.0 566.5L963.5 566.6L964.0 566.8L964.5 566.9L965.0 567.1L965.6 567.3L966.2 567.5L966.8 567.7L967.2 567.8L967.6 568.0L968.1 568.1L968.5 568.3L969.0 568.5L969.5 568.7L970.0 568.9L970.5 569.1L971.0 569.3L971.5 569.5L972.0 569.7L972.5 569.9L973.0 570.1L973.4 570.2L973.9 570.4L974.4 570.5L974.9 570.7L975.4 570.8L976.0 571.0L976.5 571.1L977.0 571.2L977.5 571.3L978.0 571.4L978.5 571.6L979.0 571.7L979.5 571.7L980.0 571.8L980.6 571.9L981.1 572.0L981.6 572.0L982.1 572.1L982.6 572.1L983.1 572.1L983.6 572.2L984.1 572.2L984.6 572.1L985.2 572.1L985.7 572.1L986.2 572.1L986.7 572.1L987.2 572.0L987.7 572.0L988.2 572.0L988.7 571.9L989.2 571.9L989.8 571.9L990.3 571.9L990.8 571.9L991.3 571.8L991.8 571.8L992.3 571.8L992.8 571.8L993.3 571.8L993.8 571.8L994.4 571.7L994.9 571.7L995.4 571.7L995.9 571.7L996.4 571.6L996.9 571.6L997.4 571.5L997.9 571.4L998.5 571.4L999.0 571.3L999.5 571.2L1000.0 571.1L1000.6 571.0L1001.1 570.9L1001.6 570.8L1002.2 570.7L1002.7 570.6L1003.2 570.5L1003.7 570.3L1004.2 570.2L1004.6 570.1L1005.1 570.0L1005.6 569.8L1006.2 569.6L1006.7 569.4L1007.2 569.2L1007.7 569.0L1008.1 568.8L1008.6 568.6L1009.1 568.4L1009.5 568.2L1010.0 568.0L1010.4 567.8L1010.8 567.7L1011.4 567.5L1012.0 567.3L1012.5 567.1L1013.0 567.0L1013.6 566.9L1014.1 566.8L1014.6 566.7L1015.1 566.7L1015.6 566.7L1016.1 566.8L1016.6 566.9L1017.1 567.0L1017.5 567.2L1018.0 567.4L1018.5 567.7L1019.0 567.9L1019.5 568.1L1019.9 568.4L1020.4 568.6L1020.9 568.9L1021.3 569.1L1021.8 569.4L1022.2 569.7L1022.7 570.0L1023.1 570.3L1023.5 570.6L1024.0 570.9L1024.4 571.1L1024.8 571.3L1025.2 571.5L1025.8 571.7L1026.4 571.9L1026.9 572.0L1027.4 572.1L1027.9 572.1L1028.5 572.0L1029.1 571.9L1029.4 571.7L1029.9 571.5L1030.3 571.3L1030.7 571.0L1031.2 570.7L1031.6 570.3L1032.1 570.0L1032.5 569.6L1033.0 569.3L1033.4 568.9L1033.8 568.6L1034.3 568.3L1034.7 568.0L1035.1 567.7L1035.6 567.4L1036.0 567.0L1036.5 566.7L1036.9 566.4L1037.3 566.1L1037.8 565.9L1038.2 565.6L1038.6 565.4L1039.1 565.1L1039.6 564.9L1040.1 564.7L1040.6 564.5L1041.1 564.3L1041.6 564.1L1042.1 564.0L1042.5 563.9L1043.0 563.8L1043.4 563.8L1044.0 563.9L1044.5 564.0L1044.9 564.2L1045.4 564.4L1045.9 564.7L1046.3 565.0L1046.8 565.4L1047.3 565.8L1047.6 566.1L1047.9 566.4L1048.2 566.8L1048.5 567.2L1048.9 567.6L1049.2 568.0L1049.5 568.5L1049.8 568.9L1050.1 569.3L1050.5 569.8L1050.8 570.2L1051.1 570.5L1051.5 571.0L1051.9 571.4L1052.3 571.9L1052.7 572.4L1053.1 572.8L1053.5 573.2L1053.8 573.6L1054.2 573.9L1054.6 574.2L1054.9 574.4L1055.5 574.5L1055.9 574.6L1056.4 574.4L1056.8 574.2L1057.3 573.9L1057.8 573.4L1058.1 573.1L1058.4 572.8L1058.7 572.5L1059.0 572.0L1059.3 571.6L1059.7 571.2L1060.0 570.7L1060.3 570.3L1060.7 569.8L1061.0 569.4L1061.3 569.0L1061.6 568.6L1062.0 568.2L1062.4 567.8L1062.8 567.5L1063.2 567.1L1063.6 566.7L1064.0 566.4L1064.4 566.1L1064.8 565.8L1065.1 565.6L1065.5 565.4L1066.1 565.0L1066.6 564.8L1067.1 564.6L1067.7 564.6L1068.3 564.8L1068.7 564.9L1069.1 565.1L1069.5 565.3L1069.9 565.6L1070.4 565.8L1070.9 566.1L1071.3 566.4L1071.8 566.8L1072.2 567.1L1072.7 567.4L1073.1 567.7L1073.6 568.0L1074.0 568.3L1074.4 568.6L1074.8 569.0L1075.3 569.3L1075.7 569.7L1076.1 570.0L1076.6 570.3L1077.0 570.6L1077.5 570.9L1077.9 571.1L1078.4 571.3L1078.9 571.5L1079.4 571.7L1079.9 571.9L1080.5 572.1L1081.0 572.2L1081.5 572.3L1082.1 572.4L1082.6 572.4L1083.2 572.5L1083.7 572.5L1084.2 572.4L1084.6 572.3L1085.1 572.2L1085.6 572.1L1086.1 571.9L1086.6 571.8L1087.0 571.6L1087.5 571.4L1088.0 571.2L1088.5 571.0L1089.0 570.7L1089.4 570.5L1089.9 570.3L1090.4 570.1L1090.9 569.8L1091.4 569.6L1091.9 569.3L1092.4 569.0L1092.9 568.8L1093.3 568.5L1093.8 568.2L1094.3 568.0L1094.7 567.8L1095.2 567.7L1095.7 567.5L1096.3 567.3L1096.8 567.2L1097.3 567.1L1097.8 567.1L1098.3 567.0L1098.9 567.0L1099.4 567.1L1100.0 567.1L1100.5 567.2L1101.0 567.2L1101.5 567.3L1102.0 567.5L1102.5 567.6L1103.1 567.8L1103.6 568.0L1104.1 568.1L1104.7 568.3L1105.2 568.5L1105.7 568.6L1106.2 568.8L1106.7 569.0L1107.2 569.2L1107.7 569.4L1108.2 569.6L1108.7 569.8L1109.1 570.0L1109.6 570.1L1110.1 570.3L1110.6 570.4L1111.0 570.5L1111.5 570.5L1112.0 570.5L1112.6 570.5L1113.1 570.4L1113.6 570.2L1114.1 570.0L1114.6 569.8L1115.2 569.6L1115.7 569.4L1116.3 569.2L1116.7 569.0L1117.2 568.9L1117.7 568.6L1118.2 568.4L1118.7 568.2L1119.2 568.0L1119.7 567.8L1120.2 567.6L1120.7 567.4L1121.2 567.2L1121.6 567.1L1122.0 567.1L1122.6 567.1L1123.1 567.2L1123.6 567.3L1124.1 567.5L1124.5 567.8L1125.0 568.0L1125.4 568.3L1125.8 568.6L1126.3 568.9L1126.7 569.3L1127.1 569.8L1127.5 570.2L1127.9 570.7L1128.2 571.1L1128.6 571.5L1129.0 571.7L1129.3 571.9L1129.8 571.8L1130.3 571.5L1130.8 571.0L1131.2 570.5L1131.6 570.0L1132.0 569.5L1132.5 569.0L1132.9 568.4L1133.3 568.0L1133.5 567.7" stroke="#77ac30" stroke-width="2.9" fill="none" stroke-linejoin="round" stroke-linecap="round" clip-path="url(#cp1_4)"/>
<path d="M689.5 689.85H1137.5M689.5 683.5H1137.5M689.5 677.15H1137.5M689.5 664.45H1137.5M689.5 658.1H1137.5M689.5 651.75H1137.5" stroke="#cfcfcf" stroke-width="1" stroke-dasharray="1.3 2.85" fill="none"/><path d="M688.9 670.8H1137.5M770.46 645.4V696.2M852.02 645.4V696.2M933.58 645.4V696.2M1015.14 645.4V696.2M1096.7 645.4V696.2" stroke="#e2e2e2" stroke-width="1" fill="none"/>
<path d="M688.9 696.2h5M1137.5 696.2h-5M688.9 670.8h5M1137.5 670.8h-5M688.9 645.4h5M1137.5 645.4h-5M688.9 645.4v5M688.9 696.2v-5M770.46 645.4v5M770.46 696.2v-5M852.02 645.4v5M852.02 696.2v-5M933.58 645.4v5M933.58 696.2v-5M1015.14 645.4v5M1015.14 696.2v-5M1096.7 645.4v5M1096.7 696.2v-5" stroke="#262626" stroke-width="1.1" fill="none"/>
<rect x="688.9" y="645.4" width="448.6" height="50.8" fill="none" stroke="#262626" stroke-width="1.1"/>
<clipPath id="cp1_5"><rect x="687.4" y="643.9" width="451.6" height="53.8"/></clipPath>
<path d="M726.4 668.2L727.0 668.2L727.8 668.3L728.8 668.3L729.9 668.4L731.1 668.5L732.3 668.7L733.6 668.9L734.8 669.1L735.7 669.3L736.6 669.6L737.5 669.9L738.4 670.1L739.4 670.4L740.4 670.8L741.4 671.1L742.4 671.4L743.4 671.7L744.4 672.0L745.4 672.4L746.3 672.7L747.4 673.0L748.4 673.3L749.5 673.6L750.6 673.9L751.7 674.2L752.7 674.5L753.8 674.7L754.8 675.0L755.9 675.2L756.9 675.4L757.8 675.6L759.0 675.8L760.1 675.9L761.2 676.1L762.2 676.2L763.3 676.2L764.3 676.3L765.3 676.3L766.4 676.3L767.4 676.3L768.5 676.2L769.5 676.1L770.5 676.0L771.6 675.9L772.6 675.7L773.7 675.6L774.7 675.4L775.8 675.2L777.0 675.0L777.9 674.7L778.8 674.5L779.7 674.2L780.7 673.9L781.6 673.7L782.6 673.4L783.6 673.1L784.6 672.8L785.6 672.5L786.5 672.2L787.5 671.8L788.5 671.5L789.4 671.2L790.4 670.9L791.4 670.5L792.3 670.2L793.3 669.8L794.2 669.5L795.2 669.1L796.2 668.8L797.1 668.4L798.1 668.1L799.0 667.8L800.0 667.4L800.9 667.1L801.9 666.8L802.9 666.5L803.8 666.2L804.8 665.9L805.7 665.6L806.7 665.3L807.7 665.0L808.6 664.7L809.6 664.4L810.5 664.2L811.5 663.9L812.5 663.6L813.6 663.3L814.7 663.0L815.7 662.7L816.8 662.4L817.9 662.2L818.9 661.9L820.0 661.7L821.0 661.4L822.0 661.2L823.0 661.0L824.1 660.9L825.2 660.7L826.3 660.6L827.4 660.5L828.4 660.4L829.4 660.4L830.5 660.4L831.5 660.4L832.6 660.5L833.6 660.6L834.7 660.8L835.7 661.0L836.7 661.2L837.8 661.5L838.8 661.8L839.9 662.1L841.0 662.5L842.1 662.8L843.0 663.2L843.8 663.6L844.7 664.0L845.5 664.5L846.4 664.9L847.3 665.4L848.2 665.9L849.1 666.4L850.0 666.9L851.0 667.4L851.9 667.9L852.8 668.4L853.6 669.0L854.5 669.5L855.3 670.1L856.1 670.7L856.9 671.3L857.8 671.9L858.6 672.5L859.4 673.1L860.2 673.7L861.0 674.3L861.9 674.9L862.7 675.5L863.5 676.1L864.3 676.8L865.1 677.4L866.0 678.0L866.9 678.6L867.8 679.2L868.7 679.9L869.7 680.5L870.6 681.1L871.5 681.6L872.4 682.2L873.2 682.8L874.1 683.3L875.0 683.8L875.8 684.3L876.6 684.8L877.7 685.2L878.7 685.6L879.7 686.0L880.7 686.3L881.7 686.7L882.6 687.0L883.6 687.2L884.5 687.5L885.4 687.7L886.2 687.8L887.4 688.0L888.5 688.1L889.5 688.2L890.6 688.2L891.6 688.2L892.7 688.2L893.9 688.1L894.9 688.0L895.9 687.9L896.9 687.7L897.9 687.5L899.0 687.2L900.1 687.0L901.2 686.7L902.3 686.3L903.5 685.9L904.3 685.5L905.1 685.1L906.0 684.7L906.9 684.2L907.8 683.7L908.7 683.2L909.6 682.7L910.5 682.1L911.4 681.6L912.3 681.0L913.2 680.4L914.1 679.8L915.0 679.2L915.8 678.6L916.6 678.0L917.4 677.4L918.3 676.7L919.1 676.1L919.9 675.5L920.7 674.9L921.5 674.2L922.4 673.6L923.2 673.0L924.0 672.3L924.8 671.7L925.7 671.1L926.5 670.5L927.4 669.9L928.2 669.3L929.1 668.7L930.0 668.1L930.9 667.5L931.8 667.0L932.7 666.4L933.5 665.8L934.4 665.3L935.3 664.8L936.2 664.2L937.1 663.7L938.0 663.2L938.9 662.6L939.9 662.1L940.8 661.6L941.8 661.1L942.8 660.6L943.7 660.2L944.7 659.7L945.6 659.2L946.6 658.8L947.6 658.4L948.5 657.9L949.5 657.5L950.4 657.1L951.4 656.8L952.3 656.4L953.3 656.0L954.3 655.7L955.2 655.4L956.2 655.1L957.1 654.8L958.1 654.5L959.1 654.2L960.0 653.9L961.0 653.7L962.0 653.4L963.1 653.2L964.1 653.0L965.1 652.8L966.2 652.6L967.2 652.4L968.3 652.3L969.3 652.1L970.4 652.0L971.4 651.9L972.5 651.7L973.5 651.6L974.6 651.5L975.6 651.4L976.6 651.3L977.7 651.3L978.7 651.2L979.8 651.1L980.8 651.1L981.9 651.0L982.9 651.0L984.0 651.0L985.0 651.0L986.1 651.0L987.1 651.0L988.1 651.0L989.2 651.0L990.2 651.0L991.3 651.1L992.3 651.1L993.4 651.2L994.4 651.2L995.5 651.3L996.5 651.4L997.6 651.5L998.6 651.5L999.6 651.6L1000.7 651.7L1001.7 651.8L1002.8 652.0L1003.8 652.1L1004.9 652.2L1005.9 652.4L1007.0 652.5L1008.0 652.7L1009.1 652.9L1010.1 653.1L1011.1 653.3L1012.2 653.5L1013.2 653.8L1014.3 654.0L1015.3 654.3L1016.4 654.6L1017.4 655.0L1018.5 655.3L1019.4 655.7L1020.4 656.1L1021.3 656.5L1022.3 656.9L1023.3 657.3L1024.2 657.8L1025.2 658.3L1026.1 658.8L1027.1 659.3L1028.0 659.8L1029.0 660.3L1030.0 660.9L1030.8 661.4L1031.6 662.0L1032.4 662.5L1033.2 663.1L1034.1 663.7L1034.9 664.3L1035.7 664.8L1036.5 665.4L1037.4 666.0L1038.2 666.6L1039.0 667.2L1039.8 667.7L1040.6 668.3L1041.5 668.9L1042.3 669.4L1043.2 670.0L1044.2 670.5L1045.1 671.1L1046.0 671.6L1046.9 672.1L1047.8 672.6L1048.7 673.1L1049.6 673.6L1050.4 674.0L1051.3 674.5L1052.1 674.9L1053.0 675.3L1054.1 675.7L1055.2 676.1L1056.3 676.4L1057.3 676.7L1058.4 676.9L1059.4 677.2L1060.4 677.3L1061.5 677.5L1062.5 677.6L1063.6 677.6L1064.6 677.6L1065.7 677.5L1066.7 677.4L1067.7 677.3L1068.8 677.1L1069.9 676.9L1071.0 676.6L1072.1 676.3L1073.0 676.0L1073.9 675.7L1074.9 675.3L1075.9 674.9L1076.9 674.5L1077.9 674.1L1078.9 673.7L1079.9 673.3L1080.8 672.9L1081.8 672.5L1082.7 672.0L1083.6 671.6L1084.7 671.2L1085.7 670.8L1086.7 670.5L1087.7 670.1L1088.7 669.8L1089.6 669.5L1090.5 669.2L1091.4 668.9L1092.3 668.7L1093.2 668.5L1094.4 668.3L1095.5 668.2L1096.5 668.1L1097.5 668.0L1098.6 668.0L1099.7 668.0L1100.9 668.0L1101.9 668.1L1102.9 668.2L1104.0 668.3L1105.1 668.5L1106.2 668.6L1107.3 668.8L1108.4 669.0L1109.5 669.2L1110.5 669.4L1111.5 669.7L1112.5 669.9L1113.5 670.2L1114.4 670.4L1115.3 670.7L1116.2 670.9L1117.2 671.1L1118.1 671.3L1119.2 671.5L1120.3 671.6L1121.4 671.8L1122.4 671.8L1123.5 671.9L1124.6 671.9L1125.8 671.8L1126.9 671.8L1128.0 671.7L1129.3 671.6L1130.5 671.5L1131.6 671.5L1132.7 671.4L1133.6 671.4L1134.2 671.3" stroke="#4dbeee" stroke-width="2.9" fill="none" stroke-linejoin="round" stroke-linecap="round" clip-path="url(#cp1_5)"/>
<path d="M689.5 793.13H1137.5M689.5 787.97H1137.5M689.5 782.8H1137.5M689.5 777.64H1137.5M689.5 767.31H1137.5M689.5 762.14H1137.5M689.5 756.98H1137.5M689.5 751.81H1137.5" stroke="#cfcfcf" stroke-width="1" stroke-dasharray="1.3 2.85" fill="none"/><path d="M688.9 772.47H1137.5M770.46 746.65V798.3M852.02 746.65V798.3M933.58 746.65V798.3M1015.14 746.65V798.3M1096.7 746.65V798.3" stroke="#e2e2e2" stroke-width="1" fill="none"/>
<path d="M688.9 798.3h5M1137.5 798.3h-5M688.9 772.47h5M1137.5 772.47h-5M688.9 746.65h5M1137.5 746.65h-5M688.9 746.65v5M688.9 798.3v-5M770.46 746.65v5M770.46 798.3v-5M852.02 746.65v5M852.02 798.3v-5M933.58 746.65v5M933.58 798.3v-5M1015.14 746.65v5M1015.14 798.3v-5M1096.7 746.65v5M1096.7 798.3v-5" stroke="#262626" stroke-width="1.1" fill="none"/>
<rect x="688.9" y="746.65" width="448.6" height="51.65" fill="none" stroke="#262626" stroke-width="1.1"/>
<clipPath id="cp1_6"><rect x="687.4" y="745.15" width="451.6" height="54.65"/></clipPath>
<path d="M726.4 756.1L727.0 756.2L727.7 756.3L728.5 756.4L729.5 756.5L730.5 756.8L731.6 757.0L732.7 757.3L733.9 757.6L735.1 757.9L736.3 758.2L737.5 758.6L738.7 758.9L739.5 759.3L740.4 759.6L741.3 760.0L742.3 760.4L743.2 760.7L744.2 761.1L745.2 761.4L746.1 761.8L747.1 762.2L748.1 762.5L749.1 762.9L750.1 763.3L751.1 763.6L752.1 764.0L753.0 764.4L754.0 764.7L755.0 765.1L755.9 765.5L756.9 765.8L757.8 766.2L758.8 766.5L759.7 766.9L760.7 767.3L761.7 767.6L762.6 768.0L763.6 768.3L764.5 768.7L765.5 769.1L766.4 769.4L767.4 769.8L768.4 770.2L769.3 770.5L770.3 770.9L771.2 771.3L772.2 771.7L773.2 772.1L774.1 772.4L775.1 772.8L776.0 773.2L777.0 773.6L777.9 774.0L778.9 774.4L779.9 774.7L780.8 775.1L781.8 775.5L782.7 775.9L783.7 776.2L784.7 776.6L785.6 777.0L786.6 777.3L787.5 777.7L788.5 778.0L789.4 778.4L790.4 778.7L791.4 779.1L792.3 779.4L793.3 779.7L794.2 780.1L795.2 780.4L796.2 780.7L797.1 781.1L798.1 781.4L799.0 781.7L800.0 782.0L801.0 782.3L802.0 782.6L803.1 782.9L804.1 783.2L805.1 783.5L806.1 783.8L807.1 784.1L808.2 784.4L809.2 784.6L810.2 784.9L811.2 785.2L812.3 785.4L813.3 785.7L814.3 785.9L815.3 786.2L816.3 786.4L817.4 786.6L818.4 786.8L819.4 787.0L820.4 787.2L821.5 787.4L822.5 787.6L823.5 787.8L824.5 787.9L825.5 788.1L826.6 788.3L827.6 788.4L828.6 788.6L829.6 788.7L830.6 788.9L831.7 789.0L832.7 789.1L833.8 789.3L834.8 789.4L835.9 789.5L837.0 789.6L838.0 789.7L839.1 789.8L840.1 789.9L841.2 790.0L842.2 790.1L843.2 790.2L844.1 790.3L845.1 790.3L846.0 790.4L847.2 790.4L848.3 790.5L849.3 790.5L850.3 790.5L851.3 790.5L852.2 790.5L853.2 790.5L854.2 790.5L855.2 790.5L856.3 790.4L857.5 790.4L858.4 790.3L859.3 790.2L860.3 790.1L861.3 790.0L862.3 789.9L863.3 789.8L864.4 789.7L865.4 789.6L866.5 789.4L867.6 789.3L868.6 789.1L869.7 789.0L870.7 788.8L871.8 788.6L872.8 788.4L873.8 788.2L874.9 788.0L875.9 787.8L876.9 787.6L877.9 787.4L878.9 787.1L880.0 786.9L881.0 786.6L882.0 786.3L883.0 786.1L884.1 785.8L885.1 785.5L886.1 785.3L887.1 785.0L888.1 784.7L889.1 784.4L890.1 784.1L891.0 783.8L892.0 783.5L892.9 783.2L893.9 782.9L894.9 782.6L895.8 782.3L896.8 782.0L897.7 781.6L898.7 781.3L899.6 781.0L900.6 780.7L901.6 780.4L902.5 780.0L903.5 779.7L904.4 779.4L905.4 779.0L906.3 778.7L907.3 778.4L908.3 778.0L909.2 777.7L910.2 777.4L911.1 777.0L912.1 776.7L913.1 776.4L914.0 776.0L915.0 775.7L915.9 775.4L916.9 775.0L917.8 774.7L918.8 774.3L919.8 774.0L920.7 773.7L921.7 773.3L922.6 773.0L923.6 772.7L924.6 772.3L925.5 772.0L926.5 771.6L927.4 771.3L928.4 771.0L929.3 770.6L930.3 770.3L931.3 770.0L932.2 769.6L933.2 769.3L934.1 769.0L935.1 768.7L936.1 768.3L937.0 768.0L938.0 767.7L938.9 767.4L939.9 767.0L940.8 766.7L941.8 766.4L942.8 766.1L943.7 765.8L944.7 765.5L945.6 765.2L946.6 764.9L947.6 764.6L948.5 764.3L949.5 764.0L950.5 763.8L951.5 763.5L952.5 763.2L953.6 763.0L954.6 762.7L955.6 762.5L956.6 762.3L957.6 762.0L958.7 761.8L959.7 761.6L960.7 761.4L961.7 761.2L962.8 761.0L963.8 760.8L964.8 760.6L965.8 760.4L966.9 760.3L967.9 760.1L969.0 760.0L970.1 759.8L971.1 759.7L972.2 759.5L973.2 759.4L974.3 759.3L975.3 759.2L976.3 759.1L977.3 758.9L978.3 758.9L979.2 758.8L980.1 758.7L981.3 758.6L982.5 758.5L983.5 758.5L984.6 758.4L985.6 758.4L986.6 758.4L987.6 758.3L988.6 758.3L989.6 758.3L990.6 758.3L991.6 758.4L992.7 758.4L993.7 758.5L994.7 758.5L995.7 758.6L996.6 758.7L997.6 758.8L998.7 758.9L999.7 759.0L1000.8 759.2L1001.9 759.3L1003.1 759.5L1004.0 759.6L1005.0 759.8L1006.0 760.0L1006.9 760.2L1008.0 760.4L1009.0 760.6L1010.0 760.8L1011.1 761.1L1012.1 761.3L1013.2 761.6L1014.3 761.8L1015.3 762.1L1016.4 762.3L1017.4 762.6L1018.5 762.9L1019.4 763.2L1020.4 763.5L1021.3 763.8L1022.3 764.1L1023.3 764.4L1024.2 764.8L1025.2 765.1L1026.1 765.4L1027.1 765.8L1028.0 766.1L1029.0 766.5L1030.0 766.8L1030.9 767.2L1031.9 767.5L1032.8 767.9L1033.8 768.2L1034.8 768.6L1035.7 768.9L1036.7 769.3L1037.6 769.7L1038.6 770.0L1039.5 770.4L1040.5 770.8L1041.5 771.1L1042.4 771.5L1043.4 771.8L1044.3 772.2L1045.3 772.5L1046.2 772.9L1047.2 773.2L1048.2 773.6L1049.1 773.9L1050.1 774.2L1051.0 774.5L1052.0 774.9L1053.0 775.2L1053.9 775.5L1054.9 775.8L1055.8 776.1L1056.8 776.4L1057.7 776.6L1058.7 776.9L1059.7 777.2L1060.6 777.5L1061.6 777.8L1062.5 778.0L1063.5 778.3L1064.5 778.6L1065.5 778.8L1066.5 779.1L1067.6 779.3L1068.6 779.6L1069.6 779.8L1070.7 780.1L1071.7 780.3L1072.8 780.5L1073.8 780.8L1074.8 781.0L1075.8 781.2L1076.8 781.4L1077.8 781.6L1078.8 781.7L1079.8 781.9L1080.9 782.1L1082.0 782.2L1083.1 782.4L1084.1 782.5L1085.2 782.6L1086.2 782.7L1087.2 782.8L1088.3 782.8L1089.3 782.9L1090.3 783.0L1091.3 783.0L1092.2 783.0L1093.2 783.0L1094.3 783.0L1095.4 783.0L1096.4 783.0L1097.4 782.9L1098.5 782.9L1099.5 782.8L1100.5 782.7L1101.5 782.7L1102.5 782.5L1103.6 782.4L1104.7 782.3L1105.7 782.2L1106.6 782.0L1107.6 781.9L1108.6 781.7L1109.6 781.6L1110.7 781.4L1111.7 781.2L1112.7 781.0L1113.8 780.9L1114.9 780.7L1115.9 780.5L1117.0 780.3L1118.1 780.1L1119.1 780.0L1120.2 779.8L1121.3 779.6L1122.5 779.4L1123.7 779.3L1124.8 779.1L1126.0 778.9L1127.2 778.8L1128.3 778.7L1129.4 778.6L1130.4 778.4L1131.3 778.4L1132.2 778.3L1132.9 778.3L1133.4 778.2" stroke="#a2142f" stroke-width="2.9" fill="none" stroke-linejoin="round" stroke-linecap="round" clip-path="url(#cp1_6)"/>
<path d="M689.5 894.11H1137.5M689.5 887.73H1137.5M689.5 881.34H1137.5M689.5 868.56H1137.5M689.5 862.17H1137.5M689.5 855.79H1137.5" stroke="#cfcfcf" stroke-width="1" stroke-dasharray="1.3 2.85" fill="none"/><path d="M688.9 874.95H1137.5M770.46 849.4V900.5M852.02 849.4V900.5M933.58 849.4V900.5M1015.14 849.4V900.5M1096.7 849.4V900.5" stroke="#e2e2e2" stroke-width="1" fill="none"/>
<path d="M688.9 900.5h5M1137.5 900.5h-5M688.9 874.95h5M1137.5 874.95h-5M688.9 849.4h5M1137.5 849.4h-5M688.9 849.4v5M688.9 900.5v-5M770.46 849.4v5M770.46 900.5v-5M852.02 849.4v5M852.02 900.5v-5M933.58 849.4v5M933.58 900.5v-5M1015.14 849.4v5M1015.14 900.5v-5M1096.7 849.4v5M1096.7 900.5v-5" stroke="#262626" stroke-width="1.1" fill="none"/>
<rect x="688.9" y="849.4" width="448.6" height="51.1" fill="none" stroke="#262626" stroke-width="1.1"/>
<clipPath id="cp1_7"><rect x="687.4" y="847.9" width="451.6" height="54.1"/></clipPath>
<path d="M726.4 897.2L727.0 897.2L727.6 897.2L728.4 897.1L729.2 897.1L730.1 897.1L731.1 897.0L732.1 896.9L733.2 896.9L734.3 896.8L735.5 896.7L736.7 896.6L737.9 896.5L739.1 896.5L740.4 896.4L741.6 896.3L742.8 896.2L744.0 896.1L745.2 896.0L746.3 895.9L747.3 895.8L748.2 895.8L749.1 895.7L750.1 895.6L751.1 895.5L752.0 895.4L753.0 895.4L753.9 895.3L754.9 895.2L755.9 895.1L756.9 895.0L757.9 895.0L758.9 894.9L759.9 894.8L760.9 894.7L761.9 894.6L763.0 894.5L764.0 894.4L765.1 894.3L766.1 894.3L767.2 894.2L768.2 894.1L769.3 894.0L770.3 893.9L771.3 893.8L772.2 893.7L773.2 893.6L774.2 893.5L775.3 893.4L776.3 893.3L777.3 893.2L778.3 893.1L779.4 893.0L780.4 892.9L781.5 892.8L782.5 892.7L783.6 892.6L784.6 892.5L785.7 892.4L786.7 892.3L787.8 892.2L788.8 892.1L789.9 892.0L790.9 891.8L792.0 891.7L793.0 891.6L794.1 891.5L795.1 891.4L796.2 891.3L797.1 891.2L798.1 891.1L799.1 891.0L800.1 890.9L801.1 890.8L802.1 890.7L803.1 890.5L804.0 890.4L805.0 890.3L806.0 890.2L807.0 890.1L808.0 890.0L809.0 889.9L809.9 889.8L810.9 889.7L811.9 889.5L812.9 889.4L813.9 889.3L814.9 889.2L815.9 889.1L816.9 889.0L817.9 888.8L818.9 888.7L819.9 888.6L820.9 888.5L822.0 888.4L823.0 888.2L823.9 888.1L824.9 888.0L825.9 887.9L826.9 887.7L827.8 887.6L828.8 887.5L829.8 887.4L830.8 887.2L831.8 887.1L832.8 887.0L833.7 886.9L834.7 886.7L835.7 886.6L836.7 886.5L837.7 886.3L838.7 886.2L839.7 886.1L840.7 885.9L841.7 885.8L842.7 885.7L843.7 885.5L844.7 885.4L845.8 885.2L846.8 885.1L847.7 885.0L848.7 884.8L849.7 884.7L850.7 884.5L851.7 884.4L852.7 884.2L853.7 884.1L854.7 883.9L855.7 883.8L856.7 883.6L857.7 883.5L858.7 883.3L859.7 883.2L860.7 883.0L861.7 882.8L862.7 882.7L863.7 882.5L864.7 882.4L865.7 882.2L866.7 882.0L867.7 881.9L868.7 881.7L869.7 881.5L870.7 881.4L871.7 881.2L872.7 881.1L873.7 880.9L874.7 880.7L875.6 880.6L876.6 880.4L877.6 880.3L878.6 880.1L879.5 879.9L880.5 879.8L881.5 879.6L882.5 879.5L883.5 879.3L884.6 879.2L885.6 879.0L886.6 878.8L887.6 878.7L888.6 878.5L889.6 878.4L890.6 878.2L891.5 878.1L892.5 877.9L893.5 877.7L894.5 877.6L895.5 877.4L896.5 877.3L897.5 877.1L898.4 877.0L899.4 876.8L900.4 876.7L901.4 876.5L902.4 876.4L903.4 876.2L904.3 876.0L905.3 875.9L906.3 875.7L907.3 875.6L908.3 875.4L909.3 875.3L910.3 875.1L911.3 875.0L912.3 874.8L913.3 874.6L914.3 874.5L915.3 874.3L916.3 874.2L917.2 874.0L918.2 873.9L919.2 873.7L920.2 873.5L921.2 873.4L922.2 873.2L923.2 873.1L924.2 872.9L925.2 872.8L926.2 872.6L927.2 872.5L928.2 872.3L929.2 872.1L930.2 872.0L931.2 871.8L932.2 871.7L933.1 871.5L934.1 871.4L935.1 871.2L936.1 871.0L937.1 870.9L938.1 870.7L939.1 870.6L940.1 870.4L941.1 870.3L942.1 870.1L943.1 869.9L944.1 869.8L945.1 869.6L946.1 869.5L947.1 869.3L948.0 869.2L949.0 869.0L950.0 868.8L951.0 868.7L952.0 868.5L953.0 868.4L954.0 868.2L955.0 868.1L956.0 867.9L957.0 867.8L958.0 867.6L959.0 867.5L960.0 867.3L961.0 867.2L962.0 867.0L963.0 866.9L963.9 866.7L964.9 866.6L965.9 866.4L966.9 866.3L967.9 866.1L968.9 866.0L969.9 865.8L970.9 865.7L971.9 865.5L972.9 865.4L973.9 865.2L974.9 865.1L975.9 865.0L976.9 864.8L977.9 864.7L978.9 864.5L979.8 864.4L980.8 864.3L981.8 864.1L982.8 864.0L983.8 863.9L984.8 863.7L985.8 863.6L986.8 863.5L987.8 863.3L988.8 863.2L989.8 863.1L990.8 863.0L991.8 862.8L992.8 862.7L993.8 862.6L994.8 862.5L995.7 862.3L996.7 862.2L997.7 862.1L998.7 862.0L999.7 861.9L1000.7 861.8L1001.7 861.7L1002.7 861.5L1003.7 861.4L1004.7 861.3L1005.7 861.2L1006.7 861.1L1007.7 861.0L1008.7 860.9L1009.7 860.8L1010.7 860.7L1011.6 860.6L1012.6 860.5L1013.6 860.4L1014.6 860.2L1015.7 860.1L1016.7 860.0L1017.7 859.9L1018.8 859.8L1019.8 859.7L1020.8 859.6L1021.9 859.5L1022.9 859.4L1023.9 859.3L1024.9 859.2L1026.0 859.1L1027.0 859.0L1028.0 858.9L1029.1 858.8L1030.1 858.7L1031.1 858.6L1032.2 858.5L1033.2 858.4L1034.2 858.3L1035.3 858.2L1036.3 858.1L1037.3 858.0L1038.4 857.9L1039.4 857.8L1040.4 857.7L1041.5 857.6L1042.5 857.5L1043.5 857.4L1044.6 857.3L1045.6 857.2L1046.7 857.1L1047.7 857.0L1048.8 856.9L1049.8 856.8L1050.9 856.7L1052.0 856.6L1053.0 856.5L1054.1 856.4L1055.1 856.4L1056.2 856.3L1057.2 856.2L1058.2 856.1L1059.3 856.0L1060.3 855.9L1061.3 855.8L1062.4 855.7L1063.4 855.7L1064.4 855.6L1065.4 855.5L1066.4 855.4L1067.3 855.3L1068.3 855.3L1069.4 855.2L1070.4 855.1L1071.5 855.0L1072.5 855.0L1073.5 854.9L1074.6 854.8L1075.6 854.7L1076.6 854.7L1077.6 854.6L1078.6 854.5L1079.5 854.5L1080.5 854.4L1081.5 854.3L1082.5 854.3L1083.4 854.2L1084.4 854.1L1085.4 854.1L1086.4 854.0L1087.3 854.0L1088.3 853.9L1089.3 853.9L1090.3 853.8L1091.3 853.7L1092.3 853.7L1093.3 853.7L1094.3 853.6L1095.3 853.6L1096.4 853.5L1097.4 853.5L1098.4 853.4L1099.4 853.4L1100.5 853.4L1101.5 853.3L1102.5 853.3L1103.5 853.3L1104.6 853.2L1105.6 853.2L1106.6 853.2L1107.6 853.2L1108.6 853.1L1109.5 853.1L1110.5 853.1L1111.5 853.0L1112.4 853.0L1113.4 853.0L1114.3 853.0L1115.4 852.9L1116.6 852.9L1117.7 852.9L1118.9 852.9L1120.1 852.8L1121.3 852.8L1122.4 852.8L1123.6 852.8L1124.7 852.7L1125.9 852.7L1126.9 852.7L1128.0 852.7L1128.9 852.7L1129.9 852.7L1130.7 852.7L1131.5 852.6L1132.3 852.6L1132.9 852.6L1133.4 852.6" stroke="#0072bd" stroke-width="2.9" fill="none" stroke-linejoin="round" stroke-linecap="round" clip-path="url(#cp1_7)"/>
<defs><filter id="gs" x="0" y="0" width="1200" height="1022" filterUnits="userSpaceOnUse"><feColorMatrix type="saturate" values="0"/></filter></defs>
<g filter="url(#gs)">
<text x="303.5" y="97.3" font-size="17.9" text-anchor="middle" fill="#000" stroke="#000" stroke-width="0.25">EMD Decomposition of Original Signal for Canada</text>
<text x="313.93" y="129.2" font-size="11.6" font-weight="bold" letter-spacing="0.22" text-anchor="middle" fill="#000" stroke="#000" stroke-width="0.25">Original Time Series</text>
<text x="313.93" y="215.25" font-size="12.1" text-anchor="middle" fill="#000" stroke="#000" stroke-width="0.3">Date</text>
<text x="139.5" y="200.05" font-size="10.9" text-anchor="middle" fill="#000" stroke="#000" stroke-width="0.3">2019</text>
<text x="228.6" y="200.05" font-size="10.9" text-anchor="middle" fill="#000" stroke="#000" stroke-width="0.3">2020</text>
<text x="318.4" y="200.05" font-size="10.9" text-anchor="middle" fill="#000" stroke="#000" stroke-width="0.3">2021</text>
<text x="407.4" y="200.05" font-size="10.9" text-anchor="middle" fill="#000" stroke="#000" stroke-width="0.3">2022</text>
<text x="496.5" y="200.05" font-size="10.9" text-anchor="middle" fill="#000" stroke="#000" stroke-width="0.3">2023</text>
<text x="86.85" y="190.7" font-size="10.8" text-anchor="end" fill="#000" stroke="#000" stroke-width="0.3">1</text>
<text x="86.85" y="169.25" font-size="10.8" text-anchor="end" fill="#000" stroke="#000" stroke-width="0.3">1.5</text>
<text x="86.85" y="147.81" font-size="10.8" text-anchor="end" fill="#000" stroke="#000" stroke-width="0.3">2</text>
<text transform="translate(67 160.85) rotate(-90)" font-size="11.4" letter-spacing="0.35" font-weight="bold" text-anchor="middle" fill="#000" stroke="#000" stroke-width="0.3">Original</text>
<text x="99.35" y="131.7" font-size="10.9" fill="#000" stroke="#000" stroke-width="0.2">10<tspan dy="-5.0" dx="0.3" font-size="9.3">4</tspan></text>
<path d="M91.15 126l5.6 5.6m0 -5.6l-5.6 5.6" stroke="#000" stroke-width="0.9" fill="none"/>
<text x="313.93" y="231.3" font-size="11.6" font-weight="bold" letter-spacing="0.22" text-anchor="middle" fill="#000" stroke="#000" stroke-width="0.25">IMF 1</text>
<text x="313.93" y="317.55" font-size="12.1" text-anchor="middle" fill="#000" stroke="#000" stroke-width="0.3">Date</text>
<text x="139.5" y="302.35" font-size="10.9" text-anchor="middle" fill="#000" stroke="#000" stroke-width="0.3">2019</text>
<text x="228.6" y="302.35" font-size="10.9" text-anchor="middle" fill="#000" stroke="#000" stroke-width="0.3">2020</text>
<text x="318.4" y="302.35" font-size="10.9" text-anchor="middle" fill="#000" stroke="#000" stroke-width="0.3">2021</text>
<text x="407.4" y="302.35" font-size="10.9" text-anchor="middle" fill="#000" stroke="#000" stroke-width="0.3">2022</text>
<text x="496.5" y="302.35" font-size="10.9" text-anchor="middle" fill="#000" stroke="#000" stroke-width="0.3">2023</text>
<text x="86.85" y="292.7" font-size="10.8" text-anchor="end" fill="#000" stroke="#000" stroke-width="0.3">-1000</text>
<text x="86.85" y="266.95" font-size="10.8" text-anchor="end" fill="#000" stroke="#000" stroke-width="0.3">0</text>
<text x="86.85" y="241.2" font-size="10.8" text-anchor="end" fill="#000" stroke="#000" stroke-width="0.3">1000</text>
<text transform="translate(53.8 263.05) rotate(-90)" font-size="12.1" letter-spacing="0" text-anchor="middle" fill="#000" stroke="#000" stroke-width="0.3">IMF 1</text>
<text x="313.93" y="333.4" font-size="11.6" font-weight="bold" letter-spacing="0.22" text-anchor="middle" fill="#000" stroke="#000" stroke-width="0.25">IMF 2</text>
<text x="313.93" y="419.05" font-size="12.1" text-anchor="middle" fill="#000" stroke="#000" stroke-width="0.3">Date</text>
<text x="139.5" y="403.85" font-size="10.9" text-anchor="middle" fill="#000" stroke="#000" stroke-width="0.3">2019</text>
<text x="228.6" y="403.85" font-size="10.9" text-anchor="middle" fill="#000" stroke="#000" stroke-width="0.3">2020</text>
<text x="318.4" y="403.85" font-size="10.9" text-anchor="middle" fill="#000" stroke="#000" stroke-width="0.3">2021</text>
<text x="407.4" y="403.85" font-size="10.9" text-anchor="middle" fill="#000" stroke="#000" stroke-width="0.3">2022</text>
<text x="496.5" y="403.85" font-size="10.9" text-anchor="middle" fill="#000" stroke="#000" stroke-width="0.3">2023</text>
<text x="86.85" y="390.45" font-size="10.8" text-anchor="end" fill="#000" stroke="#000" stroke-width="0.3">-500</text>
<text x="86.85" y="367.32" font-size="10.8" text-anchor="end" fill="#000" stroke="#000" stroke-width="0.3">0</text>
<text x="86.85" y="344.18" font-size="10.8" text-anchor="end" fill="#000" stroke="#000" stroke-width="0.3">500</text>
<text transform="translate(59.9 364.85) rotate(-90)" font-size="12.1" letter-spacing="0" text-anchor="middle" fill="#000" stroke="#000" stroke-width="0.3">IMF 2</text>
<text x="313.93" y="434.7" font-size="11.6" font-weight="bold" letter-spacing="0.22" text-anchor="middle" fill="#000" stroke="#000" stroke-width="0.25">IMF 3</text>
<text x="313.93" y="521.05" font-size="12.1" text-anchor="middle" fill="#000" stroke="#000" stroke-width="0.3">Date</text>
<text x="139.5" y="505.85" font-size="10.9" text-anchor="middle" fill="#000" stroke="#000" stroke-width="0.3">2019</text>
<text x="228.6" y="505.85" font-size="10.9" text-anchor="middle" fill="#000" stroke="#000" stroke-width="0.3">2020</text>
<text x="318.4" y="505.85" font-size="10.9" text-anchor="middle" fill="#000" stroke="#000" stroke-width="0.3">2021</text>
<text x="407.4" y="505.85" font-size="10.9" text-anchor="middle" fill="#000" stroke="#000" stroke-width="0.3">2022</text>
<text x="496.5" y="505.85" font-size="10.9" text-anchor="middle" fill="#000" stroke="#000" stroke-width="0.3">2023</text>
<text x="86.85" y="493.05" font-size="10.8" text-anchor="end" fill="#000" stroke="#000" stroke-width="0.3">-2000</text>
<text x="86.85" y="469.85" font-size="10.8" text-anchor="end" fill="#000" stroke="#000" stroke-width="0.3">0</text>
<text x="86.85" y="446.65" font-size="10.8" text-anchor="end" fill="#000" stroke="#000" stroke-width="0.3">2000</text>
<text transform="translate(53.8 466.5) rotate(-90)" font-size="12.1" letter-spacing="0" text-anchor="middle" fill="#000" stroke="#000" stroke-width="0.3">IMF 3</text>
<text x="313.93" y="537.3" font-size="11.6" font-weight="bold" letter-spacing="0.22" text-anchor="middle" fill="#000" stroke="#000" stroke-width="0.25">IMF 4</text>
<text x="313.93" y="623.25" font-size="12.1" text-anchor="middle" fill="#000" stroke="#000" stroke-width="0.3">Date</text>
<text x="139.5" y="608.05" font-size="10.9" text-anchor="middle" fill="#000" stroke="#000" stroke-width="0.3">2019</text>
<text x="228.6" y="608.05" font-size="10.9" text-anchor="middle" fill="#000" stroke="#000" stroke-width="0.3">2020</text>
<text x="318.4" y="608.05" font-size="10.9" text-anchor="middle" fill="#000" stroke="#000" stroke-width="0.3">2021</text>
<text x="407.4" y="608.05" font-size="10.9" text-anchor="middle" fill="#000" stroke="#000" stroke-width="0.3">2022</text>
<text x="496.5" y="608.05" font-size="10.9" text-anchor="middle" fill="#000" stroke="#000" stroke-width="0.3">2023</text>
<text x="86.85" y="598.4" font-size="10.8" text-anchor="end" fill="#000" stroke="#000" stroke-width="0.3">-2000</text>
<text x="86.85" y="582.7" font-size="10.8" text-anchor="end" fill="#000" stroke="#000" stroke-width="0.3">-1000</text>
<text x="86.85" y="567" font-size="10.8" text-anchor="end" fill="#000" stroke="#000" stroke-width="0.3">0</text>
<text x="86.85" y="551.3" font-size="10.8" text-anchor="end" fill="#000" stroke="#000" stroke-width="0.3">1000</text>
<text transform="translate(53.8 568.9) rotate(-90)" font-size="12.1" letter-spacing="0" text-anchor="middle" fill="#000" stroke="#000" stroke-width="0.3">IMF 4</text>
<text x="313.93" y="639.4" font-size="11.6" font-weight="bold" letter-spacing="0.22" text-anchor="middle" fill="#000" stroke="#000" stroke-width="0.25">IMF 5</text>
<text x="313.93" y="724.95" font-size="12.1" text-anchor="middle" fill="#000" stroke="#000" stroke-width="0.3">Date</text>
<text x="139.5" y="709.75" font-size="10.9" text-anchor="middle" fill="#000" stroke="#000" stroke-width="0.3">2019</text>
<text x="228.6" y="709.75" font-size="10.9" text-anchor="middle" fill="#000" stroke="#000" stroke-width="0.3">2020</text>
<text x="318.4" y="709.75" font-size="10.9" text-anchor="middle" fill="#000" stroke="#000" stroke-width="0.3">2021</text>
<text x="407.4" y="709.75" font-size="10.9" text-anchor="middle" fill="#000" stroke="#000" stroke-width="0.3">2022</text>
<text x="496.5" y="709.75" font-size="10.9" text-anchor="middle" fill="#000" stroke="#000" stroke-width="0.3">2023</text>
<text x="86.85" y="700.1" font-size="10.8" text-anchor="end" fill="#000" stroke="#000" stroke-width="0.3">-2000</text>
<text x="86.85" y="674.7" font-size="10.8" text-anchor="end" fill="#000" stroke="#000" stroke-width="0.3">0</text>
<text x="86.85" y="649.3" font-size="10.8" text-anchor="end" fill="#000" stroke="#000" stroke-width="0.3">2000</text>
<text transform="translate(53.8 670.8) rotate(-90)" font-size="12.1" letter-spacing="0" text-anchor="middle" fill="#000" stroke="#000" stroke-width="0.3">IMF 5</text>
<text x="313.93" y="740.65" font-size="11.6" font-weight="bold" letter-spacing="0.22" text-anchor="middle" fill="#000" stroke="#000" stroke-width="0.25">IMF 6</text>
<text x="313.93" y="827.05" font-size="12.1" text-anchor="middle" fill="#000" stroke="#000" stroke-width="0.3">Date</text>
<text x="139.5" y="811.85" font-size="10.9" text-anchor="middle" fill="#000" stroke="#000" stroke-width="0.3">2019</text>
<text x="228.6" y="811.85" font-size="10.9" text-anchor="middle" fill="#000" stroke="#000" stroke-width="0.3">2020</text>
<text x="318.4" y="811.85" font-size="10.9" text-anchor="middle" fill="#000" stroke="#000" stroke-width="0.3">2021</text>
<text x="407.4" y="811.85" font-size="10.9" text-anchor="middle" fill="#000" stroke="#000" stroke-width="0.3">2022</text>
<text x="496.5" y="811.85" font-size="10.9" text-anchor="middle" fill="#000" stroke="#000" stroke-width="0.3">2023</text>
<text x="86.85" y="802.2" font-size="10.8" text-anchor="end" fill="#000" stroke="#000" stroke-width="0.3">-500</text>
<text x="86.85" y="776.37" font-size="10.8" text-anchor="end" fill="#000" stroke="#000" stroke-width="0.3">0</text>
<text x="86.85" y="750.55" font-size="10.8" text-anchor="end" fill="#000" stroke="#000" stroke-width="0.3">500</text>
<text transform="translate(59.9 772.47) rotate(-90)" font-size="12.1" letter-spacing="0" text-anchor="middle" fill="#000" stroke="#000" stroke-width="0.3">IMF 6</text>
<text x="313.93" y="843.4" font-size="11.6" font-weight="bold" letter-spacing="0.22" text-anchor="middle" fill="#000" stroke="#000" stroke-width="0.25">RESIDUAL</text>
<text x="313.93" y="929.25" font-size="12.1" text-anchor="middle" fill="#000" stroke="#000" stroke-width="0.3">Date</text>
<text x="139.5" y="914.05" font-size="10.9" text-anchor="middle" fill="#000" stroke="#000" stroke-width="0.3">2019</text>
<text x="228.6" y="914.05" font-size="10.9" text-anchor="middle" fill="#000" stroke="#000" stroke-width="0.3">2020</text>
<text x="318.4" y="914.05" font-size="10.9" text-anchor="middle" fill="#000" stroke="#000" stroke-width="0.3">2021</text>
<text x="407.4" y="914.05" font-size="10.9" text-anchor="middle" fill="#000" stroke="#000" stroke-width="0.3">2022</text>
<text x="496.5" y="914.05" font-size="10.9" text-anchor="middle" fill="#000" stroke="#000" stroke-width="0.3">2023</text>
<text x="86.85" y="904.4" font-size="10.8" text-anchor="end" fill="#000" stroke="#000" stroke-width="0.3">1.5</text>
<text x="86.85" y="855.08" font-size="10.8" text-anchor="end" fill="#000" stroke="#000" stroke-width="0.3">2</text>
<text transform="translate(66.9 874.95) rotate(-90)" font-size="12.1" letter-spacing="0" text-anchor="middle" fill="#000" stroke="#000" stroke-width="0.3">RES</text>
<text x="99.35" y="845.9" font-size="10.9" fill="#000" stroke="#000" stroke-width="0.2">10<tspan dy="-5.0" dx="0.3" font-size="9.3">4</tspan></text>
<path d="M91.15 840.2l5.6 5.6m0 -5.6l-5.6 5.6" stroke="#000" stroke-width="0.9" fill="none"/>
<text x="902.5" y="97.3" font-size="17.9" text-anchor="middle" fill="#000" stroke="#000" stroke-width="0.25">EMD Decomposition of Original Signal for The United States</text>
<text x="913.2" y="129.2" font-size="11.6" font-weight="bold" letter-spacing="0.22" text-anchor="middle" fill="#000" stroke="#000" stroke-width="0.25">Original Time Series</text>
<text x="913.2" y="215.25" font-size="12.1" text-anchor="middle" fill="#000" stroke="#000" stroke-width="0.3">Date</text>
<text x="688.9" y="200.05" font-size="10.9" text-anchor="middle" fill="#000" stroke="#000" stroke-width="0.3">2018</text>
<text x="770.46" y="200.05" font-size="10.9" text-anchor="middle" fill="#000" stroke="#000" stroke-width="0.3">2019</text>
<text x="852.02" y="200.05" font-size="10.9" text-anchor="middle" fill="#000" stroke="#000" stroke-width="0.3">2020</text>
<text x="933.58" y="200.05" font-size="10.9" text-anchor="middle" fill="#000" stroke="#000" stroke-width="0.3">2021</text>
<text x="1015.14" y="200.05" font-size="10.9" text-anchor="middle" fill="#000" stroke="#000" stroke-width="0.3">2022</text>
<text x="1096.7" y="200.05" font-size="10.9" text-anchor="middle" fill="#000" stroke="#000" stroke-width="0.3">2023</text>
<text x="686" y="183.53" font-size="10.8" text-anchor="end" fill="#000" stroke="#000" stroke-width="0.3">1</text>
<text x="686" y="153.41" font-size="10.8" text-anchor="end" fill="#000" stroke="#000" stroke-width="0.3">1.5</text>
<text transform="translate(666.7 160.85) rotate(-90)" font-size="11.4" letter-spacing="0.35" font-weight="bold" text-anchor="middle" fill="#000" stroke="#000" stroke-width="0.3">Original</text>
<text x="698.5" y="131.7" font-size="10.9" fill="#000" stroke="#000" stroke-width="0.2">10<tspan dy="-5.0" dx="0.3" font-size="9.3">4</tspan></text>
<path d="M690.3 126l5.6 5.6m0 -5.6l-5.6 5.6" stroke="#000" stroke-width="0.9" fill="none"/>
<text x="913.2" y="231.3" font-size="11.6" font-weight="bold" letter-spacing="0.22" text-anchor="middle" fill="#000" stroke="#000" stroke-width="0.25">IMF 1</text>
<text x="913.2" y="317.55" font-size="12.1" text-anchor="middle" fill="#000" stroke="#000" stroke-width="0.3">Date</text>
<text x="688.9" y="302.35" font-size="10.9" text-anchor="middle" fill="#000" stroke="#000" stroke-width="0.3">2018</text>
<text x="770.46" y="302.35" font-size="10.9" text-anchor="middle" fill="#000" stroke="#000" stroke-width="0.3">2019</text>
<text x="852.02" y="302.35" font-size="10.9" text-anchor="middle" fill="#000" stroke="#000" stroke-width="0.3">2020</text>
<text x="933.58" y="302.35" font-size="10.9" text-anchor="middle" fill="#000" stroke="#000" stroke-width="0.3">2021</text>
<text x="1015.14" y="302.35" font-size="10.9" text-anchor="middle" fill="#000" stroke="#000" stroke-width="0.3">2022</text>
<text x="1096.7" y="302.35" font-size="10.9" text-anchor="middle" fill="#000" stroke="#000" stroke-width="0.3">2023</text>
<text x="686" y="288.51" font-size="10.8" text-anchor="end" fill="#000" stroke="#000" stroke-width="0.3">-500</text>
<text x="686" y="265.74" font-size="10.8" text-anchor="end" fill="#000" stroke="#000" stroke-width="0.3">0</text>
<text x="686" y="242.98" font-size="10.8" text-anchor="end" fill="#000" stroke="#000" stroke-width="0.3">500</text>
<text transform="translate(659.8 263.05) rotate(-90)" font-size="12.1" letter-spacing="0" text-anchor="middle" fill="#000" stroke="#000" stroke-width="0.3">IMF 1</text>
<text x="913.2" y="333.4" font-size="11.6" font-weight="bold" letter-spacing="0.22" text-anchor="middle" fill="#000" stroke="#000" stroke-width="0.25">IMF 2</text>
<text x="913.2" y="419.05" font-size="12.1" text-anchor="middle" fill="#000" stroke="#000" stroke-width="0.3">Date</text>
<text x="688.9" y="403.85" font-size="10.9" text-anchor="middle" fill="#000" stroke="#000" stroke-width="0.3">2018</text>
<text x="770.46" y="403.85" font-size="10.9" text-anchor="middle" fill="#000" stroke="#000" stroke-width="0.3">2019</text>
<text x="852.02" y="403.85" font-size="10.9" text-anchor="middle" fill="#000" stroke="#000" stroke-width="0.3">2020</text>
<text x="933.58" y="403.85" font-size="10.9" text-anchor="middle" fill="#000" stroke="#000" stroke-width="0.3">2021</text>
<text x="1015.14" y="403.85" font-size="10.9" text-anchor="middle" fill="#000" stroke="#000" stroke-width="0.3">2022</text>
<text x="1096.7" y="403.85" font-size="10.9" text-anchor="middle" fill="#000" stroke="#000" stroke-width="0.3">2023</text>
<text x="686" y="394.2" font-size="10.8" text-anchor="end" fill="#000" stroke="#000" stroke-width="0.3">-1000</text>
<text x="686" y="368.75" font-size="10.8" text-anchor="end" fill="#000" stroke="#000" stroke-width="0.3">0</text>
<text x="686" y="343.3" font-size="10.8" text-anchor="end" fill="#000" stroke="#000" stroke-width="0.3">1000</text>
<text transform="translate(653.3 364.85) rotate(-90)" font-size="12.1" letter-spacing="0" text-anchor="middle" fill="#000" stroke="#000" stroke-width="0.3">IMF 2</text>
<text x="913.2" y="434.7" font-size="11.6" font-weight="bold" letter-spacing="0.22" text-anchor="middle" fill="#000" stroke="#000" stroke-width="0.25">IMF 3</text>
<text x="913.2" y="521.05" font-size="12.1" text-anchor="middle" fill="#000" stroke="#000" stroke-width="0.3">Date</text>
<text x="688.9" y="505.85" font-size="10.9" text-anchor="middle" fill="#000" stroke="#000" stroke-width="0.3">2018</text>
<text x="770.46" y="505.85" font-size="10.9" text-anchor="middle" fill="#000" stroke="#000" stroke-width="0.3">2019</text>
<text x="852.02" y="505.85" font-size="10.9" text-anchor="middle" fill="#000" stroke="#000" stroke-width="0.3">2020</text>
<text x="933.58" y="505.85" font-size="10.9" text-anchor="middle" fill="#000" stroke="#000" stroke-width="0.3">2021</text>
<text x="1015.14" y="505.85" font-size="10.9" text-anchor="middle" fill="#000" stroke="#000" stroke-width="0.3">2022</text>
<text x="1096.7" y="505.85" font-size="10.9" text-anchor="middle" fill="#000" stroke="#000" stroke-width="0.3">2023</text>
<text x="686" y="492.8" font-size="10.8" text-anchor="end" fill="#000" stroke="#000" stroke-width="0.3">-1000</text>
<text x="686" y="479.3" font-size="10.8" text-anchor="end" fill="#000" stroke="#000" stroke-width="0.3">-500</text>
<text x="686" y="465.8" font-size="10.8" text-anchor="end" fill="#000" stroke="#000" stroke-width="0.3">0</text>
<text x="686" y="452.3" font-size="10.8" text-anchor="end" fill="#000" stroke="#000" stroke-width="0.3">500</text>
<text transform="translate(653.3 466.5) rotate(-90)" font-size="12.1" letter-spacing="0" text-anchor="middle" fill="#000" stroke="#000" stroke-width="0.3">IMF 3</text>
<text x="913.2" y="537.3" font-size="11.6" font-weight="bold" letter-spacing="0.22" text-anchor="middle" fill="#000" stroke="#000" stroke-width="0.25">IMF 4</text>
<text x="913.2" y="623.25" font-size="12.1" text-anchor="middle" fill="#000" stroke="#000" stroke-width="0.3">Date</text>
<text x="688.9" y="608.05" font-size="10.9" text-anchor="middle" fill="#000" stroke="#000" stroke-width="0.3">2018</text>
<text x="770.46" y="608.05" font-size="10.9" text-anchor="middle" fill="#000" stroke="#000" stroke-width="0.3">2019</text>
<text x="852.02" y="608.05" font-size="10.9" text-anchor="middle" fill="#000" stroke="#000" stroke-width="0.3">2020</text>
<text x="933.58" y="608.05" font-size="10.9" text-anchor="middle" fill="#000" stroke="#000" stroke-width="0.3">2021</text>
<text x="1015.14" y="608.05" font-size="10.9" text-anchor="middle" fill="#000" stroke="#000" stroke-width="0.3">2022</text>
<text x="1096.7" y="608.05" font-size="10.9" text-anchor="middle" fill="#000" stroke="#000" stroke-width="0.3">2023</text>
<text x="686" y="598.4" font-size="10.8" text-anchor="end" fill="#000" stroke="#000" stroke-width="0.3">-2000</text>
<text x="686" y="572.8" font-size="10.8" text-anchor="end" fill="#000" stroke="#000" stroke-width="0.3">0</text>
<text x="686" y="547.2" font-size="10.8" text-anchor="end" fill="#000" stroke="#000" stroke-width="0.3">2000</text>
<text transform="translate(653.3 568.9) rotate(-90)" font-size="12.1" letter-spacing="0" text-anchor="middle" fill="#000" stroke="#000" stroke-width="0.3">IMF 4</text>
<text x="913.2" y="639.4" font-size="11.6" font-weight="bold" letter-spacing="0.22" text-anchor="middle" fill="#000" stroke="#000" stroke-width="0.25">IMF 5</text>
<text x="913.2" y="724.95" font-size="12.1" text-anchor="middle" fill="#000" stroke="#000" stroke-width="0.3">Date</text>
<text x="688.9" y="709.75" font-size="10.9" text-anchor="middle" fill="#000" stroke="#000" stroke-width="0.3">2018</text>
<text x="770.46" y="709.75" font-size="10.9" text-anchor="middle" fill="#000" stroke="#000" stroke-width="0.3">2019</text>
<text x="852.02" y="709.75" font-size="10.9" text-anchor="middle" fill="#000" stroke="#000" stroke-width="0.3">2020</text>
<text x="933.58" y="709.75" font-size="10.9" text-anchor="middle" fill="#000" stroke="#000" stroke-width="0.3">2021</text>
<text x="1015.14" y="709.75" font-size="10.9" text-anchor="middle" fill="#000" stroke="#000" stroke-width="0.3">2022</text>
<text x="1096.7" y="709.75" font-size="10.9" text-anchor="middle" fill="#000" stroke="#000" stroke-width="0.3">2023</text>
<text x="686" y="700.1" font-size="10.8" text-anchor="end" fill="#000" stroke="#000" stroke-width="0.3">-2000</text>
<text x="686" y="674.7" font-size="10.8" text-anchor="end" fill="#000" stroke="#000" stroke-width="0.3">0</text>
<text x="686" y="649.3" font-size="10.8" text-anchor="end" fill="#000" stroke="#000" stroke-width="0.3">2000</text>
<text transform="translate(653.3 670.8) rotate(-90)" font-size="12.1" letter-spacing="0" text-anchor="middle" fill="#000" stroke="#000" stroke-width="0.3">IMF 5</text>
<text x="913.2" y="740.65" font-size="11.6" font-weight="bold" letter-spacing="0.22" text-anchor="middle" fill="#000" stroke="#000" stroke-width="0.25">IMF 6</text>
<text x="913.2" y="827.05" font-size="12.1" text-anchor="middle" fill="#000" stroke="#000" stroke-width="0.3">Date</text>
<text x="688.9" y="811.85" font-size="10.9" text-anchor="middle" fill="#000" stroke="#000" stroke-width="0.3">2018</text>
<text x="770.46" y="811.85" font-size="10.9" text-anchor="middle" fill="#000" stroke="#000" stroke-width="0.3">2019</text>
<text x="852.02" y="811.85" font-size="10.9" text-anchor="middle" fill="#000" stroke="#000" stroke-width="0.3">2020</text>
<text x="933.58" y="811.85" font-size="10.9" text-anchor="middle" fill="#000" stroke="#000" stroke-width="0.3">2021</text>
<text x="1015.14" y="811.85" font-size="10.9" text-anchor="middle" fill="#000" stroke="#000" stroke-width="0.3">2022</text>
<text x="1096.7" y="811.85" font-size="10.9" text-anchor="middle" fill="#000" stroke="#000" stroke-width="0.3">2023</text>
<text x="686" y="802.2" font-size="10.8" text-anchor="end" fill="#000" stroke="#000" stroke-width="0.3">-1000</text>
<text x="686" y="776.37" font-size="10.8" text-anchor="end" fill="#000" stroke="#000" stroke-width="0.3">0</text>
<text x="686" y="750.55" font-size="10.8" text-anchor="end" fill="#000" stroke="#000" stroke-width="0.3">1000</text>
<text transform="translate(653.3 772.47) rotate(-90)" font-size="12.1" letter-spacing="0" text-anchor="middle" fill="#000" stroke="#000" stroke-width="0.3">IMF 6</text>
<text x="913.2" y="843.4" font-size="11.6" font-weight="bold" letter-spacing="0.22" text-anchor="middle" fill="#000" stroke="#000" stroke-width="0.25">RESIDUAL</text>
<text x="913.2" y="929.25" font-size="12.1" text-anchor="middle" fill="#000" stroke="#000" stroke-width="0.3">Date</text>
<text x="688.9" y="914.05" font-size="10.9" text-anchor="middle" fill="#000" stroke="#000" stroke-width="0.3">2018</text>
<text x="770.46" y="914.05" font-size="10.9" text-anchor="middle" fill="#000" stroke="#000" stroke-width="0.3">2019</text>
<text x="852.02" y="914.05" font-size="10.9" text-anchor="middle" fill="#000" stroke="#000" stroke-width="0.3">2020</text>
<text x="933.58" y="914.05" font-size="10.9" text-anchor="middle" fill="#000" stroke="#000" stroke-width="0.3">2021</text>
<text x="1015.14" y="914.05" font-size="10.9" text-anchor="middle" fill="#000" stroke="#000" stroke-width="0.3">2022</text>
<text x="1096.7" y="914.05" font-size="10.9" text-anchor="middle" fill="#000" stroke="#000" stroke-width="0.3">2023</text>
<text x="686" y="904.4" font-size="10.8" text-anchor="end" fill="#000" stroke="#000" stroke-width="0.3">1.2</text>
<text x="686" y="878.85" font-size="10.8" text-anchor="end" fill="#000" stroke="#000" stroke-width="0.3">1.4</text>
<text x="686" y="853.3" font-size="10.8" text-anchor="end" fill="#000" stroke="#000" stroke-width="0.3">1.6</text>
<text transform="translate(666.7 874.95) rotate(-90)" font-size="12.1" letter-spacing="0" text-anchor="middle" fill="#000" stroke="#000" stroke-width="0.3">RES</text>
<text x="698.5" y="845.9" font-size="10.9" fill="#000" stroke="#000" stroke-width="0.2">10<tspan dy="-5.0" dx="0.3" font-size="9.3">4</tspan></text>
<path d="M690.3 840.2l5.6 5.6m0 -5.6l-5.6 5.6" stroke="#000" stroke-width="0.9" fill="none"/>
<text x="300.3" y="27.4" font-family="'Liberation Serif', serif" font-size="27.8" text-anchor="middle" fill="#000" stroke="#000" stroke-width="0.3">(a)</text>
<text x="899.6" y="27.4" font-family="'Liberation Serif', serif" font-size="27.8" text-anchor="middle" fill="#000" stroke="#000" stroke-width="0.3">(b)</text>
</g>
<rect x="0" y="0" width="1200" height="1.1" fill="#000"/><rect x="0" y="0" width="1.3" height="1022" fill="#000"/><rect x="0" y="33.35" width="1200" height="1.6" fill="#0a0a0a"/><rect x="599.15" y="0" width="1.65" height="1022" fill="#1c1c1c"/><rect x="1198.35" y="0" width="1.65" height="1022" fill="#3a3a3a"/><rect x="0" y="1020.8" width="1200" height="1.2" fill="#000"/>
</svg>
</body></html>
